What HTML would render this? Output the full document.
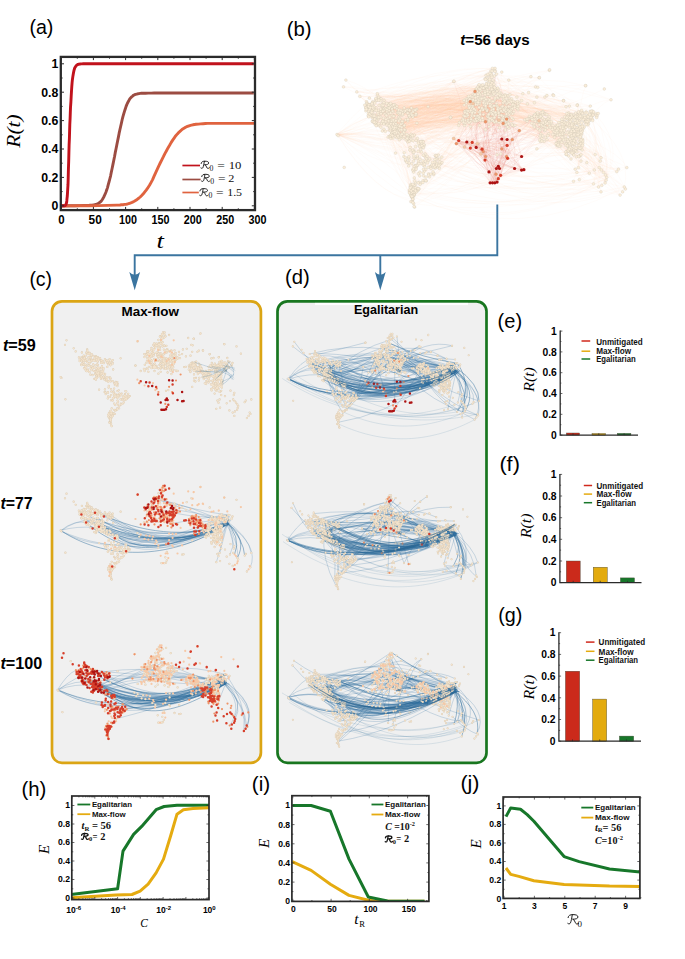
<!DOCTYPE html>
<html><head><meta charset="utf-8"><title>figure</title>
<style>
html,body{margin:0;padding:0;background:#fff;}
body{width:685px;height:959px;overflow:hidden;font-family:"Liberation Sans",sans-serif;}
svg{display:block;}
</style></head><body>
<svg width="685" height="959" viewBox="0 0 685 959">
<rect width="685" height="959" fill="#fff"/>
<text x="29.4" y="33.8" font-family='"Liberation Sans", sans-serif' font-size="20.5" textLength="24" lengthAdjust="spacingAndGlyphs" >(a)</text>
<g id="pa">
<path d="M61.2 205.8 L65.8 205.8 L70.4 205.7 L75 205.7 L79.6 205.6 L84.2 205.5 L88.8 205.4 L89.9 205.3 L91.1 205.2 L92.3 205.1 L93.4 204.9 L94.6 204.7 L95.8 204.4 L96.6 204.2 L97.3 203.9 L98.1 203.5 L98.9 203 L99.7 202.5 L100.4 201.9 L101.2 201.1 L102 200.1 L102.8 198.8 L103.6 197.4 L104.3 195.8 L105.1 194.2 L105.9 192.3 L106.7 190.1 L107.5 187.6 L108.2 184.8 L109 182 L109.8 179 L110.6 175.8 L111.3 172.2 L112.1 168.5 L112.9 164.6 L113.7 160.7 L114.5 156.8 L115.2 152.9 L116 149 L116.8 145 L117.6 141 L118.4 137.1 L119.1 133.4 L119.9 129.8 L120.7 126.3 L121.5 122.8 L122.2 119.5 L123 116.4 L123.8 113.6 L124.4 111.6 L125 109.8 L125.6 108 L126.1 106.4 L126.7 104.9 L127.3 103.5 L127.9 102.3 L128.5 101.2 L129.1 100.1 L129.6 99.2 L130.2 98.4 L130.8 97.7 L131.6 96.9 L132.4 96.3 L133.1 95.6 L133.9 95.1 L134.7 94.7 L135.5 94.4 L136.7 94.1 L137.8 93.8 L139 93.6 L140.2 93.4 L141.3 93.3 L142.5 93.3 L145.4 93.2 L148.3 93.1 L151.2 93.1 L154.2 93 L157.1 93 L160 93 L175.6 93 L191.3 93 L206.9 93 L222.5 93 L238.2 93 L253.8 93" fill="none" stroke="#9c4c42" stroke-width="2.9" stroke-linejoin="round" stroke-linecap="butt"/>
<path d="M61.2 206.1 L70.5 205.9 L79.7 205.8 L89 205.7 L98.3 205.6 L107.5 205.4 L116.8 205.1 L118.4 205.1 L119.9 205 L121.5 204.8 L123 204.7 L124.6 204.4 L126.1 204.2 L127.3 204 L128.5 203.7 L129.6 203.3 L130.8 202.9 L132 202.4 L133.1 201.9 L134.3 201.3 L135.5 200.6 L136.7 199.8 L137.8 198.9 L139 198 L140.2 197 L141.7 195.5 L143.3 193.8 L144.8 191.9 L146.4 189.9 L147.9 187.7 L149.5 185.3 L151 182.6 L152.6 179.6 L154.1 176.2 L155.6 172.8 L157.2 169.4 L158.7 166.1 L160.2 163 L161.8 159.8 L163.4 156.7 L164.9 153.6 L166.5 150.7 L168 147.9 L169.6 145.3 L171.1 142.6 L172.7 140.1 L174.3 137.8 L175.8 135.7 L177.4 133.9 L178.9 132.3 L180.5 130.9 L182 129.5 L183.6 128.4 L185.2 127.4 L186.7 126.7 L188.3 126.1 L189.8 125.6 L191.4 125.2 L192.9 124.8 L194.5 124.5 L196.1 124.3 L198.4 124.1 L200.7 123.9 L203.1 123.7 L205.4 123.5 L207.7 123.4 L210.1 123.4 L217.5 123.4 L224.9 123.4 L232.3 123.4 L239.7 123.4 L247.1 123.4 L254.5 123.4" fill="none" stroke="#e0633f" stroke-width="2.9" stroke-linejoin="round" stroke-linecap="butt"/>
<path d="M61.2 205.8 L61.8 205.8 L62.4 205.8 L63.1 205.8 L63.7 205.7 L64.3 205.7 L64.9 205.6 L65.2 205.5 L65.4 205.3 L65.6 205 L65.9 204.6 L66.1 204.1 L66.3 203.5 L66.6 202.5 L66.8 200.9 L67 198.7 L67.3 196 L67.5 192.9 L67.7 189.5 L68 184.7 L68.2 177.8 L68.4 169.7 L68.7 161.1 L68.9 152.6 L69.1 145.1 L69.4 138.3 L69.6 131.4 L69.8 124.8 L70.1 118.5 L70.3 112.7 L70.5 107.7 L70.9 101.8 L71.2 96.1 L71.5 91 L71.8 86.4 L72.1 82.6 L72.4 79.7 L72.8 76.9 L73.2 74.4 L73.6 72.2 L74 70.4 L74.4 69 L74.7 68 L75.3 67 L75.9 66.1 L76.5 65.4 L77.1 64.9 L77.7 64.5 L78.3 64.3 L79.2 64.2 L80.2 64 L81.2 63.9 L82.1 63.9 L83.1 63.8 L84.1 63.8 L96.7 63.8 L109.4 63.8 L122.1 63.8 L134.7 63.8 L147.4 63.8 L160 63.8 L175.6 63.8 L191.3 63.8 L206.9 63.8 L222.5 63.8 L238.2 63.8 L253.8 63.8" fill="none" stroke="#c1121c" stroke-width="2.9" stroke-linejoin="round" stroke-linecap="butt"/>
<rect x="60.8" y="56.9" width="194.2" height="153.2" fill="none" stroke="#2b2b2b" stroke-width="2.3"/>
<path d="M61.2 210.1v-3.2 M61.2 56.9v3.2 M77.3 210.1v-1.8 M77.3 56.9v1.8 M93.4 210.1v-3.2 M93.4 56.9v3.2 M109.5 210.1v-1.8 M109.5 56.9v1.8 M125.6 210.1v-3.2 M125.6 56.9v3.2 M141.7 210.1v-1.8 M141.7 56.9v1.8 M157.8 210.1v-3.2 M157.8 56.9v3.2 M173.9 210.1v-1.8 M173.9 56.9v1.8 M190 210.1v-3.2 M190 56.9v3.2 M206.1 210.1v-1.8 M206.1 56.9v1.8 M222.2 210.1v-3.2 M222.2 56.9v3.2 M238.3 210.1v-1.8 M238.3 56.9v1.8 M254.4 210.1v-3.2 M254.4 56.9v3.2 M60.8 205.8h3.2 M255 205.8h-3.2 M60.8 191.6h1.8 M255 191.6h-1.8 M60.8 177.4h3.2 M255 177.4h-3.2 M60.8 163.2h1.8 M255 163.2h-1.8 M60.8 149h3.2 M255 149h-3.2 M60.8 134.8h1.8 M255 134.8h-1.8 M60.8 120.6h3.2 M255 120.6h-3.2 M60.8 106.4h1.8 M255 106.4h-1.8 M60.8 92.2h3.2 M255 92.2h-3.2 M60.8 78h1.8 M255 78h-1.8 M60.8 63.8h3.2 M255 63.8h-3.2" stroke="#2b2b2b" stroke-width="1" fill="none"/>
<text x="58.3" y="210.2" font-family='"Liberation Sans", sans-serif' font-size="12.3" font-weight="bold" text-anchor="end" >0</text>
<text x="58.3" y="181.8" font-family='"Liberation Sans", sans-serif' font-size="12.3" font-weight="bold" text-anchor="end" >0.2</text>
<text x="58.3" y="153.4" font-family='"Liberation Sans", sans-serif' font-size="12.3" font-weight="bold" text-anchor="end" >0.4</text>
<text x="58.3" y="125" font-family='"Liberation Sans", sans-serif' font-size="12.3" font-weight="bold" text-anchor="end" >0.6</text>
<text x="58.3" y="96.6" font-family='"Liberation Sans", sans-serif' font-size="12.3" font-weight="bold" text-anchor="end" >0.8</text>
<text x="58.3" y="68.2" font-family='"Liberation Sans", sans-serif' font-size="12.3" font-weight="bold" text-anchor="end" >1</text>
<text x="61.5" y="224.3" font-family='"Liberation Sans", sans-serif' font-size="12.3" font-weight="bold" text-anchor="middle" textLength="6.4" lengthAdjust="spacingAndGlyphs" >0</text>
<text x="95.2" y="224.3" font-family='"Liberation Sans", sans-serif' font-size="12.3" font-weight="bold" text-anchor="middle" textLength="13.2" lengthAdjust="spacingAndGlyphs" >50</text>
<text x="127.9" y="224.3" font-family='"Liberation Sans", sans-serif' font-size="12.3" font-weight="bold" text-anchor="middle" textLength="18" lengthAdjust="spacingAndGlyphs" >100</text>
<text x="160.6" y="224.3" font-family='"Liberation Sans", sans-serif' font-size="12.3" font-weight="bold" text-anchor="middle" textLength="18" lengthAdjust="spacingAndGlyphs" >150</text>
<text x="192.8" y="224.3" font-family='"Liberation Sans", sans-serif' font-size="12.3" font-weight="bold" text-anchor="middle" textLength="18" lengthAdjust="spacingAndGlyphs" >200</text>
<text x="225.3" y="224.3" font-family='"Liberation Sans", sans-serif' font-size="12.3" font-weight="bold" text-anchor="middle" textLength="18" lengthAdjust="spacingAndGlyphs" >250</text>
<text x="257.5" y="224.3" font-family='"Liberation Sans", sans-serif' font-size="12.3" font-weight="bold" text-anchor="middle" textLength="18" lengthAdjust="spacingAndGlyphs" >300</text>
<text x="160.3" y="248" font-family='"Liberation Serif", serif' font-size="22" font-style="italic" text-anchor="middle" textLength="7.4" lengthAdjust="spacingAndGlyphs" >t</text>
<text x="20" y="131" font-family='"Liberation Serif", serif' font-size="18" font-style="italic" text-anchor="middle" textLength="33.5" lengthAdjust="spacingAndGlyphs" transform="rotate(-90 20 131)" >R(t)</text>
<path d="M182.4 165.5H200" stroke="#c1121c" stroke-width="1.7"/>
<path transform="translate(200.6 168.5) scale(1.014)" d="M0.5 -4.9C0.6 -6.6 2.2 -7.2 4.2 -7.2C6.6 -7.2 8 -6.6 8 -5.4C8 -4.2 6.4 -3.7 4.2 -3.7M3.7 -7.1C3.3 -4.5 2.9 -2.2 2.3 -0.9C1.9 -0.1 1 0.1 0.3 -0.5M4.2 -3.7C5.4 -3.4 5.6 -1.6 6.4 -0.5C6.9 0.1 7.8 0.1 8.6 -0.7" fill="none" stroke="#111" stroke-width="0.89" stroke-linecap="round" stroke-linejoin="round"/>
<text x="209.6" y="170.9" font-family='"Liberation Serif", serif' font-size="7.8" fill="#111" >0</text>
<text x="217.3" y="168.5" font-family='"Liberation Serif", serif' font-size="11" fill="#111" textLength="7.6" lengthAdjust="spacingAndGlyphs" >=</text>
<text x="228.7" y="168.5" font-family='"Liberation Serif", serif' font-size="10.8" fill="#111" textLength="12.7" lengthAdjust="spacingAndGlyphs" >10</text>
<path d="M182.4 179.5H200.6" stroke="#9c4c42" stroke-width="1.7"/>
<path transform="translate(201.2 181.6) scale(1.014)" d="M0.5 -4.9C0.6 -6.6 2.2 -7.2 4.2 -7.2C6.6 -7.2 8 -6.6 8 -5.4C8 -4.2 6.4 -3.7 4.2 -3.7M3.7 -7.1C3.3 -4.5 2.9 -2.2 2.3 -0.9C1.9 -0.1 1 0.1 0.3 -0.5M4.2 -3.7C5.4 -3.4 5.6 -1.6 6.4 -0.5C6.9 0.1 7.8 0.1 8.6 -0.7" fill="none" stroke="#111" stroke-width="0.89" stroke-linecap="round" stroke-linejoin="round"/>
<text x="210.2" y="184" font-family='"Liberation Serif", serif' font-size="7.8" fill="#111" >0</text>
<text x="217.9" y="181.6" font-family='"Liberation Serif", serif' font-size="11" fill="#111" textLength="7.6" lengthAdjust="spacingAndGlyphs" >=</text>
<text x="228.2" y="181.6" font-family='"Liberation Serif", serif' font-size="10.8" fill="#111" textLength="6.1" lengthAdjust="spacingAndGlyphs" >2</text>
<path d="M182.4 192.5H198.8" stroke="#e0633f" stroke-width="1.7"/>
<path transform="translate(199.4 195.9) scale(1.014)" d="M0.5 -4.9C0.6 -6.6 2.2 -7.2 4.2 -7.2C6.6 -7.2 8 -6.6 8 -5.4C8 -4.2 6.4 -3.7 4.2 -3.7M3.7 -7.1C3.3 -4.5 2.9 -2.2 2.3 -0.9C1.9 -0.1 1 0.1 0.3 -0.5M4.2 -3.7C5.4 -3.4 5.6 -1.6 6.4 -0.5C6.9 0.1 7.8 0.1 8.6 -0.7" fill="none" stroke="#111" stroke-width="0.89" stroke-linecap="round" stroke-linejoin="round"/>
<text x="208.4" y="198.3" font-family='"Liberation Serif", serif' font-size="7.8" fill="#111" >0</text>
<text x="216.1" y="195.9" font-family='"Liberation Serif", serif' font-size="11" fill="#111" textLength="7.6" lengthAdjust="spacingAndGlyphs" >=</text>
<text x="227.2" y="195.9" font-family='"Liberation Serif", serif' font-size="10.8" fill="#111" textLength="14.9" lengthAdjust="spacingAndGlyphs" >1.5</text>
</g>
<g id="arrows">
<path d="M497.3 204.5V255.2H134.7V276" fill="none" stroke="#3b75a0" stroke-width="1.9" stroke-linejoin="miter"/>
<path d="M380.3 255.2V276" fill="none" stroke="#3b75a0" stroke-width="1.9"/>
<path d="M134.7 290.3L129.3 272Q134.7 277.5 140.1 272Z" fill="#3b75a0"/>
<path d="M380.3 290.3L374.9 272Q380.3 277.5 385.7 272Z" fill="#3b75a0"/>
</g>
<text x="286.8" y="35.8" font-family='"Liberation Sans", sans-serif' font-size="20.5" textLength="24.8" lengthAdjust="spacingAndGlyphs" >(b)</text>
<text x="29.4" y="285.8" font-family='"Liberation Sans", sans-serif' font-size="20.5" textLength="22.7" lengthAdjust="spacingAndGlyphs" >(c)</text>
<text x="285" y="283.5" font-family='"Liberation Sans", sans-serif' font-size="20.5" textLength="24.7" lengthAdjust="spacingAndGlyphs" >(d)</text>
<rect x="52.0" y="301.3" width="208.9" height="461.5" rx="10" ry="10" fill="#f0f0f0" stroke="#dba514" stroke-width="2.7"/>
<rect x="277.5" y="301.3" width="209.0" height="461.5" rx="10" ry="10" fill="#f0f0f0" stroke="#18761f" stroke-width="2.7"/>
<text x="150.2" y="315.7" font-family='"Liberation Sans", sans-serif' font-size="12.4" font-weight="bold" text-anchor="middle" textLength="57.4" lengthAdjust="spacingAndGlyphs" >Max-flow</text>
<rect x="315" y="302.9" width="153" height="2.2" fill="#fff" opacity="0.9"/>
<text x="386" y="313.8" font-family='"Liberation Sans", sans-serif' font-size="12.2" font-weight="bold" text-anchor="middle" textLength="64.2" lengthAdjust="spacingAndGlyphs" >Egalitarian</text>
<text x="460.3" y="44.7" font-family='"Liberation Sans", sans-serif' font-size="15" font-weight="bold" textLength="69.4" lengthAdjust="spacingAndGlyphs"><tspan font-style="italic">t</tspan>=56 days</text>
<text x="2.9" y="351" font-family='"Liberation Sans", sans-serif' font-size="16" font-weight="bold" textLength="32.8" lengthAdjust="spacingAndGlyphs"><tspan font-style="italic">t</tspan>=59</text>
<text x="0.5" y="508.6" font-family='"Liberation Sans", sans-serif' font-size="16" font-weight="bold" textLength="32.2" lengthAdjust="spacingAndGlyphs"><tspan font-style="italic">t</tspan>=77</text>
<text x="0.5" y="668.8" font-family='"Liberation Sans", sans-serif' font-size="16" font-weight="bold" textLength="41.8" lengthAdjust="spacingAndGlyphs"><tspan font-style="italic">t</tspan>=100</text>
<text x="497.6" y="327.6" font-family='"Liberation Sans", sans-serif' font-size="20.5" textLength="24.5" lengthAdjust="spacingAndGlyphs" >(e)</text>
<g>
<rect x="566.4" y="433" width="13.1" height="2.1" fill="#cb2a1b" stroke="#4a4a3a" stroke-width="0.4"/>
<rect x="592" y="433.5" width="13.6" height="1.6" fill="#e3ab0e" stroke="#4a4a3a" stroke-width="0.4"/>
<rect x="617.3" y="433.4" width="13.6" height="1.7" fill="#17772a" stroke="#4a4a3a" stroke-width="0.4"/>
<path d="M560.2 330.6V435.1H638" fill="none" stroke="#2b2b2b" stroke-width="1.3"/>
<path d="M560.2 435.1h2.2 M560.2 424.7h1.2 M560.2 414.3h2.2 M560.2 403.9h1.2 M560.2 393.5h2.2 M560.2 383.1h1.2 M560.2 372.7h2.2 M560.2 362.3h1.2 M560.2 351.9h2.2 M560.2 341.5h1.2 M560.2 331.1h2.2 M573 435.1v-1.8 M598.8 435.1v-1.8 M624.1 435.1v-1.8" stroke="#2b2b2b" stroke-width="0.7" fill="none"/>
<text x="556.8" y="438.8" font-family='"Liberation Sans", sans-serif' font-size="10.3" font-weight="bold" text-anchor="end" >0</text>
<text x="556.8" y="418" font-family='"Liberation Sans", sans-serif' font-size="10.3" font-weight="bold" text-anchor="end" >0.2</text>
<text x="556.8" y="397.2" font-family='"Liberation Sans", sans-serif' font-size="10.3" font-weight="bold" text-anchor="end" >0.4</text>
<text x="556.8" y="376.4" font-family='"Liberation Sans", sans-serif' font-size="10.3" font-weight="bold" text-anchor="end" >0.6</text>
<text x="556.8" y="355.6" font-family='"Liberation Sans", sans-serif' font-size="10.3" font-weight="bold" text-anchor="end" >0.8</text>
<text x="556.8" y="334.8" font-family='"Liberation Sans", sans-serif' font-size="10.3" font-weight="bold" text-anchor="end" >1</text>
<text x="534.3" y="379.4" font-family='"Liberation Serif", serif' font-size="15.5" font-style="italic" text-anchor="middle" textLength="24.6" lengthAdjust="spacingAndGlyphs" transform="rotate(-90 534.3 379.4)" >R(t)</text>
<path d="M581.5 341H590.2" stroke="#d0281c" stroke-width="1.5"/>
<text x="596.2" y="345.1" font-family='"Liberation Sans", sans-serif' font-size="9.3" font-weight="bold" fill="#111" textLength="46.6" lengthAdjust="spacingAndGlyphs" >Unmitigated</text>
<path d="M581.5 351.2H590.2" stroke="#e5ab10" stroke-width="1.5"/>
<text x="596.2" y="354.4" font-family='"Liberation Sans", sans-serif' font-size="9.3" font-weight="bold" fill="#111" textLength="35" lengthAdjust="spacingAndGlyphs" >Max-flow</text>
<path d="M581.5 359H590.2" stroke="#17772a" stroke-width="1.5"/>
<text x="596.2" y="362.2" font-family='"Liberation Sans", sans-serif' font-size="9.3" font-weight="bold" fill="#111" textLength="39.5" lengthAdjust="spacingAndGlyphs" >Egalitarian</text>
</g>
<text x="499.4" y="471.1" font-family='"Liberation Sans", sans-serif' font-size="20.5" textLength="20.5" lengthAdjust="spacingAndGlyphs" >(f)</text>
<g>
<rect x="566.3" y="561" width="13.9" height="21.6" fill="#cb2a1b" stroke="#4a4a3a" stroke-width="0.4"/>
<rect x="593.2" y="567.2" width="14.1" height="15.4" fill="#e3ab0e" stroke="#4a4a3a" stroke-width="0.4"/>
<rect x="620.4" y="577.9" width="14.1" height="4.7" fill="#17772a" stroke="#4a4a3a" stroke-width="0.4"/>
<path d="M559.9 473.9V582.6H641.5" fill="none" stroke="#2b2b2b" stroke-width="1.3"/>
<path d="M559.9 582.6h2.2 M559.9 571.8h1.2 M559.9 561h2.2 M559.9 550.1h1.2 M559.9 539.3h2.2 M559.9 528.5h1.2 M559.9 517.7h2.2 M559.9 506.9h1.2 M559.9 496h2.2 M559.9 485.2h1.2 M559.9 474.4h2.2 M573.2 582.6v-1.8 M600.2 582.6v-1.8 M627.5 582.6v-1.8" stroke="#2b2b2b" stroke-width="0.7" fill="none"/>
<text x="556.5" y="586.3" font-family='"Liberation Sans", sans-serif' font-size="10.3" font-weight="bold" text-anchor="end" >0</text>
<text x="556.5" y="564.7" font-family='"Liberation Sans", sans-serif' font-size="10.3" font-weight="bold" text-anchor="end" >0.2</text>
<text x="556.5" y="543" font-family='"Liberation Sans", sans-serif' font-size="10.3" font-weight="bold" text-anchor="end" >0.4</text>
<text x="556.5" y="521.4" font-family='"Liberation Sans", sans-serif' font-size="10.3" font-weight="bold" text-anchor="end" >0.6</text>
<text x="556.5" y="499.7" font-family='"Liberation Sans", sans-serif' font-size="10.3" font-weight="bold" text-anchor="end" >0.8</text>
<text x="556.5" y="478.1" font-family='"Liberation Sans", sans-serif' font-size="10.3" font-weight="bold" text-anchor="end" >1</text>
<text x="531.3" y="525.8" font-family='"Liberation Serif", serif' font-size="15.5" font-style="italic" text-anchor="middle" textLength="24.6" lengthAdjust="spacingAndGlyphs" transform="rotate(-90 531.3 525.8)" >R(t)</text>
<path d="M583.8 485.5H592.1" stroke="#d0281c" stroke-width="1.5"/>
<text x="596.5" y="488.7" font-family='"Liberation Sans", sans-serif' font-size="9.3" font-weight="bold" fill="#111" textLength="46.6" lengthAdjust="spacingAndGlyphs" >Unmitigated</text>
<path d="M583.8 494.1H592.1" stroke="#e5ab10" stroke-width="1.5"/>
<text x="596.5" y="497.3" font-family='"Liberation Sans", sans-serif' font-size="9.3" font-weight="bold" fill="#111" textLength="35" lengthAdjust="spacingAndGlyphs" >Max-flow</text>
<path d="M583.8 502.7H592.1" stroke="#17772a" stroke-width="1.5"/>
<text x="596.5" y="505.9" font-family='"Liberation Sans", sans-serif' font-size="9.3" font-weight="bold" fill="#111" textLength="39.5" lengthAdjust="spacingAndGlyphs" >Egalitarian</text>
</g>
<text x="498.2" y="622.3" font-family='"Liberation Sans", sans-serif' font-size="20.5" textLength="24.1" lengthAdjust="spacingAndGlyphs" >(g)</text>
<g>
<rect x="565.4" y="671.2" width="14.3" height="70" fill="#cb2a1b" stroke="#4a4a3a" stroke-width="0.4"/>
<rect x="592.6" y="699.1" width="14.1" height="42.1" fill="#e3ab0e" stroke="#4a4a3a" stroke-width="0.4"/>
<rect x="619.4" y="736.1" width="14.3" height="5.1" fill="#17772a" stroke="#4a4a3a" stroke-width="0.4"/>
<path d="M558.9 632.2V741.2H641" fill="none" stroke="#2b2b2b" stroke-width="1.3"/>
<path d="M558.9 741.2h2.2 M558.9 730.4h1.2 M558.9 719.5h2.2 M558.9 708.7h1.2 M558.9 697.8h2.2 M558.9 687h1.2 M558.9 676.1h2.2 M558.9 665.2h1.2 M558.9 654.4h2.2 M558.9 643.6h1.2 M558.9 632.7h2.2 M572.5 741.2v-1.8 M599.7 741.2v-1.8 M626.5 741.2v-1.8" stroke="#2b2b2b" stroke-width="0.7" fill="none"/>
<text x="555.5" y="744.9" font-family='"Liberation Sans", sans-serif' font-size="10.3" font-weight="bold" text-anchor="end" >0</text>
<text x="555.5" y="723.2" font-family='"Liberation Sans", sans-serif' font-size="10.3" font-weight="bold" text-anchor="end" >0.2</text>
<text x="555.5" y="701.5" font-family='"Liberation Sans", sans-serif' font-size="10.3" font-weight="bold" text-anchor="end" >0.4</text>
<text x="555.5" y="679.8" font-family='"Liberation Sans", sans-serif' font-size="10.3" font-weight="bold" text-anchor="end" >0.6</text>
<text x="555.5" y="658.1" font-family='"Liberation Sans", sans-serif' font-size="10.3" font-weight="bold" text-anchor="end" >0.8</text>
<text x="555.5" y="636.4" font-family='"Liberation Sans", sans-serif' font-size="10.3" font-weight="bold" text-anchor="end" >1</text>
<text x="533.6" y="687.1" font-family='"Liberation Serif", serif' font-size="15.5" font-style="italic" text-anchor="middle" textLength="24.6" lengthAdjust="spacingAndGlyphs" transform="rotate(-90 533.6 687.1)" >R(t)</text>
<path d="M585.9 642.1H594.5" stroke="#d0281c" stroke-width="1.5"/>
<text x="598.6" y="645.3" font-family='"Liberation Sans", sans-serif' font-size="9.3" font-weight="bold" fill="#111" textLength="46.6" lengthAdjust="spacingAndGlyphs" >Unmitigated</text>
<path d="M585.9 651.3H594.5" stroke="#e5ab10" stroke-width="1.5"/>
<text x="598.6" y="654.5" font-family='"Liberation Sans", sans-serif' font-size="9.3" font-weight="bold" fill="#111" textLength="35" lengthAdjust="spacingAndGlyphs" >Max-flow</text>
<path d="M585.9 660.2H594.5" stroke="#17772a" stroke-width="1.5"/>
<text x="598.6" y="663.4" font-family='"Liberation Sans", sans-serif' font-size="9.3" font-weight="bold" fill="#111" textLength="39.5" lengthAdjust="spacingAndGlyphs" >Egalitarian</text>
</g>
<text x="21.5" y="795.8" font-family='"Liberation Sans", sans-serif' font-size="20.5" textLength="24.9" lengthAdjust="spacingAndGlyphs" >(h)</text>
<g>
<clipPath id="cph"><rect x="71.8" y="796" width="137.2" height="103.6"/></clipPath>
<path d="M71 894.5 L117.6 888.7 L123 851.1 L133.6 834.4 L141.7 826.4 L156.1 809.7 L164.1 806.5 L177 805.2 L209.7 805.2" fill="none" stroke="#17772a" stroke-width="3.0" stroke-linejoin="round" clip-path="url(#cph)" stroke-linecap="butt"/>
<path d="M71 897.7 L116 895.1 L132 894.5 L140.1 891.2 L148.1 884.2 L156.1 872.9 L163.5 859.1 L170.6 836 L177 814.2 L183.4 809.7 L193 808.4 L209.7 807.8" fill="none" stroke="#e5ab10" stroke-width="3.0" stroke-linejoin="round" clip-path="url(#cph)" stroke-linecap="butt"/>
<rect x="71.8" y="796" width="137.2" height="103.6" fill="none" stroke="#2b2b2b" stroke-width="1.7"/>
<path d="M71.8 898h2.6 M209 898h-2.6 M71.8 888.8h1.5 M209 888.8h-1.5 M71.8 879.5h2.6 M209 879.5h-2.6 M71.8 870.2h1.5 M209 870.2h-1.5 M71.8 861h2.6 M209 861h-2.6 M71.8 851.8h1.5 M209 851.8h-1.5 M71.8 842.5h2.6 M209 842.5h-2.6 M71.8 833.2h1.5 M209 833.2h-1.5 M71.8 824h2.6 M209 824h-2.6 M71.8 814.8h1.5 M209 814.8h-1.5 M71.8 805.5h2.6 M209 805.5h-2.6 M72 899.6v-2.6 M72 796v2.6 M78.9 899.6v-1.4 M78.9 796v1.4 M82.9 899.6v-1.4 M82.9 796v1.4 M85.7 899.6v-1.4 M85.7 796v1.4 M87.9 899.6v-1.4 M87.9 796v1.4 M89.7 899.6v-1.4 M89.7 796v1.4 M91.3 899.6v-1.4 M91.3 796v1.4 M92.6 899.6v-1.4 M92.6 796v1.4 M93.7 899.6v-1.4 M93.7 796v1.4 M94.8 899.6v-2.6 M94.8 796v2.6 M101.6 899.6v-1.4 M101.6 796v1.4 M105.6 899.6v-1.4 M105.6 796v1.4 M108.5 899.6v-1.4 M108.5 796v1.4 M110.7 899.6v-1.4 M110.7 796v1.4 M112.5 899.6v-1.4 M112.5 796v1.4 M114 899.6v-1.4 M114 796v1.4 M115.4 899.6v-1.4 M115.4 796v1.4 M116.5 899.6v-1.4 M116.5 796v1.4 M117.6 899.6v-2.6 M117.6 796v2.6 M124.4 899.6v-1.4 M124.4 796v1.4 M128.4 899.6v-1.4 M128.4 796v1.4 M131.3 899.6v-1.4 M131.3 796v1.4 M133.5 899.6v-1.4 M133.5 796v1.4 M135.3 899.6v-1.4 M135.3 796v1.4 M136.8 899.6v-1.4 M136.8 796v1.4 M138.1 899.6v-1.4 M138.1 796v1.4 M139.3 899.6v-1.4 M139.3 796v1.4 M140.3 899.6v-2.6 M140.3 796v2.6 M147.2 899.6v-1.4 M147.2 796v1.4 M151.2 899.6v-1.4 M151.2 796v1.4 M154.1 899.6v-1.4 M154.1 796v1.4 M156.3 899.6v-1.4 M156.3 796v1.4 M158.1 899.6v-1.4 M158.1 796v1.4 M159.6 899.6v-1.4 M159.6 796v1.4 M160.9 899.6v-1.4 M160.9 796v1.4 M162.1 899.6v-1.4 M162.1 796v1.4 M163.1 899.6v-2.6 M163.1 796v2.6 M170 899.6v-1.4 M170 796v1.4 M174 899.6v-1.4 M174 796v1.4 M176.8 899.6v-1.4 M176.8 796v1.4 M179 899.6v-1.4 M179 796v1.4 M180.8 899.6v-1.4 M180.8 796v1.4 M182.4 899.6v-1.4 M182.4 796v1.4 M183.7 899.6v-1.4 M183.7 796v1.4 M184.9 899.6v-1.4 M184.9 796v1.4 M185.9 899.6v-2.6 M185.9 796v2.6 M192.8 899.6v-1.4 M192.8 796v1.4 M196.8 899.6v-1.4 M196.8 796v1.4 M199.6 899.6v-1.4 M199.6 796v1.4 M201.8 899.6v-1.4 M201.8 796v1.4 M203.6 899.6v-1.4 M203.6 796v1.4 M205.2 899.6v-1.4 M205.2 796v1.4 M206.5 899.6v-1.4 M206.5 796v1.4 M207.6 899.6v-1.4 M207.6 796v1.4 M208.7 899.6v-2.6 M208.7 796v2.6" stroke="#2b2b2b" stroke-width="0.7" fill="none"/>
<text x="70" y="900.9" font-family='"Liberation Sans", sans-serif' font-size="8.6" font-weight="bold" text-anchor="end" >0</text>
<text x="70" y="882.4" font-family='"Liberation Sans", sans-serif' font-size="8.6" font-weight="bold" text-anchor="end" >0.2</text>
<text x="70" y="863.9" font-family='"Liberation Sans", sans-serif' font-size="8.6" font-weight="bold" text-anchor="end" >0.4</text>
<text x="70" y="845.4" font-family='"Liberation Sans", sans-serif' font-size="8.6" font-weight="bold" text-anchor="end" >0.6</text>
<text x="70" y="826.9" font-family='"Liberation Sans", sans-serif' font-size="8.6" font-weight="bold" text-anchor="end" >0.8</text>
<text x="70" y="808.4" font-family='"Liberation Sans", sans-serif' font-size="8.6" font-weight="bold" text-anchor="end" >1</text>
<text x="73.6" y="912.9" font-family='"Liberation Sans", sans-serif' font-size="8.5" font-weight="bold" text-anchor="middle">10<tspan font-size="6" dy="-3.4">-6</tspan></text>
<text x="118.2" y="912.9" font-family='"Liberation Sans", sans-serif' font-size="8.5" font-weight="bold" text-anchor="middle">10<tspan font-size="6" dy="-3.4">-4</tspan></text>
<text x="163.6" y="912.9" font-family='"Liberation Sans", sans-serif' font-size="8.5" font-weight="bold" text-anchor="middle">10<tspan font-size="6" dy="-3.4">-2</tspan></text>
<text x="209.3" y="912.9" font-family='"Liberation Sans", sans-serif' font-size="8.5" font-weight="bold" text-anchor="middle">10<tspan font-size="6" dy="-3.4">0</tspan></text>
<text x="140.3" y="926.5" font-family='"Liberation Serif", serif' font-size="13.2" font-style="italic" textLength="7.6" lengthAdjust="spacingAndGlyphs">C</text>
<text x="48.7" y="849.5" font-family='"Liberation Serif", serif' font-size="15" font-style="italic" text-anchor="middle" transform="rotate(-90 48.7 849.5)" >E</text>
<path d="M77.4 804.5H90.3" stroke="#17772a" stroke-width="1.8"/>
<text x="91.9" y="807.1" font-family='"Liberation Sans", sans-serif' font-size="7.3" font-weight="bold" fill="#111" textLength="40.1" lengthAdjust="spacingAndGlyphs" >Egalitarian</text>
<path d="M77.4 814.2H90.3" stroke="#e5ab10" stroke-width="1.8"/>
<text x="91.9" y="816.8" font-family='"Liberation Sans", sans-serif' font-size="7.3" font-weight="bold" fill="#111" textLength="33.7" lengthAdjust="spacingAndGlyphs" >Max-flow</text>
<text x="81.5" y="829.2" font-family='"Liberation Serif", serif' font-size="9.6" font-weight="bold" fill="#111" textLength="29.6" lengthAdjust="spacingAndGlyphs"><tspan font-style="italic">t</tspan><tspan font-size="6.2" dy="1.6">R</tspan><tspan dy="-1.6"> = 56</tspan></text>
<path transform="translate(81.2 839.5) scale(0.861)" d="M0.5 -4.9C0.6 -6.6 2.2 -7.2 4.2 -7.2C6.6 -7.2 8 -6.6 8 -5.4C8 -4.2 6.4 -3.7 4.2 -3.7M3.7 -7.1C3.3 -4.5 2.9 -2.2 2.3 -0.9C1.9 -0.1 1 0.1 0.3 -0.5M4.2 -3.7C5.4 -3.4 5.6 -1.6 6.4 -0.5C6.9 0.1 7.8 0.1 8.6 -0.7" fill="none" stroke="#111" stroke-width="1.51" stroke-linecap="round" stroke-linejoin="round"/>
<text x="89" y="841.3" font-family='"Liberation Serif", serif' font-size="6.4" font-weight="bold" fill="#111" >0</text>
<text x="92.4" y="839.5" font-family='"Liberation Serif", serif' font-size="9.4" font-weight="bold" fill="#111" textLength="5" lengthAdjust="spacingAndGlyphs" >=</text>
<text x="100.2" y="839.5" font-family='"Liberation Serif", serif' font-size="9.4" font-weight="bold" fill="#111" textLength="5.2" lengthAdjust="spacingAndGlyphs" >2</text>
</g>
<text x="251.8" y="791.4" font-family='"Liberation Sans", sans-serif' font-size="20.5" textLength="18.4" lengthAdjust="spacingAndGlyphs" >(i)</text>
<g>
<clipPath id="cpi"><rect x="291.9" y="795.7" width="137" height="105.7"/></clipPath>
<path d="M292.2 861.7 L311.1 870.4 L330.4 884.2 L349 895.4 L368.3 900.2 L377.9 901.2 L424.5 901.2" fill="none" stroke="#e5ab10" stroke-width="3.0" stroke-linejoin="round" clip-path="url(#cpi)" stroke-linecap="butt"/>
<path d="M292.2 805.5 L311.1 805.5 L330.4 811.3 L349 859.1 L368.3 897 L387.5 900.9 L424.5 901.2" fill="none" stroke="#17772a" stroke-width="3.0" stroke-linejoin="round" clip-path="url(#cpi)" stroke-linecap="butt"/>
<rect x="291.9" y="795.7" width="137" height="105.7" fill="none" stroke="#2b2b2b" stroke-width="1.7"/>
<path d="M291.9 901.2h2.6 M428.9 901.2h-2.6 M291.9 891.6h1.5 M428.9 891.6h-1.5 M291.9 882.1h2.6 M428.9 882.1h-2.6 M291.9 872.5h1.5 M428.9 872.5h-1.5 M291.9 862.9h2.6 M428.9 862.9h-2.6 M291.9 853.4h1.5 M428.9 853.4h-1.5 M291.9 843.8h2.6 M428.9 843.8h-2.6 M291.9 834.2h1.5 M428.9 834.2h-1.5 M291.9 824.6h2.6 M428.9 824.6h-2.6 M291.9 815.1h1.5 M428.9 815.1h-1.5 M291.9 805.5h2.6 M428.9 805.5h-2.6 M292.8 901.4v-2.6 M292.8 795.7v2.6 M311.9 901.4v-1.4 M311.9 795.7v1.4 M331.1 901.4v-2.6 M331.1 795.7v2.6 M350.2 901.4v-1.4 M350.2 795.7v1.4 M369.3 901.4v-2.6 M369.3 795.7v2.6 M388.4 901.4v-1.4 M388.4 795.7v1.4 M407.6 901.4v-2.6 M407.6 795.7v2.6 M426.7 901.4v-1.4 M426.7 795.7v1.4" stroke="#2b2b2b" stroke-width="0.7" fill="none"/>
<text x="290.1" y="904.1" font-family='"Liberation Sans", sans-serif' font-size="8.6" font-weight="bold" text-anchor="end" >0</text>
<text x="290.1" y="885" font-family='"Liberation Sans", sans-serif' font-size="8.6" font-weight="bold" text-anchor="end" >0.2</text>
<text x="290.1" y="865.8" font-family='"Liberation Sans", sans-serif' font-size="8.6" font-weight="bold" text-anchor="end" >0.4</text>
<text x="290.1" y="846.7" font-family='"Liberation Sans", sans-serif' font-size="8.6" font-weight="bold" text-anchor="end" >0.6</text>
<text x="290.1" y="827.5" font-family='"Liberation Sans", sans-serif' font-size="8.6" font-weight="bold" text-anchor="end" >0.8</text>
<text x="290.1" y="808.4" font-family='"Liberation Sans", sans-serif' font-size="8.6" font-weight="bold" text-anchor="end" >1</text>
<text x="293.4" y="911.8" font-family='"Liberation Sans", sans-serif' font-size="8.5" font-weight="bold" text-anchor="middle">0</text>
<text x="332.1" y="911.8" font-family='"Liberation Sans", sans-serif' font-size="8.5" font-weight="bold" text-anchor="middle">50</text>
<text x="370.5" y="911.8" font-family='"Liberation Sans", sans-serif' font-size="8.5" font-weight="bold" text-anchor="middle">100</text>
<text x="408.8" y="911.8" font-family='"Liberation Sans", sans-serif' font-size="8.5" font-weight="bold" text-anchor="middle">150</text>
<text x="354.3" y="923.8" font-family='"Liberation Serif", serif' font-size="15.5" font-style="italic">t<tspan font-style="normal" font-size="8.6" dy="2.9" dx="0.6">R</tspan></text>
<text x="268.9" y="843.4" font-family='"Liberation Serif", serif' font-size="15" font-style="italic" text-anchor="middle" transform="rotate(-90 268.9 843.4)" >E</text>
<path d="M371.5 804.5H383.4" stroke="#17772a" stroke-width="1.8"/>
<text x="385" y="807.1" font-family='"Liberation Sans", sans-serif' font-size="7.3" font-weight="bold" fill="#111" textLength="40.8" lengthAdjust="spacingAndGlyphs" >Egalitarian</text>
<path d="M371.5 814.5H383.4" stroke="#e5ab10" stroke-width="1.8"/>
<text x="385" y="817.1" font-family='"Liberation Sans", sans-serif' font-size="7.3" font-weight="bold" fill="#111" textLength="35" lengthAdjust="spacingAndGlyphs" >Max-flow</text>
<text x="385.2" y="829.9" font-family='"Liberation Serif", serif' font-size="9.6" font-weight="bold" fill="#111" textLength="29.8" lengthAdjust="spacingAndGlyphs"><tspan font-style="italic">C</tspan> =10<tspan font-size="6.2" dy="-3.6">-2</tspan></text>
<path transform="translate(385 842.1) scale(0.861)" d="M0.5 -4.9C0.6 -6.6 2.2 -7.2 4.2 -7.2C6.6 -7.2 8 -6.6 8 -5.4C8 -4.2 6.4 -3.7 4.2 -3.7M3.7 -7.1C3.3 -4.5 2.9 -2.2 2.3 -0.9C1.9 -0.1 1 0.1 0.3 -0.5M4.2 -3.7C5.4 -3.4 5.6 -1.6 6.4 -0.5C6.9 0.1 7.8 0.1 8.6 -0.7" fill="none" stroke="#111" stroke-width="1.51" stroke-linecap="round" stroke-linejoin="round"/>
<text x="392.8" y="843.9" font-family='"Liberation Serif", serif' font-size="6.4" font-weight="bold" fill="#111" >0</text>
<text x="396.3" y="842.1" font-family='"Liberation Serif", serif' font-size="9.4" font-weight="bold" fill="#111" textLength="5" lengthAdjust="spacingAndGlyphs" >=</text>
<text x="404.1" y="842.1" font-family='"Liberation Serif", serif' font-size="9.4" font-weight="bold" fill="#111" textLength="5.2" lengthAdjust="spacingAndGlyphs" >2</text>
</g>
<text x="460.4" y="789.7" font-family='"Liberation Sans", sans-serif' font-size="20.5" textLength="19.1" lengthAdjust="spacingAndGlyphs" >(j)</text>
<g>
<clipPath id="cpj"><rect x="503.1" y="797" width="136.8" height="101.4"/></clipPath>
<path d="M506 816.6 L510.7 807.9 L520.5 809.3 L527.2 814.6 L533.9 821.3 L564.1 856.6 L579.2 861.6 L609.5 869 L640.7 872" fill="none" stroke="#17772a" stroke-width="3.0" stroke-linejoin="round" clip-path="url(#cpj)" stroke-linecap="butt"/>
<path d="M506 868 L510.7 874.4 L518.8 876.4 L533.9 880.8 L564.1 884.5 L609.5 886.1 L640.7 886.5" fill="none" stroke="#e5ab10" stroke-width="3.0" stroke-linejoin="round" clip-path="url(#cpj)" stroke-linecap="butt"/>
<rect x="503.1" y="797" width="136.8" height="101.4" fill="none" stroke="#2b2b2b" stroke-width="1.7"/>
<path d="M503.1 898.6h2.6 M639.9 898.6h-2.6 M503.1 889.3h1.5 M639.9 889.3h-1.5 M503.1 880.1h2.6 M639.9 880.1h-2.6 M503.1 870.8h1.5 M639.9 870.8h-1.5 M503.1 861.5h2.6 M639.9 861.5h-2.6 M503.1 852.2h1.5 M639.9 852.2h-1.5 M503.1 843h2.6 M639.9 843h-2.6 M503.1 833.7h1.5 M639.9 833.7h-1.5 M503.1 824.4h2.6 M639.9 824.4h-2.6 M503.1 815.2h1.5 M639.9 815.2h-1.5 M503.1 805.9h2.6 M639.9 805.9h-2.6 M504 898.4v-2.6 M504 797v2.6 M519.2 898.4v-1.4 M519.2 797v1.4 M534.4 898.4v-2.6 M534.4 797v2.6 M549.6 898.4v-1.4 M549.6 797v1.4 M564.8 898.4v-2.6 M564.8 797v2.6 M580 898.4v-1.4 M580 797v1.4 M595.2 898.4v-2.6 M595.2 797v2.6 M610.4 898.4v-1.4 M610.4 797v1.4 M625.6 898.4v-2.6 M625.6 797v2.6 M640.8 898.4v-1.4 M640.8 797v1.4" stroke="#2b2b2b" stroke-width="0.7" fill="none"/>
<text x="501.3" y="901.5" font-family='"Liberation Sans", sans-serif' font-size="8.6" font-weight="bold" text-anchor="end" >0</text>
<text x="501.3" y="883" font-family='"Liberation Sans", sans-serif' font-size="8.6" font-weight="bold" text-anchor="end" >0.2</text>
<text x="501.3" y="864.4" font-family='"Liberation Sans", sans-serif' font-size="8.6" font-weight="bold" text-anchor="end" >0.4</text>
<text x="501.3" y="845.9" font-family='"Liberation Sans", sans-serif' font-size="8.6" font-weight="bold" text-anchor="end" >0.6</text>
<text x="501.3" y="827.3" font-family='"Liberation Sans", sans-serif' font-size="8.6" font-weight="bold" text-anchor="end" >0.8</text>
<text x="501.3" y="808.8" font-family='"Liberation Sans", sans-serif' font-size="8.6" font-weight="bold" text-anchor="end" >1</text>
<text x="504" y="908.5" font-family='"Liberation Sans", sans-serif' font-size="8.5" font-weight="bold" text-anchor="middle">1</text>
<text x="534.4" y="908.5" font-family='"Liberation Sans", sans-serif' font-size="8.5" font-weight="bold" text-anchor="middle">3</text>
<text x="564.8" y="908.5" font-family='"Liberation Sans", sans-serif' font-size="8.5" font-weight="bold" text-anchor="middle">5</text>
<text x="595.2" y="908.5" font-family='"Liberation Sans", sans-serif' font-size="8.5" font-weight="bold" text-anchor="middle">7</text>
<text x="625.6" y="908.5" font-family='"Liberation Sans", sans-serif' font-size="8.5" font-weight="bold" text-anchor="middle">9</text>
<path transform="translate(567.4 924.1) scale(1.319)" d="M0.5 -4.9C0.6 -6.6 2.2 -7.2 4.2 -7.2C6.6 -7.2 8 -6.6 8 -5.4C8 -4.2 6.4 -3.7 4.2 -3.7M3.7 -7.1C3.3 -4.5 2.9 -2.2 2.3 -0.9C1.9 -0.1 1 0.1 0.3 -0.5M4.2 -3.7C5.4 -3.4 5.6 -1.6 6.4 -0.5C6.9 0.1 7.8 0.1 8.6 -0.7" fill="none" stroke="#111" stroke-width="0.72" stroke-linecap="round" stroke-linejoin="round"/>
<text x="577.5" y="926.7" font-family='"Liberation Serif", serif' font-size="9.0" fill="#111" >0</text>
<text x="480.8" y="843.8" font-family='"Liberation Serif", serif' font-size="15" font-style="italic" text-anchor="middle" transform="rotate(-90 480.8 843.8)" >E</text>
<path d="M581.3 807.6H593.3" stroke="#17772a" stroke-width="1.8"/>
<text x="595" y="810.2" font-family='"Liberation Sans", sans-serif' font-size="7.3" font-weight="bold" fill="#111" textLength="40.7" lengthAdjust="spacingAndGlyphs" >Egalitarian</text>
<path d="M581.3 817.6H593.3" stroke="#e5ab10" stroke-width="1.8"/>
<text x="595" y="820.2" font-family='"Liberation Sans", sans-serif' font-size="7.3" font-weight="bold" fill="#111" textLength="34.6" lengthAdjust="spacingAndGlyphs" >Max-flow</text>
<text x="594.9" y="830.8" font-family='"Liberation Serif", serif' font-size="9.6" font-weight="bold" fill="#111" textLength="26.6" lengthAdjust="spacingAndGlyphs"><tspan font-style="italic">t</tspan><tspan font-size="6.2" dy="1.6">R</tspan><tspan dy="-1.6">= 56</tspan></text>
<text x="594.9" y="843.5" font-family='"Liberation Serif", serif' font-size="9.6" font-weight="bold" fill="#111" textLength="28" lengthAdjust="spacingAndGlyphs"><tspan font-style="italic">C</tspan>=10<tspan font-size="6.2" dy="-3.6">-2</tspan></text>
</g>
<g id="map_c1" fill="none" stroke-linecap="round">
<path d="M99.7 370.9h0M184.2 367.1h0M81.6 357.1h0M90.5 374.7h0M221.7 373.3h0M94.3 378.8h0M161 363h0M117.8 383.8h0M114.2 403.6h0M221.2 395.1h0M85.8 364.8h0M232.7 412.6h0M147 352.5h0M208.2 378.3h0M147.3 354.3h0M107.8 398.4h0M84.4 365h0M167.3 349.2h0M214.6 393.6h0M108.8 385.9h0M197.9 370.2h0M223.7 365.6h0M109.3 380.8h0M110.7 381.4h0M194.3 364.1h0M218.5 372.4h0M217 388.7h0M157.8 352.3h0M245.8 400.6h0M110 413.7h0M195.4 369.2h0M195.3 365.7h0M155.2 345h0M114.8 384.8h0M146.8 368.3h0M79.6 359h0M169.1 335h0M99.9 359.7h0M106.2 380.7h0M236.5 346.4h0M100.1 374.3h0M89.3 365.4h0M112.7 360.2h0M115.1 405.1h0M206.3 381.1h0M117.4 386h0M229.5 361.8h0M153.4 365.3h0M226.9 363.8h0M162.3 362.5h0M221.3 382.2h0M109.7 416.7h0M159.7 356.2h0M172.2 359.9h0M91.4 355.6h0M99.1 389.7h0M227.8 365.7h0M210.7 366.8h0M116 409.8h0M202.6 377.2h0M117.6 396.4h0M103.2 372.2h0M236 402.7h0M216.6 371.2h0M195.9 363.5h0M218.9 369.2h0M125.5 399.8h0M156.5 352.7h0M144.6 371h0M216 389.3h0M160.3 353.4h0M213.1 366.7h0M154.2 349.2h0M137.5 341.4h0M96.8 368.3h0M117.5 391.1h0M163.9 349.7h0M109.5 377.1h0M203.3 375.1h0M202.8 350.3h0M240.9 353.7h0M111.3 416.7h0M159.5 360.5h0M211.2 388.8h0M111.7 426.2h0M216.2 369.3h0M208.8 379.1h0M152.7 366.5h0M248.6 415.9h0M213.7 376.4h0M176.9 371.2h0M225.7 370.6h0M198 372.4h0M154.1 358.9h0M212.2 375.9h0M196.2 361.6h0M228.8 367.8h0M179 351.8h0M202.2 372.6h0M217 383.7h0M192.8 363.3h0M208 376.1h0M174 363.7h0M200.3 370.1h0M164.5 353.6h0M162.5 346.6h0M113.5 391.5h0M197.4 351.8h0M205.6 375.7h0M140.7 371h0M216.9 385.9h0M218.6 373.8h0M97.7 361.7h0M162.2 358.9h0M111.4 417.8h0M153.5 364.5h0M220.9 383.5h0M111.4 415.9h0M86.5 360.9h0M170.1 355.6h0M158.4 357.8h0M217.1 380.4h0M102.6 370.3h0M82.8 364.3h0M145.8 354.5h0M109.5 412.7h0M169.7 361.8h0M197.8 368.6h0M108.6 387.6h0M147.3 357.9h0M110.3 422.2h0M129.8 396.1h0M198.8 350.7h0M101.1 378.8h0M166.4 359.1h0M173.5 369.8h0M117.3 382.1h0M160.1 349.9h0M126.2 397.1h0M222.8 367h0M200.4 333.8h0M109.4 418.4h0M207.7 372.4h0M118.3 397.2h0M219.6 368.9h0M153.3 345.1h0M171.4 360.1h0M91.7 369h0M97.8 375.6h0M110.5 378.8h0M152.4 367.9h0M155.7 344h0M162.4 360.7h0M111 400.3h0M82.1 363.5h0M219.5 373.7h0M192.6 366.4h0M156.9 360.7h0M218.8 364.2h0M109.6 359.2h0M192.6 362.4h0M173.4 354.5h0M167 362.6h0M220.1 407.7h0M214.9 367.4h0M171.3 350.3h0M170.9 354.7h0M161.9 334.1h0M214.4 376.5h0M153.1 351.6h0M161.2 335.9h0M169.9 365.1h0M238.2 406h0M102.7 360.9h0M105.7 394.1h0M188.9 365.7h0M209.7 354.3h0M144.8 369.5h0M120.9 403.7h0M204.3 375.7h0M211.6 390.4h0M91.5 370.1h0M164.5 334.6h0M190.1 367h0M83.7 356.4h0M213.3 377.2h0M155.8 352.9h0M218 367.5h0M199.1 372.7h0M156 359.2h0M108.2 396.3h0M96 369.9h0M147.8 359.2h0M161.4 338.7h0M66.5 340.3h0M158.9 343h0M95.5 372h0M114.7 413.9h0M224.3 344.2h0M128.2 395.6h0M190.3 369.9h0M100.2 375.1h0M153.3 353.5h0M84.6 359.7h0M97.9 357.1h0M78.9 357.3h0M197.8 374.1h0M182.9 349.5h0M165.2 363.9h0M111.3 391.6h0M99.7 375.9h0M198.9 366.8h0M171.9 370.5h0M160.7 368.6h0M154.1 346.2h0M219.5 364.9h0M119.1 408.3h0M153.7 354.2h0M224.5 370.4h0M162.7 334.3h0M101.3 368h0M96.4 377.2h0M111.4 425.8h0M118.9 395.2h0M237.3 404.4h0M79.6 361.1h0M221 361.9h0M112.1 360.7h0M157 355.7h0M125.1 394h0M104.6 375.6h0M143.9 368.9h0M164.8 346.1h0M104.9 389.5h0M237.7 408h0M212.2 370.1h0M101.9 371.6h0M233.8 395.1h0M80 360.1h0M220.3 372.8h0M215.2 369.6h0M214.2 368.4h0M99.5 372.4h0M85.6 355.8h0M217.6 368.9h0M152.9 355.2h0M65 344.9h0M205.9 370.8h0M162.6 338.4h0M113.2 369.5h0M90.7 368.2h0M163 332.4h0M174.7 354.2h0M85.1 364.7h0M215.1 370.8h0M200.5 333.4h0M222.4 381.4h0M176.3 356.8h0M221.6 360.8h0M162.4 367h0M110 364h0M150 361.7h0M234.3 415.9h0M87.2 349.5h0M151.8 354.1h0M102.2 362.6h0M175.4 355h0M174.5 350.3h0M221.2 390.8h0M114.2 383h0M216.5 390.9h0M195.8 362.2h0M199.6 366.3h0M156.7 367.5h0M199.1 369.6h0M246.9 418.1h0M156.4 366h0M81.2 364.5h0M194.3 365.5h0M91.6 361h0M156.6 343.6h0M169.3 351.4h0M98 364.8h0M151.5 348h0M216.6 377.4h0M206.1 384.1h0M196 366h0M112.3 415.1h0M205.2 374.5h0M193.8 338.7h0M161.3 366.3h0M209.7 380.8h0M108.2 381.7h0M180 358.2h0M220.8 364.9h0M161.4 358h0M153.5 349.9h0M122.5 400.1h0" stroke="#d9c9b1" stroke-width="2.3"/>
<path d="M99.7 370.9h0M184.2 367.1h0M81.6 357.1h0M90.5 374.7h0M221.7 373.3h0M94.3 378.8h0M161 363h0M117.8 383.8h0M114.2 403.6h0M221.2 395.1h0M85.8 364.8h0M232.7 412.6h0M147 352.5h0M208.2 378.3h0M147.3 354.3h0M107.8 398.4h0M84.4 365h0M167.3 349.2h0M214.6 393.6h0M108.8 385.9h0M197.9 370.2h0M223.7 365.6h0M109.3 380.8h0M110.7 381.4h0M194.3 364.1h0M218.5 372.4h0M217 388.7h0M157.8 352.3h0M245.8 400.6h0M110 413.7h0M195.4 369.2h0M195.3 365.7h0M155.2 345h0M114.8 384.8h0M146.8 368.3h0M79.6 359h0M169.1 335h0M99.9 359.7h0M106.2 380.7h0M236.5 346.4h0M100.1 374.3h0M89.3 365.4h0M112.7 360.2h0M115.1 405.1h0M206.3 381.1h0M117.4 386h0M229.5 361.8h0M153.4 365.3h0M226.9 363.8h0M162.3 362.5h0M221.3 382.2h0M109.7 416.7h0M159.7 356.2h0M172.2 359.9h0M91.4 355.6h0M99.1 389.7h0M227.8 365.7h0M210.7 366.8h0M116 409.8h0M202.6 377.2h0M117.6 396.4h0M103.2 372.2h0M236 402.7h0M216.6 371.2h0M195.9 363.5h0M218.9 369.2h0M125.5 399.8h0M156.5 352.7h0M144.6 371h0M216 389.3h0M160.3 353.4h0M213.1 366.7h0M154.2 349.2h0M137.5 341.4h0M96.8 368.3h0M117.5 391.1h0M163.9 349.7h0M109.5 377.1h0M203.3 375.1h0M202.8 350.3h0M240.9 353.7h0M111.3 416.7h0M159.5 360.5h0M211.2 388.8h0M111.7 426.2h0M216.2 369.3h0M208.8 379.1h0M152.7 366.5h0M248.6 415.9h0M213.7 376.4h0M176.9 371.2h0M225.7 370.6h0M198 372.4h0M154.1 358.9h0M212.2 375.9h0M196.2 361.6h0M228.8 367.8h0M179 351.8h0M202.2 372.6h0M217 383.7h0M192.8 363.3h0M208 376.1h0M174 363.7h0M200.3 370.1h0M164.5 353.6h0M162.5 346.6h0M113.5 391.5h0M197.4 351.8h0M205.6 375.7h0M140.7 371h0M216.9 385.9h0M218.6 373.8h0M97.7 361.7h0M162.2 358.9h0M111.4 417.8h0M153.5 364.5h0M220.9 383.5h0M111.4 415.9h0M86.5 360.9h0M170.1 355.6h0M158.4 357.8h0M217.1 380.4h0M102.6 370.3h0M82.8 364.3h0M145.8 354.5h0M109.5 412.7h0M169.7 361.8h0M197.8 368.6h0M108.6 387.6h0M147.3 357.9h0M110.3 422.2h0M129.8 396.1h0M198.8 350.7h0M101.1 378.8h0M166.4 359.1h0M173.5 369.8h0M117.3 382.1h0M160.1 349.9h0M126.2 397.1h0M222.8 367h0M200.4 333.8h0M109.4 418.4h0M207.7 372.4h0M118.3 397.2h0M219.6 368.9h0M153.3 345.1h0M171.4 360.1h0M91.7 369h0M97.8 375.6h0M110.5 378.8h0M152.4 367.9h0M155.7 344h0M162.4 360.7h0M111 400.3h0M82.1 363.5h0M219.5 373.7h0M192.6 366.4h0M156.9 360.7h0M218.8 364.2h0M109.6 359.2h0M192.6 362.4h0M173.4 354.5h0M167 362.6h0M220.1 407.7h0M214.9 367.4h0M171.3 350.3h0M170.9 354.7h0M161.9 334.1h0M214.4 376.5h0M153.1 351.6h0M161.2 335.9h0M169.9 365.1h0M238.2 406h0M102.7 360.9h0M105.7 394.1h0M188.9 365.7h0M209.7 354.3h0M144.8 369.5h0M120.9 403.7h0M204.3 375.7h0M211.6 390.4h0M91.5 370.1h0M164.5 334.6h0M190.1 367h0M83.7 356.4h0M213.3 377.2h0M155.8 352.9h0M218 367.5h0M199.1 372.7h0M156 359.2h0M108.2 396.3h0M96 369.9h0M147.8 359.2h0M161.4 338.7h0M66.5 340.3h0M158.9 343h0M95.5 372h0M114.7 413.9h0M224.3 344.2h0M128.2 395.6h0M190.3 369.9h0M100.2 375.1h0M153.3 353.5h0M84.6 359.7h0M97.9 357.1h0M78.9 357.3h0M197.8 374.1h0M182.9 349.5h0M165.2 363.9h0M111.3 391.6h0M99.7 375.9h0M198.9 366.8h0M171.9 370.5h0M160.7 368.6h0M154.1 346.2h0M219.5 364.9h0M119.1 408.3h0M153.7 354.2h0M224.5 370.4h0M162.7 334.3h0M101.3 368h0M96.4 377.2h0M111.4 425.8h0M118.9 395.2h0M237.3 404.4h0M79.6 361.1h0M221 361.9h0M112.1 360.7h0M157 355.7h0M125.1 394h0M104.6 375.6h0M143.9 368.9h0M164.8 346.1h0M104.9 389.5h0M237.7 408h0M212.2 370.1h0M101.9 371.6h0M233.8 395.1h0M80 360.1h0M220.3 372.8h0M215.2 369.6h0M214.2 368.4h0M99.5 372.4h0M85.6 355.8h0M217.6 368.9h0M152.9 355.2h0M65 344.9h0M205.9 370.8h0M162.6 338.4h0M113.2 369.5h0M90.7 368.2h0M163 332.4h0M174.7 354.2h0M85.1 364.7h0M215.1 370.8h0M200.5 333.4h0M222.4 381.4h0M176.3 356.8h0M221.6 360.8h0M162.4 367h0M110 364h0M150 361.7h0M234.3 415.9h0M87.2 349.5h0M151.8 354.1h0M102.2 362.6h0M175.4 355h0M174.5 350.3h0M221.2 390.8h0M114.2 383h0M216.5 390.9h0M195.8 362.2h0M199.6 366.3h0M156.7 367.5h0M199.1 369.6h0M246.9 418.1h0M156.4 366h0M81.2 364.5h0M194.3 365.5h0M91.6 361h0M156.6 343.6h0M169.3 351.4h0M98 364.8h0M151.5 348h0M216.6 377.4h0M206.1 384.1h0M196 366h0M112.3 415.1h0M205.2 374.5h0M193.8 338.7h0M161.3 366.3h0M209.7 380.8h0M108.2 381.7h0M180 358.2h0M220.8 364.9h0M161.4 358h0M153.5 349.9h0M122.5 400.1h0" stroke="#f3e3cd" stroke-width="1.75"/>
<path d="M223.3 366.3h0M89.5 372.2h0M112.4 364.1h0M97.9 358.6h0M190.5 355.7h0M166.4 345.8h0M116 396.6h0M215.4 365.9h0M159.7 347h0M102 366.2h0M170.9 359.2h0M209.8 370.5h0M193.1 368.6h0M172.3 356.4h0M107.8 392.9h0M84.4 357.8h0M215.2 386.4h0M216 373.6h0M104.6 392.1h0M221.6 365.1h0M205 376.3h0M195.9 371.4h0M107.1 378.9h0M91.7 354.1h0M220.5 378h0M226.1 369.8h0M97.1 358.6h0M216.3 408.8h0M121.7 393.6h0M160.6 354.9h0M165.6 363h0M86.2 352.7h0M151.4 368.1h0M113.3 413.6h0M109.1 363.2h0M101.1 363h0M159.5 364.9h0M149.2 354h0M109.9 417h0M81.4 361.2h0M228.7 366.8h0M88.1 351.8h0M203.8 379h0M185.9 356.4h0M209.7 354.1h0M86.2 367.4h0M95.4 378.7h0M151.5 362.4h0M101.8 367h0M197.9 367.5h0M148.4 371.8h0M88 371h0M118.1 401.9h0M197.1 371.7h0M215.2 388.9h0M158.2 356.5h0M199.3 377.8h0M87.2 350.6h0M215.2 379.5h0M193.6 338.8h0M224.1 368.8h0M172.5 369.9h0M108 392.2h0M107.3 377.8h0M166.7 352.5h0M95.8 374.6h0M163.8 364h0M148.4 354.9h0M85.2 368h0M148.8 358h0M95.9 379.7h0M250.4 413.9h0M164.4 368.8h0M101.3 373.4h0M91.3 366.2h0M146.4 362.9h0M214.2 377.9h0M198.4 368.1h0M205.8 377.7h0M86.1 369h0M149.2 359.2h0M194.3 378.1h0M90.4 358.1h0M191.8 363h0M218.9 357.2h0M125.4 391.2h0M166 390.9h0M206.5 372.6h0M208.6 366.8h0M219.4 375.6h0M215.4 389.7h0M102.7 378.2h0M94.9 360.9h0M166.3 358.2h0M194.9 362.4h0M191.3 344.9h0M125.5 398.3h0M216.8 387.1h0M112.7 363h0M244.7 402.2h0M207.3 380.7h0M98 371h0M61.4 377.9h0M171 367.2h0M164.3 362.7h0M212.8 388.1h0M186.7 348.8h0M98.8 371.3h0M117.5 400.6h0M213.7 367.4h0M171.4 374h0M128.3 397.3h0M88.4 357.4h0M213.9 366.7h0M101.2 362h0M103.9 363.2h0M219.3 363.7h0M160.3 364.6h0M83.9 364.4h0M151.8 356.8h0M205.5 373h0M216.7 365.9h0M224.5 368.3h0M217.8 377.9h0M147.9 353.3h0M86.4 371.2h0M194 374.4h0M162.3 337h0M209 371.7h0M162.1 344.6h0M94.8 357.3h0M96.8 371.3h0M109.7 362.7h0M162.4 354.8h0M172.2 362h0M159.4 344.8h0M168.6 361.3h0M202.3 373.6h0M194 380.7h0M160.7 371.8h0M110.7 416.1h0M83.8 355.6h0M170.2 359.9h0M160.3 343.2h0M135.4 365.6h0M82.1 360.1h0M90 357.3h0M215.2 382.8h0M193.5 367.8h0M150 358.5h0M209.4 375.3h0M85 358.5h0M98.9 373.4h0M163.9 357.7h0M89.3 354.3h0M107.2 362.7h0M149.8 354.7h0M98.3 368.4h0M115.3 393.8h0M172.7 365.7h0M171.5 361.6h0M83.5 362.2h0M75.7 351.4h0M205.9 373.6h0M214.8 363.7h0M95.7 358.5h0M97.3 372.2h0M95.9 373.2h0M225.3 368.5h0M147.5 369.2h0M220.4 391.6h0M112.2 413.1h0M101.9 374.1h0M106.7 377.1h0M165.6 336.3h0M92.6 360h0M111.7 414.4h0M214.1 385.9h0M234.9 411.5h0M162 343.4h0M185.8 366.8h0M88.1 369.7h0M99.3 367.8h0M88.2 365.5h0M201 372.4h0M164.3 365.6h0M110.6 423.1h0M73.7 348.3h0M162.9 363.4h0M127.7 398h0M117.2 408.5h0M196 378h0M229.4 410.4h0M209.2 372.9h0M117.2 395h0M65.4 399.3h0M217.4 400.6h0M97.7 367.3h0M160.4 363.6h0M157.3 354.5h0M173.2 367.2h0M151.8 366.5h0M171.4 351.1h0M225.3 362.6h0M215.7 370.3h0M188.8 369.6h0M123 397.6h0M177.5 357.4h0M104.8 378.4h0M209.8 376.6h0M95.9 378.1h0M104.9 359.1h0M106.8 379.8h0M95 359.3h0M154.8 346.5h0M114.5 396.8h0M166.3 360.1h0M124.1 397.7h0M218.5 389h0M217 372.1h0M93.6 360.3h0M117.2 409.7h0M93.6 370.8h0M158 344.9h0M221 373.9h0M177.5 358.8h0M122 399.3h0M111.1 389.2h0M148.4 351.2h0M110.2 418.8h0M212.3 366.6h0M85.5 366.6h0M110.5 420.8h0M162.6 342.2h0M218.5 402.7h0M170.5 360.7h0M213.5 358h0M174.9 360.9h0M123.5 395.9h0M220 384.5h0M111.2 395.1h0M95.9 356.1h0M208.8 376.9h0M126.2 391.5h0M150.3 353.8h0M84 359h0M220.2 364.4h0M214 380.2h0M117.8 405.1h0M110 419h0M82.7 359h0M117.3 403.2h0M164.3 345.4h0M220.5 380.1h0M97.1 377.8h0M128.2 393.8h0M154.8 363.6h0M192.7 345.3h0M202.8 370.9h0M208.5 382.5h0M212.5 364.9h0M171.9 365.8h0M151.3 350.2h0M105.7 361.2h0M148.9 366.8h0M102.7 377.4h0M216.9 376.7h0M216.8 374.9h0M191.9 365h0M172.2 363.3h0M114.1 409.8h0M220.7 378.7h0M149.6 362.5h0M220.7 372.1h0M231.5 365.7h0M190.5 364.8h0M167.2 367.5h0M200.3 365.1h0M226.7 403.3h0M190.4 372h0M211.9 365.6h0M217.2 367.5h0M90.9 361.5h0M216.2 383h0M208.8 370h0M212.7 381.7h0M203.1 350.7h0M100.8 378h0M110.7 414.2h0M150.8 359.8h0M220.1 365.9h0M105.1 373.9h0M81.6 365.2h0M149.9 357.4h0M98.6 359h0M103.5 376.9h0M158.7 344.6h0" stroke="#d9c9b1" stroke-width="2.3"/>
<path d="M223.3 366.3h0M89.5 372.2h0M112.4 364.1h0M97.9 358.6h0M190.5 355.7h0M166.4 345.8h0M116 396.6h0M215.4 365.9h0M159.7 347h0M102 366.2h0M170.9 359.2h0M209.8 370.5h0M193.1 368.6h0M172.3 356.4h0M107.8 392.9h0M84.4 357.8h0M215.2 386.4h0M216 373.6h0M104.6 392.1h0M221.6 365.1h0M205 376.3h0M195.9 371.4h0M107.1 378.9h0M91.7 354.1h0M220.5 378h0M226.1 369.8h0M97.1 358.6h0M216.3 408.8h0M121.7 393.6h0M160.6 354.9h0M165.6 363h0M86.2 352.7h0M151.4 368.1h0M113.3 413.6h0M109.1 363.2h0M101.1 363h0M159.5 364.9h0M149.2 354h0M109.9 417h0M81.4 361.2h0M228.7 366.8h0M88.1 351.8h0M203.8 379h0M185.9 356.4h0M209.7 354.1h0M86.2 367.4h0M95.4 378.7h0M151.5 362.4h0M101.8 367h0M197.9 367.5h0M148.4 371.8h0M88 371h0M118.1 401.9h0M197.1 371.7h0M215.2 388.9h0M158.2 356.5h0M199.3 377.8h0M87.2 350.6h0M215.2 379.5h0M193.6 338.8h0M224.1 368.8h0M172.5 369.9h0M108 392.2h0M107.3 377.8h0M166.7 352.5h0M95.8 374.6h0M163.8 364h0M148.4 354.9h0M85.2 368h0M148.8 358h0M95.9 379.7h0M250.4 413.9h0M164.4 368.8h0M101.3 373.4h0M91.3 366.2h0M146.4 362.9h0M214.2 377.9h0M198.4 368.1h0M205.8 377.7h0M86.1 369h0M149.2 359.2h0M194.3 378.1h0M90.4 358.1h0M191.8 363h0M218.9 357.2h0M125.4 391.2h0M166 390.9h0M206.5 372.6h0M208.6 366.8h0M219.4 375.6h0M215.4 389.7h0M102.7 378.2h0M94.9 360.9h0M166.3 358.2h0M194.9 362.4h0M191.3 344.9h0M125.5 398.3h0M216.8 387.1h0M112.7 363h0M244.7 402.2h0M207.3 380.7h0M98 371h0M61.4 377.9h0M171 367.2h0M164.3 362.7h0M212.8 388.1h0M186.7 348.8h0M98.8 371.3h0M117.5 400.6h0M213.7 367.4h0M171.4 374h0M128.3 397.3h0M88.4 357.4h0M213.9 366.7h0M101.2 362h0M103.9 363.2h0M219.3 363.7h0M160.3 364.6h0M83.9 364.4h0M151.8 356.8h0M205.5 373h0M216.7 365.9h0M224.5 368.3h0M217.8 377.9h0M147.9 353.3h0M86.4 371.2h0M194 374.4h0M162.3 337h0M209 371.7h0M162.1 344.6h0M94.8 357.3h0M96.8 371.3h0M109.7 362.7h0M162.4 354.8h0M172.2 362h0M159.4 344.8h0M168.6 361.3h0M202.3 373.6h0M194 380.7h0M160.7 371.8h0M110.7 416.1h0M83.8 355.6h0M170.2 359.9h0M160.3 343.2h0M135.4 365.6h0M82.1 360.1h0M90 357.3h0M215.2 382.8h0M193.5 367.8h0M150 358.5h0M209.4 375.3h0M85 358.5h0M98.9 373.4h0M163.9 357.7h0M89.3 354.3h0M107.2 362.7h0M149.8 354.7h0M98.3 368.4h0M115.3 393.8h0M172.7 365.7h0M171.5 361.6h0M83.5 362.2h0M75.7 351.4h0M205.9 373.6h0M214.8 363.7h0M95.7 358.5h0M97.3 372.2h0M95.9 373.2h0M225.3 368.5h0M147.5 369.2h0M220.4 391.6h0M112.2 413.1h0M101.9 374.1h0M106.7 377.1h0M165.6 336.3h0M92.6 360h0M111.7 414.4h0M214.1 385.9h0M234.9 411.5h0M162 343.4h0M185.8 366.8h0M88.1 369.7h0M99.3 367.8h0M88.2 365.5h0M201 372.4h0M164.3 365.6h0M110.6 423.1h0M73.7 348.3h0M162.9 363.4h0M127.7 398h0M117.2 408.5h0M196 378h0M229.4 410.4h0M209.2 372.9h0M117.2 395h0M65.4 399.3h0M217.4 400.6h0M97.7 367.3h0M160.4 363.6h0M157.3 354.5h0M173.2 367.2h0M151.8 366.5h0M171.4 351.1h0M225.3 362.6h0M215.7 370.3h0M188.8 369.6h0M123 397.6h0M177.5 357.4h0M104.8 378.4h0M209.8 376.6h0M95.9 378.1h0M104.9 359.1h0M106.8 379.8h0M95 359.3h0M154.8 346.5h0M114.5 396.8h0M166.3 360.1h0M124.1 397.7h0M218.5 389h0M217 372.1h0M93.6 360.3h0M117.2 409.7h0M93.6 370.8h0M158 344.9h0M221 373.9h0M177.5 358.8h0M122 399.3h0M111.1 389.2h0M148.4 351.2h0M110.2 418.8h0M212.3 366.6h0M85.5 366.6h0M110.5 420.8h0M162.6 342.2h0M218.5 402.7h0M170.5 360.7h0M213.5 358h0M174.9 360.9h0M123.5 395.9h0M220 384.5h0M111.2 395.1h0M95.9 356.1h0M208.8 376.9h0M126.2 391.5h0M150.3 353.8h0M84 359h0M220.2 364.4h0M214 380.2h0M117.8 405.1h0M110 419h0M82.7 359h0M117.3 403.2h0M164.3 345.4h0M220.5 380.1h0M97.1 377.8h0M128.2 393.8h0M154.8 363.6h0M192.7 345.3h0M202.8 370.9h0M208.5 382.5h0M212.5 364.9h0M171.9 365.8h0M151.3 350.2h0M105.7 361.2h0M148.9 366.8h0M102.7 377.4h0M216.9 376.7h0M216.8 374.9h0M191.9 365h0M172.2 363.3h0M114.1 409.8h0M220.7 378.7h0M149.6 362.5h0M220.7 372.1h0M231.5 365.7h0M190.5 364.8h0M167.2 367.5h0M200.3 365.1h0M226.7 403.3h0M190.4 372h0M211.9 365.6h0M217.2 367.5h0M90.9 361.5h0M216.2 383h0M208.8 370h0M212.7 381.7h0M203.1 350.7h0M100.8 378h0M110.7 414.2h0M150.8 359.8h0M220.1 365.9h0M105.1 373.9h0M81.6 365.2h0M149.9 357.4h0M98.6 359h0M103.5 376.9h0M158.7 344.6h0" stroke="#f3e3cd" stroke-width="1.75"/>
<path d="M99.3 369.9h0M164.2 337.6h0M120.9 394.6h0M191.2 368.3h0M210.4 373.8h0M201.2 369.6h0M217.4 387.5h0M112.9 398.2h0M111.7 408.4h0M218.2 365.6h0M182.1 354.1h0M192.7 365h0M104.4 379.5h0M188.2 338h0M120.6 358.3h0M129 396.7h0M103.4 369.8h0M158 347.7h0M108.1 364.3h0M167.8 359.7h0M95.1 374.2h0M84 368.2h0M153.8 366.5h0M164.6 332.4h0M234.3 392.9h0M126.7 399h0M91.3 360h0M173.2 364.1h0M151.8 360.6h0M212.4 380.6h0M97.2 373.8h0M216.2 379.1h0M118.7 390.3h0M163.8 366.2h0M228 361.5h0M217.7 382.1h0M110.7 419.4h0M216.4 388.2h0M83.7 360.7h0M96.7 375.8h0M212.8 385.2h0M150.2 356.3h0M117.3 397.8h0M135.5 365.6h0M196.5 368.2h0M112.7 400.5h0M158.4 339.9h0M94.4 367.9h0M96 357h0M105.6 392.5h0M108.3 416.6h0M96.9 357.6h0M103.5 368.2h0M114.2 394.9h0M87.4 370.2h0M86.4 359.1h0M227.3 358h0M221.9 387.6h0M111.3 411.7h0M221.6 366.1h0M116.4 383h0M221 366.8h0M167.3 364.1h0M161.2 341h0M151.7 355.9h0M119.4 393.6h0M215.6 383.7h0M219.3 385.7h0M179.4 354.8h0M60.7 377.1h0M85.7 370h0M224 362.6h0M218.2 383.3h0M96.8 372.8h0M197 367.1h0M111.6 413.7h0M110.9 413.2h0M214.8 375h0M94.4 358.8h0M113.6 393h0M217.5 369.7h0M110.8 364.3h0M249.7 412.6h0M218.7 378.1h0M163 358.4h0M112.7 381.1h0M210.5 365.2h0M169.5 358.2h0M146.9 361.2h0M113.7 397.9h0M205.4 371.8h0M217.1 378h0M222.3 383.1h0M95.4 365.4h0M176.1 359.6h0M159.6 348.1h0M172.5 360.6h0M206.1 383.1h0M225.9 367.2h0M192.2 351.8h0M87 354h0M108.3 414.6h0M85.6 360.6h0M251.3 399.5h0M110.4 410.8h0M109.3 422.5h0M145.7 355.8h0M106.7 360.5h0M126 396.2h0M165.6 368.3h0M193.4 365.5h0M87.5 362.4h0M153.9 344.1h0M114.1 388.6h0M163.5 367.8h0M221.3 386.1h0M151.1 364.5h0M144.4 357.1h0M100.1 358.2h0M93.5 356h0M211.8 363h0M154.3 365.6h0M222 362.8h0M97.2 361.2h0M225 396.2h0M109.9 396.9h0M96.8 359.7h0M230.5 390.7h0M162.3 366h0M103.7 374.2h0M171.8 358.6h0M169.7 366.3h0M219.6 399.5h0M173 355.9h0M195 370.5h0M97.1 364.4h0M214.9 371.9h0M153.2 367.9h0M217.9 386.3h0M158.6 353.5h0M155.2 347.4h0M231.8 364.5h0M167.3 369.1h0M154.3 367h0M232.5 363h0M89.6 363.1h0M226.2 368.2h0M193.7 370.5h0M215.1 377.8h0M163.3 354.7h0M204.8 383.3h0M237.1 409.9h0M89.7 353h0M190.3 371.3h0M222.2 380.3h0M221.1 377h0M111.1 423.9h0M92.6 368.3h0M110.7 361.8h0M166.1 352.1h0M98.8 376.3h0M115.1 385.2h0M221.2 378.1h0M109.6 415.1h0M124.4 399.5h0M112.1 416.3h0M172.2 366.7h0M108.4 360.7h0M213.5 382.9h0M173.5 362.5h0M158 348.6h0M110.7 420.7h0M215.6 371.8h0M110.3 377.9h0M123.8 402.4h0M225.8 365.2h0M213.9 385h0M230 401.1h0M110.5 365.3h0M81.9 352.5h0M97.7 370h0M217.7 388.2h0M218 377.1h0M170 369.6h0M89.4 360h0M124.8 395.7h0M167.2 365.7h0M126.1 397.9h0M110.5 418.4h0M167.7 350.7h0M160.3 365.5h0M156 345.6h0M218.7 357.3h0M210.1 374.6h0M220.1 363.1h0M192.2 386.9h0M92.9 367h0M125 398.9h0M85.1 368.8h0M219.7 376.4h0M211.4 358.4h0M93.2 364.3h0M200.4 366.8h0M171.8 367.8h0M196.3 369.3h0M217.6 365h0M101.1 376h0M144.3 354.1h0M208.3 374.5h0M209 376.1h0M190.8 363.7h0M175.6 353h0M81.6 358.3h0M211.3 369.6h0M154.2 343.4h0M220.5 386.4h0M158.4 368.4h0M115.8 382h0M112.9 415.8h0M218.1 380.1h0M159.9 336.5h0M219.6 391.9h0M200.1 368.5h0M216.7 381.5h0M168.3 390.1h0M195.4 381.5h0M109 413.1h0M155.6 366.8h0M189 367h0M120.6 399.3h0M98.7 375h0M116.5 384.7h0M115.3 410.9h0M157.1 345.7h0M144.8 364.8h0M219.8 378.5h0M211 384.4h0M204 372.7h0M168.9 364.3h0M90.9 357.4h0M173.6 358.2h0M219.2 377.2h0M213.5 387.1h0M101.2 360.5h0M177.7 370.9h0M154.5 371h0M101.9 377h0M198.7 363.6h0M98.1 373.5h0M233.2 399.5h0M234.6 401.1h0M207.2 377.2h0M107.3 366.9h0M218.7 367.9h0M159.4 361.2h0M155.2 367.5h0M213 365.8h0M121 404.6h0M173.9 355.4h0M221.3 375.7h0M212.2 384.7h0M193.8 364.9h0M198.8 380.5h0M224.2 344.2h0M173.3 360.7h0M221.3 380.9h0M161.1 353.7h0M98.6 372.4h0M174.2 361.4h0M114 413.6h0M215 364.8h0M222.2 384.5h0M92.6 375h0M167.6 372.5h0M95 371.2h0M153.6 355.5h0M122.4 403.9h0M163.6 361.4h0M119.3 405.9h0M166.4 350h0M120.3 396.1h0M194.8 364.8h0M147.2 351.4h0M214 365.7h0M160.8 367.9h0M169.3 367.6h0M201.7 368.5h0M88.2 353.9h0M222.1 371.9h0M158.4 373.7h0M219.5 361.9h0M170.4 370.5h0M176 370.7h0M163.6 360h0M151.8 352.2h0M164.9 362.2h0M103 373.8h0" stroke="#d9c9b1" stroke-width="2.3"/>
<path d="M99.3 369.9h0M164.2 337.6h0M120.9 394.6h0M191.2 368.3h0M210.4 373.8h0M201.2 369.6h0M217.4 387.5h0M112.9 398.2h0M111.7 408.4h0M218.2 365.6h0M182.1 354.1h0M192.7 365h0M104.4 379.5h0M188.2 338h0M120.6 358.3h0M129 396.7h0M103.4 369.8h0M158 347.7h0M108.1 364.3h0M167.8 359.7h0M95.1 374.2h0M84 368.2h0M153.8 366.5h0M164.6 332.4h0M234.3 392.9h0M126.7 399h0M91.3 360h0M173.2 364.1h0M151.8 360.6h0M212.4 380.6h0M97.2 373.8h0M216.2 379.1h0M118.7 390.3h0M163.8 366.2h0M228 361.5h0M217.7 382.1h0M110.7 419.4h0M216.4 388.2h0M83.7 360.7h0M96.7 375.8h0M212.8 385.2h0M150.2 356.3h0M117.3 397.8h0M135.5 365.6h0M196.5 368.2h0M112.7 400.5h0M158.4 339.9h0M94.4 367.9h0M96 357h0M105.6 392.5h0M108.3 416.6h0M96.9 357.6h0M103.5 368.2h0M114.2 394.9h0M87.4 370.2h0M86.4 359.1h0M227.3 358h0M221.9 387.6h0M111.3 411.7h0M221.6 366.1h0M116.4 383h0M221 366.8h0M167.3 364.1h0M161.2 341h0M151.7 355.9h0M119.4 393.6h0M215.6 383.7h0M219.3 385.7h0M179.4 354.8h0M60.7 377.1h0M85.7 370h0M224 362.6h0M218.2 383.3h0M96.8 372.8h0M197 367.1h0M111.6 413.7h0M110.9 413.2h0M214.8 375h0M94.4 358.8h0M113.6 393h0M217.5 369.7h0M110.8 364.3h0M249.7 412.6h0M218.7 378.1h0M163 358.4h0M112.7 381.1h0M210.5 365.2h0M169.5 358.2h0M146.9 361.2h0M113.7 397.9h0M205.4 371.8h0M217.1 378h0M222.3 383.1h0M95.4 365.4h0M176.1 359.6h0M159.6 348.1h0M172.5 360.6h0M206.1 383.1h0M225.9 367.2h0M192.2 351.8h0M87 354h0M108.3 414.6h0M85.6 360.6h0M251.3 399.5h0M110.4 410.8h0M109.3 422.5h0M145.7 355.8h0M106.7 360.5h0M126 396.2h0M165.6 368.3h0M193.4 365.5h0M87.5 362.4h0M153.9 344.1h0M114.1 388.6h0M163.5 367.8h0M221.3 386.1h0M151.1 364.5h0M144.4 357.1h0M100.1 358.2h0M93.5 356h0M211.8 363h0M154.3 365.6h0M222 362.8h0M97.2 361.2h0M225 396.2h0M109.9 396.9h0M96.8 359.7h0M230.5 390.7h0M162.3 366h0M103.7 374.2h0M171.8 358.6h0M169.7 366.3h0M219.6 399.5h0M173 355.9h0M195 370.5h0M97.1 364.4h0M214.9 371.9h0M153.2 367.9h0M217.9 386.3h0M158.6 353.5h0M155.2 347.4h0M231.8 364.5h0M167.3 369.1h0M154.3 367h0M232.5 363h0M89.6 363.1h0M226.2 368.2h0M193.7 370.5h0M215.1 377.8h0M163.3 354.7h0M204.8 383.3h0M237.1 409.9h0M89.7 353h0M190.3 371.3h0M222.2 380.3h0M221.1 377h0M111.1 423.9h0M92.6 368.3h0M110.7 361.8h0M166.1 352.1h0M98.8 376.3h0M115.1 385.2h0M221.2 378.1h0M109.6 415.1h0M124.4 399.5h0M112.1 416.3h0M172.2 366.7h0M108.4 360.7h0M213.5 382.9h0M173.5 362.5h0M158 348.6h0M110.7 420.7h0M215.6 371.8h0M110.3 377.9h0M123.8 402.4h0M225.8 365.2h0M213.9 385h0M230 401.1h0M110.5 365.3h0M81.9 352.5h0M97.7 370h0M217.7 388.2h0M218 377.1h0M170 369.6h0M89.4 360h0M124.8 395.7h0M167.2 365.7h0M126.1 397.9h0M110.5 418.4h0M167.7 350.7h0M160.3 365.5h0M156 345.6h0M218.7 357.3h0M210.1 374.6h0M220.1 363.1h0M192.2 386.9h0M92.9 367h0M125 398.9h0M85.1 368.8h0M219.7 376.4h0M211.4 358.4h0M93.2 364.3h0M200.4 366.8h0M171.8 367.8h0M196.3 369.3h0M217.6 365h0M101.1 376h0M144.3 354.1h0M208.3 374.5h0M209 376.1h0M190.8 363.7h0M175.6 353h0M81.6 358.3h0M211.3 369.6h0M154.2 343.4h0M220.5 386.4h0M158.4 368.4h0M115.8 382h0M112.9 415.8h0M218.1 380.1h0M159.9 336.5h0M219.6 391.9h0M200.1 368.5h0M216.7 381.5h0M168.3 390.1h0M195.4 381.5h0M109 413.1h0M155.6 366.8h0M189 367h0M120.6 399.3h0M98.7 375h0M116.5 384.7h0M115.3 410.9h0M157.1 345.7h0M144.8 364.8h0M219.8 378.5h0M211 384.4h0M204 372.7h0M168.9 364.3h0M90.9 357.4h0M173.6 358.2h0M219.2 377.2h0M213.5 387.1h0M101.2 360.5h0M177.7 370.9h0M154.5 371h0M101.9 377h0M198.7 363.6h0M98.1 373.5h0M233.2 399.5h0M234.6 401.1h0M207.2 377.2h0M107.3 366.9h0M218.7 367.9h0M159.4 361.2h0M155.2 367.5h0M213 365.8h0M121 404.6h0M173.9 355.4h0M221.3 375.7h0M212.2 384.7h0M193.8 364.9h0M198.8 380.5h0M224.2 344.2h0M173.3 360.7h0M221.3 380.9h0M161.1 353.7h0M98.6 372.4h0M174.2 361.4h0M114 413.6h0M215 364.8h0M222.2 384.5h0M92.6 375h0M167.6 372.5h0M95 371.2h0M153.6 355.5h0M122.4 403.9h0M163.6 361.4h0M119.3 405.9h0M166.4 350h0M120.3 396.1h0M194.8 364.8h0M147.2 351.4h0M214 365.7h0M160.8 367.9h0M169.3 367.6h0M201.7 368.5h0M88.2 353.9h0M222.1 371.9h0M158.4 373.7h0M219.5 361.9h0M170.4 370.5h0M176 370.7h0M163.6 360h0M151.8 352.2h0M164.9 362.2h0M103 373.8h0" stroke="#f3e3cd" stroke-width="1.75"/>
<path d="M168.5 359.3h0M158.1 350.1h0M149.6 363.2h0M137.7 341.1h0M172.9 372h0M200.4 371.4h0M137.4 379.7h0M174.8 362.2h0M149.3 355.9h0M162.1 357h0M166.7 361.1h0M161.2 356.4h0M172 352.7h0M172 364.8h0M161 339.9h0M173.7 340.3h0M144.6 385.5h0M155.3 390.1h0M153 383.2h0M164.7 352.4h0M154.9 361.1h0M148.7 360.9h0M170.1 351.5h0" stroke="#f6c8a6" stroke-width="2.2"/>
<path d="M139.2 383.2h0M176 380.5h0M172.2 392h0M165.3 403.9h0M158.4 392h0M156.8 388.6h0M155.8 360.2h0M174.4 358.2h0M169.1 386.8h0M180.6 374.5h0" stroke="#ee9468" stroke-width="2.2"/>
<path d="M158.1 394.4h0M168.3 404.7h0M149.6 382.5h0M166.8 407h0M172.9 393.2h0M172.6 384.5h0M140.7 381.3h0M148.4 386.3h0M156.1 387.1h0" stroke="#d63e2a" stroke-width="2.5"/>
<path d="M165.6 400.1h0M161.4 409.8h0M164.5 409.8h0M163 409.8h0M167.6 400.1h0M169.1 380.2h0M152.2 385.9h0M177.5 400.1h0M166.8 398.6h0M166 409.3h0M146.1 382.2h0M182.1 392h0M183.6 400.9h0M182.1 401.2h0M160.7 402.4h0M172.6 380.5h0" stroke="#ad1313" stroke-width="2.5"/>
<path d="M223.7 365.6Q231.6 368.6 233.3 371.6M222.2 384.5Q230.8 379.6 231.5 374.7M222.4 381.4Q232.3 377.9 233.6 374.3M222.1 371.9Q232.3 375.7 233.2 379.6M228.7 366.8Q232.3 367.4 234.5 368.1M225.8 365.2Q232 367.7 235 370.3M225.7 370.6Q230.2 374.8 231.4 378.9M228 361.5Q235.9 368.9 233.1 376.4M224.1 368.8Q230.2 373.4 233.6 378M229.5 361.8Q223.7 370.1 218 377.1M227.1 368.7Q224.7 376.8 222.3 383.1M225.6 368.7Q218.9 367.9 212.3 366.6M227.9 368.7Q221.5 373.4 215.2 379.5M225.8 371.4Q213 373.7 200.3 370.1M226.1 369.8Q211 372.8 195.9 371.4M226.6 370.8Q210.7 368.6 194.9 362.4M227.8 365.7Q215.2 374.7 202.6 377.2" stroke="#2c6c9c" stroke-width="0.35" stroke-opacity="0.62"/>
</g>
<g id="map_c2" fill="none" stroke-linecap="round">
<path d="M226.3 523.5C179.7 539 127.8 535.8 81.2 517.9M228.3 523.9C177.6 551.3 147.9 554 97.2 527.2M225.9 523.9C188.8 540.5 126.8 533.3 89.6 516.5M228.3 523.9C179.5 537.6 144.3 537.1 95.4 518.8M228.1 524.1C183.8 549.7 144.3 549.1 100.1 511.6M228 523.5C189.5 550.7 128.1 534.8 89.6 516.5M229.2 524.4C190.1 539.4 142.3 556.1 103.2 525.6M228 522.9C181.8 545 148.8 538.6 102.7 514.3M223.7 519C179.7 532.3 146.7 562.2 102.7 531.6M226 523.9C182.1 546 140.7 552 96.8 524.7M225.9 524.8C177.4 555.7 137.8 556.5 89.3 518.8M228 514.9C196.1 540 141 545.1 109.1 516.6M227.8 519.1C186.9 545.5 153.6 545.9 112.7 516.4M225.9 523.9C180.9 547.1 148.9 539.2 103.9 516.6M225.9 524.8C189.8 542.3 133.8 547.7 97.7 523.4M225.9 523.9C193.2 535.5 150.2 564.8 117.4 539.4M199.9 534.9C175.3 543.1 142.4 553.4 117.8 537.2M198.7 533.5C164.3 544.4 118.4 546.4 84 521.6M198.7 533.5C167.2 538.1 125.1 543.4 93.6 524.2M199.4 534.7C168.6 540.1 127.6 544.5 96.8 524.7M228 514.9C177.9 536.1 111.1 560.9 61 530.9M229.2 524.4C178.5 550.5 110.9 554.2 60.3 530.7M61.1 530.7Q76.2 520 91.3 519.6M60.9 530.5Q74.5 519 88.1 523.1M60.6 530.3Q77.8 525.8 95.1 527.6M228.1 524.1Q259.5 545.7 250.4 567.3M223.7 519Q248.8 535.9 251.3 552.9M228 523.7Q237.7 541.6 238.2 559.4M225.9 523.9Q237.9 539.2 230 554.5M226.1 523.2Q192.9 505.9 159.7 500.4M229.5 515.2Q193.7 510.7 158 498.3M223.7 519Q198.4 512.9 173 509.3M226 523.9Q191.5 511.2 157.1 499.1M228 514.9Q199.2 517.8 170.4 523.9M226.9 517.2Q188 518.5 149.2 507.4M226.3 523.5Q212.7 525.3 199.1 526.1M225.9 523.9Q212.2 530.4 198.5 535.5M228.1 524.1Q213.9 531.4 199.7 536.1M225.9 523.9Q210.1 530.1 194.3 531.5M228 514.9Q210.6 523.4 193.1 522M229.5 515.2Q222.9 542.9 216.3 562.2M227 522.2Q223.3 532.9 219.6 552.9M223.3 519.7Q220 522.2 216.6 524.6M229.5 515.2Q225.3 521.7 221 527.3M226.3 523.5Q223.2 518.6 220.1 516.5M228 523.5Q218.4 530 208.8 532.5M228.1 524.1Q229.8 521.1 231.5 519.1M228 523.5Q222.9 531.5 217.7 541.6M226.1 523.2Q217.5 524.1 209 525.1M228 522.9Q231.2 537.9 234.3 546.3" stroke="#2c6c9c" stroke-width="0.33" stroke-opacity="0.66"/>
<path d="M228.1 524.1C182.2 541.2 142.7 546.6 96.8 521.7M228.1 524.1C196.3 537.6 148.2 558.4 116.4 536.4M227.2 523.4C190 549.7 134.4 541.7 97.1 517.8M228.7 520.2C194.2 545.1 132.5 543.4 98 524.4M225.9 523.9C187.1 538.9 140 532.8 101.2 513.9M225.5 523.5C173.1 542.1 141.9 565.8 89.5 525.6M199 535.9C167.8 544.6 126.3 542.6 95.1 527.6M199.4 534.7C165.5 543.2 120.2 534.5 86.2 520.8M225.9 524.8C176.4 557.4 110.5 563.3 61 530.7M228 522.9Q247.7 540.3 237.3 557.8M223.7 519Q242.4 536.8 234.6 554.5M228 523.5Q243.6 539.5 244.7 555.6" stroke="#2c6c9c" stroke-width="0.55" stroke-opacity="0.85"/>
<path d="M99.7 524.3h0M89.5 525.6h0M120.9 548h0M221.7 526.7h0M94.3 532.2h0M117.8 537.2h0M114.2 557h0M102 519.6h0M182.1 507.5h0M147 505.9h0M172.3 509.8h0M107.8 551.8h0M84.4 518.4h0M216 527h0M108.1 517.7h0M95.1 527.6h0M109.3 534.2h0M110.7 534.8h0M234.3 546.3h0M126.7 552.4h0M216.3 562.2h0M110 567.1h0M86.2 506.1h0M113.3 567h0M79.6 512.4h0M110.7 572.8h0M106.2 534.1h0M236.5 499.8h0M228.7 520.2h0M88.1 505.2h0M117.3 551.2h0M206.3 534.5h0M86.2 520.8h0M95.4 532.1h0M226.9 517.2h0M105.6 545.9h0M109.7 570.1h0M118.1 555.3h0M91.4 509h0M99.1 543.1h0M210.7 520.2h0M116 563.2h0M221.6 519.5h0M116.4 536.4h0M221 520.2h0M107.3 531.2h0M119.4 547h0M219.3 539.1h0M60.7 530.5h0M213.1 520.1h0M218.2 536.7h0M96.8 521.7h0M111.6 567.1h0M214.8 528.4h0M113.6 546.4h0M110.8 517.7h0M218.7 531.5h0M125.4 544.6h0M210.5 518.6h0M219.4 529h0M225.7 524h0M94.9 514.3h0M212.2 529.3h0M125.5 551.7h0M112.7 516.4h0M244.7 555.6h0M208 529.5h0M61.4 531.3h0M110.4 564.2h0M186.7 502.2h0M205.6 529.1h0M213.7 520.8h0M156.8 542h0M87.5 515.8h0M88.4 510.8h0M111.4 571.2h0M220.9 536.9h0M86.5 514.3h0M93.5 509.4h0M216.7 519.3h0M222 516.2h0M97.2 514.6h0M109.9 550.3h0M108.6 541h0M147.3 511.3h0M94.8 510.7h0M109.7 516.1h0M172.2 515.4h0M117.3 535.5h0M126.2 550.5h0M110.7 569.5h0M207.7 525.8h0M219.6 522.3h0M89.6 516.5h0M226.2 521.6h0M97.8 529h0M209.4 528.7h0M166.8 560.4h0M163.9 511.1h0M222.2 533.7h0M149.8 508.1h0M92.6 521.7h0M109.6 512.6h0M83.5 515.6h0M221.2 531.5h0M109.6 568.5h0M214.8 517.1h0M112.1 569.7h0M108.4 514.1h0M153.1 505h0M110.7 574.1h0M102.7 514.3h0M105.7 547.5h0M225.8 518.6h0M213.9 538.4h0M120.9 557.1h0M81.9 505.9h0M91.5 523.5h0M99.3 521.2h0M166 562.7h0M213.3 530.6h0M218 520.9h0M127.7 551.4h0M96 523.3h0M209.2 526.3h0M117.2 548.4h0M192.2 540.3h0M92.9 520.4h0M125 552.3h0M128.2 549h0M93.2 517.7h0M97.9 510.5h0M217.6 518.4h0M104.8 531.8h0M209.8 530h0M95.9 531.5h0M81.6 511.7h0M114.5 550.2h0M158.4 521.8h0M224.5 523.8h0M217 525.5h0M93.6 513.7h0M111.4 579.2h0M216.7 534.9h0M79.6 514.5h0M109 566.5h0M125.1 547.4h0M98.7 528.4h0M116.5 538.1h0M218.5 556.1h0M101.9 525h0M80 513.5h0M220.3 526.2h0M215.2 523h0M219.2 530.6h0M213.5 540.5h0M101.2 513.9h0M177.7 524.3h0M65 498.3h0M205.9 524.2h0M117.8 558.5h0M110 572.4h0M82.7 512.4h0M174.7 507.6h0M220.5 533.5h0M200.5 486.8h0M182.1 554.6h0M121 558h0M208.5 535.9h0M212.5 518.3h0M105.7 514.6h0M221.3 534.3h0M216.8 528.3h0M174.2 514.8h0M216.5 544.3h0M220.7 532.1h0M95 524.6h0M122.4 557.3h0M119.3 559.3h0M120.3 549.5h0M90.9 514.9h0M216.6 530.8h0M212.7 535.1h0M88.2 507.3h0M220.1 519.3h0M105.1 527.3h0M220.8 518.3h0M103 527.2h0" stroke="#d9c9b1" stroke-width="2.3"/>
<path d="M99.7 524.3h0M89.5 525.6h0M120.9 548h0M221.7 526.7h0M94.3 532.2h0M117.8 537.2h0M114.2 557h0M102 519.6h0M182.1 507.5h0M147 505.9h0M172.3 509.8h0M107.8 551.8h0M84.4 518.4h0M216 527h0M108.1 517.7h0M95.1 527.6h0M109.3 534.2h0M110.7 534.8h0M234.3 546.3h0M126.7 552.4h0M216.3 562.2h0M110 567.1h0M86.2 506.1h0M113.3 567h0M79.6 512.4h0M110.7 572.8h0M106.2 534.1h0M236.5 499.8h0M228.7 520.2h0M88.1 505.2h0M117.3 551.2h0M206.3 534.5h0M86.2 520.8h0M95.4 532.1h0M226.9 517.2h0M105.6 545.9h0M109.7 570.1h0M118.1 555.3h0M91.4 509h0M99.1 543.1h0M210.7 520.2h0M116 563.2h0M221.6 519.5h0M116.4 536.4h0M221 520.2h0M107.3 531.2h0M119.4 547h0M219.3 539.1h0M60.7 530.5h0M213.1 520.1h0M218.2 536.7h0M96.8 521.7h0M111.6 567.1h0M214.8 528.4h0M113.6 546.4h0M110.8 517.7h0M218.7 531.5h0M125.4 544.6h0M210.5 518.6h0M219.4 529h0M225.7 524h0M94.9 514.3h0M212.2 529.3h0M125.5 551.7h0M112.7 516.4h0M244.7 555.6h0M208 529.5h0M61.4 531.3h0M110.4 564.2h0M186.7 502.2h0M205.6 529.1h0M213.7 520.8h0M156.8 542h0M87.5 515.8h0M88.4 510.8h0M111.4 571.2h0M220.9 536.9h0M86.5 514.3h0M93.5 509.4h0M216.7 519.3h0M222 516.2h0M97.2 514.6h0M109.9 550.3h0M108.6 541h0M147.3 511.3h0M94.8 510.7h0M109.7 516.1h0M172.2 515.4h0M117.3 535.5h0M126.2 550.5h0M110.7 569.5h0M207.7 525.8h0M219.6 522.3h0M89.6 516.5h0M226.2 521.6h0M97.8 529h0M209.4 528.7h0M166.8 560.4h0M163.9 511.1h0M222.2 533.7h0M149.8 508.1h0M92.6 521.7h0M109.6 512.6h0M83.5 515.6h0M221.2 531.5h0M109.6 568.5h0M214.8 517.1h0M112.1 569.7h0M108.4 514.1h0M153.1 505h0M110.7 574.1h0M102.7 514.3h0M105.7 547.5h0M225.8 518.6h0M213.9 538.4h0M120.9 557.1h0M81.9 505.9h0M91.5 523.5h0M99.3 521.2h0M166 562.7h0M213.3 530.6h0M218 520.9h0M127.7 551.4h0M96 523.3h0M209.2 526.3h0M117.2 548.4h0M192.2 540.3h0M92.9 520.4h0M125 552.3h0M128.2 549h0M93.2 517.7h0M97.9 510.5h0M217.6 518.4h0M104.8 531.8h0M209.8 530h0M95.9 531.5h0M81.6 511.7h0M114.5 550.2h0M158.4 521.8h0M224.5 523.8h0M217 525.5h0M93.6 513.7h0M111.4 579.2h0M216.7 534.9h0M79.6 514.5h0M109 566.5h0M125.1 547.4h0M98.7 528.4h0M116.5 538.1h0M218.5 556.1h0M101.9 525h0M80 513.5h0M220.3 526.2h0M215.2 523h0M219.2 530.6h0M213.5 540.5h0M101.2 513.9h0M177.7 524.3h0M65 498.3h0M205.9 524.2h0M117.8 558.5h0M110 572.4h0M82.7 512.4h0M174.7 507.6h0M220.5 533.5h0M200.5 486.8h0M182.1 554.6h0M121 558h0M208.5 535.9h0M212.5 518.3h0M105.7 514.6h0M221.3 534.3h0M216.8 528.3h0M174.2 514.8h0M216.5 544.3h0M220.7 532.1h0M95 524.6h0M122.4 557.3h0M119.3 559.3h0M120.3 549.5h0M90.9 514.9h0M216.6 530.8h0M212.7 535.1h0M88.2 507.3h0M220.1 519.3h0M105.1 527.3h0M220.8 518.3h0M103 527.2h0" stroke="#f3e3cd" stroke-width="1.75"/>
<path d="M223.3 519.7h0M81.6 510.5h0M90.5 528.1h0M210.4 527.2h0M116 550h0M215.4 519.3h0M111.7 561.8h0M218.2 519h0M232.7 566h0M104.4 532.9h0M107.8 546.3h0M84.4 511.2h0M215.2 539.8h0M214.6 547h0M108.8 539.3h0M223.7 519h0M107.1 532.3h0M91.7 507.5h0M218.5 525.8h0M97.1 512h0M245.8 554h0M212.4 534h0M216.2 532.5h0M109.1 516.6h0M101.1 516.4h0M99.9 513.1h0M109.9 570.4h0M96.7 529.2h0M212.8 538.6h0M150.2 509.7h0M115.1 558.5h0M209.7 507.5h0M112.7 553.9h0M158.4 493.3h0M101.8 520.4h0M221.3 535.6h0M88 524.4h0M103.5 521.6h0M215.2 542.3h0M86.4 512.5h0M87.2 504h0M215.2 532.9h0M117.6 549.8h0M103.2 525.6h0M108 545.6h0M218.9 522.6h0M125.5 553.2h0M85.2 521.4h0M95.9 533.1h0M250.4 567.3h0M101.3 526.8h0M91.3 519.6h0M214.2 531.3h0M205.8 531.1h0M217.5 523.1h0M90.4 511.5h0M111.7 579.6h0M112.7 534.5h0M161.4 563.2h0M113.7 551.3h0M102.7 531.6h0M165.3 557.3h0M191.3 498.3h0M216.8 540.5h0M225.9 520.6h0M207.3 534.1h0M98 524.4h0M85.6 514h0M212.8 541.5h0M98.8 524.7h0M117.5 554h0M137.4 533.1h0M218.6 527.2h0M97.7 515.1h0M213.9 520.1h0M101.2 515.4h0M111.4 569.3h0M83.9 517.8h0M211.8 516.4h0M102.6 523.7h0M82.8 517.7h0M225 549.6h0M96.8 513.1h0M209 525.1h0M103.7 527.6h0M129.8 549.5h0M219.6 552.9h0M159.4 498.2h0M214.9 525.3h0M217.9 539.7h0M83.8 509h0M118.3 550.6h0M232.5 516.4h0M171.4 513.5h0M91.7 522.4h0M215.1 531.2h0M204.8 536.7h0M89.7 506.4h0M82.1 516.9h0M107.2 516.1h0M111.1 577.3h0M218.8 517.6h0M172.7 519.1h0M115.1 538.6h0M220.1 561.1h0M152.2 539.3h0M124.4 552.9h0M97.3 525.6h0M214.4 529.9h0M166.8 552h0M238.2 559.4h0M106.7 530.5h0M123.8 555.8h0M209.7 507.7h0M214.1 539.3h0M110.5 518.7h0M211.6 543.8h0M88.1 523.1h0M218 530.5h0M83.7 509.8h0M124.8 549.1h0M73.7 501.7h0M108.2 549.7h0M147.8 512.6h0M210.1 528h0M220.1 516.5h0M95.5 525.4h0M114.7 567.3h0M224.3 497.6h0M219.7 529.8h0M84.6 513.1h0M215.7 523.7h0M123 551h0M208.3 527.9h0M209 529.5h0M104.9 512.5h0M211.3 523h0M220.5 539.8h0M124.1 551.1h0M218.5 542.4h0M218.1 533.5h0M96.4 530.6h0M93.6 524.2h0M237.3 557.8h0M221 515.3h0M112.1 514.1h0M120.6 552.7h0M143.9 522.3h0M110.5 574.2h0M212.2 523.5h0M211 537.8h0M123.5 549.3h0M220 537.9h0M214.2 521.8h0M99.5 525.8h0M85.6 509.2h0M217.6 522.3h0M152.9 508.6h0M220.2 517.8h0M214 533.6h0M98.1 526.9h0M233.2 552.9h0M117.3 556.6h0M107.3 520.3h0M218.7 521.3h0M183.6 554.3h0M222.4 534.8h0M221.6 514.2h0M221.3 529.1h0M212.2 538.1h0M102.2 516h0M216.9 530.1h0M98.6 525.8h0M114.2 536.4h0M114.1 563.2h0M220.7 525.5h0M246.9 571.5h0M81.2 517.9h0M91.6 514.4h0M217.2 520.9h0M216.2 536.4h0M208.8 523.4h0M112.3 568.5h0M222.1 525.3h0M219.5 515.3h0M108.2 535.1h0M98.6 512.4h0M122.5 553.5h0" stroke="#d9c9b1" stroke-width="2.3"/>
<path d="M223.3 519.7h0M81.6 510.5h0M90.5 528.1h0M210.4 527.2h0M116 550h0M215.4 519.3h0M111.7 561.8h0M218.2 519h0M232.7 566h0M104.4 532.9h0M107.8 546.3h0M84.4 511.2h0M215.2 539.8h0M214.6 547h0M108.8 539.3h0M223.7 519h0M107.1 532.3h0M91.7 507.5h0M218.5 525.8h0M97.1 512h0M245.8 554h0M212.4 534h0M216.2 532.5h0M109.1 516.6h0M101.1 516.4h0M99.9 513.1h0M109.9 570.4h0M96.7 529.2h0M212.8 538.6h0M150.2 509.7h0M115.1 558.5h0M209.7 507.5h0M112.7 553.9h0M158.4 493.3h0M101.8 520.4h0M221.3 535.6h0M88 524.4h0M103.5 521.6h0M215.2 542.3h0M86.4 512.5h0M87.2 504h0M215.2 532.9h0M117.6 549.8h0M103.2 525.6h0M108 545.6h0M218.9 522.6h0M125.5 553.2h0M85.2 521.4h0M95.9 533.1h0M250.4 567.3h0M101.3 526.8h0M91.3 519.6h0M214.2 531.3h0M205.8 531.1h0M217.5 523.1h0M90.4 511.5h0M111.7 579.6h0M112.7 534.5h0M161.4 563.2h0M113.7 551.3h0M102.7 531.6h0M165.3 557.3h0M191.3 498.3h0M216.8 540.5h0M225.9 520.6h0M207.3 534.1h0M98 524.4h0M85.6 514h0M212.8 541.5h0M98.8 524.7h0M117.5 554h0M137.4 533.1h0M218.6 527.2h0M97.7 515.1h0M213.9 520.1h0M101.2 515.4h0M111.4 569.3h0M83.9 517.8h0M211.8 516.4h0M102.6 523.7h0M82.8 517.7h0M225 549.6h0M96.8 513.1h0M209 525.1h0M103.7 527.6h0M129.8 549.5h0M219.6 552.9h0M159.4 498.2h0M214.9 525.3h0M217.9 539.7h0M83.8 509h0M118.3 550.6h0M232.5 516.4h0M171.4 513.5h0M91.7 522.4h0M215.1 531.2h0M204.8 536.7h0M89.7 506.4h0M82.1 516.9h0M107.2 516.1h0M111.1 577.3h0M218.8 517.6h0M172.7 519.1h0M115.1 538.6h0M220.1 561.1h0M152.2 539.3h0M124.4 552.9h0M97.3 525.6h0M214.4 529.9h0M166.8 552h0M238.2 559.4h0M106.7 530.5h0M123.8 555.8h0M209.7 507.7h0M214.1 539.3h0M110.5 518.7h0M211.6 543.8h0M88.1 523.1h0M218 530.5h0M83.7 509.8h0M124.8 549.1h0M73.7 501.7h0M108.2 549.7h0M147.8 512.6h0M210.1 528h0M220.1 516.5h0M95.5 525.4h0M114.7 567.3h0M224.3 497.6h0M219.7 529.8h0M84.6 513.1h0M215.7 523.7h0M123 551h0M208.3 527.9h0M209 529.5h0M104.9 512.5h0M211.3 523h0M220.5 539.8h0M124.1 551.1h0M218.5 542.4h0M218.1 533.5h0M96.4 530.6h0M93.6 524.2h0M237.3 557.8h0M221 515.3h0M112.1 514.1h0M120.6 552.7h0M143.9 522.3h0M110.5 574.2h0M212.2 523.5h0M211 537.8h0M123.5 549.3h0M220 537.9h0M214.2 521.8h0M99.5 525.8h0M85.6 509.2h0M217.6 522.3h0M152.9 508.6h0M220.2 517.8h0M214 533.6h0M98.1 526.9h0M233.2 552.9h0M117.3 556.6h0M107.3 520.3h0M218.7 521.3h0M183.6 554.3h0M222.4 534.8h0M221.6 514.2h0M221.3 529.1h0M212.2 538.1h0M102.2 516h0M216.9 530.1h0M98.6 525.8h0M114.2 536.4h0M114.1 563.2h0M220.7 525.5h0M246.9 571.5h0M81.2 517.9h0M91.6 514.4h0M217.2 520.9h0M216.2 536.4h0M208.8 523.4h0M112.3 568.5h0M222.1 525.3h0M219.5 515.3h0M108.2 535.1h0M98.6 512.4h0M122.5 553.5h0" stroke="#f3e3cd" stroke-width="1.75"/>
<path d="M99.3 523.3h0M112.4 517.5h0M97.9 512h0M139.2 536.6h0M217.4 540.9h0M112.9 551.6h0M221.2 548.5h0M85.8 518.2h0M209.8 523.9h0M208.2 531.7h0M120.6 511.7h0M129 550.1h0M103.4 523.2h0M104.6 545.5h0M205 529.7h0M84 521.6h0M153.8 519.9h0M158.1 547.8h0M226.1 523.2h0M91.3 513.4h0M121.7 547h0M97.2 527.2h0M118.7 543.7h0M228 514.9h0M217.7 535.5h0M216.4 541.6h0M83.7 514.1h0M100.1 527.7h0M89.3 518.8h0M112.7 513.6h0M185.9 509.8h0M117.4 539.4h0M229.5 515.2h0M94.4 521.3h0M96 510.4h0M108.3 570h0M96.9 511h0M114.2 548.3h0M87.4 523.6h0M227.8 519.1h0M221.9 541h0M111.3 565.1h0M224.1 522.2h0M172.5 523.3h0M216.6 524.6h0M95.8 528h0M215.6 537.1h0M216 542.7h0M85.7 523.4h0M224 516h0M96.8 526.2h0M117.5 544.5h0M109.5 530.5h0M94.4 512.2h0M111.3 570.1h0M211.2 542.2h0M163 511.8h0M208.8 532.5h0M213.7 529.8h0M215.4 543.1h0M217.1 531.4h0M95.4 518.8h0M228.8 521.2h0M206.1 536.5h0M217 537.1h0M87 507.4h0M108.3 568h0M251.3 552.9h0M113.5 544.9h0M106.7 513.9h0M126 549.6h0M216.9 539.3h0M128.3 550.7h0M164.5 563.2h0M114.1 542h0M221.3 539.5h0M160.3 518h0M100.1 511.6h0M217.1 533.8h0M224.5 521.7h0M217.8 531.3h0M86.4 524.6h0M230.5 544.1h0M162.3 519.4h0M110.3 575.6h0M96.8 524.7h0M101.1 532.2h0M97.1 517.8h0M160.1 503.3h0M222.8 520.4h0M231.8 517.9h0M160.3 496.6h0M82.1 513.5h0M90 510.7h0M215.2 536.2h0M110.5 532.2h0M85 511.9h0M111 553.7h0M89.3 507.7h0M221.1 530.4h0M98.3 521.8h0M110.7 515.2h0M98.8 529.7h0M75.7 504.8h0M205.9 527h0M214.9 520.8h0M95.7 511.9h0M95.9 526.6h0M213.5 536.3h0M220.4 545h0M101.9 527.5h0M110.3 531.3h0M92.6 513.4h0M111.7 567.8h0M230 554.5h0M204.3 529.1h0M97.7 523.4h0M217.7 541.6h0M88.2 518.9h0M89.4 513.4h0M110.6 576.5h0M110.5 571.8h0M117.2 561.9h0M229.4 563.8h0M66.5 493.7h0M65.4 552.7h0M217.4 554h0M97.7 520.7h0M85.1 522.2h0M100.2 528.5h0M225.3 516h0M78.9 510.7h0M101.1 529.4h0M111.3 545h0M99.7 529.3h0M106.8 533.2h0M154.8 499.9h0M119.1 561.7h0M115.8 535.4h0M112.9 569.2h0M101.3 521.4h0M117.2 563.1h0M118.9 548.6h0M221 527.3h0M122 552.7h0M111.1 542.6h0M104.6 529h0M85.5 520h0M115.3 564.3h0M219.8 531.9h0M233.8 548.5h0M168.9 517.7h0M90.9 510.8h0M95.9 509.5h0M208.8 530.3h0M126.2 544.9h0M150.3 507.2h0M84 512.4h0M101.9 530.4h0M162.6 491.8h0M113.2 522.9h0M90.7 521.6h0M207.2 530.6h0M85.1 518.1h0M97.1 531.2h0M128.2 547.2h0M213 519.2h0M173.9 508.8h0M110 517.4h0M87.2 502.9h0M102.7 530.8h0M174.5 503.7h0M221.2 544.2h0M114 567h0M215 518.2h0M231.5 519.1h0M156.4 519.4h0M226.7 556.7h0M211.9 519h0M98 518.2h0M214 519.1h0M206.1 537.5h0M100.8 531.4h0M161.3 519.7h0M209.7 534.2h0M81.6 518.6h0M103.5 530.3h0" stroke="#d9c9b1" stroke-width="2.3"/>
<path d="M99.3 523.3h0M112.4 517.5h0M97.9 512h0M139.2 536.6h0M217.4 540.9h0M112.9 551.6h0M221.2 548.5h0M85.8 518.2h0M209.8 523.9h0M208.2 531.7h0M120.6 511.7h0M129 550.1h0M103.4 523.2h0M104.6 545.5h0M205 529.7h0M84 521.6h0M153.8 519.9h0M158.1 547.8h0M226.1 523.2h0M91.3 513.4h0M121.7 547h0M97.2 527.2h0M118.7 543.7h0M228 514.9h0M217.7 535.5h0M216.4 541.6h0M83.7 514.1h0M100.1 527.7h0M89.3 518.8h0M112.7 513.6h0M185.9 509.8h0M117.4 539.4h0M229.5 515.2h0M94.4 521.3h0M96 510.4h0M108.3 570h0M96.9 511h0M114.2 548.3h0M87.4 523.6h0M227.8 519.1h0M221.9 541h0M111.3 565.1h0M224.1 522.2h0M172.5 523.3h0M216.6 524.6h0M95.8 528h0M215.6 537.1h0M216 542.7h0M85.7 523.4h0M224 516h0M96.8 526.2h0M117.5 544.5h0M109.5 530.5h0M94.4 512.2h0M111.3 570.1h0M211.2 542.2h0M163 511.8h0M208.8 532.5h0M213.7 529.8h0M215.4 543.1h0M217.1 531.4h0M95.4 518.8h0M228.8 521.2h0M206.1 536.5h0M217 537.1h0M87 507.4h0M108.3 568h0M251.3 552.9h0M113.5 544.9h0M106.7 513.9h0M126 549.6h0M216.9 539.3h0M128.3 550.7h0M164.5 563.2h0M114.1 542h0M221.3 539.5h0M160.3 518h0M100.1 511.6h0M217.1 533.8h0M224.5 521.7h0M217.8 531.3h0M86.4 524.6h0M230.5 544.1h0M162.3 519.4h0M110.3 575.6h0M96.8 524.7h0M101.1 532.2h0M97.1 517.8h0M160.1 503.3h0M222.8 520.4h0M231.8 517.9h0M160.3 496.6h0M82.1 513.5h0M90 510.7h0M215.2 536.2h0M110.5 532.2h0M85 511.9h0M111 553.7h0M89.3 507.7h0M221.1 530.4h0M98.3 521.8h0M110.7 515.2h0M98.8 529.7h0M75.7 504.8h0M205.9 527h0M214.9 520.8h0M95.7 511.9h0M95.9 526.6h0M213.5 536.3h0M220.4 545h0M101.9 527.5h0M110.3 531.3h0M92.6 513.4h0M111.7 567.8h0M230 554.5h0M204.3 529.1h0M97.7 523.4h0M217.7 541.6h0M88.2 518.9h0M89.4 513.4h0M110.6 576.5h0M110.5 571.8h0M117.2 561.9h0M229.4 563.8h0M66.5 493.7h0M65.4 552.7h0M217.4 554h0M97.7 520.7h0M85.1 522.2h0M100.2 528.5h0M225.3 516h0M78.9 510.7h0M101.1 529.4h0M111.3 545h0M99.7 529.3h0M106.8 533.2h0M154.8 499.9h0M119.1 561.7h0M115.8 535.4h0M112.9 569.2h0M101.3 521.4h0M117.2 563.1h0M118.9 548.6h0M221 527.3h0M122 552.7h0M111.1 542.6h0M104.6 529h0M85.5 520h0M115.3 564.3h0M219.8 531.9h0M233.8 548.5h0M168.9 517.7h0M90.9 510.8h0M95.9 509.5h0M208.8 530.3h0M126.2 544.9h0M150.3 507.2h0M84 512.4h0M101.9 530.4h0M162.6 491.8h0M113.2 522.9h0M90.7 521.6h0M207.2 530.6h0M85.1 518.1h0M97.1 531.2h0M128.2 547.2h0M213 519.2h0M173.9 508.8h0M110 517.4h0M87.2 502.9h0M102.7 530.8h0M174.5 503.7h0M221.2 544.2h0M114 567h0M215 518.2h0M231.5 519.1h0M156.4 519.4h0M226.7 556.7h0M211.9 519h0M98 518.2h0M214 519.1h0M206.1 537.5h0M100.8 531.4h0M161.3 519.7h0M209.7 534.2h0M81.6 518.6h0M103.5 530.3h0" stroke="#f3e3cd" stroke-width="1.75"/>
<path d="M165.6 553.5h0M190.5 509.1h0M176 533.9h0M159.7 500.4h0M192.7 518.4h0M193.1 522h0M188.2 491.4h0M221.6 518.5h0M197.9 523.6h0M195.9 524.8h0M220.5 531.4h0M217 542.1h0M157.8 505.7h0M151.8 514h0M160.6 508.3h0M165.6 516.4h0M172.2 545.4h0M149.2 507.4h0M203.8 532.4h0M135.5 519h0M196.5 521.6h0M153.4 518.7h0M159.7 509.6h0M172.2 513.3h0M227.3 511.4h0M202.6 530.6h0M193.6 492.2h0M236 556.1h0M161.2 494.4h0M166.7 505.9h0M148.4 508.3h0M148.8 511.4h0M164.4 522.2h0M146.4 516.3h0M163.9 503.1h0M110.9 566.6h0M203.3 528.5h0M202.8 503.7h0M240.9 507.1h0M249.7 566h0M218.9 510.6h0M216.2 522.7h0M152.7 519.9h0M206.5 526h0M248.6 569.3h0M208.6 520.2h0M222.3 536.5h0M194.9 515.8h0M159.6 501.5h0M172.5 514h0M179 505.2h0M192.2 505.2h0M171 520.6h0M162.5 500h0M168.3 558.1h0M109.3 575.9h0M158.4 545.4h0M197.4 505.2h0M200.4 524.8h0M165.6 521.7h0M193.4 518.9h0M163.5 521.2h0M163 563.2h0M219.3 517.1h0M144.4 510.5h0M170.1 509h0M151.8 510.2h0M149.6 535.9h0M109.5 566.1h0M197.8 522h0M198.8 504.1h0M149.3 509.3h0M162.4 508.2h0M155.8 513.6h0M167.6 553.5h0M173.5 523.2h0M168.6 514.7h0M158.6 506.9h0M200.4 487.2h0M109.4 571.8h0M170.2 513.3h0M166.7 514.5h0M135.4 519h0M169.1 533.6h0M163.3 508.1h0M155.7 497.4h0M237.1 563.3h0M162.4 514.1h0M219.5 527.1h0M192.6 519.8h0M115.3 547.2h0M166.1 505.5h0M192.6 515.8h0M167 516h0M177.5 553.5h0M171.3 503.7h0M161.9 487.5h0M225.3 521.9h0M147.5 522.6h0M161.2 489.3h0M169.9 518.5h0M215.6 525.2h0M144.8 522.9h0M234.9 564.9h0M164.5 488h0M190.1 520.4h0M170 523h0M167.7 504.1h0M218.7 510.7h0M172.9 546.6h0M172.6 537.9h0M140.7 534.7h0M160.4 517h0M173.2 520.6h0M211.4 511.8h0M153.3 506.9h0M171.4 504.5h0M182.9 502.9h0M190.8 517.1h0M175.6 506.4h0M172 518.2h0M146.1 535.6h0M154.2 496.8h0M219.5 518.3h0M219.6 545.3h0M110.2 572.2h0M212.3 520h0M169.1 540.2h0M104.9 542.9h0M157.1 499.1h0M237.7 561.4h0M213.5 511.4h0M182.1 545.4h0M173.7 493.7h0M111.2 548.5h0M180.6 527.9h0M234.6 554.5h0M164.3 498.8h0M215.1 524.2h0M154.8 517h0M144.6 538.9h0M192.7 498.7h0M150 515.1h0M151.3 503.6h0M224.2 497.6h0M155.3 543.5h0M175.4 508.4h0M195.8 515.6h0M222.2 537.9h0M199.6 519.7h0M190.5 518.2h0M200.3 518.5h0M160.7 555.8h0M148.4 539.7h0M190.4 525.4h0M169.3 504.8h0M147.2 504.8h0M153 536.6h0M203.1 504.1h0M156.1 540.5h0M201.7 521.9h0M164.7 505.8h0M110.7 567.6h0M172.6 533.9h0M193.8 492.1h0M149.9 510.8h0M151.8 505.6h0M164.9 515.6h0" stroke="#f6c8a6" stroke-width="2.2"/>
<path d="M164.2 491h0M191.2 521.7h0M166.4 499.2h0M201.2 523h0M170.9 512.6h0M167.8 513.1h0M194.3 517.5h0M195.4 522.6h0M195.3 519.1h0M146.8 521.7h0M159.5 518.3h0M158.1 503.5h0M151.5 515.8h0M162.3 515.9h0M197.9 520.9h0M197.1 525.1h0M167.3 517.5h0M195.9 516.9h0M151.7 509.3h0M163.8 517.4h0M156.5 506.1h0M179.4 508.2h0M160.3 506.8h0M137.5 494.8h0M197 520.5h0M198.4 521.5h0M191.8 516.4h0M166 544.3h0M146.9 514.6h0M198 525.8h0M154.1 512.3h0M196.2 515h0M149.6 516.6h0M202.2 526h0M192.8 516.7h0M174 517.1h0M164.3 516.1h0M140.7 524.4h0M171.4 527.4h0M153.9 497.5h0M153.5 517.9h0M162.3 490.4h0M162.1 498h0M202.3 527h0M153.2 521.3h0M194 534.1h0M162.1 510.4h0M155.2 500.8h0M190.3 524.7h0M156.9 514.1h0M174.4 511.6h0M172.2 520.1h0M158 502h0M188.9 519.1h0M164.3 519h0M162.9 516.8h0M160.3 518.9h0M161.4 492.1h0M157.3 507.9h0M171.8 521.2h0M196.3 522.7h0M188.8 523h0M177.5 510.8h0M165.2 517.3h0M198.9 520.2h0M171.9 523.9h0M160.7 522h0M162.7 487.7h0M200.1 521.9h0M158 498.3h0M177.5 512.2h0M155.6 520.2h0M157 509.1h0M174.9 514.3h0M204 526.1h0M154.5 524.4h0M198.7 517h0M163 485.8h0M159.4 514.6h0M202.8 524.3h0M198.8 533.9h0M148.9 520.2h0M161.1 507.1h0M172.2 516.7h0M167.6 525.9h0M194.3 518.9h0M166.4 503.4h0M156.6 497h0M194.8 518.2h0M170.4 523.9h0M180 511.6h0M163.6 513.4h0M170.1 504.9h0" stroke="#ee9468" stroke-width="2.2"/>
<path d="M184.2 520.5h0M167.3 502.6h0M158 501.1h0M168.5 512.7h0M164.6 485.8h0M173.2 517.5h0M151.4 521.5h0M114.8 538.2h0M163.8 519.6h0M169.1 488.4h0M81.4 514.6h0M148.4 525.2h0M158.2 509.9h0M199.3 531.2h0M144.6 524.4h0M154.2 502.6h0M86.1 522.4h0M149.2 512.6h0M194.3 531.5h0M159.5 513.9h0M169.5 511.6h0M176.9 524.6h0M205.4 525.2h0M176.1 513h0M137.7 494.5h0M172.9 525.4h0M200.3 523.5h0M164.5 507h0M145.7 509.2h0M162.2 512.3h0M103.9 516.6h0M151.1 517.9h0M158.4 511.2h0M205.5 526.4h0M154.3 519h0M174.8 515.6h0M147.9 506.7h0M169.7 515.2h0M194 527.8h0M171.8 512h0M169.7 519.7h0M166.4 512.5h0M195 523.9h0M160.7 525.2h0M154.3 520.4h0M153.3 498.5h0M193.7 523.9h0M193.5 521.2h0M150 511.9h0M152.4 521.3h0M98.9 526.8h0M171.5 515h0M161.2 509.8h0M173.5 515.9h0M112.2 566.5h0M165.6 489.7h0M162 496.8h0M185.8 520.2h0M201 525.8h0M155.8 506.3h0M167.2 519.1h0M126.1 551.3h0M199.1 526.1h0M156 512.6h0M196 531.4h0M156 499h0M158.9 496.4h0M190.3 523.3h0M151.8 519.9h0M200.4 520.2h0M197.8 527.5h0M144.3 507.5h0M95 512.7h0M161 493.3h0M166.3 513.5h0M159.9 489.9h0M168.3 543.5h0M195.4 534.9h0M189 520.4h0M164.8 499.5h0M162.6 495.6h0M144.8 518.2h0M170.5 514.1h0M173.6 511.6h0M155.2 520.9h0M176.3 510.2h0M162.4 520.4h0M171.9 519.2h0M193.8 518.3h0M234.3 569.3h0M151.8 507.5h0M173.3 514.1h0M191.9 518.4h0M149.6 515.9h0M92.6 528.4h0M156.7 520.9h0M199.1 523h0M167.2 520.9h0M163.6 514.8h0M151.5 501.4h0M160.8 521.3h0M169.3 521h0M196 519.4h0M205.2 527.9h0M154.9 514.5h0M150.8 513.2h0M158.4 527.1h0M176 524.1h0M153.5 503.3h0M158.7 498h0" stroke="#d63e2a" stroke-width="2.5"/>
<path d="M161 516.4h0M147.3 507.7h0M155.2 498.4h0M166.3 511.6h0M145.8 507.9h0M173 509.3h0M167.3 522.5h0M173.4 507.9h0M170.9 508.1h0M172 506.1h0M154.1 499.6h0M153.7 507.6h0M148.4 504.6h0M153.6 508.9h0M148.7 514.3h0M161.4 511.4h0" stroke="#ad1313" stroke-width="2.5"/>
<path d="M226.4 524.2Q223.6 524.6 220.8 523.9M227.3 522.6Q227.1 523.8 227 524.7M227 523.1Q227.1 523.8 227.1 524.8M227.5 522.3Q228 521.1 228.6 519.7M228.1 523.6Q225.2 524.6 222.3 523.6M228.5 524.6Q227.7 525.6 226.9 526.2M227.2 523.3Q225 523.7 222.9 525" stroke="#2c6c9c" stroke-width="0.6" stroke-opacity="0.8"/>
</g>
<g id="map_c3" fill="none" stroke-linecap="round">
<path d="M225 674.4C176.5 698.3 143.5 709.7 95.1 686.4M223.2 681C176.4 702.9 135.2 693.8 88.3 679.1M225 674.4C189.3 696.9 135.2 711.4 99.6 683.2M225 674.4C182.4 698.1 146.9 710.8 104.3 690.7M225.5 683.9C175.1 715.5 128.6 693.1 78.2 677.4M222.9 683C183.2 700.5 141.7 705 102.1 686.8M226.6 682.7C183.4 697.4 148.5 700.4 105.4 673.6M225 681.2C184.8 704.3 146.9 702.8 106.7 675.6M225 674.4C186.5 700.8 121.8 698.4 83.2 680.3M222.9 683C186.5 706.6 128.9 710.3 92.5 684.9M220.7 678.5C183.3 695.5 150.9 723.9 113.5 697.6M225.5 683.9C191.1 703.2 127.5 699.3 93 682.8M220.3 679.2C169.2 695.3 137.7 712.8 86.6 676M223.3 681.2C182.9 705.6 126.7 715.9 86.3 678.3M226.1 681.2C184.9 701.6 129 715.6 87.7 681.1M225 674.4C184.9 686.2 154.5 709.4 114.3 695M223.3 681.2C186.5 709 115.4 693.9 78.6 678.1M225 674.4C191.6 692 143 706.1 109.7 694M226.6 682.7C190.8 699.5 150.1 709.8 114.3 695M195.7 693.7C165.7 701.7 125.8 700.4 95.8 684.2M195.7 693.7C166.7 700.3 128 700.8 98.9 687M195.6 696.5C166.3 704.6 127.3 709.1 98.1 691.7M197.2 694.5C164.6 699.6 121.2 692.5 88.7 681.9M195.9 694.5C168.7 699.3 132.4 704.6 105.2 694.6M195.7 694.1C165.7 700.8 125.8 702.8 95.8 689.2M197.2 694.5C167.7 704.3 128.4 706.8 98.9 687M220.3 679.2C171.4 711.9 106.1 718.5 57.2 689.8M222.7 681.7C173.3 709.8 107.4 715 58 689.6M226.5 674.7C175.7 698.3 108.1 722.5 57.3 689.5M57.4 690Q75.6 682.9 93.8 685.7M57.3 690.3Q66.6 674.2 75.9 670.2M58.1 690.1Q76.1 675.9 94.1 671.5M57.7 689.5Q75.3 678.8 93 682.8M224.8 684.3Q247.6 707.7 243.9 731M222.9 683Q245 704.2 229.7 725.5M223.3 681.2Q257.1 703.3 246.7 725.5M220.7 678.5Q260.3 703.7 245.6 728.8M226.5 674.7Q244.9 701.8 245.6 728.8M224.1 684.2Q245.2 704.8 246.7 725.5M225.5 683.9Q244.8 702.4 234.7 720.9M223.1 682.5Q255.4 704.7 247.4 726.8M220.3 679.2Q245.6 698.2 234.3 717.3M224.1 684.2Q187.7 675.2 151.2 656.3M226.1 681.2Q195.5 678 164.8 672.6M226.5 674.7Q196.8 666 167.1 668.5M224.1 684.2Q190.9 685.6 157.8 680.8M226.6 682.7Q185.7 676.8 144.8 672.1M224.1 684.2Q197.3 683.9 170.5 675.4M225 681.2Q186.1 673.7 147.2 669.2M225.5 683.9Q187.1 684.5 148.8 673.5M223.1 682.7Q209.9 689.7 196.8 695.4M223.1 682.5Q210.7 692.7 198.2 696.2M226.1 681.2Q210.9 691.7 195.6 696.5M220.3 679.2Q208 687.1 195.7 694.1M226.5 674.7Q211.8 688.6 197 696.4M224.8 684.3Q211.5 690.5 198.2 696.2M223.3 681.2Q210.8 691.2 198.2 696.2M225.5 683.9Q222.2 692.4 218.9 700.5M226.6 682.7Q216.2 689.9 205.8 692M223.1 682.5Q215.8 695.1 208.6 703.3M225 674.4Q218.6 691.4 212.2 701.8M223.2 681Q216.5 692.9 209.8 701M225.7 679.7Q227.3 678.8 228.8 677.4M224.8 684.3Q220.3 687.5 215.7 691M220.3 679.2Q213.5 686.7 206.7 693.7M220.3 679.2Q219.3 683.9 218.3 688.6M226.1 681.2Q221 682.9 215.9 682.1M220.7 678.5Q222.3 678 223.9 676.7M225 674.4Q216.2 674.3 207.5 678.1M224.8 684.3Q217.4 680.7 210 678.7M225 674.4Q223 679 221.1 681.7M101.8 691.3Q162.5 670.7 223.2 681M92.5 684.9Q159.3 668.3 226.1 681.2M95.7 687.9Q160.8 670.8 225.9 680.8M87.9 674.4Q156.7 660.7 225.5 683.9M88.7 681.9Q119.6 677.1 150.5 677.4M91.3 691.7Q127.8 679.2 164.3 662.1M102.1 686.8Q128.6 678.4 155.2 669.4M98.9 687Q123.8 669.4 148.7 668.8M93 669.9Q129.9 675.4 166.7 674.7M99.7 691.1Q128.4 676.9 157.1 662.8M91.9 673.8Q131.2 677.9 170.5 675.4M120 710.5Q157.8 712.2 195.6 696.5M116.3 718.8Q169.5 705.9 222.7 681.7M126.8 709Q176.6 704.4 226.5 674.7M115.3 710.1Q155.5 706.3 195.7 693.7" stroke="#2c6c9c" stroke-width="0.33" stroke-opacity="0.66"/>
<path d="M225.7 679.7C184.7 704 139.1 698.4 98.1 675.9M225 674.4C175.4 704.9 146.7 708 97.1 687.2M224.8 678.6C183.3 696.5 145.8 699.9 104.3 679.8M226.6 682.7C183.7 708.4 132.9 698 89.9 679.9M226.5 674.7C185.5 693.9 136.6 721.9 95.7 687.9M220.3 679.2C181.3 701.5 144.2 723.8 105.2 694.6M225.5 683.9C175.8 708.5 150.4 705.9 100.7 687.1M223.9 676.7C187.3 697.9 132.1 713.4 95.6 685.3M225.5 683.9C186.9 706.8 146.1 727.1 107.5 691.7M224 684.6C177.7 708.1 134.6 718.5 88.3 679.1M223.3 681.2C189.6 708.1 141 712.3 107.3 690.8M195.9 694.5C165.4 704.1 124.7 704.3 94.3 685.1M225.7 679.7C175.3 707.5 108.2 711.9 57.8 690" stroke="#2c6c9c" stroke-width="0.55" stroke-opacity="0.85"/>
<path d="M220.3 679.2h0M136.2 696.1h0M206.8 683.4h0M117.6 671.2h0M217.5 690.9h0M157.6 667.8h0M169.2 704.9h0M225.7 679.7h0M148.5 675.3h0M218.3 695.1h0M207.7 679.7h0M160.8 676.9h0M156.5 673.4h0M207.5 678.1h0M143.9 674.1h0M162.3 716.8h0M225.8 680.7h0M58.4 690.8h0M155.4 704.9h0M137.7 683.9h0M134.4 692.6h0M161.5 722.7h0M157.3 677.5h0M213.7 678.8h0M214.8 690.8h0M168.8 671.5h0M170 668.8h0M156.4 657.7h0M159.1 669.9h0M204.7 685.3h0M168.4 673h0M160.3 667.6h0M160.9 670.6h0M163.1 665h0M164 675.5h0M174.5 713h0M169.2 679.6h0M163.8 711.5h0M155 661.5h0M187.1 679.9h0M152.8 665.8h0M159.9 676.3h0M206.2 685.8h0M62.4 712.2h0M169 665.6h0M222.3 675.5h0M169 677.7h0M151.8 659.4h0M221.5 683.3h0M218 686.8h0M209.3 679.5h0M167.5 673.6h0M179.1 704.9h0M212.2 682.5h0M174.7 683.8h0M177.6 687.4h0M161.3 658.3h0M180.6 713.8h0M210 678.7h0M199.8 683.8h0M148.8 667h0M213.9 689.6h0M164.6 685.4h0M157.7 715.3h0M214.2 680.4h0M166.3 680.5h0M145.7 673.8h0M177 671.1h0" stroke="#d9c9b1" stroke-width="2.3"/>
<path d="M220.3 679.2h0M136.2 696.1h0M206.8 683.4h0M117.6 671.2h0M217.5 690.9h0M157.6 667.8h0M169.2 704.9h0M225.7 679.7h0M148.5 675.3h0M218.3 695.1h0M207.7 679.7h0M160.8 676.9h0M156.5 673.4h0M207.5 678.1h0M143.9 674.1h0M162.3 716.8h0M225.8 680.7h0M58.4 690.8h0M155.4 704.9h0M137.7 683.9h0M134.4 692.6h0M161.5 722.7h0M157.3 677.5h0M213.7 678.8h0M214.8 690.8h0M168.8 671.5h0M170 668.8h0M156.4 657.7h0M159.1 669.9h0M204.7 685.3h0M168.4 673h0M160.3 667.6h0M160.9 670.6h0M163.1 665h0M164 675.5h0M174.5 713h0M169.2 679.6h0M163.8 711.5h0M155 661.5h0M187.1 679.9h0M152.8 665.8h0M159.9 676.3h0M206.2 685.8h0M62.4 712.2h0M169 665.6h0M222.3 675.5h0M169 677.7h0M151.8 659.4h0M221.5 683.3h0M218 686.8h0M209.3 679.5h0M167.5 673.6h0M179.1 704.9h0M212.2 682.5h0M174.7 683.8h0M177.6 687.4h0M161.3 658.3h0M180.6 713.8h0M210 678.7h0M199.8 683.8h0M148.8 667h0M213.9 689.6h0M164.6 685.4h0M157.7 715.3h0M214.2 680.4h0M166.3 680.5h0M145.7 673.8h0M177 671.1h0" stroke="#f3e3cd" stroke-width="1.75"/>
<path d="M188.2 681.2h0M215.2 678.5h0M144 665.4h0M155 660.6h0M223.1 682.7h0M148.4 681h0M166.1 647.9h0M155.4 652.8h0M223.9 676.7h0M145.4 684.7h0M164.3 677h0M57.7 690h0M215.7 691h0M158.4 722.7h0M216.4 688.5h0M151.1 671.8h0M222.9 680.1h0M197.3 683h0M142.7 668.7h0M210.7 680.3h0M168.4 686.9h0M210.9 679.6h0M167.1 668.5h0M221.5 681.2h0M159.3 649.9h0M166.7 679.2h0M152.8 673.1h0M157.1 662.8h0M157.7 684.7h0M216.6 681.8h0M190.5 680.7h0M149.4 680.8h0M216.5 686.6h0M168.5 674.5h0M202.9 686.5h0M211.9 680.3h0M158.9 647h0M170.5 675.4h0M162.6 649.2h0M163 722.2h0M215 680.4h0M144.8 672.1h0M169.9 706.1h0M169.6 697.4h0M216.7 689.3h0M168.8 680.7h0M208.3 682.5h0M216.5 677.8h0M215.1 693h0M165.3 703h0M159.6 655.1h0M216.8 691.4h0M170.7 653.2h0M211.2 681.3h0M149.9 668.1h0M195.7 676.5h0M217.5 693h0M179.1 714.1h0M173.3 669.7h0M209.5 677.8h0M152.3 703h0M213.8 687.8h0M164.2 680.4h0M145.4 699.2h0M213.2 695.9h0M150 696.1h0M155.4 686.6h0M217.8 677.8h0" stroke="#d9c9b1" stroke-width="2.3"/>
<path d="M188.2 681.2h0M215.2 678.5h0M144 665.4h0M155 660.6h0M223.1 682.7h0M148.4 681h0M166.1 647.9h0M155.4 652.8h0M223.9 676.7h0M145.4 684.7h0M164.3 677h0M57.7 690h0M215.7 691h0M158.4 722.7h0M216.4 688.5h0M151.1 671.8h0M222.9 680.1h0M197.3 683h0M142.7 668.7h0M210.7 680.3h0M168.4 686.9h0M210.9 679.6h0M167.1 668.5h0M221.5 681.2h0M159.3 649.9h0M166.7 679.2h0M152.8 673.1h0M157.1 662.8h0M157.7 684.7h0M216.6 681.8h0M190.5 680.7h0M149.4 680.8h0M216.5 686.6h0M168.5 674.5h0M202.9 686.5h0M211.9 680.3h0M158.9 647h0M170.5 675.4h0M162.6 649.2h0M163 722.2h0M215 680.4h0M144.8 672.1h0M169.9 706.1h0M169.6 697.4h0M216.7 689.3h0M168.8 680.7h0M208.3 682.5h0M216.5 677.8h0M215.1 693h0M165.3 703h0M159.6 655.1h0M216.8 691.4h0M170.7 653.2h0M211.2 681.3h0M149.9 668.1h0M195.7 676.5h0M217.5 693h0M179.1 714.1h0M173.3 669.7h0M209.5 677.8h0M152.3 703h0M213.8 687.8h0M164.2 680.4h0M145.4 699.2h0M213.2 695.9h0M150 696.1h0M155.4 686.6h0M217.8 677.8h0" stroke="#f3e3cd" stroke-width="1.75"/>
<path d="M207.4 686.7h0M167.9 672.1h0M169.3 669.3h0M165.5 672.2h0M170.2 677h0M225 674.4h0M146.2 666.9h0M150.4 678.2h0M159.3 675.4h0M96.1 702.6h0M213.6 684.1h0M214.5 682.6h0M213.2 682.2h0M205.6 679.7h0M214.1 690.9h0M173.1 672.5h0M171 676.6h0M161.5 666.5h0M197.4 684.3h0M162.6 681.2h0M215.6 686.7h0M216.3 676.6h0M208.8 675.9h0M219 675.7h0M206 684.6h0M146.3 668.8h0M169.2 674.9h0M219.8 679.9h0M155.6 666.4h0M229.5 675.9h0M147 671.4h0M163.8 719.9h0M215.8 677.1h0M170.4 667.4h0M171.4 671.1h0M211.8 676.6h0M222.3 681.4h0M158.2 648.8h0M222.8 678.1h0M167 682.5h0M70.7 661.2h0M158.4 651.6h0M155.9 655.9h0M137.7 694.2h0M170.2 680.1h0M174.5 670.3h0M143.1 695.1h0M150.7 667.1h0M155 657.8h0M192.4 694.4h0M209.2 683h0M171.9 673.8h0M217.3 685.7h0M216.2 690.1h0M217.2 677.3h0M110.2 682.4h0M215.7 680.8h0M141.6 698.4h0M218.6 673.7h0M147 674.6h0M218.3 693.8h0M212 677.7h0M160.6 674.3h0M208.9 678.5h0M205.8 682.9h0M169.6 693.4h0M217.1 678.8h0M148.8 665.1h0" stroke="#d9c9b1" stroke-width="2.3"/>
<path d="M207.4 686.7h0M167.9 672.1h0M169.3 669.3h0M165.5 672.2h0M170.2 677h0M225 674.4h0M146.2 666.9h0M150.4 678.2h0M159.3 675.4h0M96.1 702.6h0M213.6 684.1h0M214.5 682.6h0M213.2 682.2h0M205.6 679.7h0M214.1 690.9h0M173.1 672.5h0M171 676.6h0M161.5 666.5h0M197.4 684.3h0M162.6 681.2h0M215.6 686.7h0M216.3 676.6h0M208.8 675.9h0M219 675.7h0M206 684.6h0M146.3 668.8h0M169.2 674.9h0M219.8 679.9h0M155.6 666.4h0M229.5 675.9h0M147 671.4h0M163.8 719.9h0M215.8 677.1h0M170.4 667.4h0M171.4 671.1h0M211.8 676.6h0M222.3 681.4h0M158.2 648.8h0M222.8 678.1h0M167 682.5h0M70.7 661.2h0M158.4 651.6h0M155.9 655.9h0M137.7 694.2h0M170.2 680.1h0M174.5 670.3h0M143.1 695.1h0M150.7 667.1h0M155 657.8h0M192.4 694.4h0M209.2 683h0M171.9 673.8h0M217.3 685.7h0M216.2 690.1h0M217.2 677.3h0M110.2 682.4h0M215.7 680.8h0M141.6 698.4h0M218.6 673.7h0M147 674.6h0M218.3 693.8h0M212 677.7h0M160.6 674.3h0M208.9 678.5h0M205.8 682.9h0M169.6 693.4h0M217.1 678.8h0M148.8 665.1h0" stroke="#f3e3cd" stroke-width="1.75"/>
<path d="M161.2 650.5h0M162.6 713h0M218.7 686.2h0M163.4 658.7h0M173 693.4h0M198.2 682.5h0M158 675.9h0M212.4 678.8h0M111.2 716.5h0M108.7 721.3h0M189.7 677.9h0M190.1 681.5h0M185.2 650.9h0M104.8 711.3h0M218.6 678h0M164.8 672.6h0M194.9 683.1h0M220.7 678.5h0M192.9 684.3h0M106.3 693.7h0M161.6 645.3h0M191.3 677h0M155.1 707.3h0M215.5 685.3h0M123.7 711.9h0M148.8 673.5h0M192.4 682.1h0M162.6 675.9h0M192.3 678.6h0M213.2 692h0M152.2 657.9h0M160.8 679.1h0M143.8 681.2h0M106.1 676.1h0M214.7 695h0M156.5 677.8h0M103.2 693.6h0M80.7 673.6h0M233.5 659.3h0M93.7 688.7h0M155.1 663h0M112.1 718h0M182.9 669.3h0M132.5 678.5h0M114.4 698.9h0M226.5 674.7h0M194.9 680.4h0M93.9 670.5h0M156.7 669.1h0M100.5 681.1h0M169.2 672.8h0M194.1 684.6h0M88.4 668.5h0M83.4 672h0M224.8 678.6h0M196.3 690.7h0M224.3 670.9h0M108.3 724.6h0M199.6 690.1h0M218.6 679h0M221.1 681.7h0M169.5 682.8h0M218 679.7h0M158.2 653.9h0M192.9 676.4h0M163.7 665.4h0M148.7 668.8h0M215.9 682.1h0M153.5 665.6h0M145.4 667.8h0M141.6 683.9h0M176.4 667.7h0M145.8 670.9h0M221 675.5h0M93.8 685.7h0M194 680h0M143.4 675.8h0M160.9 662.6h0M195.4 681h0M199.8 663.2h0M146.2 672.1h0M108.3 729.6h0M191.3 691h0M188.8 675.9h0M160 671.3h0M163 703.8h0M149.7 679.4h0M203.5 685.5h0M166.5 671.1h0M173.9 684.1h0M202.4 684.7h0M222.7 683.5h0M195 685.3h0M163.3 671.1h0M92.4 678.3h0M191.9 675.3h0M146.6 676.1h0M188.3 657.8h0M156.6 661h0M169.5 673.5h0M134.7 654h0M199.2 685.5h0M189.2 664.7h0M189.8 676.2h0M95 683.9h0M105.3 727.5h0M169.9 684.9h0M168 680.1h0M161.3 675.6h0M159.5 659.5h0M165.3 717.6h0M183.7 661.7h0M153.8 701.5h0M125.3 710.2h0M150.9 657h0M159.2 671.8h0M160.5 680.7h0M160 722.7h0M148.1 677.4h0M141.4 670h0M148.8 669.7h0M155.4 670.7h0M202.5 685.9h0M214.1 693.3h0M151.3 678.5h0M171.8 675.1h0M146.6 695.4h0M142.8 667.4h0M144.9 666.2h0M106.5 725.6h0M166.7 674.7h0M191 687.3h0M194.8 681.5h0M159.3 678.9h0M144.3 670.8h0M159.1 657.5h0M159.4 667.7h0M164.6 713h0M192 683.4h0M170.5 682.7h0M165.6 674.2h0M211.9 684.8h0M199.3 686.5h0M150.2 680.8h0M191 693.6h0M197.4 646.7h0M152.2 660.3h0M80.8 668.5h0M228.8 677.4h0M167.2 672.8h0M164.3 682h0M157.3 656.1h0M151.3 679.9h0M163.7 674h0M150.3 658h0M79.1 673h0M223.2 681.1h0M190.7 683.4h0M166.1 693.1h0M152.7 656.9h0M159.4 673.6h0M187.3 684.2h0M219.2 693.2h0M218.1 689.9h0M189.6 679.3h0M146.8 667.6h0M169.7 678.6h0M189.6 675.3h0M106.6 728h0M149.2 698.8h0M168.3 663.2h0M158.2 669.3h0M167.9 667.6h0M150.1 664.5h0M144.5 682.1h0M166.9 678h0M107.7 733.6h0M212.6 684.7h0M103.7 690h0M185.9 678.6h0M89.6 672.9h0M141.8 682.4h0M159 656.3h0M182.8 679.7h0M88.5 683h0M164.2 678.6h0M123.1 710.8h0M196.1 685.6h0M153 672.1h0M105.2 709.2h0M157.3 678.4h0M153 658.5h0M114.2 707.9h0M217.1 676h0M221.3 657.1h0M157.4 676.5h0M125.2 708.5h0M187.3 682.8h0M208.4 671.3h0M97.2 688h0M150.3 666.4h0M168.4 664h0M197.4 679.7h0M81.6 672.6h0M94.9 670h0M212.7 683.2h0M193.3 682.2h0M185.8 682.5h0M214.6 677.9h0M141.3 667h0M162.2 676.8h0M108.3 704.5h0M187.8 676.6h0M195.9 679.7h0M172.6 665.9h0M168.9 683.4h0M157.7 681.5h0M151.1 659.1h0M158 652.8h0M116.1 721.2h0M163.3 673h0M155.4 681.3h0M121.1 710.6h0M159.7 647.2h0M214 685h0M156.9 649.4h0M197.1 681.4h0M213.7 694.4h0M174.5 671.7h0M152.6 679.7h0M186 679.9h0M140.9 681.8h0M112.3 723.8h0M166.1 699.7h0M154.1 658.6h0M141.8 677.7h0M210.5 670.9h0M201 685.6h0M77 673h0M165.9 677.2h0M87.9 670.3h0M170.6 671.1h0M214.6 681.8h0M147.3 666.7h0M151.5 683.9h0M202.9 683.7h0M159.6 651.3h0M160 645.3h0M171.7 667.1h0M212.1 683.7h0M156.4 674.1h0M152.2 680.4h0M219.4 694.3h0M151.8 676.5h0M189.7 658.2h0M118 717.5h0M170.9 668.3h0M159.4 679.9h0M218.3 688.6h0M148.3 663.1h0M195.8 693.4h0M102.7 674.1h0M221.2 657.1h0M145.9 679.7h0M170.3 673.6h0M172.4 667.9h0M158.1 666.6h0M171.5 663.2h0M171.2 674.3h0M169.2 676.2h0M192.8 675.1h0M217.7 691.6h0M196.6 679.2h0M146.6 675.4h0M153.7 680.4h0M217.7 685h0M196.1 682.5h0M228.5 678.6h0M187.5 677.7h0M150.6 668.4h0M197.3 678h0M191.3 678.4h0M116.3 718.8h0M187.4 684.9h0M163.4 662.9h0M153.6 656.5h0M166.3 664.3h0M191.8 677.7h0M95 677.7h0M144.2 664.3h0M148.5 660.9h0M211 678.6h0M193 678.9h0M200.1 663.6h0M153.1 700h0M198.7 681.4h0M161.7 665.3h0M97.8 690.9h0M202.2 687.4h0M107.7 727.1h0M219.1 684.8h0M151.9 674h0M147.8 672.7h0M216.5 674.8h0M167.4 683.4h0M146.9 670.3h0M160.6 672.9h0M167.1 664.4h0M95.6 671.9h0M158.4 670.9h0M161.9 675.1h0M150.5 662.8h0M155.7 657.5h0" stroke="#f6c8a6" stroke-width="2.2"/>
<path d="M181.2 680h0M78.6 670h0M214.4 700.4h0M156.7 659.9h0M82.8 677.7h0M229.7 725.5h0M205.2 691.2h0M144.3 667.2h0M126 709.6h0M164.3 662.1h0M213 686.5h0M202 689.2h0M81 681.1h0M104.1 691.8h0M150.8 679.4h0M231.3 705.8h0M214 701.6h0M88.3 672.9h0M154.8 665.2h0M213.3 721.7h0M118.7 706.5h0M83.2 665.6h0M106.9 729.9h0M86.3 678.3h0M147.2 669.2h0M109.7 673.1h0M200.8 691.9h0M114.3 710.7h0M193.5 681.1h0M83.2 680.3h0M109.7 713.4h0M91.4 680.8h0M93 669.9h0M111.2 707.8h0M155.2 669.4h0M218.9 700.5h0M212.2 692.4h0M233 715.6h0M116.4 706.5h0M122.5 712.7h0M212.6 696.6h0M216.3 698.6h0M213 702.2h0M157.3 666.3h0M210.1 679.6h0M247.4 726.8h0M151.2 662.1h0M161.4 681.7h0M215.2 696.2h0M134.5 654.3h0M211.8 687.9h0M200.3 688h0M208.2 701.7h0M108.7 739.1h0M122.4 704.1h0M109.7 694h0M205.8 692h0M212.4 702.6h0M99.7 691.1h0M209.2 688.8h0M193.2 674.5h0M122.5 711.2h0M241.7 715.1h0M204.3 693.6h0M248.3 712.4h0M107.4 723.7h0M106.3 735.4h0M190.4 678.4h0M84.5 675.3h0M98.2 674.9h0M150.5 677.4h0M108.4 728.8h0M90.5 668.9h0M222 709.1h0M106.9 709.8h0M227.5 703.6h0M91.8 670.2h0M126.8 709h0M163.4 672h0M214.9 699.2h0M106.4 731.3h0M115.3 710.1h0M132.4 678.5h0M212.1 690.7h0M107.5 691.7h0M206.4 688.2h0M95.9 686.3h0M108.1 736.8h0M153.9 673.6h0M112.3 706.7h0M107.7 674.7h0M106.6 672.1h0M112.1 698.1h0M218.2 691h0M105.4 673.6h0M217.4 704.5h0M98.9 687h0M208.6 703.3h0M161.5 647.5h0M215 690h0M198 685.3h0M161.3 678.5h0M107.6 736h0M164.7 663.6h0M193 690.9h0M189.2 699.8h0M92.5 684.9h0M214.4 713.5h0M111.7 726.8h0M122 711.8h0M154.3 667.4h0M148.8 679.4h0M75.9 670.2h0M194.8 687h0M101.8 691.3h0M206.8 689.5h0M206 689h0M151.2 656.3h0M215.5 701.9h0M98.3 680.9h0M218 674.8h0M119 712.2h0M106 726h0M154 668.6h0M145.4 664.1h0M101.6 688.5h0M113.5 697.6h0M161.8 659h0M230.8 708h0M217 697.4h0M205.8 689.8h0M82.6 668.7h0M123.2 704.4h0M98.9 689.9h0M95.1 686.4h0M87.7 681.1h0M168.9 678.7h0M190.8 677.8h0M218.2 703.7h0M188.9 677.9h0M213.5 703.8h0M111.1 722.7h0M219.2 697.4h0M153.4 678.9h0M213.6 690.3h0M157.8 680.8h0M209.7 694.6h0M85.2 666.8h0M158.3 679.2h0M206.7 693.7h0M105.2 694.6h0M173 683.6h0" stroke="#ee9468" stroke-width="2.2"/>
<path d="M96.7 683.8h0M96.3 682.8h0M86.5 685.1h0M117.9 707.5h0M187.5 668.6h0M91.3 691.7h0M113 709.5h0M114.8 696.7h0M109.9 711.1h0M218.2 708h0M179.1 667h0M104.8 705.8h0M81.4 670.7h0M81.4 677.9h0M212.2 699.3h0M100.4 682.7h0M211.6 706.5h0M101.6 705h0M105.1 677.2h0M105.8 698.8h0M92.1 687.1h0M107.7 694.3h0M88.7 667h0M242.8 713.5h0M107 726.6h0M209.4 693.5h0M94.2 686.7h0M115.7 703.2h0M111.8 697.7h0M110.3 726.5h0M76.6 671.9h0M98.1 675.9h0M107.7 732.3h0M96.9 672.6h0M213.4 701.1h0M78.4 674.1h0M97.1 687.2h0M209.8 698.1h0M85.1 664.7h0M203.3 694h0M206.7 667h0M92.4 691.6h0M102.6 705.4h0M105.3 729.5h0M106.7 729.6h0M85 683.9h0M115.1 714.8h0M212.2 701.8h0M84.2 663.5h0M113 722.7h0M190.6 651.7h0M114.6 709.3h0M113.4 695.9h0M105 705.1h0M104.3 690.7h0M92.8 687.5h0M92.9 692.6h0M82.7 682.9h0M88.3 679.1h0M114.5 704h0M108.6 726.6h0M211.2 690.8h0M107.9 726.1h0M106.5 690h0M202.8 690.6h0M91.4 671.7h0M83.1 681.9h0M110.6 705.9h0M237.9 666.6h0M246.7 725.5h0M215.9 670.1h0M245.6 728.8h0M210.7 689.3h0M110.7 710.8h0M91.9 673.8h0M219.3 696h0M176 664.7h0M213.8 700h0M203.1 696h0M109.7 675.9h0M214 696.6h0M84 666.9h0M205 689h0M82.6 673.5h0M209.8 701h0M110.5 704.4h0M194.4 664.7h0M103.7 673.4h0M202.6 688.6h0M114.5 713.5h0M123 709.1h0M213.9 698.8h0M85.4 670.3h0M111.1 701.5h0M108.4 730.7h0M218.3 699h0M217.9 696.4h0M80.9 677.3h0M99.6 683.2h0M79.8 677.2h0M94.2 674.1h0M83.4 684.1h0M105.6 700.5h0M100.7 687.1h0M107.3 735.1h0M93.8 684.2h0M195.8 663.6h0M106.7 675.6h0M216.6 712.4h0M114.3 695h0M123.2 710h0M107.7 729h0M86.6 676h0M88.7 681.9h0M212.2 695.7h0M94.8 688.5h0M201.8 696.2h0M82 671.4h0M234.1 722.8h0M86.7 665.9h0M108 713.2h0M79.1 676.4h0M104.2 675.6h0M89.6 681.2h0M80.5 675.1h0M72.7 664.3h0M217.1 720.6h0M121.4 712.4h0M109.1 729.2h0M94.3 685.1h0M92.9 686.1h0M211.4 689.4h0M210.5 695.8h0M109.2 726h0M235.2 718.9h0M99.7 673.8h0M107.3 690.8h0M102.7 707h0M120.8 715.3h0M206.7 667.2h0M108.7 727.3h0M210.9 697.9h0M211.1 698.8h0M227 714h0M117.9 716.6h0M231.9 724.4h0M107.5 678.2h0M201.3 688.6h0M78.9 665.4h0M94.7 682.9h0M85.1 682.6h0M214.7 701.1h0M80.7 669.3h0M86.4 672.9h0M210.3 690.1h0M121.8 708.6h0M107.5 731.3h0M124.7 710.9h0M114.2 721.4h0M93 682.8h0M226.4 723.3h0M215.7 670.2h0M207.1 687.5h0M63.5 653.2h0M89.9 679.9h0M82.1 681.7h0M120 710.5h0M98.1 688.9h0M179.9 662.4h0M205.3 687.4h0M96.7 688.8h0M92.9 691h0M101.9 672h0M78.6 671.2h0M92 672.2h0M111.5 709.7h0M217.5 699.3h0M112.8 694.9h0M109.9 728.7h0M90.6 673.2h0M114.2 722.6h0M216.6 704.8h0M108.4 738.7h0M90.6 683.7h0M115.9 708.1h0M234.3 717.3h0M76.6 674h0M109.1 673.6h0M108.1 702.1h0M122.1 706.9h0M107.2 731.7h0M117.6 712.2h0M95.7 687.9h0M82.5 679.5h0M107.5 733.7h0M101.9 702.4h0M234.7 720.9h0M215.5 715.6h0M98.9 684.5h0M208 697.3h0M120.5 708.8h0M108.2 708h0M92.9 669h0M96.5 685.3h0M210.5 700h0M81 671.9h0M62 657.8h0M211 693.1h0M114.8 718h0M107 731.9h0M230.2 712.4h0M231.6 714h0M114.3 716.1h0M204.2 690.1h0M104.3 679.8h0M94.1 690.7h0M197.5 646.3h0M125.2 706.7h0M205.5 695.4h0M107 676.9h0M209.2 697.6h0M231.3 728.8h0M84.2 662.4h0M99.2 675.5h0M95.6 685.3h0M111.2 695.9h0M111 726.5h0M89.6 687.9h0M92 684.1h0M243.9 731h0M119.4 716.8h0M78.2 677.4h0M223.7 716.2h0M88.6 673.9h0M117.3 709h0M87.9 674.4h0M203.1 697h0M109.3 728h0M190.8 651.6h0M102.1 686.8h0M100 686.7h0M119.5 713h0" stroke="#d63e2a" stroke-width="2.5"/>
<path d="M109.4 677h0M87.5 687.6h0M94.9 671.5h0M99 679.1h0M101.4 692.4h0M94.1 671.5h0M98.8 679.9h0M84.4 683.1h0M100.2 685.1h0M82.2 680.9h0M98.3 686.3h0M93.8 681.2h0M107.8 677.2h0M87.4 671h0M95.8 684.2h0M94.7 674.6h0M100.9 676.1h0M83.5 673.8h0M97.1 671.1h0M93.8 672.6h0M98.1 691.7h0M94.1 677.3h0M87 670.2h0M86.3 667.2h0M95.3 681.3h0M95.8 689.2h0M92.7 671.4h0M96.3 680.7h0M85.2 678.4h0M94.7 680.2h0M90.2 677.2h0M103.8 692.7h0M93.4 690.1h0M98.2 673.4h0M79.7 671.9h0M82.1 677.6h0M99.7 690.3h0M78.6 678.1h0M100.5 689.8h0" stroke="#ad1313" stroke-width="2.5"/>
<path d="M224.5 683.2Q223.4 684 222.2 684.2M223.8 683.6Q225.3 684.6 226.7 685.2M224.9 682.2Q224.8 682.8 224.7 683.5M224.1 682.8Q221.9 682.8 219.8 681.4M224.6 682.5Q224.9 681.5 225.2 681M224.4 682.4Q226.8 683.8 229.1 684.2M223.9 681.7Q224.3 682.3 224.7 682.8" stroke="#2c6c9c" stroke-width="0.6" stroke-opacity="0.8"/>
</g>
<g id="map_d1" fill="none" stroke-linecap="round">
<path d="M286.4 378.9Q381.9 435.4 477.5 414.1M282.6 378.7Q368.5 433.8 454.5 404.8M293.7 373.8Q377.1 429.4 460.5 414.1M289.2 375.9Q384.2 441.3 479.1 401M341.9 411.3Q401.2 439.3 460.5 414.1M347.1 407.4Q409.8 426.3 472.5 403.7M356 397.1Q406.6 420.3 457.2 411.9M338.1 423.7Q406.4 455.8 474.7 419.6M319.1 367.7Q381.9 350 444.7 387.4M332.6 379.9Q391.3 352.7 450 386M328.9 380.3Q387.7 350.2 446.5 369.4M336 383.2Q384.8 358.1 433.6 379.2M327.5 377.4Q386.7 354.1 445.9 381.6" stroke="#2c6c9c" stroke-width="0.5" stroke-opacity="0.28" stroke-dasharray="2.5 0.8"/>
<path d="M455.8 363C417.3 385.8 364.4 406.8 325.9 375M457.3 373.1C413.3 394.3 379.1 393.4 335.1 368.4M457.3 373.1C416.7 401.9 372.1 393.3 331.5 375.7M454.6 372.4C412.1 393.2 382.9 407.6 340.5 382.6M455.8 372.1C416 392.8 380.4 395.5 340.5 361.7M454.6 372.4C407.8 397.1 370 390.2 323.2 366.9M456.9 371.9C422.7 388.6 360 400.9 325.9 375M456.5 368.3C408.5 387.5 382 408.1 334 382.2M453.9 371.8C407.7 399.3 380.7 388.6 334.5 362M454.6 372.4C407.6 387.7 373.3 395.9 326.4 373.9M453.9 371.3C415.2 386.1 352 387.2 313.3 368.1M455.8 363C405.2 379.5 363.5 387.4 312.9 366.2M454.8 370.7C414.1 396.8 368.6 408.9 327.9 375.8M456.5 368.3C413.6 385.8 354.2 405.3 311.3 363.7M456.9 371.9C422.2 402.5 360.5 408.4 325.8 372.5M455.8 363C421.2 377.7 372.9 414.2 338.3 380.3M455.5 370.4C398.6 398.3 367.5 404.4 310.6 365.8M454.7 365.3C416 383.8 374.6 393.6 335.9 365.8M453.6 372.2C416.6 386.9 362.5 390 325.5 368.8M454.7 365.3C414.8 388.3 371.2 389.6 331.3 369.7M454.6 372.1C404.8 396.9 367.2 399.9 317.4 364.6M454.8 370.7C415.4 393.1 362.7 417.8 323.2 380.2M453.5 371.9C406.3 401.1 360.2 392.7 313 369.5M456.6 369.4C414.2 386.6 368.9 409.1 326.5 376.5M456.6 369.4C422.4 399.8 359.8 406.6 325.6 377.1M455.5 370.4C419.9 386.9 365.2 396.3 329.6 368.5M453.9 371.8C400.5 392.6 362.7 400 309.4 366.7M456.6 369.4C399.3 403.5 368.7 381.3 311.3 363.7M453.6 372.2C420.7 400.9 357.9 417.5 324.9 379.3M428.9 381.4C398.1 390.1 357.1 390.3 326.4 373.9M429.2 382.6C394.1 390.9 347.3 379.6 312.2 366.5M429.2 385.2C398.1 394.6 356.6 386.8 325.5 368.8M429.5 382C402.6 385.2 366.8 372 339.9 362.2M428.7 384.5C401.7 389.9 365.6 379.4 338.5 363.3M429.2 382.6C398.8 388 358.4 390.9 328 376.6M428.2 384.4C393.4 388.6 347 387.2 312.2 366.5M426.5 382.9C397.2 389.6 358.2 379 328.9 364.5M455.5 370.4C405.2 402.9 338.2 408.7 288 378.4M288.4 379Q307 363.6 325.5 368.8M288.4 378.9Q300.1 370 311.8 369.7M288.1 379Q308.6 358.7 329 362M288.7 379Q309.2 372.5 329.7 375.6M288.4 378.8Q300.9 360.6 313.4 357.3M454.6 372.4Q475.8 387.2 473.6 402.1M454.6 372.4Q488.7 396 474.7 419.6M455.5 370.4Q472.4 385.7 461 401M456.6 369.4Q463.2 386 457.8 402.6M453.6 372.2Q467.8 392 457.2 411.9M451.5 367.1Q465.4 392.3 462.1 417.4M455.5 370.4Q483.7 392.9 478.2 415.4M453.9 371.8Q420.6 362.7 387.2 362.7M453.8 373.2Q426.9 371.8 400 363.5M451.5 367.1Q418.7 357.3 385.9 351.6M454.8 370.7Q418.7 360.5 382.6 348M456.5 368.3Q418 361.4 379.5 357.4M455.6 367.2Q416.6 363.2 377.6 356.2M453.8 373.2Q424.4 376.7 395 369M457.3 373.1Q429.9 367 402.5 355.7M453.9 371.3Q421 375 388.1 367M456.3 370.3Q428.4 364.8 400.5 367.2M453.9 371.3Q425.9 361.5 397.9 357.1M457.3 373.1Q439.6 379.1 421.8 375.9M456.3 370.3Q442.2 379.6 428.2 384.4M454.6 372.1Q441.1 381.3 427.7 383.7M451.1 367.8Q439.4 377.7 427.7 383.7M453.5 371.9Q440.1 373 426.7 368.3M456.3 370.3Q442.8 377.7 429.2 382.6M455.6 367.2Q438.9 369.5 422.1 365.6M451.5 367.1Q434.1 371.5 416.8 368.5M455.6 367.2Q439.4 378.1 423.2 383M453.8 373.2Q447.9 376.8 442 379.4M451.5 367.1Q447.2 376.3 443 390.4M454.6 372.1Q448.2 380.7 441.9 387.4M454.6 372.1Q450.5 373.2 446.4 375.3M455.6 367.2Q446.2 373.7 436.8 377.6M457.3 363.3Q450.6 369 444 370.8M454.8 370.7Q449.8 373.1 444.8 373.6M454.6 372.4Q446.1 371 437.6 372M457.3 373.1Q450.7 377.4 444 380.6M454.9 371.4Q448.2 369.5 441.5 368.9M453.9 371.8Q443.9 379.5 433.9 385.6M456.3 370.3Q449.9 370.1 443.4 373.3M455.6 367.2Q447.1 369.1 438.5 368.3M451.5 367.1Q442 376.4 432.6 384.8M455.6 367.2Q458 365.6 460.3 364.5M454.7 365.3Q449.3 375.4 444 384.5M455.8 372.1Q452.6 370.1 449.4 367.6M456.6 369.4Q452.3 388.9 447.9 409.2M455.8 372.1Q452.9 378.5 450 381.8M309.7 354Q381.7 334.2 453.6 372.2M312.9 366.2Q383.9 346.7 454.8 370.7M323.5 360Q389 342.7 454.6 372.1M326.4 360.5Q391 346.4 455.6 367.2M325.8 366.3Q390.3 344.9 454.9 371.4M331.5 375.7Q352.5 362.4 373.6 356M323.2 380.2Q351.4 364.3 379.6 362.1M326.6 372.8Q353.8 367 380.9 353.1M327.1 371.4Q358.1 357.2 389 357.9M338.3 380.3Q364.1 358.2 389.9 358.5M317.5 354.5Q341.5 349.1 365.5 342.6M311.3 363.7Q347.3 358.2 383.4 368.3M315.9 353.3Q358 354.6 400 363.5M325.5 363.2Q351.5 354.8 377.4 364M353.3 399.8Q405.3 393.7 457.3 363.3M346.5 391.8Q398.8 386 451.1 367.8M352.9 395.5Q404.3 389.2 455.8 363M351.9 399.2Q390.5 399.9 429.2 385.2M338.3 422.3Q383.5 415.2 428.7 384.5M331.3 378.4Q360.6 369.8 389.9 346.1M330.4 371.8Q360.1 353.4 389.9 346.1M315.2 371.7Q351.3 374 387.3 366.4M345.2 387.5Q372.3 376.9 399.3 363.1M316 355.4Q344.3 354.3 372.6 371M323.7 374.7Q350.5 370.9 377.4 364.7M337.8 365.5Q370.8 374.7 403.8 372.2M329.7 373.1Q359.5 348.4 389.2 340.2M321 365.8Q352.3 367.4 383.6 354.4M326.6 372.8Q353.9 373.5 381.3 366M324.2 378.7Q351 371.9 377.8 360M382.6 348Q404.1 362.9 425.6 370.1M393.9 353.6Q409.8 364.1 425.8 373.9M388.4 356.4Q407.6 367.4 426.9 374.2M401.7 356.9Q415.3 366.9 428.9 381.4M398.7 360.7Q411.3 368.4 423.8 379.5M390.1 338.5Q409 353.9 427.9 370M388.1 354.9Q407.3 370.7 426.6 382M401.8 365.2Q411.1 368.1 420.5 366.5M394.2 347.3Q407.9 359.3 421.6 366.4M382.1 368.5Q401.9 361.9 421.6 366.4M398.3 362.2Q412.9 368.5 427.4 367.8M390.5 335.8Q408.1 352.6 425.6 370.1M385.6 353.8Q406.3 365.6 427.1 379.3M398.7 360.7Q426.8 368.8 454.8 370.7M397.3 359.7Q424.4 367.1 451.5 367.1M394.5 354Q425 363.9 455.5 370.4M395 367.2Q424.8 372.9 454.6 372.1M386.2 341.4Q419.9 358.3 453.5 371.9M389.1 367.8Q421.9 367.3 454.7 365.3M320.7 368.5Q328 383.9 341.5 399.4M327.1 369.3Q327.4 390.3 341.9 411.3M329.8 367.7Q339.8 382.7 348.1 397.6M322.2 360.3Q329.2 377 335.8 393.7M338.1 379.4Q342.6 391.4 345.9 403.4M328.6 379.5Q336.6 387.4 356 395.3M317.8 358.8Q327.5 380.3 338.8 401.8M331.5 375.7Q335.9 390.2 345.1 404.7M321.4 372.3Q338.5 382 346.5 391.8M387.3 362Q364.2 393.6 341.1 415.1M363.3 367.1Q359.7 385 356.1 398.8M390.2 368.5Q364.5 387.3 338.8 401.8M386 358Q365.6 382.3 345.1 404.7M390 360.4Q369.3 385.4 348.7 405.2M399.1 351.8Q376.5 379.7 353.9 399.4M376.2 356.4Q364.7 382.1 353.3 401.3M387.4 349.6Q366.2 386.2 345 410M311.5 357.9Q319.3 361.8 327.1 371.4M314.3 362.4Q320.1 367 325.8 372.5M319.1 367.7Q326.9 378.3 334.6 381.3M322.8 372.7Q322.7 363.3 322.6 358.8M338.6 365.8Q334.3 366.5 330 364.1M326.1 369.9Q319 369.2 311.8 369.7M307.4 362.6Q316 366.5 324.6 369.8M329.1 374.9Q320.4 369.7 311.7 365.9M315.8 372.5Q319.5 368.9 323.2 366.9M319.3 371.6Q328.7 374.8 338.1 379.4M338.5 363.3Q341.4 376 344.3 386.2M312.8 360Q321.3 366.7 329.8 367.7M321.4 361.8Q328.1 371.7 334.9 380.4M332.2 381Q334.2 375 336.2 362.2M395 367.2Q384.3 361 373.6 356M382.6 348Q398.6 353.8 414.5 350.3M388.2 365.1Q387 357.2 385.9 351.6M395.1 350.7Q399.6 352.9 404.1 358.3M390.3 348.1Q397.8 354.9 405.3 358.9M398.2 372Q388.6 362.5 379.1 351.7M388.9 355.2Q382.8 363.6 376.7 368.3M399.7 367.3Q392.4 362.5 385.1 356M396.9 336.5Q398.7 351.3 400.5 367.2M391.4 362.9Q405.2 353.7 419.1 346.4M391.1 356.2Q391.6 361.3 392.2 370.3M381.9 360.4Q386.3 360.4 390.8 359.9M395.5 352.2Q386.3 352.4 377.1 357.4M379.3 363.9Q388.4 370.5 397.5 367.8M391.1 356.2Q387.6 362.2 384.2 367.5M388.1 366.1Q383.8 368.7 379.6 368M452.1 345.7Q425.6 350.7 399.2 361.6M446.5 358.8Q419.1 341.8 391.7 351.2M441.3 359.5Q449.1 359.9 456.9 371.9M446.5 358.8Q414 345.4 381.6 368M419.1 346.4Q401.7 353.6 384.2 367.5M430.9 352.2Q414 350.9 397.1 369.1M452.1 345.7Q425.2 338.8 398.3 362.2M455.1 359.5Q425.1 354.7 395.1 370.6M396.1 406.2Q407.2 391.5 418.2 373.5M365.2 381.2Q383.7 375 402.2 359.7M384.6 390.1Q378.4 368.7 372.1 355.6M396.9 381.7Q404.4 377.1 412 368.6M394.6 400.1Q394.7 385.3 394.8 364.1M396.9 381.7Q412.5 374.3 428.1 366.6M368.5 382.8Q375.8 370 383 348.9M457.2 411.9Q442.7 403.6 428.2 384.4M474.7 419.6Q451.7 408.9 428.7 384.5M478.2 415.4Q453.2 405.5 428.2 384.4M479.1 401Q454 393.6 428.9 381.4M478.2 415.4Q449.1 411 420 388.4M294.3 341.8Q309.4 363.6 324.6 369.8M292.8 346.4Q315.1 366.7 337.5 364.2" stroke="#2c6c9c" stroke-width="0.33" stroke-opacity="0.66"/>
<path d="M457.3 363.3C415.8 378.6 373.7 396.7 332.2 381M456.6 369.4C413.3 395.6 385.3 403.6 342 384.5M455.6 367.2C409.7 391.2 357.1 379.8 311.3 363.7M455.5 370.4C412 384.1 381.8 384.6 338.3 366.8M428.7 384.5C399.3 393.5 360 392.3 330.5 379.7M426.5 382.9C395.6 392.1 354.5 387.7 323.6 376.1M429.2 385.2C398.1 393.5 356.6 397.8 325.6 377.1M454.8 370.7C404.9 388 338.3 409.1 288.3 378.6M454.9 371.4C405 397 338.4 400 288.5 379.1M456.9 371.9C406.4 396.8 339 406.8 288.5 379.1M454.6 372.1C404.8 400.7 338.5 406.6 288.7 378.4M457.3 363.3Q474.5 387.6 457.2 411.9M456.6 369.4Q474.2 386.8 463.8 404.2M455.6 367.2Q479.8 384.1 479.1 401M455.5 370.4Q478.5 390.9 464.9 411.4M453.6 372.2Q470.3 392.6 462.7 413M388.9 355.2Q405.8 364.1 422.8 372M400 364.8Q414.6 369.7 429.2 385.2M407.8 359.7Q418 368 428.2 372.9M390.4 343.7Q423.1 358.2 455.8 363M381.6 368Q404 377.1 426.5 382.9" stroke="#2c6c9c" stroke-width="0.55" stroke-opacity="0.85"/>
<path d="M327.5 372.4h0M412 368.6h0M309.4 358.6h0M318.3 376.2h0M449.5 374.8h0M322.1 380.3h0M388.8 364.5h0M345.6 385.3h0M342 405.1h0M449 396.6h0M313.6 366.3h0M460.5 414.1h0M374.8 354h0M436 379.8h0M375.1 355.8h0M335.6 399.9h0M312.2 366.5h0M395.1 350.7h0M442.4 395.1h0M335.9 365.8h0M395.6 361.2h0M322.9 375.7h0M311.8 369.7h0M381.6 368h0M392.4 333.9h0M462.1 394.4h0M354.5 400.5h0M319.1 361.5h0M401 365.6h0M379.6 362.1h0M440.2 382.1h0M325 375.3h0M444 380.6h0M346.5 391.8h0M391.6 367.7h0M455.8 363h0M445.5 383.6h0M338.5 420.9h0M444.2 389.7h0M311.5 362.2h0M324.5 377.3h0M440.6 386.7h0M378 357.8h0M345.1 399.3h0M413.7 357.9h0M437.5 355.6h0M314 368.9h0M323.2 380.2h0M379.3 363.9h0M329.6 368.5h0M425.7 369h0M376.2 373.3h0M315.8 372.5h0M345.9 403.4h0M424.9 373.2h0M443 390.4h0M386 358h0M427.1 379.3h0M315 352.1h0M443 381h0M421.4 340.3h0M451.9 370.3h0M400.3 371.4h0M335.8 393.7h0M335.1 379.3h0M394.5 354h0M323.6 376.1h0M391.6 365.5h0M376.2 356.4h0M313 369.5h0M376.6 359.5h0M323.7 381.2h0M478.2 415.4h0M392.2 370.3h0M329.1 374.9h0M319.1 367.7h0M374.2 364.4h0M442 379.4h0M426.2 369.6h0M433.6 379.2h0M313.9 370.5h0M377 360.7h0M422.1 379.6h0M318.2 359.6h0M419.6 364.5h0M446.7 358.7h0M353.2 392.7h0M393.8 392.4h0M434.3 374.1h0M436.4 368.3h0M447.2 377.1h0M443.2 391.2h0M330.5 379.7h0M322.7 362.4h0M394.1 359.7h0M422.7 363.9h0M377.4 364.7h0M456.6 369.3h0M406.8 353.3h0M433.9 384.6h0M453.7 368.7h0M420 353.3h0M314.8 355.5h0M336.1 416.1h0M289.2 379.4h0M398.8 368.7h0M392.1 364.2h0M440.6 389.6h0M414.5 350.3h0M326.6 372.8h0M345.3 402.1h0M368.5 372.5h0M444.7 387.4h0M446.4 375.3h0M325.5 363.2h0M390 360.4h0M339.2 419.3h0M381.3 366h0M448.7 385h0M339.2 417.4h0M314.3 362.4h0M397.9 357.1h0M386.2 359.3h0M444.9 381.9h0M330.4 371.8h0M402.6 363.7h0M325 362.7h0M452.8 397.7h0M337.7 398.4h0M324.6 361.2h0M458.3 392.2h0M390.1 367.5h0M331.5 375.7h0M399.6 360.1h0M397.5 367.8h0M447.4 401h0M390.2 356.3h0M400 363.5h0M387.2 346.3h0M396.4 362.8h0M430.1 375.1h0M421.8 382.2h0M389.9 358.5h0M428.2 335.3h0M337.2 419.9h0M435.5 373.9h0M346.1 398.7h0M447.4 370.4h0M460.3 364.5h0M317.4 364.6h0M319.5 370.5h0M325.6 377.1h0M338.3 380.3h0M380.2 369.4h0M383.5 345.5h0M390.2 362.2h0M338.8 401.8h0M309.9 365h0M447.3 375.2h0M420.4 367.9h0M384.7 362.2h0M446.6 365.7h0M337.4 360.7h0M420.4 363.9h0M401.2 356h0M394.8 364.1h0M447.9 409.2h0M337.4 416.6h0M352.2 401h0M323.5 360h0M325.1 373.7h0M323.7 374.7h0M453.1 370h0M401.3 364h0M385.8 350.1h0M338.5 422.2h0M443.4 373.3h0M338.1 379.4h0M351.6 403.9h0M453.6 366.7h0M441.7 386.5h0M457.8 402.6h0M338.3 366.8h0M309.7 354h0M325.5 371.5h0M445.5 389.7h0M445.8 378.6h0M397.8 371.1h0M317.2 361.5h0M352.6 397.2h0M395 367.2h0M353.9 399.4h0M338.3 419.9h0M395.5 352.2h0M388.1 367h0M383.8 347.1h0M446.5 358.8h0M437.9 376.1h0M447.9 364.6h0M420 388.4h0M320.7 368.5h0M352.8 400.4h0M312.9 370.3h0M385.1 356h0M401 368.7h0M379.6 368h0M399.2 352.6h0M399.6 369.3h0M424.1 370.8h0M445.4 366.5h0M328.9 377.5h0M372.1 355.6h0M436.1 376h0M436.8 377.6h0M418.6 365.2h0M403.4 354.5h0M309.4 359.8h0M322.8 360.8h0M382.6 348h0M342.3 398.3h0M346.9 409.8h0M381.5 355.7h0M452.3 371.9h0M390.5 335.8h0M329.1 369.5h0M324.2 378.7h0M339.2 427.3h0M346.7 396.7h0M465.1 405.9h0M307.4 362.6h0M448.8 363.4h0M339.9 362.2h0M384.8 357.2h0M352.9 395.5h0M332.4 377.1h0M371.7 370.4h0M392.6 347.6h0M332.7 391h0M465.5 409.5h0M440 371.6h0M329.7 373.1h0M461.6 396.6h0M307.8 361.6h0M396.7 365.8h0M318.7 358.9h0M442 369.9h0M327.3 373.9h0M313.4 357.3h0M445.4 370.4h0M380.7 356.7h0M292.8 346.4h0M433.7 372.3h0M390.4 339.9h0M341 371h0M318.5 369.7h0M390.8 333.9h0M402.5 355.7h0M312.9 366.2h0M442.9 372.3h0M428.3 334.9h0M450.2 382.9h0M404.1 358.3h0M449.4 362.3h0M390.2 368.5h0M337.8 365.5h0M377.8 363.2h0M462.1 417.4h0M315 351h0M379.6 355.6h0M330 364.1h0M403.2 356.5h0M402.3 351.8h0M449 392.3h0M342 384.5h0M444.3 392.4h0M423.6 363.7h0M427.4 367.8h0M384.5 369h0M426.9 371.1h0M474.7 419.6h0M384.2 367.5h0M309 366h0M422.1 367h0M319.4 362.5h0M384.4 345.1h0M397.1 352.9h0M325.8 366.3h0M379.3 349.5h0M444.4 378.9h0M433.9 385.6h0M423.8 367.5h0M392.5 353.9h0M316 355.4h0M449.9 373.4h0M421.6 340.2h0M389.1 367.8h0M437.5 382.3h0M336 383.2h0M407.8 359.7h0M448.6 366.4h0M389.2 359.5h0M381.3 351.4h0M350.3 401.6h0" stroke="#d9c9b1" stroke-width="2.1"/>
<path d="M327.5 372.4h0M412 368.6h0M309.4 358.6h0M318.3 376.2h0M449.5 374.8h0M322.1 380.3h0M388.8 364.5h0M345.6 385.3h0M342 405.1h0M449 396.6h0M313.6 366.3h0M460.5 414.1h0M374.8 354h0M436 379.8h0M375.1 355.8h0M335.6 399.9h0M312.2 366.5h0M395.1 350.7h0M442.4 395.1h0M335.9 365.8h0M395.6 361.2h0M322.9 375.7h0M311.8 369.7h0M381.6 368h0M392.4 333.9h0M462.1 394.4h0M354.5 400.5h0M319.1 361.5h0M401 365.6h0M379.6 362.1h0M440.2 382.1h0M325 375.3h0M444 380.6h0M346.5 391.8h0M391.6 367.7h0M455.8 363h0M445.5 383.6h0M338.5 420.9h0M444.2 389.7h0M311.5 362.2h0M324.5 377.3h0M440.6 386.7h0M378 357.8h0M345.1 399.3h0M413.7 357.9h0M437.5 355.6h0M314 368.9h0M323.2 380.2h0M379.3 363.9h0M329.6 368.5h0M425.7 369h0M376.2 373.3h0M315.8 372.5h0M345.9 403.4h0M424.9 373.2h0M443 390.4h0M386 358h0M427.1 379.3h0M315 352.1h0M443 381h0M421.4 340.3h0M451.9 370.3h0M400.3 371.4h0M335.8 393.7h0M335.1 379.3h0M394.5 354h0M323.6 376.1h0M391.6 365.5h0M376.2 356.4h0M313 369.5h0M376.6 359.5h0M323.7 381.2h0M478.2 415.4h0M392.2 370.3h0M329.1 374.9h0M319.1 367.7h0M374.2 364.4h0M442 379.4h0M426.2 369.6h0M433.6 379.2h0M313.9 370.5h0M377 360.7h0M422.1 379.6h0M318.2 359.6h0M419.6 364.5h0M446.7 358.7h0M353.2 392.7h0M393.8 392.4h0M434.3 374.1h0M436.4 368.3h0M447.2 377.1h0M443.2 391.2h0M330.5 379.7h0M322.7 362.4h0M394.1 359.7h0M422.7 363.9h0M377.4 364.7h0M456.6 369.3h0M406.8 353.3h0M433.9 384.6h0M453.7 368.7h0M420 353.3h0M314.8 355.5h0M336.1 416.1h0M289.2 379.4h0M398.8 368.7h0M392.1 364.2h0M440.6 389.6h0M414.5 350.3h0M326.6 372.8h0M345.3 402.1h0M368.5 372.5h0M444.7 387.4h0M446.4 375.3h0M325.5 363.2h0M390 360.4h0M339.2 419.3h0M381.3 366h0M448.7 385h0M339.2 417.4h0M314.3 362.4h0M397.9 357.1h0M386.2 359.3h0M444.9 381.9h0M330.4 371.8h0M402.6 363.7h0M325 362.7h0M452.8 397.7h0M337.7 398.4h0M324.6 361.2h0M458.3 392.2h0M390.1 367.5h0M331.5 375.7h0M399.6 360.1h0M397.5 367.8h0M447.4 401h0M390.2 356.3h0M400 363.5h0M387.2 346.3h0M396.4 362.8h0M430.1 375.1h0M421.8 382.2h0M389.9 358.5h0M428.2 335.3h0M337.2 419.9h0M435.5 373.9h0M346.1 398.7h0M447.4 370.4h0M460.3 364.5h0M317.4 364.6h0M319.5 370.5h0M325.6 377.1h0M338.3 380.3h0M380.2 369.4h0M383.5 345.5h0M390.2 362.2h0M338.8 401.8h0M309.9 365h0M447.3 375.2h0M420.4 367.9h0M384.7 362.2h0M446.6 365.7h0M337.4 360.7h0M420.4 363.9h0M401.2 356h0M394.8 364.1h0M447.9 409.2h0M337.4 416.6h0M352.2 401h0M323.5 360h0M325.1 373.7h0M323.7 374.7h0M453.1 370h0M401.3 364h0M385.8 350.1h0M338.5 422.2h0M443.4 373.3h0M338.1 379.4h0M351.6 403.9h0M453.6 366.7h0M441.7 386.5h0M457.8 402.6h0M338.3 366.8h0M309.7 354h0M325.5 371.5h0M445.5 389.7h0M445.8 378.6h0M397.8 371.1h0M317.2 361.5h0M352.6 397.2h0M395 367.2h0M353.9 399.4h0M338.3 419.9h0M395.5 352.2h0M388.1 367h0M383.8 347.1h0M446.5 358.8h0M437.9 376.1h0M447.9 364.6h0M420 388.4h0M320.7 368.5h0M352.8 400.4h0M312.9 370.3h0M385.1 356h0M401 368.7h0M379.6 368h0M399.2 352.6h0M399.6 369.3h0M424.1 370.8h0M445.4 366.5h0M328.9 377.5h0M372.1 355.6h0M436.1 376h0M436.8 377.6h0M418.6 365.2h0M403.4 354.5h0M309.4 359.8h0M322.8 360.8h0M382.6 348h0M342.3 398.3h0M346.9 409.8h0M381.5 355.7h0M452.3 371.9h0M390.5 335.8h0M329.1 369.5h0M324.2 378.7h0M339.2 427.3h0M346.7 396.7h0M465.1 405.9h0M307.4 362.6h0M448.8 363.4h0M339.9 362.2h0M384.8 357.2h0M352.9 395.5h0M332.4 377.1h0M371.7 370.4h0M392.6 347.6h0M332.7 391h0M465.5 409.5h0M440 371.6h0M329.7 373.1h0M461.6 396.6h0M307.8 361.6h0M396.7 365.8h0M318.7 358.9h0M442 369.9h0M327.3 373.9h0M313.4 357.3h0M445.4 370.4h0M380.7 356.7h0M292.8 346.4h0M433.7 372.3h0M390.4 339.9h0M341 371h0M318.5 369.7h0M390.8 333.9h0M402.5 355.7h0M312.9 366.2h0M442.9 372.3h0M428.3 334.9h0M450.2 382.9h0M404.1 358.3h0M449.4 362.3h0M390.2 368.5h0M337.8 365.5h0M377.8 363.2h0M462.1 417.4h0M315 351h0M379.6 355.6h0M330 364.1h0M403.2 356.5h0M402.3 351.8h0M449 392.3h0M342 384.5h0M444.3 392.4h0M423.6 363.7h0M427.4 367.8h0M384.5 369h0M426.9 371.1h0M474.7 419.6h0M384.2 367.5h0M309 366h0M422.1 367h0M319.4 362.5h0M384.4 345.1h0M397.1 352.9h0M325.8 366.3h0M379.3 349.5h0M444.4 378.9h0M433.9 385.6h0M423.8 367.5h0M392.5 353.9h0M316 355.4h0M449.9 373.4h0M421.6 340.2h0M389.1 367.8h0M437.5 382.3h0M336 383.2h0M407.8 359.7h0M448.6 366.4h0M389.2 359.5h0M381.3 351.4h0M350.3 401.6h0" stroke="#f3e3cd" stroke-width="1.6"/>
<path d="M451.1 367.8h0M317.3 373.7h0M340.2 365.6h0M325.7 360.1h0M418.3 357.2h0M394.2 347.3h0M343.8 398.1h0M443.2 367.4h0M387.5 348.5h0M329.8 367.7h0M398.7 360.7h0M437.6 372h0M420.9 370.1h0M400.1 357.9h0M335.6 394.4h0M312.2 359.3h0M443 387.9h0M443.8 375.1h0M396.3 360.8h0M336.6 387.4h0M425.7 371.7h0M451.5 367.1h0M337.1 382.3h0M338.5 382.9h0M422.1 365.6h0M446.3 373.9h0M444.8 390.2h0M385.6 353.8h0M473.6 402.1h0M337.8 415.2h0M423.2 370.7h0M423.1 367.2h0M383 346.5h0M342.6 386.3h0M374.6 369.8h0M307.4 360.5h0M396.9 336.5h0M327.7 361.2h0M334 382.2h0M464.3 347.9h0M327.9 375.8h0M317.1 366.9h0M340.5 361.7h0M385.9 351.6h0M363.3 367.1h0M424.3 369.7h0M340.5 402h0M386.2 341.4h0M322.2 369.4h0M323.8 358.5h0M333.4 394h0M336.1 418.1h0M324.7 359.1h0M331.3 369.7h0M342 396.4h0M315.2 371.7h0M314.2 360.6h0M455.1 359.5h0M449.7 389.1h0M339.1 413.2h0M449.4 367.6h0M344.2 384.5h0M448.8 368.3h0M395.1 365.6h0M389 342.5h0M379.5 357.4h0M347.2 395.1h0M443.4 385.2h0M447.1 387.2h0M407.2 356.3h0M288.5 378.6h0M313.5 371.5h0M451.8 364.1h0M446 384.8h0M324.6 374.3h0M424.8 368.6h0M339.4 415.2h0M338.7 414.7h0M442.6 376.5h0M322.2 360.3h0M341.4 394.5h0M445.3 371.2h0M338.6 365.8h0M477.5 414.1h0M446.5 379.6h0M390.8 359.9h0M340.5 382.6h0M438.3 366.7h0M397.3 359.7h0M374.7 362.7h0M341.5 399.4h0M433.2 373.3h0M444.9 379.5h0M450.1 384.6h0M323.2 366.9h0M403.9 361.1h0M419.1 346.4h0M353.3 399.8h0M365.5 342.6h0M430 374.1h0M444.8 385.2h0M420.6 364.8h0M435.8 377.6h0M401.8 365.2h0M313.4 362.1h0M479.1 401h0M338.2 412.3h0M337.1 424h0M373.5 357.3h0M334.5 362h0M353.8 397.7h0M441.5 368.9h0M399.2 375.5h0M356.1 398.8h0M316.2 358.9h0M441.7 368.2h0M329 363.5h0M331.7 364.7h0M447.1 365.2h0M388.1 366.1h0M311.7 365.9h0M379.6 358.3h0M433.3 374.5h0M444.5 367.4h0M452.3 369.8h0M310.6 365.8h0M373.6 356h0M337.3 414.2h0M397.5 363.3h0M425.6 370.1h0M336.4 389.1h0M375.1 359.4h0M338.1 423.7h0M357.6 397.6h0M426.6 352.2h0M328.9 380.3h0M400.8 357.4h0M422.8 372h0M324.9 365.9h0M442.7 373.4h0M381 369.4h0M445.7 387.8h0M388.5 373.3h0M338.5 417.6h0M311.6 357.1h0M398 361.4h0M388.1 344.7h0M394.5 362.6h0M381.1 346.6h0M317.8 358.8h0M443 384.3h0M421.3 369.3h0M377.8 360h0M437.2 376.8h0M312.8 360h0M326.7 374.9h0M391.7 359.2h0M317.1 355.8h0M335 364.2h0M377.6 356.2h0M326.1 369.9h0M343.1 395.3h0M400.5 367.2h0M399.3 363.1h0M311.3 363.7h0M303.5 352.9h0M433.7 375.1h0M442.7 368.9h0M399.1 351.8h0M339.9 417.8h0M400 368.2h0M336.2 362.2h0M441.3 384.4h0M389 337.4h0M397.7 366.6h0M466 407.5h0M330.5 362.4h0M333.5 395.6h0M416.7 367.2h0M437.5 355.8h0M372.6 371h0M348.7 405.2h0M432.1 377.2h0M439.4 391.9h0M319.3 371.6h0M392.3 336.1h0M417.9 368.5h0M311.5 357.9h0M441.1 378.7h0M383.6 354.4h0M445.8 369h0M426.9 374.2h0M383.8 360.7h0M336 397.8h0M323.8 371.4h0M375.6 360.7h0M389.2 340.2h0M294.3 341.8h0M386.7 344.5h0M323.3 373.5h0M342.5 415.4h0M452.1 345.7h0M399.8 354.2h0M447.5 377.9h0M439.2 359.9h0M321 365.8h0M312.4 361.2h0M325.7 358.6h0M306.7 358.8h0M425.6 375.6h0M410.7 351h0M393 365.4h0M339.1 393.1h0M327.5 377.4h0M426.7 368.3h0M399.7 372h0M399.8 366.3h0M439.1 371.1h0M382 344.9h0M388.8 341.4h0M394.1 361.6h0M351.9 399.2h0M446.3 390.5h0M444.8 373.6h0M321.4 361.8h0M345 411.2h0M321.4 372.3h0M385.8 346.4h0M448.8 375.4h0M405.3 360.3h0M349.8 400.8h0M338.9 390.7h0M376.2 352.7h0M338 420.3h0M440.1 368.1h0M313.3 368.1h0M338.3 422.3h0M390.4 343.7h0M446.3 404.2h0M398.3 362.2h0M441.3 359.5h0M402.7 362.4h0M351.3 397.4h0M448.1 374.3h0M443 371.1h0M323.7 357.6h0M436.6 378.4h0M354 393h0M378.1 355.3h0M311.8 360.5h0M448 365.9h0M441.8 381.7h0M345.6 406.6h0M337.8 420.5h0M310.5 360.5h0M345.1 404.7h0M392.1 346.9h0M448.3 381.6h0M324.9 379.3h0M356 395.3h0M382.6 365.1h0M420.5 346.8h0M430.6 372.4h0M436.3 384h0M440.3 366.4h0M399.7 367.3h0M379.1 351.7h0M333.5 362.7h0M376.7 368.3h0M330.5 378.9h0M444.7 378.2h0M444.6 376.4h0M419.7 366.5h0M400 364.8h0M341.9 411.3h0M448.5 380.2h0M377.4 364h0M448.5 373.6h0M459.3 367.2h0M418.3 366.3h0M395 369h0M428.1 366.6h0M454.5 404.8h0M418.2 373.5h0M439.7 367.1h0M445 369h0M318.7 363h0M444 384.5h0M436.6 371.5h0M440.5 383.2h0M430.9 352.2h0M340.1 416.6h0M433 376h0M382.7 362.6h0M378.6 361.3h0M447.9 367.4h0M332.9 375.4h0M309.4 366.7h0M377.7 358.9h0M326.4 360.5h0M331.3 378.4h0M386.5 346.1h0" stroke="#d9c9b1" stroke-width="2.1"/>
<path d="M451.1 367.8h0M317.3 373.7h0M340.2 365.6h0M325.7 360.1h0M418.3 357.2h0M394.2 347.3h0M343.8 398.1h0M443.2 367.4h0M387.5 348.5h0M329.8 367.7h0M398.7 360.7h0M437.6 372h0M420.9 370.1h0M400.1 357.9h0M335.6 394.4h0M312.2 359.3h0M443 387.9h0M443.8 375.1h0M396.3 360.8h0M336.6 387.4h0M425.7 371.7h0M451.5 367.1h0M337.1 382.3h0M338.5 382.9h0M422.1 365.6h0M446.3 373.9h0M444.8 390.2h0M385.6 353.8h0M473.6 402.1h0M337.8 415.2h0M423.2 370.7h0M423.1 367.2h0M383 346.5h0M342.6 386.3h0M374.6 369.8h0M307.4 360.5h0M396.9 336.5h0M327.7 361.2h0M334 382.2h0M464.3 347.9h0M327.9 375.8h0M317.1 366.9h0M340.5 361.7h0M385.9 351.6h0M363.3 367.1h0M424.3 369.7h0M340.5 402h0M386.2 341.4h0M322.2 369.4h0M323.8 358.5h0M333.4 394h0M336.1 418.1h0M324.7 359.1h0M331.3 369.7h0M342 396.4h0M315.2 371.7h0M314.2 360.6h0M455.1 359.5h0M449.7 389.1h0M339.1 413.2h0M449.4 367.6h0M344.2 384.5h0M448.8 368.3h0M395.1 365.6h0M389 342.5h0M379.5 357.4h0M347.2 395.1h0M443.4 385.2h0M447.1 387.2h0M407.2 356.3h0M288.5 378.6h0M313.5 371.5h0M451.8 364.1h0M446 384.8h0M324.6 374.3h0M424.8 368.6h0M339.4 415.2h0M338.7 414.7h0M442.6 376.5h0M322.2 360.3h0M341.4 394.5h0M445.3 371.2h0M338.6 365.8h0M477.5 414.1h0M446.5 379.6h0M390.8 359.9h0M340.5 382.6h0M438.3 366.7h0M397.3 359.7h0M374.7 362.7h0M341.5 399.4h0M433.2 373.3h0M444.9 379.5h0M450.1 384.6h0M323.2 366.9h0M403.9 361.1h0M419.1 346.4h0M353.3 399.8h0M365.5 342.6h0M430 374.1h0M444.8 385.2h0M420.6 364.8h0M435.8 377.6h0M401.8 365.2h0M313.4 362.1h0M479.1 401h0M338.2 412.3h0M337.1 424h0M373.5 357.3h0M334.5 362h0M353.8 397.7h0M441.5 368.9h0M399.2 375.5h0M356.1 398.8h0M316.2 358.9h0M441.7 368.2h0M329 363.5h0M331.7 364.7h0M447.1 365.2h0M388.1 366.1h0M311.7 365.9h0M379.6 358.3h0M433.3 374.5h0M444.5 367.4h0M452.3 369.8h0M310.6 365.8h0M373.6 356h0M337.3 414.2h0M397.5 363.3h0M425.6 370.1h0M336.4 389.1h0M375.1 359.4h0M338.1 423.7h0M357.6 397.6h0M426.6 352.2h0M328.9 380.3h0M400.8 357.4h0M422.8 372h0M324.9 365.9h0M442.7 373.4h0M381 369.4h0M445.7 387.8h0M388.5 373.3h0M338.5 417.6h0M311.6 357.1h0M398 361.4h0M388.1 344.7h0M394.5 362.6h0M381.1 346.6h0M317.8 358.8h0M443 384.3h0M421.3 369.3h0M377.8 360h0M437.2 376.8h0M312.8 360h0M326.7 374.9h0M391.7 359.2h0M317.1 355.8h0M335 364.2h0M377.6 356.2h0M326.1 369.9h0M343.1 395.3h0M400.5 367.2h0M399.3 363.1h0M311.3 363.7h0M303.5 352.9h0M433.7 375.1h0M442.7 368.9h0M399.1 351.8h0M339.9 417.8h0M400 368.2h0M336.2 362.2h0M441.3 384.4h0M389 337.4h0M397.7 366.6h0M466 407.5h0M330.5 362.4h0M333.5 395.6h0M416.7 367.2h0M437.5 355.8h0M372.6 371h0M348.7 405.2h0M432.1 377.2h0M439.4 391.9h0M319.3 371.6h0M392.3 336.1h0M417.9 368.5h0M311.5 357.9h0M441.1 378.7h0M383.6 354.4h0M445.8 369h0M426.9 374.2h0M383.8 360.7h0M336 397.8h0M323.8 371.4h0M375.6 360.7h0M389.2 340.2h0M294.3 341.8h0M386.7 344.5h0M323.3 373.5h0M342.5 415.4h0M452.1 345.7h0M399.8 354.2h0M447.5 377.9h0M439.2 359.9h0M321 365.8h0M312.4 361.2h0M325.7 358.6h0M306.7 358.8h0M425.6 375.6h0M410.7 351h0M393 365.4h0M339.1 393.1h0M327.5 377.4h0M426.7 368.3h0M399.7 372h0M399.8 366.3h0M439.1 371.1h0M382 344.9h0M388.8 341.4h0M394.1 361.6h0M351.9 399.2h0M446.3 390.5h0M444.8 373.6h0M321.4 361.8h0M345 411.2h0M321.4 372.3h0M385.8 346.4h0M448.8 375.4h0M405.3 360.3h0M349.8 400.8h0M338.9 390.7h0M376.2 352.7h0M338 420.3h0M440.1 368.1h0M313.3 368.1h0M338.3 422.3h0M390.4 343.7h0M446.3 404.2h0M398.3 362.2h0M441.3 359.5h0M402.7 362.4h0M351.3 397.4h0M448.1 374.3h0M443 371.1h0M323.7 357.6h0M436.6 378.4h0M354 393h0M378.1 355.3h0M311.8 360.5h0M448 365.9h0M441.8 381.7h0M345.6 406.6h0M337.8 420.5h0M310.5 360.5h0M345.1 404.7h0M392.1 346.9h0M448.3 381.6h0M324.9 379.3h0M356 395.3h0M382.6 365.1h0M420.5 346.8h0M430.6 372.4h0M436.3 384h0M440.3 366.4h0M399.7 367.3h0M379.1 351.7h0M333.5 362.7h0M376.7 368.3h0M330.5 378.9h0M444.7 378.2h0M444.6 376.4h0M419.7 366.5h0M400 364.8h0M341.9 411.3h0M448.5 380.2h0M377.4 364h0M448.5 373.6h0M459.3 367.2h0M418.3 366.3h0M395 369h0M428.1 366.6h0M454.5 404.8h0M418.2 373.5h0M439.7 367.1h0M445 369h0M318.7 363h0M444 384.5h0M436.6 371.5h0M440.5 383.2h0M430.9 352.2h0M340.1 416.6h0M433 376h0M382.7 362.6h0M378.6 361.3h0M447.9 367.4h0M332.9 375.4h0M309.4 366.7h0M377.7 358.9h0M326.4 360.5h0M331.3 378.4h0M386.5 346.1h0" stroke="#f3e3cd" stroke-width="1.6"/>
<path d="M327.1 371.4h0M392 339.1h0M348.7 396.1h0M419 369.8h0M438.2 375.3h0M429 371.1h0M445.2 389h0M340.7 399.7h0M339.5 409.9h0M446 367.1h0M409.9 355.6h0M420.5 366.5h0M332.2 381h0M416 339.5h0M348.4 359.8h0M356.8 398.2h0M331.2 371.3h0M385.8 349.2h0M332.4 393.6h0M449.4 366.6h0M432.8 377.8h0M423.7 372.9h0M334.9 380.4h0M319.5 355.6h0M448.3 379.5h0M453.9 371.3h0M324.9 360.1h0M444.1 410.3h0M349.5 395.1h0M388.4 356.4h0M393.4 364.5h0M314 354.2h0M379.2 369.6h0M341.1 415.1h0M336.9 364.7h0M328.9 364.5h0M387.3 366.4h0M377 355.5h0M337.7 418.5h0M309.2 362.7h0M456.5 368.3h0M315.9 353.3h0M431.6 380.5h0M342.9 406.6h0M434.1 382.6h0M345.2 387.5h0M457.3 363.3h0M381.2 366.8h0M454.7 365.3h0M390.1 364h0M449.1 383.7h0M337.5 418.2h0M387.5 357.7h0M400 361.4h0M319.2 357.1h0M326.9 391.2h0M455.6 367.2h0M438.5 368.3h0M343.8 411.3h0M430.4 378.7h0M345.4 397.9h0M331 373.7h0M463.8 404.2h0M444.4 372.7h0M423.7 365h0M446.7 370.7h0M353.3 401.3h0M384.3 354.2h0M372.4 372.5h0M443.8 390.8h0M388.1 354.9h0M440.9 368.2h0M382 350.7h0M365.3 342.9h0M324.6 369.8h0M345.3 392.6h0M391.7 351.2h0M337.3 378.6h0M431.1 376.6h0M430.6 351.8h0M468.7 355.2h0M339.1 418.2h0M387.3 362h0M439 390.3h0M339.5 427.7h0M444 370.8h0M436.6 380.6h0M380.5 368h0M476.4 417.4h0M441.5 377.9h0M404.7 372.7h0M453.5 372.1h0M425.8 373.9h0M381.9 360.4h0M440 377.4h0M424 363.1h0M387.4 349.6h0M400.3 362.1h0M444.6 388.6h0M340.5 364.5h0M472.5 403.7h0M435.1 382.2h0M325.8 372.5h0M400.7 373.5h0M428.1 371.6h0M392.3 355.1h0M390.3 348.1h0M341.3 393h0M425.2 353.3h0M433.4 377.2h0M428.2 372.9h0M393.4 369.8h0M421.2 367h0M315.3 363.9h0M381.7 345.6h0M341.9 390.1h0M391.3 369.3h0M449.1 387.6h0M378.9 366h0M372.2 358.6h0M327.9 359.7h0M321.3 357.5h0M439.6 364.5h0M382.1 367.1h0M449.8 364.3h0M445.6 379.4h0M375.7 354.8h0M314.2 372.7h0M421.8 375.9h0M390.1 338.5h0M436.8 373.2h0M389.9 346.1h0M322.6 358.8h0M324.6 372.8h0M337.5 364.2h0M377.1 357.4h0M383.6 361.7h0M401.3 371.3h0M345.1 383.6h0M387.9 351.4h0M354 398.6h0M450.6 368.5h0M386.4 355h0M383 348.9h0M459.6 366h0M395.1 370.6h0M382.1 368.5h0M363.2 367.1h0M309.9 361.6h0M454 369.7h0M421.5 372h0M442.9 379.3h0M391.1 356.2h0M432.6 384.8h0M464.9 411.4h0M317.5 354.5h0M418.1 372.8h0M450 381.8h0M448.9 378.5h0M338.9 425.4h0M320.4 369.8h0M338.5 363.3h0M393.9 353.6h0M326.6 377.8h0M342.9 386.7h0M449 379.6h0M402.2 359.7h0M442.6 365.2h0M389 357.9h0M398.7 356.2h0M389.7 335.6h0M442.2 378h0M380.9 353.1h0M448.2 393.1h0M340 414.6h0M329.7 375.6h0M334.5 378.6h0M393.4 337.8h0M320.4 361.5h0M339.5 415.9h0M441.9 387.4h0M462.7 413h0M389.8 344.9h0M413.6 368.3h0M315.9 371.2h0M327.1 369.3h0M316 367h0M428.8 373.9h0M392.1 367.1h0M338.4 424.6h0M301.5 349.8h0M390.7 364.9h0M355.5 399.5h0M345 410h0M423.8 379.5h0M457.2 411.9h0M437 374.4h0M345 396.5h0M293.2 400.8h0M445.2 402.1h0M325.5 368.8h0M388.2 365.1h0M356 397.1h0M418.1 371.4h0M328 376.6h0M381.1 355h0M453.1 364.1h0M443.5 371.8h0M416.6 371.1h0M350.8 399.1h0M405.3 358.9h0M332.6 379.9h0M437.6 378.1h0M323.7 379.6h0M332.7 360.6h0M334.6 381.3h0M388.5 370.1h0M381.9 347.7h0M447.3 366.4h0M448.3 387.9h0M386.2 369.9h0M343.6 383.5h0M340.7 417.3h0M445.9 381.6h0M387.7 338h0M447.4 393.4h0M427.9 370h0M444.5 383h0M396.1 391.6h0M423.2 383h0M336.8 414.6h0M383.4 368.3h0M416.8 368.5h0M348.4 400.8h0M326.5 376.5h0M344.3 386.2h0M343.1 412.4h0M384.9 347.2h0M372.6 366.3h0M447.6 380h0M438.8 385.9h0M431.8 374.2h0M401.5 341.8h0M447.8 386h0M339 396.6h0M447 378.7h0M441.3 388.6h0M329 362h0M405.5 372.4h0M382.3 372.5h0M329.7 378.5h0M426.5 365.1h0M325.9 375h0M461 401h0M462.4 402.6h0M435 378.7h0M335.1 368.4h0M446.5 369.4h0M387.2 362.7h0M383 369h0M440.8 367.3h0M348.8 406.1h0M401.7 356.9h0M449.1 377.2h0M440 386.2h0M421.6 366.4h0M426.6 382h0M452 345.7h0M401.1 362.2h0M449.1 382.4h0M388.9 355.2h0M326.4 373.9h0M402 362.9h0M341.8 415.1h0M442.8 366.3h0M450 386h0M320.4 376.5h0M395.4 374h0M322.8 372.7h0M381.4 357h0M350.2 405.4h0M391.4 362.9h0M347.1 407.4h0M394.2 351.5h0M348.1 397.6h0M422.6 366.3h0M375 352.9h0M441.8 367.2h0M388.6 369.4h0M397.1 369.1h0M429.5 370h0M328.6 379.5h0M338.5 415.7h0M376.5 362.4h0M386.2 375.2h0M447.3 363.4h0M398.2 372h0M403.8 372.2h0M391.4 361.5h0M379.6 353.7h0M392.7 363.7h0M330.8 375.3h0" stroke="#d9c9b1" stroke-width="2.1"/>
<path d="M327.1 371.4h0M392 339.1h0M348.7 396.1h0M419 369.8h0M438.2 375.3h0M429 371.1h0M445.2 389h0M340.7 399.7h0M339.5 409.9h0M446 367.1h0M409.9 355.6h0M420.5 366.5h0M332.2 381h0M416 339.5h0M348.4 359.8h0M356.8 398.2h0M331.2 371.3h0M385.8 349.2h0M332.4 393.6h0M449.4 366.6h0M432.8 377.8h0M423.7 372.9h0M334.9 380.4h0M319.5 355.6h0M448.3 379.5h0M453.9 371.3h0M324.9 360.1h0M444.1 410.3h0M349.5 395.1h0M388.4 356.4h0M393.4 364.5h0M314 354.2h0M379.2 369.6h0M341.1 415.1h0M336.9 364.7h0M328.9 364.5h0M387.3 366.4h0M377 355.5h0M337.7 418.5h0M309.2 362.7h0M456.5 368.3h0M315.9 353.3h0M431.6 380.5h0M342.9 406.6h0M434.1 382.6h0M345.2 387.5h0M457.3 363.3h0M381.2 366.8h0M454.7 365.3h0M390.1 364h0M449.1 383.7h0M337.5 418.2h0M387.5 357.7h0M400 361.4h0M319.2 357.1h0M326.9 391.2h0M455.6 367.2h0M438.5 368.3h0M343.8 411.3h0M430.4 378.7h0M345.4 397.9h0M331 373.7h0M463.8 404.2h0M444.4 372.7h0M423.7 365h0M446.7 370.7h0M353.3 401.3h0M384.3 354.2h0M372.4 372.5h0M443.8 390.8h0M388.1 354.9h0M440.9 368.2h0M382 350.7h0M365.3 342.9h0M324.6 369.8h0M345.3 392.6h0M391.7 351.2h0M337.3 378.6h0M431.1 376.6h0M430.6 351.8h0M468.7 355.2h0M339.1 418.2h0M387.3 362h0M439 390.3h0M339.5 427.7h0M444 370.8h0M436.6 380.6h0M380.5 368h0M476.4 417.4h0M441.5 377.9h0M404.7 372.7h0M453.5 372.1h0M425.8 373.9h0M381.9 360.4h0M440 377.4h0M424 363.1h0M387.4 349.6h0M400.3 362.1h0M444.6 388.6h0M340.5 364.5h0M472.5 403.7h0M435.1 382.2h0M325.8 372.5h0M400.7 373.5h0M428.1 371.6h0M392.3 355.1h0M390.3 348.1h0M341.3 393h0M425.2 353.3h0M433.4 377.2h0M428.2 372.9h0M393.4 369.8h0M421.2 367h0M315.3 363.9h0M381.7 345.6h0M341.9 390.1h0M391.3 369.3h0M449.1 387.6h0M378.9 366h0M372.2 358.6h0M327.9 359.7h0M321.3 357.5h0M439.6 364.5h0M382.1 367.1h0M449.8 364.3h0M445.6 379.4h0M375.7 354.8h0M314.2 372.7h0M421.8 375.9h0M390.1 338.5h0M436.8 373.2h0M389.9 346.1h0M322.6 358.8h0M324.6 372.8h0M337.5 364.2h0M377.1 357.4h0M383.6 361.7h0M401.3 371.3h0M345.1 383.6h0M387.9 351.4h0M354 398.6h0M450.6 368.5h0M386.4 355h0M383 348.9h0M459.6 366h0M395.1 370.6h0M382.1 368.5h0M363.2 367.1h0M309.9 361.6h0M454 369.7h0M421.5 372h0M442.9 379.3h0M391.1 356.2h0M432.6 384.8h0M464.9 411.4h0M317.5 354.5h0M418.1 372.8h0M450 381.8h0M448.9 378.5h0M338.9 425.4h0M320.4 369.8h0M338.5 363.3h0M393.9 353.6h0M326.6 377.8h0M342.9 386.7h0M449 379.6h0M402.2 359.7h0M442.6 365.2h0M389 357.9h0M398.7 356.2h0M389.7 335.6h0M442.2 378h0M380.9 353.1h0M448.2 393.1h0M340 414.6h0M329.7 375.6h0M334.5 378.6h0M393.4 337.8h0M320.4 361.5h0M339.5 415.9h0M441.9 387.4h0M462.7 413h0M389.8 344.9h0M413.6 368.3h0M315.9 371.2h0M327.1 369.3h0M316 367h0M428.8 373.9h0M392.1 367.1h0M338.4 424.6h0M301.5 349.8h0M390.7 364.9h0M355.5 399.5h0M345 410h0M423.8 379.5h0M457.2 411.9h0M437 374.4h0M345 396.5h0M293.2 400.8h0M445.2 402.1h0M325.5 368.8h0M388.2 365.1h0M356 397.1h0M418.1 371.4h0M328 376.6h0M381.1 355h0M453.1 364.1h0M443.5 371.8h0M416.6 371.1h0M350.8 399.1h0M405.3 358.9h0M332.6 379.9h0M437.6 378.1h0M323.7 379.6h0M332.7 360.6h0M334.6 381.3h0M388.5 370.1h0M381.9 347.7h0M447.3 366.4h0M448.3 387.9h0M386.2 369.9h0M343.6 383.5h0M340.7 417.3h0M445.9 381.6h0M387.7 338h0M447.4 393.4h0M427.9 370h0M444.5 383h0M396.1 391.6h0M423.2 383h0M336.8 414.6h0M383.4 368.3h0M416.8 368.5h0M348.4 400.8h0M326.5 376.5h0M344.3 386.2h0M343.1 412.4h0M384.9 347.2h0M372.6 366.3h0M447.6 380h0M438.8 385.9h0M431.8 374.2h0M401.5 341.8h0M447.8 386h0M339 396.6h0M447 378.7h0M441.3 388.6h0M329 362h0M405.5 372.4h0M382.3 372.5h0M329.7 378.5h0M426.5 365.1h0M325.9 375h0M461 401h0M462.4 402.6h0M435 378.7h0M335.1 368.4h0M446.5 369.4h0M387.2 362.7h0M383 369h0M440.8 367.3h0M348.8 406.1h0M401.7 356.9h0M449.1 377.2h0M440 386.2h0M421.6 366.4h0M426.6 382h0M452 345.7h0M401.1 362.2h0M449.1 382.4h0M388.9 355.2h0M326.4 373.9h0M402 362.9h0M341.8 415.1h0M442.8 366.3h0M450 386h0M320.4 376.5h0M395.4 374h0M322.8 372.7h0M381.4 357h0M350.2 405.4h0M391.4 362.9h0M347.1 407.4h0M394.2 351.5h0M348.1 397.6h0M422.6 366.3h0M375 352.9h0M441.8 367.2h0M388.6 369.4h0M397.1 369.1h0M429.5 370h0M328.6 379.5h0M338.5 415.7h0M376.5 362.4h0M386.2 375.2h0M447.3 363.4h0M398.2 372h0M403.8 372.2h0M391.4 361.5h0M379.6 353.7h0M392.7 363.7h0M330.8 375.3h0" stroke="#f3e3cd" stroke-width="1.6"/>
<path d="M365.2 381.2h0M428.2 368.3h0M401.4 359.7h0M372.4 387h0M383.1 391.6h0M380.8 384.7h0" stroke="#f6c8a6" stroke-width="2.2"/>
<path d="M367 384.7h0M403.8 382h0M400 393.5h0M393.1 405.4h0M386.2 393.5h0M384.6 390.1h0M394.2 360.6h0M399.2 361.6h0M375.3 370.7h0M396.9 388.3h0M408.4 376h0M397.9 353h0" stroke="#ee9468" stroke-width="2.2"/>
<path d="M385.9 395.9h0M396.1 406.2h0M377.4 384h0M394.6 408.5h0M400.7 394.7h0M400.4 386h0M368.5 382.8h0M376.2 387.8h0M383.9 388.6h0" stroke="#d63e2a" stroke-width="2.5"/>
<path d="M393.4 401.6h0M389.2 411.3h0M392.3 411.3h0M390.8 411.3h0M395.4 401.6h0M396.9 381.7h0M380 387.4h0M405.3 401.6h0M394.6 400.1h0M393.8 410.8h0M373.9 383.7h0M409.9 393.5h0M411.4 402.4h0M409.9 402.7h0M388.5 403.9h0M400.4 382h0" stroke="#ad1313" stroke-width="2.5"/>
<path d="M457.3 373.1C420.7 399.4 360.4 398.6 323.7 379.6M453.6 372.2C418.6 386 365.5 389.3 330.4 371.8M451.1 367.8C399.9 384.5 368.5 394.3 317.3 373.7M455.8 372.1C418.3 395.3 374.6 394.5 337.1 382.3M453.9 371.3C410.9 395.2 368.7 391.3 325.8 372.5M455.5 370.4C410.8 384.9 379.7 409.1 335.1 379.3M454.6 372.1C414 400.2 368.1 402.4 327.5 372.4" stroke="#25628f" stroke-width="0.5" stroke-opacity="0.8"/>
<path d="M456.2 371.4Q457.6 370.9 458.9 371.4M456.1 370.8Q454.9 371.6 453.8 372M456.4 372.1Q454.5 372.2 452.5 371.6M455.7 371.5Q455 370.8 454.3 370.2M454.4 372.6Q453.1 373.7 451.7 374M454.6 371.7Q453.2 372.3 451.8 372.6M455.2 371.5Q454.7 372.3 454.2 372.7M454.9 371.8Q455.4 371.5 455.8 370.6M455.8 371.4Q456.6 370 457.3 369M454.6 371.6Q454.7 370.3 454.7 368.9M454.5 371.9Q454.3 372.6 454.1 374.2M454.4 372.1Q452.7 370.4 451 369.6M456.3 371.2Q458.1 370.5 459.8 371M454.2 371.1Q453.4 372.6 452.7 373.2M454.4 371.6Q456.4 372.3 458.5 372.6M454.3 370.7Q453.1 369.8 451.9 368.4M428 383.3Q428.9 383.1 429.9 382.3M427.5 382.3Q428 382.9 428.4 383.5M427.2 382.7Q426.3 382.2 425.4 381.7M427.3 382.7Q426.1 382.2 425 382.4M427.8 383.3Q427.2 383.9 426.7 384.8M427 384.3Q425.8 384.3 424.6 384.2M428.5 382.3Q428.3 381.8 428.2 380.8M426.7 382.6Q427 381.9 427.3 381.4M428.1 383.5Q428.9 382.7 429.7 382.4M426.4 384.4Q426.3 383.8 426.2 382.6M426.4 383Q426.4 383.8 426.3 384.9M428.4 383.4Q426.4 384 424.4 383.2M399 370.2Q397.4 370.4 395.9 369.7M399.6 370.3Q398.8 369.5 398 369.1M399.3 371.6Q398.2 371.5 397.1 371M399.2 371.8Q399.8 371.4 400.3 370.6M400.8 370.4Q400.4 371.5 399.9 372.1M398.9 370.3Q398.6 369.8 398.4 369.1M332.7 368.7Q331.5 369.1 330.2 369.1M330.7 366.7Q329.4 365.6 328.1 364.5M332.5 366.6Q333.3 366 334.2 365.8M332.4 367.3Q330.5 368.3 328.5 367.9M332.6 366.8Q333.4 366.2 334.2 365.9M330.9 367.2Q330.3 368.5 329.7 369.1M331.4 368.1Q330.3 367.4 329.2 366.3M332.2 368.2Q333.5 368.3 334.8 368M439.6 380.2Q439.4 381 439.2 382.6M439.9 380.3Q441.7 378.9 443.5 378.7M439.1 379.8Q439.7 380.2 440.3 380.8M440 378.5Q439.6 377.7 439.3 377.3M438.9 379.8Q437.5 380 436 381.1M439.6 380.7Q441 379.7 442.3 379.8M438.8 380.5Q437.4 379.5 436.1 379.3M440.9 379.3Q441.1 380.2 441.2 380.7" stroke="#2c6c9c" stroke-width="0.6" stroke-opacity="0.8"/>
</g>
<g id="map_d2" fill="none" stroke-linecap="round">
<path d="M286.9 536.9Q374 589.2 461.1 564.1M283.3 541.8Q377.3 604.7 471.2 565.2M288.3 536.9Q375.9 602.4 463.6 572.9M282.4 534.5Q376.8 597.8 471.2 565.2M339.8 576.6Q400.6 598.1 461.4 574.5M341 559.8Q401 586.8 461.1 564.1M352.7 554.5Q408.5 583.8 464.2 571M354.7 556.8Q408.6 581 462.5 565.7M330 531.2Q381.4 510.1 432.8 544.1M343.9 549Q392.6 517.3 441.3 526.7M323.7 524.2Q382.3 500 440.9 539.5M343.9 549Q392.7 510.6 441.5 527.8M334.7 544.7Q383.1 522.4 431.5 539.3" stroke="#2c6c9c" stroke-width="0.5" stroke-opacity="0.28" stroke-dasharray="2.5 0.8"/>
<path d="M453.3 531.5C419.3 543.9 373.2 557.3 339.2 526M449.8 529.3C418.2 555.9 360.3 553.6 328.7 525.6M456 534.4C402.8 553.2 372.3 551.6 319.1 531.3M453.2 534.2C414.5 566.3 351.4 558.3 312.7 530.4M453.3 531.5C407.8 549 360 574.2 314.6 532.7M453.8 534.7C406 564.6 366 558.8 318.2 532M453.7 532.5C418.7 549.9 371.8 552.9 336.8 540.9M454.3 528.7C408.8 558.2 370.8 548.1 325.3 534.3M456 534.4C406.3 560.4 373 560.4 323.2 538.8M449.8 529.3C402.9 545.9 364.7 548.9 317.8 529.2M454.1 531.9C409.1 560.4 357.4 544.6 312.3 527.8M449.8 529.3C402.5 542.7 376.5 561.7 329.2 540.4M456 524.8C414.1 547 378.8 557.3 337 528.3M454.5 524.5C422.3 553.6 358.8 554.9 326.6 537.3M454.5 524.5C416.6 548.2 371.5 565.8 333.6 541.9M453.8 534.7C413.2 555.2 370.2 551.6 329.5 536.8M456.1 533.5C411.6 564.3 369 553.9 324.5 534M453.2 534.2C412.9 561.5 365.1 562.8 324.8 531.4M450.2 528.6C406.5 553.7 367 565.8 323.3 534.3M455.2 529.8C402.5 545.8 363.6 556.2 310.9 528M456.1 533.5C404.1 550.8 369.9 564.1 317.8 529.2M449.8 529.3C408.7 545.5 366.5 557.1 325.4 536.4M454.5 524.5C414.9 543.3 369.8 571.9 330.2 537.2M450.2 528.6C407.9 554.3 375.5 566.1 333.2 540.1M456 534.4C408.5 564.1 356.2 544.1 308.6 526.5M456 524.8C412.4 557.9 354.2 565.8 310.5 531.2M453.3 531.5C414.1 558.7 364.3 565.6 325.1 535.4M426.3 545.1C396.2 553.8 356.2 555.7 326.2 533.9M427.7 546.6C397.8 553.1 357.8 553.3 327.8 536.4M427.5 545.8C393.4 550.8 348 537.8 314 525.4M428.1 545.6C401.3 554.6 365.5 543 338.6 523.7M428.1 545.6C400.9 550.6 364.5 542.7 337.3 527.3M425.8 544.8C395.8 548.3 355.8 547 325.8 532.9M426.7 543.2C395.8 551.2 354.5 550.4 323.6 540.8M426.2 545.7C393.2 550 349.1 554.5 316 535.2M427.7 546.6C392.9 554.3 346.5 551.6 311.7 531M287.5 539.7Q308.3 526.1 329.1 533.3M287.5 540.5Q306.3 528 325.1 535.4M286.9 540.3Q306.5 530 326.2 538.9M287.4 540.2Q296.4 526.2 305.4 520.3M286.7 540.3Q310.3 534.6 333.8 540.8M454.5 524.5Q472 546.8 464.7 569M453.2 534.2Q471.4 550.8 463.8 567.4M455.9 535.2Q464.6 554 463.6 572.9M454.1 531.9Q473.4 547.2 477.8 562.5M455.9 535.2Q471.7 554 463.6 572.9M453.7 532.5Q471.2 555.7 460.8 578.9M456 534.4Q475.1 555 476.2 575.6M454.1 531.9Q466.3 548.8 462.5 565.7M453.7 532.5Q421.2 521.5 388.8 500M453.2 534.2Q407.6 527.7 362 528.6M454.1 531.9Q417.4 524.7 380.7 512.2M449.8 529.3Q416.2 531.9 382.5 522.2M455.9 535.2Q426.4 533.9 396.9 533.5M453.3 534.1Q426.9 528 400.4 518.4M455.9 535.2Q427.3 523.6 398.7 522.9M456.1 533.5Q422.4 525.1 388.7 521.9M456.1 533.5Q419.8 523.3 383.6 508.7M456.1 533.5Q426.1 525.6 396 521.2M449.8 529.3Q418.2 520 386.6 512.9M452.4 533.7Q440.1 541.4 427.7 546.6M452.4 533.7Q439.4 541.4 426.3 545.1M455.7 532.3Q439.2 532.4 422.8 532.3M454.5 524.5Q440.2 536.8 425.8 540.8M452.6 532.8Q434.7 537.9 416.8 534.3M455.3 535Q435.4 537.9 415.5 530M449.8 529.3Q437.6 530 425.4 529.8M456 524.8Q441.1 538.4 426.3 545.1M452.6 532.8Q439.2 539.3 425.8 544.8M456.1 533.5Q450.9 536.8 445.7 540.2M453.3 531.5Q448.6 546 443.9 563.6M455.2 529.8Q448.5 541 441.7 549.4M455.8 531.8Q449.7 535.7 443.6 543.4M452.4 533.7Q445.9 542.9 439.3 551.1M455.3 535Q451.5 549.1 447.7 558.1M450.2 528.6Q446 536.1 441.7 545.8M449.8 529.3Q453.4 538.4 457 553.7M453.8 534.7Q445 536.5 436.3 533.5M453.4 526.8Q448.7 530.2 444 532.7M454.3 528.7Q446.5 533 438.7 538.9M453.3 531.5Q449.7 533.9 446 536.7M456.1 533.5Q450.1 532.8 444.1 531.9M453.4 526.8Q444.4 530 435.5 534.7M453.3 534.1Q447.2 541.8 441.1 556.6M454.3 528.7Q449.8 526.6 445.3 527.2M455.9 535.2Q450.5 536.9 445.1 536.8M450.2 528.6Q442.7 538 435.3 542.1M455.3 535Q446.5 534.6 437.8 532.6M313.7 513.6Q381.9 506 450.2 528.6M310.9 520.8Q381.7 500.4 452.6 532.8M336.2 525.7Q396.2 515.9 456.1 533.5M320.9 521.8Q386.8 508.1 452.6 532.8M322 535Q387.8 510.7 453.7 532.5M327.7 523.5Q363.4 525.8 399.2 528.7M333.2 523.5Q361.2 507.4 389.1 501.4M322.4 536.2Q355.7 508.8 389.1 501.4M337 528.3Q366.6 524.3 396.2 529.3M315.8 528.4Q349.6 528.2 383.4 523.7M315.9 523Q354.4 510.5 392.9 513M311.1 522.7Q343 510.4 374.9 514.2M314 525.4Q345.1 520.8 376.3 517.7M322.4 536.2Q363.3 537.1 404.2 533.9M344.8 560.2Q399 557.4 453.2 534.2M341 559.8Q397.5 561 454.1 531.9M342.5 572.8Q398.1 569 453.7 532.5M339.2 563.5Q394.5 555 449.8 529.3M350.3 565.4Q388 562.1 425.8 544.8M320.8 541.8Q350.7 538.2 380.6 521.9M315.8 517.3Q359.2 533 402.5 533.7M333.8 540.8Q355.9 536.5 378 525.4M342.3 545Q370.5 535.8 398.7 526.3M327.6 541.8Q354 516.9 380.4 507.1M336.8 540.9Q363.6 521.5 390.4 512.7M342.9 546Q369.7 533.5 396.5 532.6M400.7 524.4Q409.2 526.2 417.7 531.3M373.8 517.3Q400.3 527.2 426.9 529.8M362 528.6Q388.7 524.5 415.4 528.7M380.3 529.5Q401.3 531.8 422.4 534.4M388.8 525.5Q408.8 532.1 428.8 536.6M387.9 501.7Q406.6 515.6 425.3 543.5M387.9 521Q403.5 518.6 419.1 525.4M400.3 534.8Q405.5 533.3 410.7 530.1M388.4 497.1Q404.4 514.3 420.3 527.9M378.9 530.9Q403.2 533.2 427.5 545.8M393.8 532.1Q406.1 530.2 418.4 528M395.8 514.4Q413.2 521.3 430.5 535.7M391.4 525.2Q423.3 529.8 455.2 529.8M375.2 523.9Q414.2 531.7 453.3 531.5M396.5 532.6Q412.1 540.1 427.7 546.6M378.2 518.9Q402.8 537.4 427.5 545.8M388.9 530Q419.4 532.3 449.8 529.3M397.5 530.2Q425.4 530.8 453.4 526.8M324.2 533Q321.2 559.3 335.8 585.5M340.7 546Q344.1 553.1 344.8 560.2M328.4 540Q341.5 553.4 348.9 566.9M339.2 523.2Q340.1 550.3 338.2 577.4M317.9 518.6Q340.3 537.6 345.9 556.6M306.1 524.1Q328.6 541.1 337.7 558.1M318.2 517.1Q338.3 548.3 334.8 579.6M340.7 546Q335.4 561.1 338.7 576.1M322.5 520Q340.8 543.4 348.9 566.9M396.6 518.6Q368.4 542.2 340.1 556M380.6 521.9Q362.9 540 345.2 553.3M390.9 531.8Q368 546 345.2 553.3M381.3 509.5Q362.5 537.1 343.7 558M376.3 517.7Q357.8 540.6 339.4 561.2M395.1 524.3Q366.2 555.7 337.2 577.2M382.5 522.2Q361.5 550.6 340.6 572.8M395.6 498Q366.5 540.9 337.4 576.2M333.8 529.9Q327.3 538.3 320.8 541.8M325.1 522Q325.7 526.7 326.2 533.9M314.6 532.7Q315.7 527.7 316.9 521.1M314 525.4Q314.4 523.3 314.9 520.4M325.1 535.4Q329.1 538.7 333.2 540.1M319.7 527.3Q319.4 526 319.1 523M310 525.2Q320.2 524.1 330.4 526.2M322.5 520Q321.3 522.3 320.1 523.3M330 539.9Q332.9 542 335.8 543.8M330.2 537.2Q326.8 530.1 323.4 520.6M308.4 515.5Q312.1 523.6 315.8 528.4M328.4 534.6Q325.8 536.4 323.2 538.8M315.9 523Q317.8 525.9 319.7 527.3M330 531.2Q327.1 531.9 324.2 533M381.3 509.5Q387.1 516.1 392.8 523.1M386.8 516.4Q394 516.6 401.2 517.2M384.5 510.7Q382.6 511.9 380.7 512.2M400.4 518.4Q409.1 513.9 417.8 507.9M387.9 501.7Q387.3 504.6 386.8 506.2M371.3 532.5Q379.5 517.2 387.7 498.9M387.9 521Q384.3 521.4 380.6 521.9M379.2 529.5Q389.1 526 399 523.6M406.5 521.2Q394.5 527 382.5 522.2M390.4 512.7Q395.3 505.9 400.2 503.3M392.9 513Q390.8 504.1 388.8 500M395.4 527.3Q391.6 516.2 387.9 501.7M396.6 514.5Q384.7 525.8 372.9 525.9M391 497.6Q388.9 508.8 386.8 516.4M377.8 513.2Q381.9 522.3 386 527.9M380.7 506.4Q389.6 514.7 398.5 515.7M453.8 521Q415.7 519 377.6 527.5M436.2 517.1Q405.2 502.9 374.3 522.2M450.8 507.2Q424.8 506 398.8 519.4M401 513.3Q393.6 515.3 386.2 519.2M418.7 514.8Q397.6 505.9 376.5 521.5M427 496.4Q412.9 505.2 398.7 525M437.9 521.4Q409.6 514.1 381.3 526.6M409.4 512.5Q402.7 514.5 396 521.2M404 563.1Q414.6 543.4 425.2 526.6M407.1 537.5Q393.4 528.3 379.6 514.6M371.1 548.5Q398.4 550 425.8 540.8M404 563.1Q396.3 543.1 388.6 520M387.9 572.8Q388.7 553.8 389.5 521.4M408.6 564.2Q398.8 526.2 389.1 505.2M378.7 548.9Q384.9 522.5 391.1 495.4M459.2 575.6Q451.5 574.4 443.9 563.6M476.9 576.9Q468.9 571.8 460.8 555.9M471.2 565.2Q464.1 560.4 457 553.7M477.8 562.5Q460.3 573.8 442.8 571.8M477.8 562.5Q461.4 567.2 445 565.7M293 503.3Q303 526.3 312.9 534.2M291.5 507.9Q309.5 529 327.6 539" stroke="#2c6c9c" stroke-width="0.33" stroke-opacity="0.66"/>
<path d="M455.9 535.2C423 548.8 370.2 545.1 337.3 527.3M454.1 531.9C420.1 559.4 355.6 554.6 321.6 537.2M449.8 529.3C408.7 558 362.7 558.1 321.6 537.2M454.1 531.9C420.1 547.8 361.9 552.3 327.8 536.4M453.3 531.5C414.1 548.3 358.6 553.8 319.4 530M427.5 545.8C399.9 550.7 363.1 541.7 335.6 526.2M428.1 545.6C397 552.3 355.6 543.8 324.5 534M450.2 528.6C401.3 550 336.1 569 287.2 539.8M453.2 534.2C403.4 552.9 337.1 566.4 287.3 540.1M453.3 531.5C403.6 554.4 337.3 562.3 287.6 540.4M453.7 532.5C403.8 555.3 337.3 560 287.5 539.8M449.8 529.3C401.1 554.3 336.1 561.6 287.3 540.3M449.8 529.3Q465.5 547.8 453.2 566.3M456.1 533.5Q467.2 556.2 460.8 578.9M453.8 534.7Q465.2 554 455.9 573.4M452.6 532.8Q466.6 550.1 463.8 567.4M312.9 534.2Q343.6 527.9 374.3 522.2M322.4 536.2Q356.2 530.2 390 530.8M308.1 521.3Q348.4 524 388.7 521.9M331.4 522.1Q357.2 508.6 383 515.7M399 532.9Q413.6 528 428.2 531.5M361.9 528.6Q391.3 537.3 420.8 541.1M381.3 526.6Q401.1 526.5 420.8 527.1M390.8 528.6Q408.2 529.9 425.6 532.6M394.2 513.7Q425 531.1 455.7 532.3M397.4 517.7Q426.6 532.6 455.8 531.8" stroke="#2c6c9c" stroke-width="0.55" stroke-opacity="0.85"/>
<path d="M326.2 533.9h0M410.7 530.1h0M338.9 527.1h0M317 537.7h0M448.2 536.3h0M365.7 546.2h0M427.7 532.6h0M443.9 550.5h0M339.4 561.2h0M338.2 571.4h0M444.7 528.6h0M408.6 517.1h0M419.2 528h0M330.9 542.5h0M414.7 501h0M347.1 521.3h0M355.5 559.7h0M329.9 532.8h0M384.5 510.7h0M331.1 555.1h0M448.1 528.1h0M431.5 539.3h0M422.4 534.4h0M333.6 541.9h0M391.1 495.4h0M384.6 557.4h0M452.6 532.8h0M323.6 521.6h0M442.8 571.8h0M348.2 556.6h0M387.1 517.9h0M392.1 526h0M312.7 515.7h0M377.9 531.1h0M339.8 576.6h0M335.6 526.2h0M327.6 526h0M395.6 498h0M375.7 517h0M336.4 580h0M307.9 524.2h0M455.2 529.8h0M314.6 514.8h0M430.3 542h0M341.6 568.1h0M432.8 544.1h0M343.9 549h0M456 524.8h0M379.9 528.3h0M453.4 526.8h0M388.8 525.5h0M447.8 545.2h0M336.2 579.7h0M386.2 519.2h0M398.7 522.9h0M317.9 518.6h0M325.6 552.7h0M454.3 528.7h0M437.2 529.8h0M342.5 572.8h0M429.1 540.2h0M344.1 559.4h0M329.7 535.2h0M462.5 565.7h0M443.1 534.2h0M422.4 526.5h0M445.4 532.2h0M352 562.8h0M383 515.7h0M371.1 534h0M442.5 552.3h0M386.8 516.4h0M439.6 529.7h0M380.7 512.2h0M364 504.4h0M323.3 531.3h0M344 554.1h0M390.4 512.7h0M336 540.1h0M429.8 538.1h0M429.3 513.3h0M467.4 516.7h0M337.8 579.7h0M386 523.5h0M437.7 551.8h0M338.2 589.2h0M442.7 532.3h0M435.3 542.1h0M379.2 529.5h0M387.9 572.8h0M373.4 524.2h0M340.2 560.9h0M431.9 534.8h0M443.6 541h0M448.8 546.1h0M392.8 521.2h0M421.4 525.4h0M376.1 526.2h0M455.3 530.8h0M405.5 514.8h0M432.6 546.1h0M452.4 530.2h0M418.7 514.8h0M313.5 517h0M334.8 577.6h0M287.9 540.9h0M397.5 530.2h0M390.8 525.7h0M394.8 567.7h0M340 554.5h0M372.2 518.8h0M333.2 523.5h0M352.5 559.2h0M440.2 530.4h0M397.9 537h0M445.1 536.8h0M324.2 524.7h0M380.4 507.1h0M340.6 551.6h0M390 530.8h0M447.8 549.1h0M377.6 527.5h0M370.9 520.1h0M326.6 521.2h0M320 519h0M438.3 526h0M380.8 528.6h0M448.5 525.8h0M376.1 545.5h0M372.3 517.5h0M336 575.7h0M396.2 524.8h0M424.3 531.6h0M335.1 550.6h0M373.8 520.9h0M336.8 585.2h0M356.3 559.1h0M425.3 513.7h0M327.6 541.8h0M399.5 518.9h0M398.7 525h0M400 532.8h0M343.8 545.1h0M386.6 512.9h0M352.7 560.1h0M449.3 530h0M385.1 516.5h0M381.7 510.4h0M458.3 527.5h0M393.8 532.1h0M380.8 530h0M361.9 528.6h0M308.6 523.1h0M316.5 520.3h0M441.7 545.8h0M324.3 538.6h0M337 541.8h0M378.9 530.9h0M382.2 507h0M388.9 523.7h0M316.2 516h0M416.8 534.3h0M448.7 543.3h0M447.6 540h0M337.6 586.9h0M319.1 531.3h0M337.2 524.8h0M392.6 515.1h0M325.3 539.3h0M341.6 548.2h0M447.7 541.1h0M400.9 521.2h0M404 563.1h0M350.9 562.5h0M322.2 521.5h0M323.8 535.2h0M322.4 536.2h0M451.8 531.5h0M374 532.2h0M446.9 554.6h0M338.7 576.1h0M328.4 537.1h0M333.2 540.1h0M392.1 499.3h0M319.1 523h0M338.2 577.4h0M440.6 548.9h0M461.4 574.5h0M388.5 506.4h0M412.3 529.8h0M314.6 532.7h0M325.8 530.8h0M314.7 528.5h0M427.5 535.4h0M351.3 558.7h0M393.7 528.7h0M352.6 560.9h0M337 581.4h0M394.2 513.7h0M386.8 528.5h0M382.5 508.6h0M445.2 520.3h0M436.6 537.6h0M399.4 556.2h0M291.9 562.3h0M322 535h0M341.2 576.9h0M351.5 561.9h0M311.6 531.8h0M383.8 517.5h0M399.7 530.2h0M378.3 529.5h0M397.9 514.1h0M451.8 525.6h0M442.2 533.3h0M415.3 532.6h0M349.5 560.6h0M370.8 517.1h0M434.8 537.5h0M435.5 539.1h0M417.3 526.7h0M402.1 516h0M308.1 521.3h0M321.5 522.3h0M381.3 509.5h0M341 559.8h0M345.6 571.3h0M380.2 517.2h0M451 533.4h0M443.5 535.1h0M320.1 523.3h0M343.7 572.7h0M320.1 533.8h0M384.5 507.9h0M447.5 536.9h0M404 521.8h0M335.5 576.1h0M382.1 529.8h0M351.6 557h0M331.1 538.6h0M370.4 531.9h0M391.3 509.1h0M395.6 549.8h0M383.6 508.7h0M371.3 527.8h0M446.3 541.5h0M437.5 547.4h0M430.5 535.7h0M350 558.9h0M446.8 535.8h0M441.7 532.6h0M440.7 531.4h0M326 535.4h0M312.1 518.8h0M444.1 531.9h0M379.4 518.2h0M291.5 507.9h0M432.4 533.8h0M425.2 526.6h0M339.7 532.5h0M317.2 531.2h0M389.5 495.4h0M401.2 517.2h0M311.6 527.7h0M441.6 533.8h0M427 496.4h0M381.7 530.5h0M371.1 548.5h0M419.2 508.3h0M400.4 518.4h0M447.8 538.7h0M438.7 547.7h0M420.3 527.9h0M425.3 543.5h0M450.7 507.2h0M399.8 523.7h0M447.8 543.9h0M387.6 516.7h0M325.1 535.4h0M400.7 524.4h0M340.5 576.6h0M441.5 527.8h0M448.7 547.5h0M319.1 538h0M394.1 535.5h0M321.5 534.2h0M380.1 518.5h0M307.7 527.5h0M420.8 528.5h0M374.9 549.3h0M416.9 535h0M438.4 528.6h0M443.7 530.5h0M317.4 524.5h0M440.5 528.7h0M387.3 530.9h0M395.8 530.6h0M429.6 513.7h0M338.8 578.1h0M431.7 537.5h0M381.4 524.1h0M420.3 501.7h0M387.8 529.3h0M436.2 543.8h0M334.7 544.7h0M406.5 521.2h0M447.3 527.9h0M378.3 515.2h0M391.4 525.2h0M329.5 536.8h0" stroke="#d9c9b1" stroke-width="2.1"/>
<path d="M326.2 533.9h0M410.7 530.1h0M338.9 527.1h0M317 537.7h0M448.2 536.3h0M365.7 546.2h0M427.7 532.6h0M443.9 550.5h0M339.4 561.2h0M338.2 571.4h0M444.7 528.6h0M408.6 517.1h0M419.2 528h0M330.9 542.5h0M414.7 501h0M347.1 521.3h0M355.5 559.7h0M329.9 532.8h0M384.5 510.7h0M331.1 555.1h0M448.1 528.1h0M431.5 539.3h0M422.4 534.4h0M333.6 541.9h0M391.1 495.4h0M384.6 557.4h0M452.6 532.8h0M323.6 521.6h0M442.8 571.8h0M348.2 556.6h0M387.1 517.9h0M392.1 526h0M312.7 515.7h0M377.9 531.1h0M339.8 576.6h0M335.6 526.2h0M327.6 526h0M395.6 498h0M375.7 517h0M336.4 580h0M307.9 524.2h0M455.2 529.8h0M314.6 514.8h0M430.3 542h0M341.6 568.1h0M432.8 544.1h0M343.9 549h0M456 524.8h0M379.9 528.3h0M453.4 526.8h0M388.8 525.5h0M447.8 545.2h0M336.2 579.7h0M386.2 519.2h0M398.7 522.9h0M317.9 518.6h0M325.6 552.7h0M454.3 528.7h0M437.2 529.8h0M342.5 572.8h0M429.1 540.2h0M344.1 559.4h0M329.7 535.2h0M462.5 565.7h0M443.1 534.2h0M422.4 526.5h0M445.4 532.2h0M352 562.8h0M383 515.7h0M371.1 534h0M442.5 552.3h0M386.8 516.4h0M439.6 529.7h0M380.7 512.2h0M364 504.4h0M323.3 531.3h0M344 554.1h0M390.4 512.7h0M336 540.1h0M429.8 538.1h0M429.3 513.3h0M467.4 516.7h0M337.8 579.7h0M386 523.5h0M437.7 551.8h0M338.2 589.2h0M442.7 532.3h0M435.3 542.1h0M379.2 529.5h0M387.9 572.8h0M373.4 524.2h0M340.2 560.9h0M431.9 534.8h0M443.6 541h0M448.8 546.1h0M392.8 521.2h0M421.4 525.4h0M376.1 526.2h0M455.3 530.8h0M405.5 514.8h0M432.6 546.1h0M452.4 530.2h0M418.7 514.8h0M313.5 517h0M334.8 577.6h0M287.9 540.9h0M397.5 530.2h0M390.8 525.7h0M394.8 567.7h0M340 554.5h0M372.2 518.8h0M333.2 523.5h0M352.5 559.2h0M440.2 530.4h0M397.9 537h0M445.1 536.8h0M324.2 524.7h0M380.4 507.1h0M340.6 551.6h0M390 530.8h0M447.8 549.1h0M377.6 527.5h0M370.9 520.1h0M326.6 521.2h0M320 519h0M438.3 526h0M380.8 528.6h0M448.5 525.8h0M376.1 545.5h0M372.3 517.5h0M336 575.7h0M396.2 524.8h0M424.3 531.6h0M335.1 550.6h0M373.8 520.9h0M336.8 585.2h0M356.3 559.1h0M425.3 513.7h0M327.6 541.8h0M399.5 518.9h0M398.7 525h0M400 532.8h0M343.8 545.1h0M386.6 512.9h0M352.7 560.1h0M449.3 530h0M385.1 516.5h0M381.7 510.4h0M458.3 527.5h0M393.8 532.1h0M380.8 530h0M361.9 528.6h0M308.6 523.1h0M316.5 520.3h0M441.7 545.8h0M324.3 538.6h0M337 541.8h0M378.9 530.9h0M382.2 507h0M388.9 523.7h0M316.2 516h0M416.8 534.3h0M448.7 543.3h0M447.6 540h0M337.6 586.9h0M319.1 531.3h0M337.2 524.8h0M392.6 515.1h0M325.3 539.3h0M341.6 548.2h0M447.7 541.1h0M400.9 521.2h0M404 563.1h0M350.9 562.5h0M322.2 521.5h0M323.8 535.2h0M322.4 536.2h0M451.8 531.5h0M374 532.2h0M446.9 554.6h0M338.7 576.1h0M328.4 537.1h0M333.2 540.1h0M392.1 499.3h0M319.1 523h0M338.2 577.4h0M440.6 548.9h0M461.4 574.5h0M388.5 506.4h0M412.3 529.8h0M314.6 532.7h0M325.8 530.8h0M314.7 528.5h0M427.5 535.4h0M351.3 558.7h0M393.7 528.7h0M352.6 560.9h0M337 581.4h0M394.2 513.7h0M386.8 528.5h0M382.5 508.6h0M445.2 520.3h0M436.6 537.6h0M399.4 556.2h0M291.9 562.3h0M322 535h0M341.2 576.9h0M351.5 561.9h0M311.6 531.8h0M383.8 517.5h0M399.7 530.2h0M378.3 529.5h0M397.9 514.1h0M451.8 525.6h0M442.2 533.3h0M415.3 532.6h0M349.5 560.6h0M370.8 517.1h0M434.8 537.5h0M435.5 539.1h0M417.3 526.7h0M402.1 516h0M308.1 521.3h0M321.5 522.3h0M381.3 509.5h0M341 559.8h0M345.6 571.3h0M380.2 517.2h0M451 533.4h0M443.5 535.1h0M320.1 523.3h0M343.7 572.7h0M320.1 533.8h0M384.5 507.9h0M447.5 536.9h0M404 521.8h0M335.5 576.1h0M382.1 529.8h0M351.6 557h0M331.1 538.6h0M370.4 531.9h0M391.3 509.1h0M395.6 549.8h0M383.6 508.7h0M371.3 527.8h0M446.3 541.5h0M437.5 547.4h0M430.5 535.7h0M350 558.9h0M446.8 535.8h0M441.7 532.6h0M440.7 531.4h0M326 535.4h0M312.1 518.8h0M444.1 531.9h0M379.4 518.2h0M291.5 507.9h0M432.4 533.8h0M425.2 526.6h0M339.7 532.5h0M317.2 531.2h0M389.5 495.4h0M401.2 517.2h0M311.6 527.7h0M441.6 533.8h0M427 496.4h0M381.7 530.5h0M371.1 548.5h0M419.2 508.3h0M400.4 518.4h0M447.8 538.7h0M438.7 547.7h0M420.3 527.9h0M425.3 543.5h0M450.7 507.2h0M399.8 523.7h0M447.8 543.9h0M387.6 516.7h0M325.1 535.4h0M400.7 524.4h0M340.5 576.6h0M441.5 527.8h0M448.7 547.5h0M319.1 538h0M394.1 535.5h0M321.5 534.2h0M380.1 518.5h0M307.7 527.5h0M420.8 528.5h0M374.9 549.3h0M416.9 535h0M438.4 528.6h0M443.7 530.5h0M317.4 524.5h0M440.5 528.7h0M387.3 530.9h0M395.8 530.6h0M429.6 513.7h0M338.8 578.1h0M431.7 537.5h0M381.4 524.1h0M420.3 501.7h0M387.8 529.3h0M436.2 543.8h0M334.7 544.7h0M406.5 521.2h0M447.3 527.9h0M378.3 515.2h0M391.4 525.2h0M329.5 536.8h0" stroke="#f3e3cd" stroke-width="1.6"/>
<path d="M449.8 529.3h0M316 535.2h0M347.4 557.6h0M324.4 521.6h0M417 518.7h0M320.8 541.8h0M387.5 526h0M344.3 546.8h0M340.7 566.6h0M447.7 558.1h0M312.3 527.8h0M459.2 575.6h0M373.5 515.5h0M434.7 541.3h0M373.8 517.3h0M334.3 561.4h0M310.9 528h0M393.8 512.2h0M441.1 556.6h0M334.6 527.3h0M394.3 522.7h0M321.6 537.2h0M310.5 531.2h0M337.2 544.4h0M420.8 527.1h0M460.8 555.9h0M353.2 562h0M317.8 523h0M399.7 527.1h0M378.3 523.6h0M438.9 543.6h0M323.7 536.8h0M442.7 542.1h0M345.2 553.3h0M390.3 529.2h0M454.5 524.5h0M398.7 555h0M337.2 582.4h0M442.9 551.2h0M310.2 523.7h0M323.2 538.8h0M439.3 548.2h0M376.7 519.3h0M343.8 560.8h0M412.4 519.4h0M436.2 517.1h0M312.7 530.4h0M321.9 541.7h0M378 525.4h0M328.3 530h0M424.4 530.5h0M374.9 534.8h0M314.5 534h0M344.6 564.9h0M423.6 534.7h0M441.7 551.9h0M384.7 519.5h0M425.8 540.8h0M313.7 513.6h0M441.7 542.5h0M420.1 501.8h0M450.6 531.8h0M399 532.9h0M334.5 555.2h0M333.8 540.8h0M393.2 515.5h0M322.3 537.6h0M390.3 527h0M374.9 517.9h0M311.7 531h0M375.3 521h0M322.4 542.7h0M476.9 576.9h0M390.9 531.8h0M327.8 536.4h0M317.8 529.2h0M372.9 525.9h0M440.7 540.9h0M424.9 531.1h0M432.3 540.7h0M312.6 532h0M375.7 522.2h0M420.8 541.1h0M316.9 521.1h0M418.3 526h0M445.4 520.2h0M351.9 554.2h0M392.5 553.9h0M433 535.6h0M475.1 578.9h0M440.2 539.4h0M403.4 534.2h0M452.2 533.6h0M424.5 535.4h0M391.8 566.9h0M321.9 528.4h0M402.6 522.6h0M417.8 507.9h0M352 561.3h0M364.2 504.1h0M428.7 535.6h0M443.5 546.7h0M419.3 526.3h0M434.5 539.1h0M400.5 526.7h0M312.1 523.6h0M477.8 562.5h0M336.9 573.8h0M439.3 551.1h0M413.2 511.8h0M423.9 514.8h0M432.1 538.7h0M426.9 534.4h0M392.1 531.3h0M383.3 551.6h0M354.8 560.3h0M391 572.8h0M388.7 521.9h0M337.9 580.8h0M380 527.5h0M447.4 546.5h0M337.9 578.9h0M313 523.9h0M396.6 518.6h0M384.9 520.8h0M443.6 543.4h0M329.1 533.3h0M401.3 525.2h0M444.3 540.9h0M374.4 516.3h0M312.9 534.2h0M420.5 537.4h0M388.8 500h0M435.5 534.7h0M388.6 507.6h0M321.3 520.3h0M323.3 534.3h0M336.2 525.7h0M375.8 518.9h0M392.9 522.1h0M394.1 563.1h0M385.9 507.8h0M395.1 524.3h0M428.8 536.6h0M420.5 543.7h0M388.6 520h0M426.9 496.8h0M335.9 581.4h0M434.2 535.4h0M344.8 560.2h0M446.1 531.9h0M459 526h0M316.1 526.1h0M452.7 531.2h0M420.2 533.5h0M420 530.8h0M376.5 521.5h0M435.9 538.3h0M311.5 521.5h0M393.3 570h0M337.5 563.3h0M308.6 526.5h0M446 536.7h0M419.1 529.4h0M383.4 523.7h0M445.3 527.2h0M336.1 522.2h0M419.1 525.4h0M399.9 517.5h0M393.5 525.6h0M446.6 570.7h0M336.1 578.1h0M441.4 530.4h0M397.8 513.3h0M338.6 579.3h0M398.7 529.7h0M334.9 523.7h0M440 545.9h0M393.3 561.6h0M384.5 511.6h0M337.2 583.7h0M442.1 534.8h0M336.8 540.9h0M350.3 565.4h0M452.3 528.2h0M440.4 548h0M456.5 564.1h0M337 528.3h0M308.4 515.5h0M324.2 533h0M444.2 551.2h0M444.5 540.1h0M392.5 572.3h0M315.9 523h0M382.3 515.9h0M444.5 530.5h0M425.6 535.7h0M382.5 522.2h0M334.7 559.3h0M322.5 532.9h0M374.3 522.2h0M387.9 501.7h0M293 503.3h0M446.6 526.1h0M418.7 549.9h0M443.9 563.6h0M367.2 544.3h0M450.8 507.2h0M398.5 515.7h0M446.2 539.4h0M437.9 521.4h0M319.7 527.3h0M426.9 529.8h0M398.3 530.8h0M422.8 532.3h0M444.1 528h0M327.6 539h0M391.7 526.9h0M337.8 554.6h0M326.2 538.9h0M425.4 529.8h0M398.4 533.5h0M398.5 527.8h0M437.8 532.6h0M380.7 506.4h0M387.5 502.9h0M392.8 523.1h0M350.6 560.7h0M445 552h0M444.6 543.1h0M386.4 499.5h0M446.1 554.9h0M426.6 531.5h0M443.2 544.5h0M394.8 553.1h0M447.5 524.9h0M338.6 523.7h0M383.5 518.7h0M336.7 581.8h0M438.8 529.6h0M312 529.6h0M337 583.8h0M331.4 552.5h0M464.2 571h0M438.7 533.1h0M328.4 534.6h0M460.3 558.1h0M306.5 523.1h0M400.2 503.3h0M446.5 547.5h0M337.7 558.1h0M322.4 519.1h0M435.3 539.9h0M352.7 554.5h0M376.8 516.8h0M310.5 522h0M446.7 527.4h0M407.1 537.5h0M344.3 568.1h0M336.5 582h0M309.2 522h0M343.8 566.2h0M390.8 508.4h0M447 543.1h0M323.6 540.8h0M410.1 563.9h0M448.9 544.4h0M439.5 528.8h0M347.5 567.6h0M388.9 530h0M336.5 527h0M376.5 524.7h0M460.8 578.9h0M313.7 512.5h0M378.3 517.1h0M328.7 525.6h0M401.9 518h0M401 513.3h0M447.7 553.8h0M340.7 546h0M443 553.9h0M422.3 525.2h0M426.1 529.3h0M383.2 530.5h0M425.6 532.6h0M473.4 581.1h0M382.9 529h0M426.8 528.1h0M387.2 565.4h0M345.8 568.9h0M392.9 513h0M346.8 559.1h0M421.3 527.8h0M373.7 514.4h0M443.1 540.4h0M432.6 547.1h0M379.5 546.2h0M382.6 550.1h0M327.3 541h0M337.2 577.2h0M399.1 543.5h0M377.3 522.8h0M446.6 528.9h0M331.6 536.9h0M308.1 528.2h0M376.4 520.4h0M396.6 514.5h0M387.9 521h0M380 512.9h0M349 563.1h0" stroke="#d9c9b1" stroke-width="2.1"/>
<path d="M449.8 529.3h0M316 535.2h0M347.4 557.6h0M324.4 521.6h0M417 518.7h0M320.8 541.8h0M387.5 526h0M344.3 546.8h0M340.7 566.6h0M447.7 558.1h0M312.3 527.8h0M459.2 575.6h0M373.5 515.5h0M434.7 541.3h0M373.8 517.3h0M334.3 561.4h0M310.9 528h0M393.8 512.2h0M441.1 556.6h0M334.6 527.3h0M394.3 522.7h0M321.6 537.2h0M310.5 531.2h0M337.2 544.4h0M420.8 527.1h0M460.8 555.9h0M353.2 562h0M317.8 523h0M399.7 527.1h0M378.3 523.6h0M438.9 543.6h0M323.7 536.8h0M442.7 542.1h0M345.2 553.3h0M390.3 529.2h0M454.5 524.5h0M398.7 555h0M337.2 582.4h0M442.9 551.2h0M310.2 523.7h0M323.2 538.8h0M439.3 548.2h0M376.7 519.3h0M343.8 560.8h0M412.4 519.4h0M436.2 517.1h0M312.7 530.4h0M321.9 541.7h0M378 525.4h0M328.3 530h0M424.4 530.5h0M374.9 534.8h0M314.5 534h0M344.6 564.9h0M423.6 534.7h0M441.7 551.9h0M384.7 519.5h0M425.8 540.8h0M313.7 513.6h0M441.7 542.5h0M420.1 501.8h0M450.6 531.8h0M399 532.9h0M334.5 555.2h0M333.8 540.8h0M393.2 515.5h0M322.3 537.6h0M390.3 527h0M374.9 517.9h0M311.7 531h0M375.3 521h0M322.4 542.7h0M476.9 576.9h0M390.9 531.8h0M327.8 536.4h0M317.8 529.2h0M372.9 525.9h0M440.7 540.9h0M424.9 531.1h0M432.3 540.7h0M312.6 532h0M375.7 522.2h0M420.8 541.1h0M316.9 521.1h0M418.3 526h0M445.4 520.2h0M351.9 554.2h0M392.5 553.9h0M433 535.6h0M475.1 578.9h0M440.2 539.4h0M403.4 534.2h0M452.2 533.6h0M424.5 535.4h0M391.8 566.9h0M321.9 528.4h0M402.6 522.6h0M417.8 507.9h0M352 561.3h0M364.2 504.1h0M428.7 535.6h0M443.5 546.7h0M419.3 526.3h0M434.5 539.1h0M400.5 526.7h0M312.1 523.6h0M477.8 562.5h0M336.9 573.8h0M439.3 551.1h0M413.2 511.8h0M423.9 514.8h0M432.1 538.7h0M426.9 534.4h0M392.1 531.3h0M383.3 551.6h0M354.8 560.3h0M391 572.8h0M388.7 521.9h0M337.9 580.8h0M380 527.5h0M447.4 546.5h0M337.9 578.9h0M313 523.9h0M396.6 518.6h0M384.9 520.8h0M443.6 543.4h0M329.1 533.3h0M401.3 525.2h0M444.3 540.9h0M374.4 516.3h0M312.9 534.2h0M420.5 537.4h0M388.8 500h0M435.5 534.7h0M388.6 507.6h0M321.3 520.3h0M323.3 534.3h0M336.2 525.7h0M375.8 518.9h0M392.9 522.1h0M394.1 563.1h0M385.9 507.8h0M395.1 524.3h0M428.8 536.6h0M420.5 543.7h0M388.6 520h0M426.9 496.8h0M335.9 581.4h0M434.2 535.4h0M344.8 560.2h0M446.1 531.9h0M459 526h0M316.1 526.1h0M452.7 531.2h0M420.2 533.5h0M420 530.8h0M376.5 521.5h0M435.9 538.3h0M311.5 521.5h0M393.3 570h0M337.5 563.3h0M308.6 526.5h0M446 536.7h0M419.1 529.4h0M383.4 523.7h0M445.3 527.2h0M336.1 522.2h0M419.1 525.4h0M399.9 517.5h0M393.5 525.6h0M446.6 570.7h0M336.1 578.1h0M441.4 530.4h0M397.8 513.3h0M338.6 579.3h0M398.7 529.7h0M334.9 523.7h0M440 545.9h0M393.3 561.6h0M384.5 511.6h0M337.2 583.7h0M442.1 534.8h0M336.8 540.9h0M350.3 565.4h0M452.3 528.2h0M440.4 548h0M456.5 564.1h0M337 528.3h0M308.4 515.5h0M324.2 533h0M444.2 551.2h0M444.5 540.1h0M392.5 572.3h0M315.9 523h0M382.3 515.9h0M444.5 530.5h0M425.6 535.7h0M382.5 522.2h0M334.7 559.3h0M322.5 532.9h0M374.3 522.2h0M387.9 501.7h0M293 503.3h0M446.6 526.1h0M418.7 549.9h0M443.9 563.6h0M367.2 544.3h0M450.8 507.2h0M398.5 515.7h0M446.2 539.4h0M437.9 521.4h0M319.7 527.3h0M426.9 529.8h0M398.3 530.8h0M422.8 532.3h0M444.1 528h0M327.6 539h0M391.7 526.9h0M337.8 554.6h0M326.2 538.9h0M425.4 529.8h0M398.4 533.5h0M398.5 527.8h0M437.8 532.6h0M380.7 506.4h0M387.5 502.9h0M392.8 523.1h0M350.6 560.7h0M445 552h0M444.6 543.1h0M386.4 499.5h0M446.1 554.9h0M426.6 531.5h0M443.2 544.5h0M394.8 553.1h0M447.5 524.9h0M338.6 523.7h0M383.5 518.7h0M336.7 581.8h0M438.8 529.6h0M312 529.6h0M337 583.8h0M331.4 552.5h0M464.2 571h0M438.7 533.1h0M328.4 534.6h0M460.3 558.1h0M306.5 523.1h0M400.2 503.3h0M446.5 547.5h0M337.7 558.1h0M322.4 519.1h0M435.3 539.9h0M352.7 554.5h0M376.8 516.8h0M310.5 522h0M446.7 527.4h0M407.1 537.5h0M344.3 568.1h0M336.5 582h0M309.2 522h0M343.8 566.2h0M390.8 508.4h0M447 543.1h0M323.6 540.8h0M410.1 563.9h0M448.9 544.4h0M439.5 528.8h0M347.5 567.6h0M388.9 530h0M336.5 527h0M376.5 524.7h0M460.8 578.9h0M313.7 512.5h0M378.3 517.1h0M328.7 525.6h0M401.9 518h0M401 513.3h0M447.7 553.8h0M340.7 546h0M443 553.9h0M422.3 525.2h0M426.1 529.3h0M383.2 530.5h0M425.6 532.6h0M473.4 581.1h0M382.9 529h0M426.8 528.1h0M387.2 565.4h0M345.8 568.9h0M392.9 513h0M346.8 559.1h0M421.3 527.8h0M373.7 514.4h0M443.1 540.4h0M432.6 547.1h0M379.5 546.2h0M382.6 550.1h0M327.3 541h0M337.2 577.2h0M399.1 543.5h0M377.3 522.8h0M446.6 528.9h0M331.6 536.9h0M308.1 528.2h0M376.4 520.4h0M396.6 514.5h0M387.9 521h0M380 512.9h0M349 563.1h0" stroke="#f3e3cd" stroke-width="1.6"/>
<path d="M325.8 532.9h0M308.1 520.1h0M392.1 563.1h0M417.7 531.3h0M436.9 536.8h0M392.9 508.8h0M342.5 559.6h0M441.9 528.9h0M386.2 510h0M328.5 529.2h0M397.4 522.2h0M436.3 533.5h0M419.6 531.6h0M398.8 519.4h0M334.3 555.9h0M310.9 520.8h0M441.7 549.4h0M442.5 536.6h0M395 522.3h0M335.3 548.9h0M424.4 533.2h0M450.2 528.6h0M335.8 543.8h0M318.2 517.1h0M447 541h0M445 535.4h0M443.5 551.7h0M384.3 515.3h0M472.3 563.6h0M336.5 576.7h0M421.9 532.2h0M421.8 528.7h0M381.7 508h0M341.3 547.8h0M373.3 531.3h0M306.1 522h0M444.2 545.1h0M326.4 522.7h0M332.7 543.7h0M463 509.4h0M326.6 537.3h0M315.8 528.4h0M339.2 523.2h0M384.6 513.1h0M362 528.6h0M423 531.2h0M339.2 563.5h0M384.9 502.9h0M320.9 530.9h0M322.5 520h0M332.1 555.5h0M334.8 579.6h0M323.4 520.6h0M330 531.2h0M340.7 557.9h0M313.9 533.2h0M312.9 522.1h0M453.8 521h0M448.4 550.6h0M337.8 574.7h0M448.1 529.1h0M342.9 546h0M447.5 529.8h0M393.8 527.1h0M387.7 504h0M378.2 518.9h0M345.9 556.6h0M442.1 546.7h0M445.8 548.7h0M405.9 517.8h0M287.2 540.1h0M312.2 533h0M450.5 525.6h0M444.7 546.3h0M323.3 535.8h0M423.5 530.1h0M338.1 576.7h0M337.4 576.2h0M441.3 538h0M320.9 521.8h0M340.1 556h0M444 532.7h0M337.3 527.3h0M476.2 575.6h0M445.2 541.1h0M389.5 521.4h0M339.2 544.1h0M437 528.2h0M396 521.2h0M435.1 529.8h0M445.9 538.6h0M441.9 552.7h0M329.2 541.2h0M321.4 523.9h0M380.6 521.9h0M438.7 538.9h0M422.7 524.6h0M386.1 511.1h0M399 523.6h0M443.3 550.1h0M339.2 526h0M471.2 565.2h0M433.8 543.7h0M324.5 534h0M399.4 535h0M426.8 533.1h0M391 516.6h0M389 509.6h0M335.8 585.5h0M384.9 555h0M325.3 534.3h0M344 563.6h0M367.2 534h0M443.4 548.9h0M419.9 528.5h0M314 525.4h0M314.9 520.4h0M440.4 529.7h0M327.7 525h0M330.4 526.2h0M445.8 526.7h0M386.8 527.6h0M310.4 527.4h0M378.3 519.8h0M432 536h0M443.2 528.9h0M451 531.3h0M309.3 527.3h0M323.7 524.2h0M451.5 559.2h0M336.4 559.9h0M323.3 522.7h0M457 553.7h0M388.8 529h0M330.2 537.2h0M398.3 521.6h0M396.2 529.3h0M446.1 562.5h0M388.9 517.8h0M382.3 523.2h0M421.5 533.5h0M323.6 527.4h0M441.4 534.9h0M379.7 530.9h0M444.4 549.3h0M387.2 534.8h0M337.2 579.1h0M310.3 518.6h0M396.7 522.9h0M386.8 506.2h0M393.2 524.1h0M379.8 508.1h0M397.9 523.1h0M318.2 532h0M395.6 543.2h0M441.6 540.8h0M389.8 517.7h0M431.3 546.3h0M463.6 572.9h0M325.4 536.4h0M390.4 520.7h0M315.8 517.3h0M333.7 525.7h0M376.3 517.7h0M324.8 531.4h0M341.8 556.8h0M399.2 528.7h0M398 524.6h0M310 525.2h0M302.2 514.4h0M432.4 536.6h0M378.7 548.9h0M441.3 526.7h0M387.7 519.4h0M397.4 517.7h0M388.4 497.1h0M440.9 539.5h0M379.6 514.6h0M400 525.5h0M396.4 528.1h0M464.7 569h0M329.2 523.9h0M332.2 557.1h0M415.4 528.7h0M436.2 517.3h0M371.3 532.5h0M347.4 566.7h0M430.8 538.7h0M438.1 553.4h0M318 533.1h0M391 497.6h0M416.6 530h0M310.2 519.4h0M439.8 540.2h0M337.1 586.1h0M300.2 511.3h0M389.4 526.4h0M354.2 561h0M343.7 571.5h0M422.5 541h0M455.9 573.4h0M435.7 535.9h0M343.7 558h0M385.4 506h0M399.1 547.5h0M319.4 530h0M324.2 530.3h0M386.9 526.6h0M354.7 558.6h0M416.8 532.9h0M326.7 538.1h0M379.8 516.5h0M311.1 522.7h0M324.4 520.1h0M305.4 520.3h0M424.3 537.1h0M409.4 512.5h0M331.3 541.4h0M436.3 539.6h0M322.4 541.1h0M331.4 522.1h0M333.3 542.8h0M387.2 531.6h0M380.6 509.2h0M446 527.9h0M447 549.4h0M384.9 531.4h0M342.3 545h0M339.4 578.8h0M327.8 531h0M322.9 540.2h0M337.9 588.8h0M345.4 558.2h0M463.8 567.4h0M306.1 524.1h0M348.5 562.3h0M337.6 552.2h0M415.5 530h0M347.1 562.3h0M325.2 538h0M343 547.7h0M341.8 573.9h0M389.1 505.2h0M445 565.7h0M397 523.7h0M440 521h0M401.4 523.9h0M408.6 555h0M395.4 527.3h0M317.4 520.4h0M400.1 521.2h0M445.7 540.2h0M440 550.1h0M327.7 523.5h0M404.2 533.9h0M381 534h0M328.4 540h0M440.5 543.2h0M324.6 536.5h0M459.7 562.5h0M461.1 564.1h0M433.7 540.2h0M333.8 529.9h0M445.2 530.9h0M385.9 524.2h0M354.7 556.8h0M381.3 526.6h0M402.8 519.8h0M448.1 523.8h0M435 545.5h0M439 527.9h0M398.4 528.8h0M377.8 513.2h0M332.2 524.2h0M375.4 529.8h0M329.2 540.4h0M443.4 539.7h0M443.3 537.9h0M418.4 528h0M398.7 526.3h0M340.6 572.8h0M447.2 541.7h0M376.1 525.5h0M447.2 535.1h0M458 528.7h0M417 527.8h0M348.9 566.9h0M390.1 524.4h0M453.2 566.3h0M318.1 524h0M383.1 506.6h0M395.8 514.4h0M324.5 527.8h0M442.7 546h0M435.3 533h0M439.2 544.7h0M422.5 529h0M428.2 531.5h0M314.7 516.9h0M448.6 534.9h0M375.2 523.9h0M384.9 536.7h0M446 524.9h0M396.9 533.5h0M402.5 533.7h0M390.1 523h0M325.1 522h0M330 539.9h0M385.2 507.6h0" stroke="#d9c9b1" stroke-width="2.1"/>
<path d="M325.8 532.9h0M308.1 520.1h0M392.1 563.1h0M417.7 531.3h0M436.9 536.8h0M392.9 508.8h0M342.5 559.6h0M441.9 528.9h0M386.2 510h0M328.5 529.2h0M397.4 522.2h0M436.3 533.5h0M419.6 531.6h0M398.8 519.4h0M334.3 555.9h0M310.9 520.8h0M441.7 549.4h0M442.5 536.6h0M395 522.3h0M335.3 548.9h0M424.4 533.2h0M450.2 528.6h0M335.8 543.8h0M318.2 517.1h0M447 541h0M445 535.4h0M443.5 551.7h0M384.3 515.3h0M472.3 563.6h0M336.5 576.7h0M421.9 532.2h0M421.8 528.7h0M381.7 508h0M341.3 547.8h0M373.3 531.3h0M306.1 522h0M444.2 545.1h0M326.4 522.7h0M332.7 543.7h0M463 509.4h0M326.6 537.3h0M315.8 528.4h0M339.2 523.2h0M384.6 513.1h0M362 528.6h0M423 531.2h0M339.2 563.5h0M384.9 502.9h0M320.9 530.9h0M322.5 520h0M332.1 555.5h0M334.8 579.6h0M323.4 520.6h0M330 531.2h0M340.7 557.9h0M313.9 533.2h0M312.9 522.1h0M453.8 521h0M448.4 550.6h0M337.8 574.7h0M448.1 529.1h0M342.9 546h0M447.5 529.8h0M393.8 527.1h0M387.7 504h0M378.2 518.9h0M345.9 556.6h0M442.1 546.7h0M445.8 548.7h0M405.9 517.8h0M287.2 540.1h0M312.2 533h0M450.5 525.6h0M444.7 546.3h0M323.3 535.8h0M423.5 530.1h0M338.1 576.7h0M337.4 576.2h0M441.3 538h0M320.9 521.8h0M340.1 556h0M444 532.7h0M337.3 527.3h0M476.2 575.6h0M445.2 541.1h0M389.5 521.4h0M339.2 544.1h0M437 528.2h0M396 521.2h0M435.1 529.8h0M445.9 538.6h0M441.9 552.7h0M329.2 541.2h0M321.4 523.9h0M380.6 521.9h0M438.7 538.9h0M422.7 524.6h0M386.1 511.1h0M399 523.6h0M443.3 550.1h0M339.2 526h0M471.2 565.2h0M433.8 543.7h0M324.5 534h0M399.4 535h0M426.8 533.1h0M391 516.6h0M389 509.6h0M335.8 585.5h0M384.9 555h0M325.3 534.3h0M344 563.6h0M367.2 534h0M443.4 548.9h0M419.9 528.5h0M314 525.4h0M314.9 520.4h0M440.4 529.7h0M327.7 525h0M330.4 526.2h0M445.8 526.7h0M386.8 527.6h0M310.4 527.4h0M378.3 519.8h0M432 536h0M443.2 528.9h0M451 531.3h0M309.3 527.3h0M323.7 524.2h0M451.5 559.2h0M336.4 559.9h0M323.3 522.7h0M457 553.7h0M388.8 529h0M330.2 537.2h0M398.3 521.6h0M396.2 529.3h0M446.1 562.5h0M388.9 517.8h0M382.3 523.2h0M421.5 533.5h0M323.6 527.4h0M441.4 534.9h0M379.7 530.9h0M444.4 549.3h0M387.2 534.8h0M337.2 579.1h0M310.3 518.6h0M396.7 522.9h0M386.8 506.2h0M393.2 524.1h0M379.8 508.1h0M397.9 523.1h0M318.2 532h0M395.6 543.2h0M441.6 540.8h0M389.8 517.7h0M431.3 546.3h0M463.6 572.9h0M325.4 536.4h0M390.4 520.7h0M315.8 517.3h0M333.7 525.7h0M376.3 517.7h0M324.8 531.4h0M341.8 556.8h0M399.2 528.7h0M398 524.6h0M310 525.2h0M302.2 514.4h0M432.4 536.6h0M378.7 548.9h0M441.3 526.7h0M387.7 519.4h0M397.4 517.7h0M388.4 497.1h0M440.9 539.5h0M379.6 514.6h0M400 525.5h0M396.4 528.1h0M464.7 569h0M329.2 523.9h0M332.2 557.1h0M415.4 528.7h0M436.2 517.3h0M371.3 532.5h0M347.4 566.7h0M430.8 538.7h0M438.1 553.4h0M318 533.1h0M391 497.6h0M416.6 530h0M310.2 519.4h0M439.8 540.2h0M337.1 586.1h0M300.2 511.3h0M389.4 526.4h0M354.2 561h0M343.7 571.5h0M422.5 541h0M455.9 573.4h0M435.7 535.9h0M343.7 558h0M385.4 506h0M399.1 547.5h0M319.4 530h0M324.2 530.3h0M386.9 526.6h0M354.7 558.6h0M416.8 532.9h0M326.7 538.1h0M379.8 516.5h0M311.1 522.7h0M324.4 520.1h0M305.4 520.3h0M424.3 537.1h0M409.4 512.5h0M331.3 541.4h0M436.3 539.6h0M322.4 541.1h0M331.4 522.1h0M333.3 542.8h0M387.2 531.6h0M380.6 509.2h0M446 527.9h0M447 549.4h0M384.9 531.4h0M342.3 545h0M339.4 578.8h0M327.8 531h0M322.9 540.2h0M337.9 588.8h0M345.4 558.2h0M463.8 567.4h0M306.1 524.1h0M348.5 562.3h0M337.6 552.2h0M415.5 530h0M347.1 562.3h0M325.2 538h0M343 547.7h0M341.8 573.9h0M389.1 505.2h0M445 565.7h0M397 523.7h0M440 521h0M401.4 523.9h0M408.6 555h0M395.4 527.3h0M317.4 520.4h0M400.1 521.2h0M445.7 540.2h0M440 550.1h0M327.7 523.5h0M404.2 533.9h0M381 534h0M328.4 540h0M440.5 543.2h0M324.6 536.5h0M459.7 562.5h0M461.1 564.1h0M433.7 540.2h0M333.8 529.9h0M445.2 530.9h0M385.9 524.2h0M354.7 556.8h0M381.3 526.6h0M402.8 519.8h0M448.1 523.8h0M435 545.5h0M439 527.9h0M398.4 528.8h0M377.8 513.2h0M332.2 524.2h0M375.4 529.8h0M329.2 540.4h0M443.4 539.7h0M443.3 537.9h0M418.4 528h0M398.7 526.3h0M340.6 572.8h0M447.2 541.7h0M376.1 525.5h0M447.2 535.1h0M458 528.7h0M417 527.8h0M348.9 566.9h0M390.1 524.4h0M453.2 566.3h0M318.1 524h0M383.1 506.6h0M395.8 514.4h0M324.5 527.8h0M442.7 546h0M435.3 533h0M439.2 544.7h0M422.5 529h0M428.2 531.5h0M314.7 516.9h0M448.6 534.9h0M375.2 523.9h0M384.9 536.7h0M446 524.9h0M396.9 533.5h0M402.5 533.7h0M390.1 523h0M325.1 522h0M330 539.9h0M385.2 507.6h0" stroke="#f3e3cd" stroke-width="1.6"/>
<path d="M402.5 543.5h0M363.9 542.7h0M389.5 572.8h0M387.7 498.9h0M396.5 532.6h0M404 520.4h0M372.6 545.2h0M389.2 497.3h0M374.9 514.2h0M408.6 564.2h0M381.8 553.1h0M378 511h0M391.2 515.4h0" stroke="#ee9468" stroke-width="2.2"/>
<path d="M390.7 500.6h0M380.3 529.5h0M386 527.9h0M390.8 528.6h0M421.9 544.5h0M389.1 501.4h0M429.3 533.9h0M393.7 530.5h0" stroke="#d63e2a" stroke-width="2.5"/>
<path d="M456.1 533.5C409 550.1 379.9 557.2 332.7 543.7M454.5 524.5C404.5 550.7 377.7 551.4 327.7 523.5M453.3 531.5C408.2 554.2 379.8 549.6 334.6 527.3M453.4 526.8C424.6 541.6 372.7 566 343.9 549M450.2 528.6C406.9 544.3 367.8 549.1 324.6 536.5M454.5 524.5C417.2 549.9 364.9 564.3 327.6 541.8M455.9 535.2C405.4 554.7 372 556.2 321.5 534.2M450.2 528.6C403.4 554.2 376.7 564.4 330 531.2" stroke="#25628f" stroke-width="0.5" stroke-opacity="0.8"/>
<path d="M455.1 533.4Q456.2 533.6 457.4 533.8M453.9 532.5Q452.7 532.4 451.6 532.2M453.9 532.6Q453.9 533.9 453.9 535M454.3 532Q454.8 532.5 455.3 533.6M453.7 534.2Q451.5 533.9 449.4 534.1M454 532.4Q453.6 533.6 453.1 535.1M452.8 532.4Q450.3 532.5 447.8 533.2M455.1 533.7Q453.8 533.6 452.5 533.6M454.9 532.5Q456.7 532.8 458.5 533.6M455.1 534.1Q455.3 535.4 455.5 536.8M453.6 532.9Q452.6 533.4 451.6 533.4M453 532.5Q452.2 531.9 451.4 531.2M453.3 534.1Q454.7 534.5 456.1 534.1M454.7 532.2Q452.4 531.7 450 532.2M452.9 532.1Q451.8 531.3 450.6 531.4M454.7 533.1Q452.5 534.3 450.4 534.5M427 545.4Q426 545.3 425 544.5M426.4 543.9Q427.3 544.2 428.2 545M426.1 544.1Q425.3 543.5 424.5 542.6M426.2 545.1Q426.9 544.8 427.7 544.4M425 545.6Q425.4 546.7 425.8 547.2M427 544.5Q426.5 545 426 546M425.7 543.7Q427 544.1 428.3 544.1M425 544.3Q426.6 544.9 428.2 545.7M425.6 544Q424.5 544.2 423.4 543.5M425.4 544.4Q427.2 543.7 429 544.3M425.4 545.7Q427.4 545.4 429.4 545.6M426 543.9Q426.5 542.7 426.9 541.9M398.9 532.6Q400 531.9 401.1 531.7M398 533.5Q399.3 533.7 400.6 533.6M397.9 532.7Q398.4 533 398.9 533.7M399.4 532.9Q398.6 532.4 397.9 532.2M399.1 533.2Q399.7 533.7 400.2 534.4M398.8 531.8Q399.5 532.6 400.2 533.1M331.6 529.3Q333.3 529.6 335.1 531.1M329.3 529.7Q330.6 529.6 331.9 528.9M331.5 529.2Q333.7 528.2 335.8 528.4M330 529.4Q328.5 529.7 326.9 530.8M330.4 529Q329.9 527.7 329.4 526.5M330.7 528.7Q331 530.2 331.2 531.2M331.6 529.4Q331 530 330.4 531.1M331.6 527.9Q333.3 526.6 335 526.6M439.5 540.4Q440.9 540 442.2 540.3M439 542Q438.7 541 438.5 540.1M437.3 541.8Q438.5 542.6 439.6 542.7M437.4 540.5Q436.3 541 435.2 542.1M437.4 541.3Q437.1 541.8 436.7 542.6M438.6 541.3Q436.4 540 434.1 540.5M437.4 541.6Q437.8 542.9 438.2 543.6M438.6 540Q439.1 540.6 439.6 541.8" stroke="#2c6c9c" stroke-width="0.6" stroke-opacity="0.8"/>
</g>
<g id="map_d3" fill="none" stroke-linecap="round">
<path d="M289.5 702.5Q377.2 756.4 464.8 724.9M282.3 693.1Q372.2 747 462.1 721.6M293.5 694.4Q379.4 762.3 465.2 728.5M287.6 698.8Q383.2 766.7 478.8 720M344.8 723.7Q403.3 757.5 461.8 736.4M341.7 724.1Q399.3 745 456.9 730.9M347.8 716.6Q404.3 742.7 460.7 720M353.6 718.4Q409.1 749.3 464.6 730.4M323.5 677.5Q379.5 666.3 435.5 696.6M313.1 681.1Q384.7 648.4 456.3 688.3M307.1 681.6Q374.4 654.5 441.7 698.4M330.2 697.9Q389.5 669.6 448.8 696.2M328.7 681Q385.6 660.9 442.6 698.3" stroke="#2c6c9c" stroke-width="0.5" stroke-opacity="0.28" stroke-dasharray="2.5 0.8"/>
<path d="M455.5 682C412.3 704.1 368.8 726 325.6 694M453.6 692.6C414.6 707 360.8 731.9 321.8 699.3M454.9 688.9C426.2 716.4 368.9 710.9 340.2 680.7M455.7 691.3C420.5 714.2 373.2 711.9 338 699.3M455.7 691.3C414 708.1 371.1 723.9 329.4 692.1M457 682.3C423.3 711.6 360.5 712.1 326.8 690.4M454 690.5C413.3 719.9 364 720.6 323.3 695.1M454.9 688.9C415 704.3 348.6 704.3 308.7 685M454.4 684.3C413.4 706.5 374.7 736.7 333.7 701.2M456.4 688.5C410.8 711.1 379.3 723.4 333.7 701.2M456.1 689.5C410.1 719.1 367.8 739.1 321.8 699.3M456.4 688.5C415.9 718.1 374.2 720.1 333.7 701.2M454.4 684.3C406.9 699.5 374.3 707.7 326.8 690.4M456.4 689.1C404 712.9 377.6 717 325.2 687.8M453.6 690.3C401.8 711.5 364.4 722.5 312.6 685.2M455.3 686.2C405.1 716.1 372.1 721.3 321.9 688.4M457 682.3C419.2 714 351.1 719.3 313.3 685.3M456 688.7C409.2 712.7 381 714.7 334.2 697.6M456.1 689.5C421.4 702.5 363.3 720.9 328.6 696.5M457 682.3C415.4 711.8 371.7 717.8 330.1 690.8M455.7 691.3C410.1 715.3 372.8 705.5 327.2 691.4M456.1 689.5C417.8 708.8 362.6 719.1 324.3 688.8M454.4 690.3C418.4 707.3 363.6 730.9 327.6 694.8M426.9 700.8C395.7 709.2 354.1 703.3 322.9 685.9M428.8 701.1C398 705.3 356.9 708.3 326.2 695.5M427.6 702.2C400.7 705.4 364.9 699.7 338 685.8M426.2 701.5C398.7 710.6 362.1 709.4 334.6 699.4M425.7 701.3C396.6 709.7 357.9 700 328.8 688.5M426.9 700.8C399.6 708.8 363.1 718.4 335.7 702.2M425.7 701.3C397.7 706 360.4 698.5 332.4 679.6M426.9 700.8C395.9 704.4 354.5 720.7 323.4 698.6M456.3 691.8C405.9 718.3 338.6 723 288.2 697.3M453.6 690.3C403.8 719.7 337.6 720.5 287.9 697.2M454.7 688.5C404.8 717 338.3 728.8 288.4 698M451.2 686.1C402.3 706.5 337.1 726.9 288.2 697.4M287.9 697.3Q308.6 691.6 329.4 697.5M288.2 698Q301.9 679.3 315.7 674.4M287.7 697.1Q306.5 683.7 325.2 687.8M287.8 697.5Q307.8 691.4 327.7 695.6M288.4 697.1Q311.3 691.4 334.2 697.6M453.6 690.3Q464.3 706 457.5 721.6M455.7 691.3Q471.1 709.9 465.2 728.5M453.6 692.6Q462.2 707.1 457.5 721.6M454.4 684.3Q482.2 708.1 462.4 732M454.9 688.9Q489.5 711 477.2 733.1M454 690.5Q471.7 706.8 463.5 723.2M453.6 692.6Q463.4 708.7 464.8 724.9M454.7 688.5Q418.9 683.8 383.1 687.3M451.2 686.1Q415.2 680.6 379.3 672.7M455.7 691.3Q421.9 679.9 388.1 675.4M450.8 686.8Q426 671.1 401.2 660.8M450.8 686.8Q422 689 393.1 688.8M456.4 688.5Q421 676.5 385.5 668.2M453.6 690.3Q416.3 679.5 379 668.5M452.9 692.4Q422.1 690.7 391.3 684.5M455.9 692.3Q428 696 400 690.4M453.6 690.3Q417.4 688.7 381.3 687M456.4 689.1Q441.6 696.3 426.9 700.8M453.1 689.8Q439.4 696.8 425.7 701.3M456.2 687.3Q441.6 697 426.9 700.8M456.1 689.5Q444.4 692.6 432.7 695M455.9 692.3Q441.4 696.7 426.9 700.8M453.6 690.3Q439.6 697.4 425.7 701.3M455.7 691.3Q442.2 698.1 428.8 701.1M456.4 688.5Q441.2 697.7 425.9 703.2M454 690.5Q439.9 690.1 425.9 688.6M452.9 692.4Q447.8 699.5 442.7 703.3M455.5 682Q451.2 686.9 446.9 696.1M457 682.3Q449 693.7 441 703.4M450.8 686.8Q450.3 695.2 449.8 703.6M454.4 690.3Q449 694.9 443.7 703.5M451.2 686.1Q447.6 693.7 444.1 697.9M455.3 686.2Q449.7 687.8 444.1 691.7M455.7 691.3Q448.6 700.9 441.4 705.5M457 682.3Q444.1 695 431.3 699.5M456.3 691.8Q453.8 688.7 451.2 686.1M454.4 690.3Q451.5 694.9 448.6 697.5M456.2 687.3Q453 692.1 449.7 700.8M456.4 688.5Q452.2 694.6 448 700.6M456.3 691.8Q452.5 701.1 448.7 715.6M457 682.3Q445.8 693.1 434.7 697.7M454 690.5Q454.6 688.9 455.3 686.2M456.4 689.1Q452 688 447.7 684.9M456.4 688.5Q446.4 689.1 436.5 692.2M324.2 696.3Q389.8 666.3 455.3 686.2M308.9 681.7Q381.6 664.9 454.4 684.3M326.4 693.9Q391.4 666.4 456.4 688.5M326.3 691.8Q389.6 666.9 452.9 692.4M329.7 683.1Q391.4 669.4 453.1 689.8M325.8 688.9Q355.2 673.8 384.5 676.2M326.3 696.8Q358.4 673.8 390.5 652.9M324.4 678.1Q353.3 664.9 382.3 667M338.2 701.9Q365.1 678.7 392 674.1M316.9 680.5Q358.8 689.1 400.8 681.2M323.9 697.7Q361.8 692.8 399.7 687.2M318.9 676.1Q347.1 681.5 375.3 679.7M340.2 680.7Q370.6 678.7 401 690.3M338 685.8Q363.8 679.8 389.5 663.9M352.6 714.5Q404.5 707.5 456.4 689.1M337.5 734.2Q396.2 724.1 454.9 688.9M338.6 709.7Q396.1 712.4 453.6 692.6M338.2 741.2Q397.2 731.9 456.3 691.8M340.2 721Q396.9 716 453.6 692.6M327.4 680.2Q364.3 667.4 401.2 660.8M313 687.1Q358.4 665.9 403.8 677.3M311.9 678.3Q345.6 670.6 379.3 681.1M323 692.5Q356.6 671.9 390.1 658.9M321.1 680.8Q352.7 686.8 384.4 681.2M315.7 674.4Q348.3 671.9 381 685M334.2 681Q357.6 678.6 380.9 685.8M399.5 685.3Q414.9 689.2 430.3 691.4M402.9 675.5Q412.2 687.5 421.5 694.9M386.4 663.5Q403.8 674.4 421.2 691M378.6 685Q399.4 683.8 420.3 683.8M384.4 681.2Q405.1 685.7 425.9 688.6M381 670.4Q402.1 674.7 423.3 682.7M398 681.2Q407.9 687.6 417.8 691.8M385.6 670.6Q405.1 683.1 424.6 692.2M389.6 677.5Q406.5 679.7 423.4 691.9M390.5 678.9Q405.7 684.3 420.9 686M402.9 675.5Q418 689 433 693.5M389.5 663.9Q405.3 671 421 688.3M391 688.3Q408.9 694.4 426.9 700.8M389.8 686.5Q406.8 686.7 423.8 689.8M394.2 673Q425.3 684.9 456.4 688.5M384 673.2Q420.2 683.3 456.3 691.8M387.8 685.1Q421.1 692.1 454.4 690.3M393.1 656.8Q409.5 682.8 425.9 703.2M400.5 676.4Q428.1 686.2 455.7 691.3M377.5 679Q403.1 692.9 428.8 701.1M325.8 688.9Q334.1 703.5 350.5 718.1M327.6 678.7Q333 695.3 341 712M319.1 681.5Q330.7 703.3 348.5 725.1M324.3 688.8Q330.4 698.9 341.6 709.1M324.7 681.7Q345 699.8 355.8 717.8M324.3 680.2Q331.1 699.5 353 718.8M324.6 698.3Q335.3 709.7 345 721.1M324.3 691.8Q326.1 703.7 338.7 715.6M327.6 678.7Q325.4 695.7 335.5 712.7M388.5 683.5Q370.4 705.2 352.3 716.2M384 673.2Q369.6 703.9 355.2 718.5M396.4 684.8Q365.9 704.7 335.5 712.7M390.5 678.9Q373.5 700.7 356.5 717.2M384.2 688Q361.1 718.1 338 741.3M380.9 685.8Q365.1 706.2 349.2 714.1M377.4 677.9Q359.5 694.6 341.6 709.1M394.2 681.6Q366 719.4 337.8 742.7M344.9 706.5Q335.4 700.6 325.8 688.9M313.6 689.5Q314.5 690.8 315.5 691.5M308.7 685Q316.1 680.5 323.4 676.6M307.1 679.5Q315.7 676.6 324.4 678.1M327 692.9Q320.8 683.1 314.5 674.5M309.6 680.6Q318.2 687.6 326.8 688.3M324.6 698.3Q325.9 696.1 327.2 691.4M312.6 685.2Q317.6 681.3 322.5 679.8M309.6 684Q317.5 681.9 325.4 677.6M328.8 693.9Q326.1 682.3 323.4 676.6M330.7 692.7Q327.1 684.7 323.5 677.5M334.6 699.4Q338.2 701 341.7 703.5M385.7 677Q388.7 682.4 391.8 686.1M387.4 657Q381.1 668.2 374.8 674.8M391.1 681.9Q410.8 680.9 430.6 671.2M396 679.8Q395.3 684.6 394.7 688M377.8 674.3Q384.8 676.7 391.8 683.2M389.8 657.5Q395.2 664.6 400.7 687.7M399.7 687.2Q395.7 677.1 391.7 658.1M388.9 659.2Q394.4 671.2 400 690.4M391.4 678.2Q386.6 684.2 381.8 686.1M397.2 686.8Q394.3 686.1 391.3 684.5M385.6 670.6Q386.9 681.7 388.3 688.4M397.9 691Q386.1 685.5 374.3 688.8M400.7 684.6Q395.6 680.1 390.5 678.9M381.3 687Q384.8 688.2 388.3 688.4M385.9 678.3Q384.3 672.1 382.7 667.9M418 676.2Q399.9 671.1 381.8 687.5M413.4 676.9Q406.9 683.6 400.4 692.5M446.2 677.8Q416.3 664.1 386.4 663.5M421.3 659.2Q412.9 665.8 404.4 691.7M406.5 672.3Q390.5 668.3 374.4 681.7M446.2 677.8Q419.7 668.5 393.1 688.8M454.8 678.5Q428.2 665.5 401.5 684.2M421.1 659.3Q410.4 663.9 399.7 687.2M388.2 722.9Q389.3 681.2 390.5 652.9M383.6 707.6Q388.7 693 393.8 678.7M364.9 700.2Q392.7 698 420.6 689.1M380.5 703.7Q396.9 693.3 413.3 687.3M385.9 712.5Q382.6 696.5 379.3 681.1M392.8 724.4Q398.2 706.7 403.6 680.1M460.7 720Q453.4 723.7 446 723.2M477.9 734.4Q465.2 729.8 452.5 716.7M462.1 721.6Q440.9 719.2 419.7 707.4M464.8 724.9Q463.3 720.7 461.8 713.4M478.8 720Q452.3 712.2 425.8 701M294 660.8Q316.1 677 338.2 682.3M292.5 665.4Q302.9 678.3 313.3 685.3" stroke="#2c6c9c" stroke-width="0.33" stroke-opacity="0.66"/>
<path d="M450.8 686.8C420.6 704.8 369.9 696.6 339.6 681.2M455.9 692.3C404.4 711.9 374.1 727.2 322.6 694.7M450.8 686.8C404.8 716.2 355.6 704.4 309.6 684M454.4 684.3C407.1 698.1 369.9 710.9 322.6 694.7M454.7 688.5C411.7 702.8 364.8 715.3 321.8 699.3M451.2 686.1C410.4 707 364.7 733.9 323.9 697.7M451.2 686.1C415.3 706.3 360.2 720.3 324.3 688.8M457 682.3C422.2 711.4 358.1 717.4 323.3 695.1M427 702.4C400.8 707.9 365.8 692.2 339.6 681.2M426.9 700.8C400.8 707 366 691.8 339.9 684.6M454.4 690.3C404.4 712.4 337.7 725.3 287.7 697.9M453.6 690.3Q481.9 711.7 477.2 733.1M453.6 690.3Q471.4 713.4 461.8 736.4M455.3 686.2Q464.5 703.9 462.1 721.6M456.1 689.5Q459.5 706.7 454.2 723.8M329.4 692.1Q356.1 681.4 382.7 667.9M325.5 691.5Q344.2 681.4 363 686.1M309.6 680.6Q340.5 676.3 371.4 689.4M376.4 687.3Q401.3 691.2 426.2 684.1M402.9 675.5Q428.3 686.6 453.6 692.6M392.1 652.9Q421.5 673.2 450.8 686.8" stroke="#2c6c9c" stroke-width="0.55" stroke-opacity="0.85"/>
<path d="M327.2 691.4h0M411.7 687.6h0M309.1 677.6h0M393.1 720.6h0M418.7 688.8h0M437.9 694.3h0M403.5 701h0M444.9 708h0M340.4 718.7h0M339.2 728.9h0M445.7 686.1h0M460.2 733.1h0M374.5 673h0M399.8 676.9h0M335.3 713.4h0M311.9 678.3h0M442.7 706.9h0M443.5 694.1h0M396 679.8h0M336.3 706.4h0M425.4 690.7h0M311.5 688.7h0M381.3 687h0M392.1 652.9h0M461.8 713.4h0M354.2 719.5h0M318.8 680.5h0M400.7 684.6h0M379.3 681.1h0M439.9 701.1h0M422.8 686.2h0M346.2 710.8h0M336.6 683.7h0M328.6 683.5h0M396.6 655.5h0M327.4 680.2h0M337.4 737.5h0M308.9 681.7h0M456.2 687.3h0M315.6 672.3h0M431.3 699.5h0M342.6 725.6h0M433.8 701.6h0M344.9 706.5h0M457 682.3h0M379 682.9h0M329.3 687.5h0M425.4 688h0M375.9 692.3h0M315.5 691.5h0M345.6 722.4h0M341.7 715.4h0M314.9 690.7h0M313.9 679.6h0M438.2 687.3h0M343.5 730.3h0M430.1 697.7h0M345.1 716.9h0M448.5 687.3h0M444.1 691.7h0M423.4 684h0M346.9 714.1h0M443.1 704.2h0M372.1 691.5h0M288.2 697.6h0M313.2 690.5h0M451.5 683.1h0M445.7 703.8h0M324.3 693.3h0M345 711.6h0M441.7 698.4h0M442.3 695.5h0M321.9 679.3h0M341.1 713.5h0M445 690.2h0M387 681h0M438.7 709.3h0M339.2 746.7h0M352.9 711.7h0M393.5 711.4h0M397 678.7h0M436.1 687.3h0M446.9 696.1h0M442.9 710.2h0M444.6 698.5h0M449.8 703.6h0M322.9 685.9h0M377.1 683.7h0M456.3 688.3h0M406.5 672.3h0M433.6 703.6h0M453.4 687.7h0M434.8 701.2h0M325.5 691.5h0M288.9 698.4h0M398.5 687.7h0M337.9 731.3h0M440.3 708.6h0M414.2 669.3h0M326.3 691.8h0M345 721.1h0M368.2 691.5h0M364.9 700.2h0M384.3 709.1h0M355.8 717.8h0M392 730.3h0M389.7 679.4h0M338.9 738.3h0M390.5 730.3h0M448.8 706.6h0M378.6 685h0M311.4 684.9h0M321 676.5h0M444.6 700.9h0M452 688.8h0M377.1 703h0M452.5 716.7h0M337.4 717.4h0M324.3 680.2h0M458 711.2h0M374.8 678.4h0M322.3 677.8h0M324.3 691.8h0M447.1 720h0M395.1 720.6h0M386.9 665.3h0M396.1 681.8h0M353.7 717.6h0M450.3 687.5h0M386.1 674h0M382.7 667.9h0M459.3 685h0M387.8 663.7h0M394.2 681.6h0M317.1 683.6h0M453.7 688.7h0M421.2 691h0M442.6 698.3h0M390.8 675.2h0M312.5 679h0M326.4 693.9h0M391.4 678.2h0M316.8 674.8h0M334.7 683.2h0M338.6 744.4h0M320.1 688.8h0M338.2 682.3h0M393.6 672.6h0M326.3 696.8h0M342.6 705.7h0M448.7 698.6h0M337.1 735.6h0M442.4 687.9h0M398.8 670.8h0M339.6 736.8h0M399.7 687.2h0M441.9 697h0M380.6 672.1h0M447.9 712.1h0M465.7 726.5h0M330.2 681.4h0M333.2 714.6h0M320.1 680.5h0M339.2 734.9h0M457.5 721.6h0M338 685.8h0M439.1 710.9h0M319 690.6h0M326.8 688.3h0M393.5 729.8h0M316.9 680.5h0M352.3 716.2h0M445.5 688h0M390.4 683.9h0M355.2 718.5h0M387.8 686h0M375.3 679.7h0M388.9 659.2h0M294 660.8h0M447.6 683.6h0M419.7 707.4h0M444.9 721.1h0M368.2 701.8h0M451.8 664.7h0M447.2 696.9h0M327.7 695.6h0M380.8 674h0M312.1 680.2h0M325.4 677.6h0M416.3 690.1h0M350.5 718.1h0M405 677.9h0M338.8 712.1h0M327.2 696.4h0M426.4 687.3h0M399.4 691h0M399.5 685.3h0M438.8 690.1h0M382.3 667h0M342 717.3h0M393.8 680.6h0M343.3 702.5h0M340.4 736.3h0M328.8 688.5h0M323.9 697.7h0M338.9 746.3h0M346.4 715.7h0M448.5 694.4h0M405 679.3h0M349.5 719.8h0M338.6 709.7h0M352.6 714.5h0M332.1 696.1h0M371.4 689.4h0M392.3 666.6h0M396.6 707.3h0M465.2 728.5h0M439.7 690.6h0M329.4 692.1h0M461.3 715.6h0M409.6 712.5h0M447.8 693.3h0M442.7 690.1h0M441.7 688.9h0M436.3 697.4h0M328.7 681h0M380.4 675.7h0M292.5 665.4h0M408.1 695h0M345.3 725.6h0M337.5 739.5h0M310.2 679.5h0M344.8 723.7h0M334.8 687.4h0M442.6 691.3h0M428 653.9h0M409.6 721.7h0M440.5 686.3h0M348.5 725.1h0M401.4 675.9h0M337.5 684.5h0M399.4 686.3h0M426.3 701h0M451.7 664.7h0M329.7 683.1h0M448.8 701.4h0M388.6 674.2h0M326.1 692.9h0M401.7 681.9h0M341.5 734.1h0M442.5 685.3h0M449.7 705h0M384.2 688h0M459 686.2h0M418 685.3h0M394.7 688h0M391.1 681.9h0M454.2 723.8h0M319.1 681.5h0M439.4 686.1h0M422.3 685.3h0M441.5 686.2h0M433.6 704.6h0M380.5 703.7h0M429.2 689h0M315.7 674.4h0M382.4 681.6h0M378.3 680.3h0M447 682.4h0M397.9 691h0M403.5 691.2h0M397.6 672h0M331 697.4h0M330.5 694.3h0" stroke="#d9c9b1" stroke-width="2.1"/>
<path d="M327.2 691.4h0M411.7 687.6h0M309.1 677.6h0M393.1 720.6h0M418.7 688.8h0M437.9 694.3h0M403.5 701h0M444.9 708h0M340.4 718.7h0M339.2 728.9h0M445.7 686.1h0M460.2 733.1h0M374.5 673h0M399.8 676.9h0M335.3 713.4h0M311.9 678.3h0M442.7 706.9h0M443.5 694.1h0M396 679.8h0M336.3 706.4h0M425.4 690.7h0M311.5 688.7h0M381.3 687h0M392.1 652.9h0M461.8 713.4h0M354.2 719.5h0M318.8 680.5h0M400.7 684.6h0M379.3 681.1h0M439.9 701.1h0M422.8 686.2h0M346.2 710.8h0M336.6 683.7h0M328.6 683.5h0M396.6 655.5h0M327.4 680.2h0M337.4 737.5h0M308.9 681.7h0M456.2 687.3h0M315.6 672.3h0M431.3 699.5h0M342.6 725.6h0M433.8 701.6h0M344.9 706.5h0M457 682.3h0M379 682.9h0M329.3 687.5h0M425.4 688h0M375.9 692.3h0M315.5 691.5h0M345.6 722.4h0M341.7 715.4h0M314.9 690.7h0M313.9 679.6h0M438.2 687.3h0M343.5 730.3h0M430.1 697.7h0M345.1 716.9h0M448.5 687.3h0M444.1 691.7h0M423.4 684h0M346.9 714.1h0M443.1 704.2h0M372.1 691.5h0M288.2 697.6h0M313.2 690.5h0M451.5 683.1h0M445.7 703.8h0M324.3 693.3h0M345 711.6h0M441.7 698.4h0M442.3 695.5h0M321.9 679.3h0M341.1 713.5h0M445 690.2h0M387 681h0M438.7 709.3h0M339.2 746.7h0M352.9 711.7h0M393.5 711.4h0M397 678.7h0M436.1 687.3h0M446.9 696.1h0M442.9 710.2h0M444.6 698.5h0M449.8 703.6h0M322.9 685.9h0M377.1 683.7h0M456.3 688.3h0M406.5 672.3h0M433.6 703.6h0M453.4 687.7h0M434.8 701.2h0M325.5 691.5h0M288.9 698.4h0M398.5 687.7h0M337.9 731.3h0M440.3 708.6h0M414.2 669.3h0M326.3 691.8h0M345 721.1h0M368.2 691.5h0M364.9 700.2h0M384.3 709.1h0M355.8 717.8h0M392 730.3h0M389.7 679.4h0M338.9 738.3h0M390.5 730.3h0M448.8 706.6h0M378.6 685h0M311.4 684.9h0M321 676.5h0M444.6 700.9h0M452 688.8h0M377.1 703h0M452.5 716.7h0M337.4 717.4h0M324.3 680.2h0M458 711.2h0M374.8 678.4h0M322.3 677.8h0M324.3 691.8h0M447.1 720h0M395.1 720.6h0M386.9 665.3h0M396.1 681.8h0M353.7 717.6h0M450.3 687.5h0M386.1 674h0M382.7 667.9h0M459.3 685h0M387.8 663.7h0M394.2 681.6h0M317.1 683.6h0M453.7 688.7h0M421.2 691h0M442.6 698.3h0M390.8 675.2h0M312.5 679h0M326.4 693.9h0M391.4 678.2h0M316.8 674.8h0M334.7 683.2h0M338.6 744.4h0M320.1 688.8h0M338.2 682.3h0M393.6 672.6h0M326.3 696.8h0M342.6 705.7h0M448.7 698.6h0M337.1 735.6h0M442.4 687.9h0M398.8 670.8h0M339.6 736.8h0M399.7 687.2h0M441.9 697h0M380.6 672.1h0M447.9 712.1h0M465.7 726.5h0M330.2 681.4h0M333.2 714.6h0M320.1 680.5h0M339.2 734.9h0M457.5 721.6h0M338 685.8h0M439.1 710.9h0M319 690.6h0M326.8 688.3h0M393.5 729.8h0M316.9 680.5h0M352.3 716.2h0M445.5 688h0M390.4 683.9h0M355.2 718.5h0M387.8 686h0M375.3 679.7h0M388.9 659.2h0M294 660.8h0M447.6 683.6h0M419.7 707.4h0M444.9 721.1h0M368.2 701.8h0M451.8 664.7h0M447.2 696.9h0M327.7 695.6h0M380.8 674h0M312.1 680.2h0M325.4 677.6h0M416.3 690.1h0M350.5 718.1h0M405 677.9h0M338.8 712.1h0M327.2 696.4h0M426.4 687.3h0M399.4 691h0M399.5 685.3h0M438.8 690.1h0M382.3 667h0M342 717.3h0M393.8 680.6h0M343.3 702.5h0M340.4 736.3h0M328.8 688.5h0M323.9 697.7h0M338.9 746.3h0M346.4 715.7h0M448.5 694.4h0M405 679.3h0M349.5 719.8h0M338.6 709.7h0M352.6 714.5h0M332.1 696.1h0M371.4 689.4h0M392.3 666.6h0M396.6 707.3h0M465.2 728.5h0M439.7 690.6h0M329.4 692.1h0M461.3 715.6h0M409.6 712.5h0M447.8 693.3h0M442.7 690.1h0M441.7 688.9h0M436.3 697.4h0M328.7 681h0M380.4 675.7h0M292.5 665.4h0M408.1 695h0M345.3 725.6h0M337.5 739.5h0M310.2 679.5h0M344.8 723.7h0M334.8 687.4h0M442.6 691.3h0M428 653.9h0M409.6 721.7h0M440.5 686.3h0M348.5 725.1h0M401.4 675.9h0M337.5 684.5h0M399.4 686.3h0M426.3 701h0M451.7 664.7h0M329.7 683.1h0M448.8 701.4h0M388.6 674.2h0M326.1 692.9h0M401.7 681.9h0M341.5 734.1h0M442.5 685.3h0M449.7 705h0M384.2 688h0M459 686.2h0M418 685.3h0M394.7 688h0M391.1 681.9h0M454.2 723.8h0M319.1 681.5h0M439.4 686.1h0M422.3 685.3h0M441.5 686.2h0M433.6 704.6h0M380.5 703.7h0M429.2 689h0M315.7 674.4h0M382.4 681.6h0M378.3 680.3h0M447 682.4h0M397.9 691h0M403.5 691.2h0M397.6 672h0M331 697.4h0M330.5 694.3h0" stroke="#f3e3cd" stroke-width="1.6"/>
<path d="M450.8 686.8h0M317 692.7h0M339.9 684.6h0M318 695.2h0M449.2 693.8h0M366.7 703.7h0M388.5 683.5h0M345.3 704.3h0M341.7 724.1h0M448.7 715.6h0M313.3 685.3h0M437.3 691h0M420.6 689.1h0M415.7 658.5h0M348.1 678.8h0M356.5 717.2h0M330.9 690.3h0M385.5 668.2h0M332.1 712.6h0M449.1 685.6h0M322.6 694.7h0M336.8 701.3h0M338.2 701.9h0M448 698.5h0M446 692.9h0M444.5 709.2h0M385.3 672.8h0M473.3 721.1h0M337.5 734.2h0M422.9 689.7h0M313.7 673.2h0M342.3 705.3h0M455.5 682h0M399.7 712.5h0M387 685.4h0M443.9 708.7h0M311.2 681.2h0M324.2 696.3h0M440.3 705.7h0M377.7 676.8h0M344.8 718.3h0M413.4 676.9h0M437.2 674.6h0M313.7 687.9h0M322.9 699.2h0M321.9 688.4h0M323.5 677.5h0M333.1 713h0M335.8 737.1h0M324.4 678.1h0M331 688.7h0M318.9 676.1h0M326.6 710.2h0M455.3 686.2h0M314.7 671.1h0M442.7 700h0M421.1 659.3h0M343.9 703.5h0M463.5 723.2h0M334.8 698.3h0M446.4 689.7h0M353 720.3h0M384 673.2h0M312.7 688.5h0M387.8 673.9h0M440.6 687.2h0M381.7 669.7h0M365 661.9h0M324.3 688.8h0M373.9 683.4h0M338.4 733.7h0M430.8 695.6h0M430.3 670.8h0M468.4 674.2h0M338.8 737.2h0M317.9 678.6h0M419.3 683.5h0M446.4 677.7h0M340.2 701.6h0M438 685.7h0M388.9 730.3h0M374.4 681.7h0M341.2 718.4h0M453.2 691.1h0M425.5 692.9h0M392.8 724.4h0M439.7 696.4h0M418.8 665.4h0M353 718.8h0M365.2 661.6h0M429.7 693.1h0M472.2 722.7h0M314.5 674.5h0M335.8 735.1h0M313.1 681.1h0M478.8 720h0M390 667.1h0M336.8 743h0M385.9 712.5h0M334.2 681h0M353.5 716.7h0M441.2 687.9h0M444.4 706.4h0M420.9 686h0M315 682.9h0M315.9 677.9h0M441.4 687.2h0M328.7 682.5h0M381 685h0M448.4 704h0M338.9 736.4h0M327.6 678.7h0M385.9 678.3h0M381.8 686.1h0M449.5 683.3h0M445.3 698.4h0M337 733.2h0M397.2 682.3h0M425.3 689.1h0M336.1 708.1h0M331.2 694.7h0M399.3 679.1h0M426.3 671.2h0M328.6 699.3h0M422.5 691h0M324.6 684.9h0M442.4 692.4h0M421.5 701.2h0M389.6 677.5h0M427.9 654.3h0M336.9 738.9h0M435.2 692.9h0M381.8 687.5h0M460 683.5h0M398.9 680.6h0M319.2 689.5h0M396.6 700.7h0M338 699.3h0M436.9 695.8h0M464.6 730.4h0M317.2 673.5h0M417.8 691.8h0M449.7 700.8h0M448.6 697.5h0M384.4 681.2h0M446.3 684.7h0M337.1 679.7h0M420.1 682.9h0M400.9 675h0M394.5 683.1h0M447.6 728.2h0M379.7 706.4h0M442.3 684.2h0M388.7 676.9h0M398.4 675.2h0M323.4 693.7h0M452.8 689h0M394.3 719.1h0M339.7 733.6h0M329.4 694.6h0M334.2 697.6h0M393.1 656.8h0M453.3 685.7h0M441.4 705.5h0M348.4 724.2h0M431.8 696.2h0M413.3 687.3h0M315.6 690.2h0M445.5 697.6h0M311.2 676.9h0M440.8 697.7h0M338.1 743.6h0M301.2 668.8h0M338 738.9h0M335.7 716.8h0M323.5 690.4h0M456.9 730.9h0M436.7 693.4h0M344.7 715.5h0M386.4 663.5h0M400.1 705h0M320.4 687.5h0M325.2 687.8h0M312.6 689.3h0M417.8 690.4h0M379.3 687h0M398.9 671.6h0M452.8 683.1h0M443.2 690.8h0M445.1 685.5h0M328.6 696.5h0M371.8 674.6h0M437.3 697.1h0M323.4 698.6h0M332.4 679.6h0M334.3 700.3h0M388.2 689.1h0M373.6 702.7h0M381.7 663.9h0M448 706.9h0M381.2 674.7h0M452 690.9h0M444.5 692.6h0M321.1 680.8h0M344.7 730.2h0M321.1 691.3h0M444.2 702h0M395.8 710.6h0M422.9 702h0M336.5 733.6h0M383.1 687.3h0M337.7 739.3h0M439.8 687.1h0M313 687.1h0M338 741.3h0M332.4 710h0M446 723.2h0M398 681.2h0M441 678.5h0M431.5 693.2h0M351 716.4h0M447.5 705h0M338.7 715.6h0M323.4 676.6h0M313.1 676.3h0M445.1 689.4h0M311.5 679.5h0M447.7 684.9h0M426.2 684.1h0M325.6 694h0M460.7 720h0M462.1 721.6h0M434.7 697.7h0M312.6 685.2h0M324.6 698.3h0M411.1 721.4h0M449.9 701.9h0M403.8 677.3h0M449.1 681.3h0M436 703h0M440 685.4h0M421.3 685.4h0M314.7 670h0M379.3 674.6h0M330.2 697.9h0M402.9 675.5h0M402 670.8h0M448.7 711.3h0M341.7 703.5h0M444 711.4h0M423.3 682.7h0M427.1 686.8h0M448.2 692.6h0M322.5 691.7h0M381.1 676h0M349.9 724.4h0M421.8 686h0M375.9 706.8h0M393.9 670.5h0M347.8 716.6h0M325.5 685.3h0M436.3 690.5h0M440.2 702.2h0M430.6 671.2h0M339.8 735.6h0M338.2 734.7h0M400.1 701h0M385.9 694.2h0M437.2 701.3h0M335.7 702.2h0M407.5 678.7h0M326.1 679.5h0M392.4 682.7h0M350 720.6h0" stroke="#d9c9b1" stroke-width="2.1"/>
<path d="M450.8 686.8h0M317 692.7h0M339.9 684.6h0M318 695.2h0M449.2 693.8h0M366.7 703.7h0M388.5 683.5h0M345.3 704.3h0M341.7 724.1h0M448.7 715.6h0M313.3 685.3h0M437.3 691h0M420.6 689.1h0M415.7 658.5h0M348.1 678.8h0M356.5 717.2h0M330.9 690.3h0M385.5 668.2h0M332.1 712.6h0M449.1 685.6h0M322.6 694.7h0M336.8 701.3h0M338.2 701.9h0M448 698.5h0M446 692.9h0M444.5 709.2h0M385.3 672.8h0M473.3 721.1h0M337.5 734.2h0M422.9 689.7h0M313.7 673.2h0M342.3 705.3h0M455.5 682h0M399.7 712.5h0M387 685.4h0M443.9 708.7h0M311.2 681.2h0M324.2 696.3h0M440.3 705.7h0M377.7 676.8h0M344.8 718.3h0M413.4 676.9h0M437.2 674.6h0M313.7 687.9h0M322.9 699.2h0M321.9 688.4h0M323.5 677.5h0M333.1 713h0M335.8 737.1h0M324.4 678.1h0M331 688.7h0M318.9 676.1h0M326.6 710.2h0M455.3 686.2h0M314.7 671.1h0M442.7 700h0M421.1 659.3h0M343.9 703.5h0M463.5 723.2h0M334.8 698.3h0M446.4 689.7h0M353 720.3h0M384 673.2h0M312.7 688.5h0M387.8 673.9h0M440.6 687.2h0M381.7 669.7h0M365 661.9h0M324.3 688.8h0M373.9 683.4h0M338.4 733.7h0M430.8 695.6h0M430.3 670.8h0M468.4 674.2h0M338.8 737.2h0M317.9 678.6h0M419.3 683.5h0M446.4 677.7h0M340.2 701.6h0M438 685.7h0M388.9 730.3h0M374.4 681.7h0M341.2 718.4h0M453.2 691.1h0M425.5 692.9h0M392.8 724.4h0M439.7 696.4h0M418.8 665.4h0M353 718.8h0M365.2 661.6h0M429.7 693.1h0M472.2 722.7h0M314.5 674.5h0M335.8 735.1h0M313.1 681.1h0M478.8 720h0M390 667.1h0M336.8 743h0M385.9 712.5h0M334.2 681h0M353.5 716.7h0M441.2 687.9h0M444.4 706.4h0M420.9 686h0M315 682.9h0M315.9 677.9h0M441.4 687.2h0M328.7 682.5h0M381 685h0M448.4 704h0M338.9 736.4h0M327.6 678.7h0M385.9 678.3h0M381.8 686.1h0M449.5 683.3h0M445.3 698.4h0M337 733.2h0M397.2 682.3h0M425.3 689.1h0M336.1 708.1h0M331.2 694.7h0M399.3 679.1h0M426.3 671.2h0M328.6 699.3h0M422.5 691h0M324.6 684.9h0M442.4 692.4h0M421.5 701.2h0M389.6 677.5h0M427.9 654.3h0M336.9 738.9h0M435.2 692.9h0M381.8 687.5h0M460 683.5h0M398.9 680.6h0M319.2 689.5h0M396.6 700.7h0M338 699.3h0M436.9 695.8h0M464.6 730.4h0M317.2 673.5h0M417.8 691.8h0M449.7 700.8h0M448.6 697.5h0M384.4 681.2h0M446.3 684.7h0M337.1 679.7h0M420.1 682.9h0M400.9 675h0M394.5 683.1h0M447.6 728.2h0M379.7 706.4h0M442.3 684.2h0M388.7 676.9h0M398.4 675.2h0M323.4 693.7h0M452.8 689h0M394.3 719.1h0M339.7 733.6h0M329.4 694.6h0M334.2 697.6h0M393.1 656.8h0M453.3 685.7h0M441.4 705.5h0M348.4 724.2h0M431.8 696.2h0M413.3 687.3h0M315.6 690.2h0M445.5 697.6h0M311.2 676.9h0M440.8 697.7h0M338.1 743.6h0M301.2 668.8h0M338 738.9h0M335.7 716.8h0M323.5 690.4h0M456.9 730.9h0M436.7 693.4h0M344.7 715.5h0M386.4 663.5h0M400.1 705h0M320.4 687.5h0M325.2 687.8h0M312.6 689.3h0M417.8 690.4h0M379.3 687h0M398.9 671.6h0M452.8 683.1h0M443.2 690.8h0M445.1 685.5h0M328.6 696.5h0M371.8 674.6h0M437.3 697.1h0M323.4 698.6h0M332.4 679.6h0M334.3 700.3h0M388.2 689.1h0M373.6 702.7h0M381.7 663.9h0M448 706.9h0M381.2 674.7h0M452 690.9h0M444.5 692.6h0M321.1 680.8h0M344.7 730.2h0M321.1 691.3h0M444.2 702h0M395.8 710.6h0M422.9 702h0M336.5 733.6h0M383.1 687.3h0M337.7 739.3h0M439.8 687.1h0M313 687.1h0M338 741.3h0M332.4 710h0M446 723.2h0M398 681.2h0M441 678.5h0M431.5 693.2h0M351 716.4h0M447.5 705h0M338.7 715.6h0M323.4 676.6h0M313.1 676.3h0M445.1 689.4h0M311.5 679.5h0M447.7 684.9h0M426.2 684.1h0M325.6 694h0M460.7 720h0M462.1 721.6h0M434.7 697.7h0M312.6 685.2h0M324.6 698.3h0M411.1 721.4h0M449.9 701.9h0M403.8 677.3h0M449.1 681.3h0M436 703h0M440 685.4h0M421.3 685.4h0M314.7 670h0M379.3 674.6h0M330.2 697.9h0M402.9 675.5h0M402 670.8h0M448.7 711.3h0M341.7 703.5h0M444 711.4h0M423.3 682.7h0M427.1 686.8h0M448.2 692.6h0M322.5 691.7h0M381.1 676h0M349.9 724.4h0M421.8 686h0M375.9 706.8h0M393.9 670.5h0M347.8 716.6h0M325.5 685.3h0M436.3 690.5h0M440.2 702.2h0M430.6 671.2h0M339.8 735.6h0M338.2 734.7h0M400.1 701h0M385.9 694.2h0M437.2 701.3h0M335.7 702.2h0M407.5 678.7h0M326.1 679.5h0M392.4 682.7h0M350 720.6h0" stroke="#f3e3cd" stroke-width="1.6"/>
<path d="M326.8 690.4h0M391.7 658.1h0M348.4 715.1h0M325.4 679.1h0M418 676.2h0M321.8 699.3h0M343.5 717.1h0M442.9 686.4h0M387.2 667.5h0M329.5 686.7h0M409.6 674.6h0M420.2 685.5h0M331.9 700h0M374.8 674.8h0M335.3 718.9h0M311.9 685.5h0M394.8 669.7h0M442.1 714.1h0M335.6 684.8h0M395.3 680.2h0M423.4 691.9h0M334.6 699.4h0M319.2 674.6h0M385.6 714.9h0M453.6 690.3h0M324.6 679.1h0M443.8 729.3h0M349.2 714.1h0M388.1 675.4h0M324.7 694.3h0M443.7 699.6h0M340.8 734.1h0M307.1 679.5h0M445.2 702.6h0M338.2 739.9h0M333.7 701.2h0M464 666.9h0M327.6 694.8h0M316.8 685.9h0M340.2 680.7h0M385.6 670.6h0M363 686.1h0M424 688.7h0M340.2 721h0M385.9 660.4h0M454.4 684.3h0M389.8 683h0M448.8 702.7h0M337.2 737.2h0M387.2 676.7h0M399.7 680.4h0M442.7 709.4h0M385.7 677h0M454.8 678.5h0M449.4 708.1h0M338.8 732.2h0M449.1 686.6h0M330.7 692.7h0M335.5 712.7h0M388.7 661.5h0M323.3 695.1h0M391.3 684.5h0M375.9 675.4h0M443.5 709.8h0M323.4 700.2h0M477.9 734.4h0M391.9 689.3h0M328.8 693.9h0M318.8 686.7h0M339.1 734.2h0M337 697.6h0M433.3 698.2h0M313.6 689.5h0M376.7 679.7h0M338.3 684.8h0M477.2 733.1h0M446.2 698.6h0M443.7 689.8h0M436.3 699.6h0M434 693.1h0M476.1 736.4h0M441.2 696.9h0M404.4 691.7h0M330.2 698.7h0M322.4 681.4h0M381.6 679.4h0M403.6 680.1h0M387.1 668.6h0M400 681.1h0M444.3 707.6h0M340.2 683.5h0M419.7 672.3h0M435.5 696.6h0M400.4 692.5h0M427.8 690.6h0M391.8 683.2h0M395.8 725.2h0M341 712h0M424.9 672.3h0M433.1 696.2h0M427.9 691.9h0M393.1 688.8h0M398.9 694.5h0M446.1 694.3h0M325.2 682.2h0M381.4 664.6h0M341.6 709.1h0M391 688.3h0M331.4 683.7h0M446.8 684.2h0M314 681.4h0M397.6 676.1h0M433 693.5h0M330.1 690.8h0M310.3 684.8h0M324.7 681.7h0M313.9 691.7h0M421.5 694.9h0M389.8 657.5h0M389.8 686.5h0M337.8 742.7h0M357.3 716.6h0M337.2 683.2h0M376.8 676.4h0M401 690.3h0M344.8 702.6h0M380.7 688.4h0M445.4 706.8h0M388.2 692.3h0M338.2 736.6h0M311.3 676.1h0M345.8 717.7h0M447.1 689.4h0M309.6 680.6h0M317.5 677.8h0M442.7 703.3h0M325.3 696.1h0M377.5 679h0M432.3 703.8h0M394.3 727.5h0M338.5 720.8h0M309.6 684h0M447 694.2h0M420.1 686.9h0M325.8 688.9h0M342.8 714.3h0M400.2 686.2h0M399 682.1h0M311 682.7h0M303.2 671.9h0M433.4 694.1h0M405 720.6h0M351.9 720h0M323.2 679h0M324.8 692.7h0M335.9 681.2h0M441 703.4h0M388.7 656.4h0M338.2 741.2h0M443.1 692.3h0M337.8 698.4h0M351.3 722.9h0M437.2 674.8h0M441.6 706.4h0M462.4 732h0M309.4 673h0M325.2 690.5h0M445.2 708.7h0M315.7 686h0M428.5 692.9h0M391.8 686.1h0M394.7 686.2h0M353.6 718.4h0M383.5 679.7h0M344.7 729h0M423.5 698.5h0M446.2 677.8h0M437.6 695.1h0M400.4 713.7h0M292.9 719.8h0M323 692.5h0M342.2 734.4h0M352.5 719.4h0M355.7 716.1h0M438.9 678.9h0M320.7 684.8h0M427.9 687.3h0M399.3 688.3h0M306.4 677.8h0M425.3 694.6h0M410.4 670h0M332.3 698.9h0M436.5 696.6h0M418.3 684.2h0M403.1 673.5h0M309.1 678.8h0M322.5 679.8h0M381.6 666.7h0M447 685.4h0M346.6 728.8h0M351.6 718.2h0M446 709.5h0M445.6 700.6h0M387.4 657h0M447.1 712.4h0M427.6 689h0M464.8 724.9h0M307.1 681.6h0M448.5 682.4h0M339.6 681.2h0M375.9 671.7h0M348.1 719.8h0M326.2 695.5h0M344 705.2h0M342.8 731.4h0M390.1 662.7h0M372.3 685.3h0M447.3 699h0M438.5 704.9h0M307.5 680.6h0M401.2 660.8h0M318.4 677.9h0M401.1 678.7h0M327 692.9h0M353.7 712h0M377.8 674.3h0M382 691.5h0M329.4 697.5h0M390.1 658.9h0M340.7 690h0M318.2 688.7h0M390.5 652.9h0M402.2 674.7h0M448 700.6h0M386.9 681.7h0M355.7 714.3h0M372.1 706h0M420.2 665.8h0M430.3 691.4h0M448.8 696.2h0M439.7 705.2h0M461.8 736.4h0M333.2 681.7h0M376.4 687.3h0M382.8 710.6h0M444.4 697.2h0M444.3 695.4h0M419.4 685.5h0M399.7 683.8h0M341.6 730.3h0M448.2 699.2h0M320.1 695.5h0M395.1 693h0M474.4 738.6h0M383.9 686.5h0M308.7 685h0M388.2 722.9h0M346.8 726.4h0M384.1 664.1h0M444.7 688h0M318.4 682h0M388.3 688.4h0M396.8 688.1h0M383.6 707.6h0M328.3 698.5h0M449.6 692.4h0M421.3 659.2h0M447.6 686.4h0M332.6 694.4h0M309.1 685.7h0M448.3 685.4h0M388.9 678.5h0M386.2 665.1h0" stroke="#d9c9b1" stroke-width="2.1"/>
<path d="M326.8 690.4h0M391.7 658.1h0M348.4 715.1h0M325.4 679.1h0M418 676.2h0M321.8 699.3h0M343.5 717.1h0M442.9 686.4h0M387.2 667.5h0M329.5 686.7h0M409.6 674.6h0M420.2 685.5h0M331.9 700h0M374.8 674.8h0M335.3 718.9h0M311.9 685.5h0M394.8 669.7h0M442.1 714.1h0M335.6 684.8h0M395.3 680.2h0M423.4 691.9h0M334.6 699.4h0M319.2 674.6h0M385.6 714.9h0M453.6 690.3h0M324.6 679.1h0M443.8 729.3h0M349.2 714.1h0M388.1 675.4h0M324.7 694.3h0M443.7 699.6h0M340.8 734.1h0M307.1 679.5h0M445.2 702.6h0M338.2 739.9h0M333.7 701.2h0M464 666.9h0M327.6 694.8h0M316.8 685.9h0M340.2 680.7h0M385.6 670.6h0M363 686.1h0M424 688.7h0M340.2 721h0M385.9 660.4h0M454.4 684.3h0M389.8 683h0M448.8 702.7h0M337.2 737.2h0M387.2 676.7h0M399.7 680.4h0M442.7 709.4h0M385.7 677h0M454.8 678.5h0M449.4 708.1h0M338.8 732.2h0M449.1 686.6h0M330.7 692.7h0M335.5 712.7h0M388.7 661.5h0M323.3 695.1h0M391.3 684.5h0M375.9 675.4h0M443.5 709.8h0M323.4 700.2h0M477.9 734.4h0M391.9 689.3h0M328.8 693.9h0M318.8 686.7h0M339.1 734.2h0M337 697.6h0M433.3 698.2h0M313.6 689.5h0M376.7 679.7h0M338.3 684.8h0M477.2 733.1h0M446.2 698.6h0M443.7 689.8h0M436.3 699.6h0M434 693.1h0M476.1 736.4h0M441.2 696.9h0M404.4 691.7h0M330.2 698.7h0M322.4 681.4h0M381.6 679.4h0M403.6 680.1h0M387.1 668.6h0M400 681.1h0M444.3 707.6h0M340.2 683.5h0M419.7 672.3h0M435.5 696.6h0M400.4 692.5h0M427.8 690.6h0M391.8 683.2h0M395.8 725.2h0M341 712h0M424.9 672.3h0M433.1 696.2h0M427.9 691.9h0M393.1 688.8h0M398.9 694.5h0M446.1 694.3h0M325.2 682.2h0M381.4 664.6h0M341.6 709.1h0M391 688.3h0M331.4 683.7h0M446.8 684.2h0M314 681.4h0M397.6 676.1h0M433 693.5h0M330.1 690.8h0M310.3 684.8h0M324.7 681.7h0M313.9 691.7h0M421.5 694.9h0M389.8 657.5h0M389.8 686.5h0M337.8 742.7h0M357.3 716.6h0M337.2 683.2h0M376.8 676.4h0M401 690.3h0M344.8 702.6h0M380.7 688.4h0M445.4 706.8h0M388.2 692.3h0M338.2 736.6h0M311.3 676.1h0M345.8 717.7h0M447.1 689.4h0M309.6 680.6h0M317.5 677.8h0M442.7 703.3h0M325.3 696.1h0M377.5 679h0M432.3 703.8h0M394.3 727.5h0M338.5 720.8h0M309.6 684h0M447 694.2h0M420.1 686.9h0M325.8 688.9h0M342.8 714.3h0M400.2 686.2h0M399 682.1h0M311 682.7h0M303.2 671.9h0M433.4 694.1h0M405 720.6h0M351.9 720h0M323.2 679h0M324.8 692.7h0M335.9 681.2h0M441 703.4h0M388.7 656.4h0M338.2 741.2h0M443.1 692.3h0M337.8 698.4h0M351.3 722.9h0M437.2 674.8h0M441.6 706.4h0M462.4 732h0M309.4 673h0M325.2 690.5h0M445.2 708.7h0M315.7 686h0M428.5 692.9h0M391.8 686.1h0M394.7 686.2h0M353.6 718.4h0M383.5 679.7h0M344.7 729h0M423.5 698.5h0M446.2 677.8h0M437.6 695.1h0M400.4 713.7h0M292.9 719.8h0M323 692.5h0M342.2 734.4h0M352.5 719.4h0M355.7 716.1h0M438.9 678.9h0M320.7 684.8h0M427.9 687.3h0M399.3 688.3h0M306.4 677.8h0M425.3 694.6h0M410.4 670h0M332.3 698.9h0M436.5 696.6h0M418.3 684.2h0M403.1 673.5h0M309.1 678.8h0M322.5 679.8h0M381.6 666.7h0M447 685.4h0M346.6 728.8h0M351.6 718.2h0M446 709.5h0M445.6 700.6h0M387.4 657h0M447.1 712.4h0M427.6 689h0M464.8 724.9h0M307.1 681.6h0M448.5 682.4h0M339.6 681.2h0M375.9 671.7h0M348.1 719.8h0M326.2 695.5h0M344 705.2h0M342.8 731.4h0M390.1 662.7h0M372.3 685.3h0M447.3 699h0M438.5 704.9h0M307.5 680.6h0M401.2 660.8h0M318.4 677.9h0M401.1 678.7h0M327 692.9h0M353.7 712h0M377.8 674.3h0M382 691.5h0M329.4 697.5h0M390.1 658.9h0M340.7 690h0M318.2 688.7h0M390.5 652.9h0M402.2 674.7h0M448 700.6h0M386.9 681.7h0M355.7 714.3h0M372.1 706h0M420.2 665.8h0M430.3 691.4h0M448.8 696.2h0M439.7 705.2h0M461.8 736.4h0M333.2 681.7h0M376.4 687.3h0M382.8 710.6h0M444.4 697.2h0M444.3 695.4h0M419.4 685.5h0M399.7 683.8h0M341.6 730.3h0M448.2 699.2h0M320.1 695.5h0M395.1 693h0M474.4 738.6h0M383.9 686.5h0M308.7 685h0M388.2 722.9h0M346.8 726.4h0M384.1 664.1h0M444.7 688h0M318.4 682h0M388.3 688.4h0M396.8 688.1h0M383.6 707.6h0M328.3 698.5h0M449.6 692.4h0M421.3 659.2h0M447.6 686.4h0M332.6 694.4h0M309.1 685.7h0M448.3 685.4h0M388.9 678.5h0M386.2 665.1h0" stroke="#f3e3cd" stroke-width="1.6"/>
<path d="M393.9 666.3h0M428.7 690.1h0M398.4 679.7h0M435.7 698.8h0M432.5 696.8h0M451.2 686.1h0M421.8 684.6h0M393.1 683.5h0M382.7 665.5h0M378.9 688.6h0M391.3 686.7h0M374.3 688.8h0M376.7 674.5h0M380.9 685.8h0M424.6 692.2h0M426.8 698.3h0M451.6 689.3h0M400 690.4h0M394.8 684.6h0M394.2 673h0M379.2 676.4h0M446.8 706.2h0M406.9 675.3h0M376.3 678.5h0M424.5 687.6h0M391.4 670.2h0M425.9 688.6h0M421.8 698.6h0M390.5 678.9h0M380.2 687h0M432.9 692.3h0M393.8 678.7h0M422.4 682.9h0M423.7 682.1h0M444.5 704.2h0M420.3 683.8h0M401.5 684.2h0M392 674.1h0M373.2 676.3h0M387.8 685.1h0M371.9 677.6h0M379.3 677.3h0M439.3 683.5h0M444.2 686.4h0M402.3 682.7h0M373.3 675h0M375.4 673.8h0M436.5 692.2h0M389.6 665.1h0M397.2 686.8h0M389.9 675.3h0M400.5 676.4h0M393.9 679.6h0M383.3 680.7h0M399.7 682.5h0M387.6 670.4h0M429.8 694.1h0M397.7 680.4h0M394.8 689.6h0M362.9 686.1h0M380.8 665.6h0M421 688.3h0M379.9 688.4h0M383.2 664.5h0M389.9 681.2h0M377.3 675.2h0M401.9 678.7h0M389.4 654.6h0M375 689.7h0M401 683h0M385.5 669.1h0M397.4 685.6h0M416.4 686.2h0M372.3 690h0M389.5 663.9h0M392 655.1h0M417.6 687.5h0M397.5 690.1h0M383.3 673.4h0M426.6 693.2h0M395.2 671.2h0M383.5 666.1h0M387.9 684.1h0M399.5 673.2h0M384.8 675h0M400.7 687.7h0M423.8 689.8h0M392.7 684.4h0M435.8 695h0M388.5 660.4h0M385.9 688.9h0M390.2 654.8h0M385.5 665.4h0M384.5 676.2h0M416.5 687.5h0M384.6 666.2h0M402.4 681.4h0M396.4 684.8h0M446.7 697.7h0M441 707.6h0M405.2 691.4h0M433.4 691.3h0M441.5 700.7h0M391.8 665.9h0M446.2 688.4h0M382.7 688h0M382.3 684.1h0M389.9 687.5h0M377.5 682.2h0M378.8 670.7h0M400.8 681.2h0M377.1 683h0M426.6 690.1h0M427.8 685.6h0M417.9 692.5h0M396.8 671.9h0M374.7 671.9h0M379 668.5h0M443.7 703.5h0M444.1 697.9h0M423.5 686.5h0M392.2 672.9h0M432.7 695h0M376.2 681.4h0M388.8 686.8h0M377.4 677.9h0M391.1 680.5h0M379.3 672.7h0M381 670.4h0" stroke="#f6c8a6" stroke-width="2.2"/>
<path d="M456.2 687.3C419.1 716.3 350.5 715 313.3 685.3M455.7 691.3C419.3 717.6 363.9 710.5 327.6 694.8M455.7 691.3C423.2 707.2 377.5 736.4 344.9 706.5M455.3 686.2C398.9 707.8 365.1 725.3 308.7 685M452.9 692.4C420.2 714.9 357.4 717.4 324.6 684.9M456.2 687.3C410.3 706.5 376.4 720.2 330.5 694.3M456.3 691.8C403 720.2 372.5 721.5 319.2 689.5" stroke="#25628f" stroke-width="0.5" stroke-opacity="0.8"/>
<path d="M456 691.6Q456.8 691.2 457.7 690.1M455 690.1Q454.3 691.2 453.5 692.2M455.5 691Q455.8 689.3 456 688M454.2 690.7Q454 691.2 453.8 692.2M455.4 690.1Q455.1 689.1 454.9 687.1M454.3 691Q452.9 692.4 451.6 693.7M455 691.1Q455.2 690.2 455.5 688.8M455 691.4Q453.8 692 452.6 691.9M455.7 691.1Q457.4 691.7 459.1 691.6M455.9 690Q455.2 689.3 454.6 689M454.8 690.4Q452.2 689.8 449.7 689.5M454.7 691.5Q455.9 690.8 457.2 689.5M455 689.6Q454.5 688.5 454 687.1M455 689.5Q453 689.5 451 688.7M454.2 690.3Q455.5 689.2 456.9 689M453.9 691.6Q456.3 692.1 458.6 691.5M427.9 702Q428.1 700.9 428.3 700.5M426.6 703.4Q428.4 702.8 430.2 702.4M427.6 703.1Q426.8 703.2 425.9 704.2M428 702.6Q427.7 703 427.4 703.8M426 703.1Q425 703.3 423.9 704.2M427.4 702.3Q425.6 702.2 423.8 703.2M426.7 703.4Q425.5 703.5 424.4 702.9M427 701.2Q428.4 699.9 429.8 699.6M426.9 702.4Q425.9 703.4 424.8 703.7M427.5 701.8Q428.1 701.3 428.6 700.4M428 702.7Q427.9 703.6 427.7 704.3M426.7 701.8Q427.2 702.8 427.7 703.7M399.5 690.4Q398.7 689.7 397.9 689.6M399.6 690.6Q397.9 690.2 396.3 690.7M399.7 689.5Q401.1 689.9 402.6 690.3M399.8 689.4Q400.3 689.8 400.8 690.7M398.9 689.9Q397.6 689.9 396.4 690.8M399.3 690.9Q398.9 690.2 398.5 689.4M330.7 687.4Q329 687.7 327.3 688M331.6 686Q329.1 686.7 326.5 686.8M332 687.7Q332.7 688.5 333.5 689.3M332.3 685.9Q333 686.8 333.6 688.6M331.5 685.5Q329.7 685.1 327.8 685M331.4 685.7Q331.1 685 330.8 684.4M332.6 685.7Q334.7 685.8 336.9 687.3M330.7 686.8Q331.2 687.6 331.8 689M440.4 697.7Q440.6 698.3 440.7 698.8M438.8 698.4Q439.1 697.7 439.5 697.2M438.5 699.5Q437.9 698.8 437.3 698.3M439.3 697.7Q438.5 698.9 437.6 699.9M439.5 699.6Q441.3 698.6 443.1 698.1M438.5 698.6Q437.8 697.1 437.1 696.4M439.5 699.6Q438.3 698.9 437.2 698.1M440.6 698.4Q440 698.8 439.5 699.4" stroke="#2c6c9c" stroke-width="0.6" stroke-opacity="0.8"/>
</g>
<g id="map_b" fill="none">
<path d="M383.6 109.2Q429.5 88.5 475.5 97.7M384 110.6Q431 120.5 478.1 115.8M382.9 111.4Q431.1 90.3 479.2 93.1M376.2 125.7Q423.4 121.3 470.7 110.5M396.1 127.6Q438.8 103.3 481.5 85.4M372.2 102.7Q440.3 90.5 508.3 101.1M394.6 127.6Q435 106.1 475.5 97.7M390.7 123.8Q452.8 124.5 514.9 125.3M403.7 132.2Q428.9 90.8 454 81.2M398.8 129Q452 115 505.2 94.8M398.5 132.9Q445.7 124.8 493 101.4M373 116.5Q432.3 91.3 491.7 101.5M369.3 98.1Q437.6 115.3 506 120.7M377.6 124.2Q445.6 131.7 513.7 125.8M412.8 137Q441.5 111.1 470.3 101.6M380.8 127.2Q433 118.7 485.1 94.6M412.8 137Q450.6 117.5 488.4 115.9M387 125.1Q440.5 93.4 494 94M390.7 104.7Q451 82.4 511.4 101.8M393.3 111.7Q448.2 95.1 503 116.7M401.6 127.2Q439.8 121.7 478.1 115.8M374.1 116.1Q427.7 109.1 481.2 119.3M390.5 128.7Q444.7 122 498.9 117.7M410.6 113.9Q448.8 105.9 487 86.6M413.1 140.8Q433.5 95.3 454 81.2M392.4 135.6Q435.4 105.3 478.4 100.6M379.1 105.3Q437 80.8 494.8 99.7M389.2 108.1Q440.2 112.4 491.1 104.7M412.8 117Q448 98.8 483.2 110.1M382.1 106.3Q433.5 88.7 485 92.4M389.8 117.2Q429 107.1 468.1 110.9M381.1 98.8Q431.3 90.6 481.5 85.4M394.7 131.3Q444.6 100.6 494.5 113.1M391.9 128.1Q436.3 124.4 480.7 120.3M376.2 125.7Q423.6 115 471.1 119.3M412 115.1Q451.8 114.5 491.5 118.1M374.7 119Q434.6 69.4 494.4 76M400.1 113Q453.2 97.7 506.2 116.3M376.3 110.5Q428.9 94 481.5 85.4M380.6 109.1Q440.9 93.8 501.1 111M412.4 135.6Q449.9 123.5 487.3 109.9M411.2 134.4Q445.2 111.1 479.2 93.1M393.8 129.1Q436.1 105.4 478.4 100.6M396.3 132.7Q455.4 112.5 514.5 105.3M392.4 135.6Q435.5 124.8 478.5 118.8M368.7 106.6Q433.7 91.7 498.6 113M399.7 130Q446.1 118.8 492.5 106.8M412.8 137Q444.1 103.3 475.5 97.7M376.1 107.9Q421.2 113.5 466.3 103M421.7 143.2Q454.4 123.9 487.1 111M400.1 113Q442 94.2 483.9 101.1M393.6 104.9Q442.6 106.9 491.6 110.2M394.7 107.7Q433.1 112.2 471.5 108M393.6 107.1Q442.4 89.6 491.1 86.3M383.6 109.2Q443.5 96.8 503.5 109.1M374.2 122.2Q440.4 134.9 506.6 112.2M376.3 110.5Q428.5 75.9 480.8 86.9M397.9 135.8Q452.3 114.2 506.6 109.1M393.6 107.1Q447.7 94.8 501.8 72.1M418.4 143.2Q451.5 121.2 484.6 97.8M400.1 113Q447.5 110.2 494.8 99.7M392.4 135.6Q449.2 96 506 107M399.7 126.3Q438.8 110.5 477.8 99.5M395.1 129.1Q451.8 125.3 508.5 112.8M394.6 127.6Q431.4 109.1 468.3 98.1M413.1 140.8Q449 106.9 485 91M393.8 129.1Q433.3 101.9 472.7 111.7M393.4 132.3Q450.9 129.3 508.3 101.1M400.9 134.9Q434.5 113.1 468.1 110.9M391.8 132.6Q450.6 119.3 509.5 111.3M391.3 134.6Q441.7 87.5 492.1 71.1M395.8 120.7Q437.4 116.6 479 88.8M366.4 109.4Q435.6 110 504.7 119.9M389.3 130.1Q448.9 120 508.5 123.7M382.3 131Q442.8 132.1 503.3 102.6M395.8 120.7Q442.1 101 488.4 117.3M368.7 106.6Q434.8 107.5 500.9 108.1M374.1 116.1Q426.1 94.4 478.1 115.8M390.7 104.7Q434.5 104.2 478.2 102.5M383.6 109.2Q428 114.6 472.4 101.3M401.3 129.7Q425.9 116.5 450.5 117.5M413.1 140.8Q446.6 107.1 480.1 89.2M374.2 122.2Q440.6 131.5 507 123.8M381 113.7Q440.1 90.1 499.1 93.1M374 106.9Q419.5 94.1 464.9 116.3M409.1 115.5Q442.3 111.1 475.4 110M390.6 135.9Q446.9 107.6 503.2 123.4M407 109.9Q439.9 113.3 472.7 111.7M407.9 135.5Q440.6 125.6 473.2 100M365.8 110.8Q437.1 122.4 508.5 123.7M402.1 121.4Q454.5 136.1 507 123.8M400.8 110.4Q448.1 89.3 495.3 88.6M388.1 137Q430.7 101.3 473.2 100M382.1 106.3Q426.3 96 470.4 96.2M380.6 109.1Q425.5 92.6 470.4 96.2M372.5 107.7Q422 103.7 471.6 100.2M393.6 104.9Q444.1 95.5 494.6 87.5M376.3 110.5Q444 120 511.6 98.9M395 125.9Q449.8 121.1 504.7 119.9M382.1 106.3Q435 84.1 487.8 74.4M375.9 98.4Q440.9 97.8 506 124.8M394.7 107.7Q436.9 91.4 479.1 107.5M391.3 134.6Q439.3 107.5 487.3 116.4M395.8 123.8Q423.1 115.6 450.5 117.5M386.5 115.6Q428.4 108.6 470.3 101.6M410.6 113.9Q457.3 117.8 504 110.2M404.5 129.7Q429.3 110.6 454 81.2M401.3 129.7Q446.9 76.8 492.5 68.3M375 124Q440.6 90.3 506.2 116.3M383 105.3Q427.4 83.6 471.8 103.2M404.2 107.9Q448 89.9 491.9 82.8M372.2 115.7Q421.9 97.5 471.5 108M397.1 131.6Q445.5 102.5 494 94M374.2 122.2Q439.7 93.5 505.2 94.8M372.5 121.3Q437.8 89.3 503 116.7M393.7 116.3Q439.8 92.8 486 86.4M387 125.1Q437.2 83.9 487.3 91.6M400.1 113Q444.2 103.6 488.4 115.9M395 125.9Q453.6 98.1 512.3 125.1M389 110.5Q428.5 120.6 467.9 121.5M405.4 110.9Q452.2 114.2 498.9 117.7M368.8 116.9Q437.9 102.7 507 123.8M370.7 115.5Q431 97.5 491.3 107.6M407.6 137.1Q443.1 91.4 478.7 85.6M413.1 111.9Q458.8 89.6 504.6 101.3M377.8 112.7Q426.3 107.6 474.8 94.7M378.8 100.2Q435.2 101.3 491.5 118.1M390.6 138.3Q438.2 118.7 485.9 99.5M423.1 141.8Q457 119.4 490.9 70.9M409.3 141.3Q446.1 137.2 482.9 120.3M400.9 136.1Q441.2 115.6 481.5 85.4M381.1 98.8Q433 80.4 485 91M398.4 113.6Q452.5 109.1 506.5 114.1M366.4 109.4Q429.8 97.4 493.2 120.8M392.5 129.5Q445.1 117.7 497.6 109.3M380.6 109.1Q428.7 117.2 476.8 118.7M388.3 120.8Q447.3 133.5 506.2 116.3M393.8 125.4Q443.5 127.2 493.2 120.8M391.9 128.1Q429.6 124.5 467.2 113.5M392.5 111Q449.6 91.2 506.6 119.1M374.2 122.2Q441.4 86.5 508.6 106.5M404.5 129.7Q437.6 109.4 470.7 110.5M391.8 132.6Q449.4 115 507 110M390.6 135.9Q452.6 104.7 514.6 107.4M407.1 138.5Q437.8 111.6 468.6 96.5M397.9 135.8Q445.5 108.2 493 101.4M381.1 98.8Q444.8 109.8 508.5 123.7M398.4 137Q445 133 491.7 119.6M385.5 131.3Q425.2 114.3 464.9 116.3M393.8 129.1Q449.2 97.6 504.6 101.3M394.2 121.6Q447.6 107.9 500.9 108.1M393.8 125.4Q435.8 107.4 477.8 87.1M407.1 138.5Q450.8 108.6 494.5 117.4M398.8 129Q436.9 113.3 475 112.7M375.9 98.4Q431.1 91.5 486.3 84M399.6 119.5Q426.8 101.9 454 81.2M390.4 130.7Q447.2 125.4 504 110.2M372.2 115.7Q431.1 112.3 489.9 103.8M368.5 111Q431.5 130.8 494.5 117.4M382.9 111.4Q443.8 116.3 504.6 101.3M390.6 103.4Q441.4 70.5 492.1 71.1M381.5 105.1Q442.1 94 502.7 111.9M416 113.7Q454.2 101.1 492.4 114.2M396.9 106.4Q441.3 104 485.6 105.9M398.6 112.2Q442.9 98.8 487.1 111M402 134.2Q450.5 114.9 498.9 117.7M399.6 119.5Q443.4 117.1 487.3 91.6M381.1 98.8Q433 71.8 485 92.4M374.7 119Q438.7 115.7 502.7 111.9M392 105.7Q434.9 107.4 477.8 99.5M389 110.5Q448.4 118.1 507.8 103.1M389 110.5Q441.8 126.4 494.6 122.3M382.9 111.4Q444.8 97 506.6 112.2M375.9 120.1Q436.7 109 497.6 109.3M391.9 125.8Q435.6 120.9 479.4 117.4M385.5 109.2Q445.8 86.7 506.1 117.7M393.8 125.4Q422.1 119.6 450.5 117.5M407.9 119.4Q442.7 97.7 477.5 96.7M374.2 122.2Q432.9 92.7 491.7 101.5M382.9 111.4Q429.2 107.9 475.5 104.5M407 109.9Q441.3 92.4 475.6 100.4M396.3 125.3Q456.9 112.2 517.4 101.5M401.6 127.2Q449.9 97.6 498.2 98.1M394.7 131.3Q437 94.4 479.2 93.1M369.6 109.4Q437.4 81 505.2 94.8M407.9 119.4Q446.4 99.6 485 91M383.6 118.3Q433.3 124.5 482.9 120.3M387 109.6Q432.1 107 477.2 102.1M378.5 125.4Q435.2 89.1 491.8 89.4M420.8 141.7Q446.3 118.7 471.8 103.2M392.6 127.2Q430.3 120.4 467.9 121.5M365.8 107.6Q422.4 88.4 479.1 107.5M383.6 109.2Q428.2 92.8 472.7 111.7M392.5 111Q434.1 91.3 475.6 100.4M384.1 100.4Q447.2 80.7 510.3 100.6M399.6 119.5Q453.1 113.3 506.7 103.9M409.3 141.3Q449.2 133.7 489.1 120.9M373 116.5Q432 115.8 491 84.6M389 110.5Q432.3 101.4 475.5 118.8M377.4 95.2Q438.6 111.6 499.8 108.7M392.4 107Q450.4 103.2 508.3 101.1M392 105.7Q428.1 114.6 464.3 104.9M392.5 111Q449.3 130.2 506 124.8M400.8 110.4Q427.3 88.7 453.7 81.6M380.6 100.7Q443.6 97.5 506.6 109.1M412.8 137Q456.8 116.4 500.9 108.1M400.1 113Q446.9 94.9 493.7 118.3M394.7 107.7Q451.6 107.2 508.5 112.8M375 124Q432.4 101.1 489.8 73.5M406.9 134.5Q439.8 112.3 472.7 111.7M375 124Q432.1 106.8 489.1 120.9M419.2 145.9Q449.7 109.6 480.1 89.2M382.7 121.4Q429.1 96.7 475.4 110M385.5 109.2Q446.1 120.1 506.7 103.9M394.2 121.6Q448.5 95.4 502.7 111.9M374.3 121Q441.9 106.3 509.5 111.3M392.4 135.6Q442 135.8 491.7 119.6M392.4 115.7Q436.8 120 481.2 119.3M374.9 110.1Q439.4 84.6 504 110.2M369.6 109.4Q427.4 95.9 485.2 104M375 124Q440.7 101 506.5 114.1M397.1 131.6Q437.3 124.3 477.5 96.7M377.4 95.2Q426.4 95.6 475.5 118.8M401.6 127.2Q452.5 127.3 503.5 109.1M377.8 112.7Q431.7 88.3 485.6 105.9M378.7 97.1Q431.1 87.8 483.5 88.1M409.1 115.5Q451.8 89.9 494.4 76M373 116.5Q433.2 111.5 493.4 111.3M370.7 115.5Q426.1 109 481.5 85.4M392 108.8Q445.3 107.7 498.6 113M404.5 129.7Q429.3 94.1 454 81.2M398.6 112.2Q448.1 90.4 497.7 88.1M382.3 131Q445.9 127.4 509.5 111.3M378.8 100.2Q425.8 85.8 472.8 107M412.8 137Q457.9 135.5 503 116.7M382.7 121.4Q428 95.9 473.2 100M391.9 128.1Q436.5 120.5 481.2 119.3M400.9 134.9Q434.8 114.5 468.7 100.7M391.9 121.4Q431.3 107.2 470.7 110.5M404.5 129.7Q461.4 111.1 518.3 106.4M377.4 95.2Q434.9 92 492.4 114.2M380.6 100.7Q429.5 104.1 478.4 100.6M404.5 129.7Q454.6 95.3 504.6 101.3M376.3 110.5Q425.9 96 475.5 104.5M373 116.5Q426.5 128.1 480.1 114.5M398.5 132.9Q453.5 129 508.5 112.8M393.8 129.1Q438.6 119 483.4 102.8M377.4 95.2Q437.8 109.8 498.2 98.1M375.6 122.5Q435.1 133.5 494.6 122.3M412.8 137Q458.1 125.9 503.4 96.6M368.8 116.9Q423.9 93.9 479 88.8M413.2 115.5Q452.8 114.3 492.5 106.8M395 133.4Q434.5 110.2 474 108.9M383 105.3Q423.5 99.3 464.1 100.4M377.6 124.2Q426.5 101.3 475.4 103.1M386.8 103.3Q434.4 107.3 482 87.9M377.6 124.2Q437.6 100.2 497.6 109.3M380.8 127.2Q437.6 118.7 494.5 113.1M392.4 135.6Q435.4 120.1 478.4 100.6M407.9 135.5Q457.2 123.2 506.6 109.1M393.8 125.4Q439.4 91.8 485.1 94.6M375.2 116.3Q435 88.4 494.8 99.7M399.6 119.5Q451.5 93.5 503.5 109.1M374.3 121Q440.5 128.5 506.7 103.9M407.9 135.5Q443.4 99.2 479 88.8M411.6 113.1Q440.9 95.1 470.3 101.6M394.2 121.6Q434.8 111.4 475.4 103.1M384.1 100.4Q446.3 115.1 508.5 123.7M390.4 130.7Q450.2 103.9 509.9 106.6M421.7 143.2Q465.8 135.3 509.9 106.6M389.2 125.7Q427 120.4 464.9 123.2M383.8 124Q436.2 127 488.6 114.5M398.5 132.9Q446.5 127.6 494.5 117.4M421.7 143.2Q458.4 129.4 495.1 98M382.1 106.3Q440.4 121.2 498.6 113M403.5 138Q455 118.3 506.6 119.1M374 106.9Q435.2 85.4 496.4 113.6M390.6 135.9Q437 117 483.4 102.8M420.8 141.7Q453 131.4 485.2 104M392.5 129.5Q429.4 106.3 466.4 101.1M368.8 116.9Q425.1 104.8 481.5 85.4M404.1 136.4Q448.9 122.6 493.7 118.3M382.1 106.3Q450.2 84.4 518.3 106.4M403.7 132.2Q443.1 135.3 482.5 118.1M409.1 115.5Q450.8 107.8 492.5 106.8M390.6 138.3Q444.1 104 497.5 106.6M423.1 141.8Q459 126.7 494.8 99.7M378.5 125.4Q440.6 111.8 502.8 118.5M372.5 121.3Q438.6 105 504.6 108M377.6 124.2Q436.1 121.9 494.6 87.5M374.2 122.2Q443.3 93.3 512.4 108.6M413.1 111.9Q447.8 118.4 482.5 118.1M390.6 138.3Q447 101.2 503.4 96.6M406.1 139.8Q447.4 115.8 488.6 114.5M378.7 123.6Q436.9 102.1 495 68.3M375 124Q439 109.9 503 116.7M377.6 124.2Q429.8 112.5 481.9 108M374.3 121Q424.9 120.1 475.5 118.8M405.4 110.9Q429.7 91.8 454 81.2M398.7 121Q443.1 94.9 487.5 103.5M397.9 135.8Q443.2 127.7 488.4 99.4M412.8 137Q448.4 120.3 483.9 101.1M369.6 114.3Q422.3 102.1 475 112.7M386 119.5Q444.8 109.2 503.5 109.1M395 133.4Q437.5 119 480.1 114.5M392.5 129.5Q451.9 132.1 511.4 101.8M386.8 103.3Q439.4 89.3 492 77.2M396.9 130.3Q446 74.5 495 68.3M391.9 128.1Q442.7 121.8 493.5 109.2M372 103.8Q434.9 72.3 497.7 94.3M392 105.7Q447.1 101.5 502.1 96.5M407.9 135.5Q448.9 132.2 489.9 118.5M372.2 102.7Q434.3 119.4 496.4 113.6M394.7 131.3Q444.6 104.1 494.6 87.5M391.9 128.1Q442.9 104.6 494 105.8M416.1 109.5Q457.6 97.8 499 115.2M365.8 110.8Q426.4 96.1 487 86.6M400.9 136.1Q449.7 126.8 498.6 113M388.8 105.2Q447.5 77.5 506.3 98.4M404.1 136.4Q447.1 110.8 490.1 77.7M391.9 125.8Q447.8 106.6 503.8 124.7M390.5 128.7Q438.9 123.3 487.3 116.4M398.5 132.9Q442.2 121.9 485.9 99.5M374.1 116.1Q440.6 135.3 507 123.8M395.8 120.7Q445.4 101.5 495 68.3M395 125.9Q442.4 118.9 489.9 118.5M378.8 117.3Q428.6 97.8 478.4 100.6M378.8 100.2Q434.3 99 489.8 73.5M395 125.9Q444.3 123 493.7 118.3M395.8 123.8Q439.6 96.5 483.5 88.1M387 125.1Q437.1 121.5 487.3 116.4M396.1 127.6Q442.8 86.3 489.6 79.4M377.6 124.2Q425 91.5 472.4 101.3M402.1 121.4Q450.3 129.4 498.6 113M400.8 110.4Q434.9 121.8 469 122.8M401.3 129.7Q439.9 115.1 478.5 118.8M398.4 137Q453.3 130.8 508.2 110.2M378.5 125.4Q433.8 117.8 489.1 120.9M385.5 131.3Q436.4 111.3 487.3 116.4M372 103.8Q440.2 115.6 508.3 101.1M391.9 121.4Q433.5 94 475 91.4M398.4 113.6Q456.5 101.9 514.5 105.3M406.9 134.5Q443.5 127.3 480.1 114.5M395 133.4Q433.3 117.2 471.6 100.2M368.8 104.9Q431.9 66.8 495 68.3M374 106.9Q431.5 125.7 489.1 120.9M400.1 113Q446.3 80.8 492.5 68.3M397.1 131.6Q451.6 120.8 506 124.8M407.9 135.5Q460.3 111 512.7 104.5M404.2 107.9Q446.9 98.1 489.6 99.9M381.1 98.8Q435 88.9 488.8 101.6M390.4 130.7Q438.8 107 487.1 111M377 100.3Q420.3 96 463.5 122.3M376.2 125.7Q437.2 97.4 498.2 98.1M384.1 122.6Q445.6 92.3 507 110M412.8 117Q446.1 105.3 479.4 117.4M390.6 138.3Q440.9 131.9 491.3 107.6M396.3 125.3Q437.1 100.6 477.8 87.1M419.2 145.9Q462.9 106.4 506.6 109.1M375.9 98.4Q435.4 97.3 495 68.3M402.1 121.4Q448.2 89.3 494.4 76M383.6 118.3Q436.1 118.5 488.6 114.5M423.1 141.8Q436.9 127.7 450.7 117.5M364.8 105.1Q424.7 98.4 484.6 97.8M392.6 127.2Q445.8 97.6 498.9 117.7M396.7 108.7Q439.1 87.3 481.6 98.6M369.6 114.3Q431 115.5 492.5 106.8M390.4 130.7Q442.5 99.5 494.6 87.5M405.4 110.9Q451.5 100.6 497.7 88.1M365.8 107.6Q434.3 84.8 502.7 111.9M374.9 110.1Q429.2 84.9 483.5 88.1M400.8 110.4Q440.5 103.6 480.1 89.2M386.5 115.6Q434.9 107.5 483.2 110.1M392.5 111Q443 109.7 493.5 109.2M396.9 106.4Q434.2 111.1 471.5 108M385.5 121.5Q436.4 123.7 487.3 116.4M377.8 112.7Q435.1 81.3 492.5 68.3M377.6 124.2Q434.6 124.2 491.7 101.5M403.7 132.2Q438.2 120.1 472.7 111.7M393.6 104.9Q441.7 107.1 489.9 103.8M384 110.6Q447.3 120.7 510.5 112.4M399.7 130Q444 112.3 488.4 115.9M384.1 122.6Q441.5 121.1 498.9 117.7M393.7 116.3Q447.3 96.7 500.9 108.1M409.1 115.5Q441.1 99.6 473.1 103.6M389 110.5Q445.9 93.5 502.7 111.9M381 113.7Q439.3 86.8 497.7 88.1M402 123.6Q446.7 101.7 491.5 112.8M374.8 103Q422.9 115.5 470.9 106.2M400.9 136.1Q444.4 113.3 487.8 74.4M413.2 115.5Q450.9 103.9 488.6 114.5M368.2 115.8Q424.7 127.7 481.2 119.3M393.4 124Q448.6 99.9 503.8 124.7M395.8 123.8Q443.7 114.9 491.7 101.5M389.2 125.7Q438.2 95.3 487.3 91.6M423.1 141.8Q465.2 112.2 507.3 117.6M421.9 145.7Q463.6 125.6 505.4 111.6M418.4 143.2Q461.9 139.3 505.4 111.6M370.4 107.6Q438.3 125.7 506.1 117.7M392 105.7Q438.5 107.1 485 91M385.5 109.2Q434.5 85.8 483.4 102.8M393.4 124Q441.5 96 489.6 79.4M389.8 117.2Q427 103.1 464.1 100.4M396.1 127.6Q450.7 117.1 505.3 109.4M368.2 115.8Q433.2 114.8 498.2 110.9M377.4 95.2Q424.2 101 471.1 119.3M404.1 136.4Q447.5 101.8 490.9 70.9M407.9 135.5Q447.6 111.7 487.3 116.4M395 133.4Q432.9 111.2 470.7 110.5M385.5 109.2Q449.1 119.3 512.7 104.5M412.8 117Q451.9 90.4 491.1 86.3M401.6 127.2Q456.1 117.4 510.5 112.4M392 108.8Q435 110.6 477.9 117M365.8 107.6Q432 117.4 498.2 110.9M398.8 129Q452.4 137.6 506 120.7M389.3 130.1Q426.8 106.8 464.3 104.9M407.6 137.1Q450.8 129.2 494 105.8M375.2 116.3Q424.6 112.1 474 108.9M391.9 125.8Q448.3 102.4 504.6 108M378.7 97.1Q436.1 91.8 493.5 109.2M489.9 103.8Q530 106.3 570.1 117.6M494.5 113.1Q542.1 101.1 589.6 114.7M494.5 113.1Q534.3 109.3 574.1 117.8M494.5 113.1Q536.5 127.1 578.6 156.4M478.7 85.6Q521.9 90.6 565.1 119.2M497.8 107.8Q532.5 129.2 567.3 145.7M506.7 103.9Q539.9 112.2 573 152.5M471.5 108Q512.7 106.7 553.8 131.5M473.2 100Q528 120 582.8 140.9M491 84.6Q515.1 99.2 539.2 124.8M491.7 101.5Q536.7 94.8 581.6 118.1M464.9 123.2Q521.8 141 578.8 133.4M474 108.9Q517.3 123.6 560.5 127.5M493.2 120.8Q532.6 123.6 572 142.9M493.5 109.2Q533 104.7 572.6 126.6M475.4 110Q509.4 119.2 543.4 121.3M490.1 106.2Q533.2 134.3 576.4 143.7M480.2 110.8Q521.2 120.7 562.1 123.9M514.9 125.3Q524.6 120.6 534.3 116.3M469.7 99.2Q520.8 129 571.9 151.9M489.5 113.6Q531.3 143.1 573 152.5M487 86.6Q529.3 91.7 571.7 135.5M498.9 120.2Q545 102.2 591 117.6M482.7 98.3Q531.5 108.4 580.4 116.4M468.7 106Q514.3 112.3 559.9 139.8M493.7 118.3Q522.6 112.5 551.4 121.7M471.5 108Q524.2 121.5 577 127.5M481.2 119.3Q529.7 123.4 578.2 147.2M479.3 119.5Q530.9 133 582.5 139.2M494.8 99.7Q514.4 108 534 123.8M470.7 110.5Q506.6 104.4 542.5 126M489.6 79.4Q530.6 94.6 571.7 135.5M514.5 105.3Q524.1 109 533.8 119.5M491.3 107.6Q534.9 112.4 578.6 156.4M505.2 94.8Q537.3 128.3 569.3 143M511.4 101.8Q543 117.6 574.7 127.1M506 120.7Q542.8 125.3 579.6 128.2M481.9 108Q525.6 131.2 569.3 149.2M498.2 98.1Q537.3 123.5 576.3 138.9M475.6 100.4Q501.3 103.6 527.1 119.2M508.3 101.1Q542.6 117.5 576.9 152.1M518.3 106.4Q546.3 129.9 574.3 149.3M504.6 101.3Q538 106 571.3 114.7M487.8 74.4Q529.9 107.5 572 142.9M466.3 103Q521.8 129.5 577.3 135.9M509.5 111.3Q531.1 125 552.7 134.6M478.2 102.5Q535.3 112.5 592.5 119.3M472.7 111.7Q515.6 113.5 558.4 140.4M484.6 97.8Q533.2 103.8 581.8 128.8M454 81.2Q518.4 109.2 582.7 143.4M489.9 103.8Q535.5 134 581.1 142M475 112.7Q521.6 124.5 568.1 141.3M497.7 94.3Q547.2 108.6 596.6 117.6M488.5 84.3Q511.9 97.2 535.4 121.4M468.7 106Q515 119.6 561.4 130.7M509.5 111.3Q539.7 123.8 570 146.2M495 68.3Q514.6 98.1 534.3 127M492 77.2Q532.3 89.1 572.5 144.3M489.9 118.5Q524.3 121.6 558.6 127.8M474 108.9Q524.9 122.4 575.7 150.9M511.4 101.8Q521.6 106.6 531.9 117.7M503.5 109.1Q530.3 110.4 557.2 128.5M510.3 100.6Q525.2 111.8 540.1 117.3M498.6 113Q539.8 118.6 581.1 140M497.7 88.1Q529.3 114.4 561 133M480.7 120.3Q533.4 100.2 586.1 121.4M491.7 101.5Q520.5 111 549.3 119.3M482.8 84.8Q529 120.8 575.2 149.9M495.4 112.4Q533.6 131.6 571.8 148.3M469.7 99.2Q522.1 109.1 574.6 151.6M487.5 89.9Q526.7 128.6 565.8 151.9M503.8 124.7Q545.9 104.9 588.1 119.8M517.4 101.5Q549.5 114.3 581.6 118.1M472.7 105.4Q517.3 121.6 561.9 119.2M492 77.2Q539 81.3 586.1 121.4M472.4 101.3Q522.2 106.1 572 142.9M512.3 125.1Q546.5 127 580.7 129.8M474 108.9Q513.1 119.5 552.2 127.9M480.1 114.5Q525.4 110.3 570.7 133.6M469.4 107.9Q520 107.7 570.7 133.6M469.7 99.2Q520.8 126.2 572 142.9M475.4 103.1Q530.3 96.2 585.3 113M513.7 125.8Q527.2 122.7 540.8 116.3M467.2 113.5Q517.9 121.8 568.5 117.8M489 121.9Q534.2 101.7 579.3 113.7M484.6 97.8Q512.1 111.6 539.6 139.8M491.5 112.8Q531.6 126.8 571.7 135.5M491.3 107.6Q536.4 111.7 581.6 110.4M514.6 107.4Q538.7 114.7 562.7 128.3M471.1 119.3Q508.7 108 546.3 121.2M482 87.9Q512.2 88.6 542.4 112.5M495.9 114.9Q535 126.4 574 125.8M478.5 118.8Q520.5 122.1 562.4 126.5M506.6 119.1Q535.8 124.5 565.1 119.2M483.2 110.1Q531.3 109.8 579.4 118M509.1 102.4Q539.6 113.8 570.2 147.5M491.6 110.2Q516.2 117.2 540.8 116.3M468.3 98.1Q501.1 106.3 534 123.8M495 68.3Q520.7 94.6 546.3 121.2M490.1 106.2Q530.7 116.9 571.4 126.8M506.1 117.7Q534.8 117.5 563.6 140M487.8 74.4Q512.7 99.3 537.5 112.7M485 92.4Q512.5 105.5 540.1 136M508.3 101.1Q539.3 125 570.4 135.7M495.9 114.9Q517.8 121.2 539.6 139.8M474.4 115.9Q525.9 104.8 577.4 115.3M503.3 102.6Q539.4 119.7 575.4 123.6M487.8 74.4Q511.1 83.2 534.3 116.3M472.7 111.7Q510.2 123.6 547.7 135.6M493.7 118.3Q521.5 106.3 549.3 116.8M494.9 71.5Q533.3 94.7 571.7 125.2M506.6 119.1Q538.8 137.5 571 159M503.8 124.7Q537.6 106.4 571.5 116.3M497.7 94.3Q535.9 106.2 574 125.8M478.4 100.6Q514.9 112.6 551.4 121.7M507.3 117.6Q526.5 118.7 545.8 127.6M475.5 97.7Q519.8 104.8 564.2 130.8M450.5 117.5Q499.9 106.1 549.2 124.1M477.8 87.1Q524.6 118.3 571.4 126.8M491.5 118.1Q533 112 574.5 133.9M507.6 126.9Q541.2 130.9 574.8 135.8M511.4 101.8Q544.8 101.5 578.2 114.6M489.6 79.4Q515.2 88.3 540.8 116.3M472.1 113.9Q523.1 117.3 574.2 140.9M477.9 117Q509 117.1 540.1 136M476.8 118.7Q509.3 128.3 541.8 141.1M486.3 84Q538.7 107.6 591 117.6M469.4 107.9Q520.3 102.2 571.3 114.7M476.8 118.7Q523.4 133.4 570 146.2M471.6 100.2Q523.1 125.1 574.5 144.3M487 86.6Q532.1 100.5 577.3 135.9M509.5 111.3Q523 116.4 536.5 116.6M491.8 89.4Q516.8 106.8 541.8 141.1M513.7 125.8Q525.1 123.6 536.5 116.6M508.3 101.1Q547.2 119 586.1 124.5M491.9 82.8Q527.8 102.2 563.6 124.7M502.5 106.5Q547.5 119.2 592.5 119.3M480.1 89.2Q526 131.1 571.8 148.3M489.9 118.5Q539 119.4 588.1 116.8M497.7 94.3Q535.5 107.9 573.3 122.9M508.8 80.1Q524.8 91.2 540.8 116.3M489.8 73.5Q539.2 78.4 588.6 121.3M481.6 109.4Q531.9 122.6 582.3 113.4M485.9 99.5Q534.1 100.8 582.4 126.7M488.4 117.3Q528.5 101.7 568.6 119.1M477.9 117Q513.1 116.4 548.2 118.5M485.6 105.9Q515 113.4 544.4 126.6M499 122.6Q519.2 115.6 539.4 116.4M503.8 124.7Q522.4 123.8 541.1 124.7M503.3 102.6Q550.2 105.5 597.1 115.9M502.7 111.9Q545.4 96.5 588.1 116.8M514.5 105.3Q538.4 116.6 562.2 137.4M472.4 101.3Q525.5 97.7 578.5 122.4M464.1 100.4Q495.6 113 527.1 119.2M491.3 107.6Q515.7 113.1 540.2 115.2M472.2 112.8Q527.8 100.9 583.4 119.6M491 84.6Q511.5 97.8 531.9 117.7M475.5 104.5Q528.2 119.9 580.9 134.3M504.7 119.9Q535.1 125 565.5 145.2M505.3 109.4Q545.7 110 586.1 124.5M382.7 121.4Q473.9 78.1 565.1 119.2M390.7 123.8Q485.8 112.6 581 154.8M371.7 112.4Q476.4 88.5 581.1 142M378.5 125.4Q473.7 82.6 569 134.6M395.8 123.8Q487.1 78.3 578.5 112M368.2 115.8Q466.2 94.2 564.2 130.8M378.7 97.1Q476.2 77.7 573.7 150.9M390.7 123.8Q481.1 91.4 571.5 116.3M374.3 121Q480.8 85.5 587.2 121.7M413.2 115.5Q489 83.4 564.7 116.8M421.9 145.7Q495.6 128.6 569.3 143M401.3 129.7Q482.9 94.8 564.5 129.6M423.1 141.8Q501.3 103.6 579.5 115.7M386.8 103.3Q480.5 67 574.1 117.8M380.6 100.7Q477.5 74.4 574.5 133.9M418.4 143.2Q498.2 115.3 578 134.6M413.1 140.8Q490.8 104.5 568.5 117.8M409.1 115.5Q492 95.9 574.8 139.3M374.9 110.1Q470.4 80.4 565.9 123.4M409.1 115.5Q484.4 90.8 559.7 134.6M398.4 113.6Q486.7 97.8 574.9 120.3M369.6 109.4Q483.1 65.6 596.6 117.6M372 103.8Q474.7 71 577.4 115.3M392.4 135.6Q484.4 101.4 576.4 143.7M396.3 125.3Q492.1 83.2 587.8 124.9M390.6 103.4Q485.5 89.1 580.4 116.4M390.4 130.7Q483.8 105.3 577.3 135.9M402 134.2Q487.1 99.2 572.2 117.8M402 134.2Q489.3 96.5 576.5 117.5M416.1 109.5Q497.7 95.6 579.4 118M374.9 110.1Q466.5 93.6 558 143.4M386.8 103.3Q480.7 92.2 574.7 127.1M393.4 132.3Q474.4 100.5 555.4 132.3M396.1 127.6Q494.8 74.6 593.6 111.9M388.1 137Q480 115 571.9 151.9M378.5 125.4Q476.8 113.1 575.2 149.9M373 116.5Q469.4 88 565.8 151.9M375.6 122.5Q470.2 83.8 564.7 116.8M376.3 110.5Q465.4 97.6 554.5 137.4M374.2 122.2Q470.3 90.1 566.4 154.2M385.5 109.2Q487.1 82.2 588.6 121.3M404.2 107.9Q496.1 93.8 588.1 119.8M392.6 127.2Q479 110.8 565.5 145.2M412.8 117Q488.6 96 564.5 129.6M407.6 137.1Q491.6 90.1 575.6 116.6M389 110.5Q484.2 86 579.5 115.7M398.4 137Q479.9 113.6 561.4 130.7M381 113.7Q481.6 83.2 582.1 150M372.2 102.7Q477.4 88 582.7 143.4M368.8 116.9Q478.6 95.6 588.4 123.7M380.6 117.2Q479.4 106.2 578.2 147.2M411.2 134.4Q484.3 103.1 557.4 132.4M391.8 132.6Q483 106.2 574.3 131.2M381 113.7Q476.3 77.4 571.5 116.3M369.3 98.1Q468.3 88.7 567.4 132.7M412.8 117Q497.4 98.9 582.1 150M371.7 112.4Q465.1 88.1 558.4 140.4M402.1 121.4Q479.1 110.6 556.1 143.6M395.1 129.1Q475.6 105.3 556.1 143.6M421.7 143.2Q488.1 122.5 554.5 137.4M385.5 121.5Q479 103.1 572.6 126.6M421.9 145.7Q500.6 113.2 579.3 113.7M373 116.5Q476.3 73.2 579.6 128.2M393.3 119.9Q486.6 106.3 580 139M397.1 131.6Q484.2 112 571.4 126.8M383.6 118.3Q480.8 80.9 578 134.6M380.6 109.1Q471.2 91 561.8 142.4M375.6 122.5Q465.9 108.1 556.1 143.6M423.1 141.8Q498.8 109.3 574.6 151.6M400.9 134.9Q488.6 110.7 576.4 143.7M400.1 113Q498.4 72.3 596.6 117.6M389 110.5Q484.7 86.8 580.3 136.9M395 125.9Q475.2 96.9 555.4 132.3M394.6 127.6Q487.7 92.8 580.7 129.8M410.6 113.9Q489.8 100.3 569 134.6M372.5 121.3Q469.2 84.1 565.9 123.4M410.6 113.9Q492.3 86.7 574 125.8M416.1 140.4Q493.1 107.3 570.1 117.6M420.8 141.7Q501 98.6 581.1 132.4M390.7 123.8Q480.4 93.7 570.2 147.5M399.9 118.3Q484.6 112.4 569.3 143M398.4 113.6Q487 95.7 575.6 116.6M386.8 103.3Q483.8 84.9 580.7 111.9M377.8 112.7Q475.2 92.7 572.6 126.6M393.8 129.1Q477.6 92.7 561.4 130.7M382.7 121.4Q483 71 583.4 119.6M391.9 128.1Q485.9 119.2 580 148.2M411.2 134.4Q494.9 123.9 578.6 156.4M374 106.9Q476.8 71.2 579.6 128.2M384.1 100.4Q481.8 67.9 579.5 115.7M421.9 145.7Q494.6 118.6 567.4 124M384 110.6Q477 96.6 570 139M381.1 98.8Q484.6 66.5 588.1 116.8M385.5 109.2Q482.2 72.2 578.8 133.4M374.7 119Q474.8 89.4 574.9 120.3M399.7 126.3Q491.5 98.2 583.4 119.6M409.3 141.3Q491.7 91.5 574.1 117.8M370.4 107.6Q471.5 85.3 572.6 124.4M387 109.6Q471.2 81 555.4 132.3M387 109.6Q476.2 92.3 565.5 145.2M423.8 144.4Q502.2 121.6 580.6 143.9M378.8 117.3Q478.6 85.8 578.4 129.4M402.1 121.4Q490.3 118.3 578.6 156.4M383.8 102.6Q483.1 92.2 582.4 126.7M409.3 141.3Q489.4 121.3 569.6 133.5M383.8 102.6Q479.3 70.4 574.8 135.8M391.9 125.8Q474.2 102.2 556.4 133.3M398.6 109.9Q478 101.4 557.4 132.4M391.8 132.6Q484 100.3 576.1 134.5M368.8 116.9Q475 82.7 581.1 142M389.2 108.1Q481.6 99.3 574 134.9M388.3 107.4Q475.1 77.4 561.9 119.2M378.5 125.4Q476.4 96.6 574.3 149.3M374.7 119Q478.6 93.2 582.6 145.4M383.8 124Q476 100.7 568.3 150.7M373.1 105.9Q472.6 65.2 572.2 117.8M396.9 106.4Q486.5 69.2 576.1 120.3M393.3 111.7Q495.8 71.4 598.2 113.5M392.6 127.2Q477 104.2 561.4 130.7M395 125.9Q482 95.6 569 134.6M381.5 105.1Q390.2 133 418.4 160.8M378.7 123.6Q396 143.8 436.6 164M407 109.9Q413.2 153.5 413 197.1M392 105.7Q396.2 131.9 417.5 158.1M393.3 111.7Q392.8 152 413 192.3M402.4 130.2Q407.3 145.7 425.5 161.3M393.4 124Q404.2 138.4 404.2 152.8M400.9 136.1Q412.2 148.6 413.7 161.1M368.8 116.9Q390.5 140.1 421.1 163.4M382.7 121.4Q413.3 138.6 436.5 155.8M380.6 109.1Q386 131 404.2 152.8M398.5 132.9Q406.4 144.8 408.9 156.8M402.4 130.2Q414.1 159 415.4 187.8M389.9 136.9Q412.2 170.3 413.7 203.7M385.5 109.2Q391.3 148.5 413.3 187.9M380.6 117.2Q407.7 138 429.8 158.9M378.7 97.1Q378.7 141.4 414 185.6M389.2 125.7Q422.1 145.5 436.5 165.3M411.4 107.9Q418.7 148.2 418.1 188.6M393.3 119.9Q410.8 137.9 413.9 155.9M385.5 121.5Q394.1 161.4 412.4 201.3M419.2 145.9Q429.1 155.4 433.4 165M378.8 117.3Q412.4 142.7 435.5 168.1M402 134.2Q404.4 158.5 421.2 182.9M380.6 109.1Q388.9 146.8 420.1 184.4M399.6 119.5Q407.8 134.8 409.9 150M401.3 129.7Q419.4 147.3 431.8 164.9M386 119.5Q396.9 146.6 418.3 173.8M407.9 135.5Q403.5 171.3 414.6 207.1M419.2 145.9Q418.1 163.4 422.9 181M374.7 119Q405 154.9 411.3 190.8M386.8 103.3Q405.7 148.1 409.4 192.9M387 109.6Q408.5 142.3 428.7 175.1M389.9 136.9Q409 155.4 428.5 173.9M397.9 135.8Q403.7 146.8 408.6 157.9M382.9 111.4Q418.4 138.4 438.9 165.5M390.4 130.7Q412.3 153.3 419.8 175.9M413.1 140.8Q421 165.8 411.3 190.8M400.9 134.9Q414.6 146.9 426.3 158.9M391.9 125.8Q405.2 150 430.8 174.1M404.1 136.4Q417.4 162.5 418.1 188.6M376.1 107.9Q403.7 136.4 433.4 165M378.8 100.2Q407.7 133.7 430.2 167.3M389.8 117.2Q391.9 156 414.1 194.7M419.2 145.9Q423.4 169.5 413.9 193.2M388.1 137Q410.1 159 422.9 181M388.3 120.8Q417.6 141.7 427.6 162.7M368.8 104.9Q382.6 142.9 422.9 181M397.1 131.6Q406.1 145.2 429.8 158.9M380.6 117.2Q385.5 156.4 411 195.6M402 123.6Q422.8 143 432.6 162.4M391.9 121.4Q408.6 157.2 409.4 192.9M368.8 104.9Q381.1 150.7 411.9 196.5M373.1 105.9Q412.8 134.3 436.3 162.7M398.5 132.9Q409.2 149.1 436.5 165.3M413.2 115.5Q404.6 156.3 413 197.1M393.6 107.1Q415.5 150.1 413.9 193.2M398.4 137Q400.9 162.4 413.3 187.9M399.6 134.3Q412 159.3 412.7 184.4M400.8 110.4Q420.9 136.1 439.6 161.8M399.7 130Q425.7 145.9 439.6 161.8M410.6 113.9Q420.7 154.8 412.7 195.7M415.6 115.2Q420.8 137.1 426.3 158.9M407.9 135.5Q415.7 162 417 188.4M420.8 141.7Q427.1 152.2 427.6 162.7M392.4 135.6Q392 161.7 410.4 187.8M393.8 129.1Q412.8 145.6 434.5 162.1M370.7 115.5Q389.4 139.9 424.6 164.3M411.2 134.4Q412.9 161.1 410.4 187.8M368.5 111Q410.9 159 414.6 207.1M384.1 100.4Q398.7 129.6 429.8 158.9M373.1 105.9Q417.3 133.8 439.6 161.8M389.8 117.2Q408.6 144.6 433 171.9M383.6 118.3Q415.5 142.8 430.2 167.3M389.3 130.1Q407.3 161 416.3 191.8M400.8 110.4Q401.7 149.7 419.1 188.9M386.5 115.6Q404.9 138.4 413.7 161.1M380.6 109.1Q417.8 135.7 432.6 162.4M393.6 107.1Q410.8 136.2 436.5 165.3M375.2 116.3Q398.7 138.6 418.4 160.8M396.1 127.6Q403.5 137.5 410.1 147.5M398.7 121Q415.3 155.3 414.6 189.7M370.7 115.5Q400.9 153.1 415.4 190.7M398.4 113.6Q393.8 153.6 411.8 193.5M421.9 145.7Q422.4 157.2 413.5 168.8M410.6 113.9Q416.4 139.5 423.1 165.1M401.6 127.2Q409.1 148 413.5 168.8M418.4 143.2Q421.7 155.9 431 168.6M390.7 104.7Q413.9 133.5 432.6 162.4M372.2 102.7Q391.9 127.8 404.2 152.8M424.3 171.2Q463.1 164.3 501.8 139M417 188.4Q464.6 164.9 512.3 139.5M412.9 202.6Q442.5 168.2 472.1 113.9M430.2 167.3Q467.7 145.6 505.2 94.8M414.6 180.8Q455.5 169.5 496.4 113.6M436.5 155.8Q469 142.8 501.5 115.5M428.5 173.9Q458.5 140 488.5 84.3M424.3 171.2Q460.4 150.1 496.5 121.4M417.5 158.1Q460.4 136.5 503.3 102.6M411.3 190.8Q452.9 167.8 494.6 87.5M420.1 184.4Q447.8 147.2 475.4 110M412.3 196.2Q459.2 182.7 506.1 117.7M420.1 184.4Q449.5 146.5 479 88.8M415.2 192.4Q460.2 171.5 505.3 109.4M423.4 169.3Q456.7 131.3 490.1 106.2M430.8 174.1Q455.8 136.5 480.8 86.9M417.3 155.8Q462.7 134.3 508 119.8M410.1 147.5Q449.5 119.2 488.8 101.6M421.2 182.9Q452.9 156.5 484.6 97.8M414.6 180.8Q458.7 148.9 502.8 118.5M433 171.9Q451.7 149.5 470.4 96.2M439.7 164.4Q468.1 148.5 496.4 113.6M410.1 147.5Q442.3 131.1 474.4 115.9M417.6 165.2Q462.5 162 507.3 117.6M412.4 201.3Q447.2 168.3 482 87.9M424.6 164.3Q461.1 139.6 497.7 88.1M434.9 159.5Q456.4 130.6 477.8 87.1M442 162.6Q460 123.9 478 94.2M439.6 161.8Q466.5 147.5 493.4 111.3M415.4 187.8Q452.2 165.1 489 121.9M413.7 203.7Q455 194.2 496.4 168.5M425.5 161.3Q444.5 144.4 463.5 122.3M422.9 160.9Q447.5 143.5 472.1 113.9M423.1 173.1Q453.2 161.6 483.2 110.1M414.6 207.1Q460.9 175.1 507.3 117.6M413.7 203.7Q460.1 185.5 506.6 109.1M416.1 169.1Q452.5 144.6 488.8 101.6M423.1 173.1Q445.6 159.1 468.1 110.9M417.3 155.8Q455.5 131.9 493.7 118.3M413 192.3Q444.9 175.2 476.8 118.7M428.5 173.9Q468.4 157.3 508.3 101.1M413.5 168.8Q440.2 156.7 466.8 142M424.6 164.3Q457.3 157.4 489.9 118.5M434.5 162.1Q464.7 168.5 494.8 182.8M411.3 190.8Q445.8 151.2 480.2 110.8M438.9 165.5Q464.3 126.8 489.8 73.5M426.3 158.9Q459 145 491.7 101.5M436.6 164Q464.8 152.4 493 101.4M422.9 182.7Q466.7 167.5 510.5 112.4M442 162.6Q476.4 129 510.7 110.5M414.6 180.8Q456.8 172.7 499 115.2M428.5 160.4Q452.9 150.4 477.3 143.6M417.3 155.8Q442.8 132 468.3 98.1M405.2 157.3Q442.7 142.5 480.1 89.2M433.4 165Q451.9 125.5 470.4 96.2M413.7 152.3Q443.3 141.6 472.8 107M432.6 162.4Q462.8 129.5 493 101.4M436.5 165.3Q456.9 135.9 477.2 102.1M436.5 165.3Q446.4 161.2 456.4 143.6M412.3 196.2Q452 166.6 491.7 101.5M336.9 134.9Q379 170.5 421.1 163.4M336.7 134.7Q388.7 126.8 440.8 163.5M337.5 134.7Q375.1 196 412.7 199.2M337.3 134.6Q375 166.5 412.7 195.7M337.1 135.1Q459.9 147.6 582.7 143.4M337.1 134Q365.2 136.1 393.3 119.9M336.3 134.8Q360 138.2 383.6 118.3M337.4 134.5Q374.9 193.6 412.4 201.3M336.6 133.9Q454 72.2 571.4 126.8M337.6 134.5Q381.8 157.4 426.1 177.1M337.7 133.8Q370.2 124.2 402.6 113.9M337.6 134.9Q453.8 148.4 569.9 119.1M336.7 134Q370.5 132.2 404.2 152.8M336.5 133.9Q386 130.8 435.5 168.1M337.1 134.8Q460.6 168.5 584.2 118.5M336.8 134.9Q368.9 144.9 400.9 134.9M337.1 134.2Q369.6 118.9 402.1 121.4M337.6 134.4Q457.9 194.8 578.2 147.2M337.1 134.6Q370.6 132.3 404.1 136.4M336.8 135.1Q455.5 116.6 574.3 131.2M337.1 134Q383.4 132 429.8 158.9M337.1 135.1Q375.1 179.3 413 199.1M336.4 134.7Q455.5 150.9 574.5 133.9M337.2 135.1Q446.3 142.6 555.4 132.3M336.8 134.4Q374.6 134 412.4 135.6M337.3 134.1Q360.7 130 384.1 100.4M336.8 134.8Q375.1 149 413.3 187.9M337.4 134.2Q375.1 150.6 412.8 137M337.3 134.9Q454.3 122.1 571.3 114.7M336.4 134.5Q371.7 110.1 407 109.9M336.6 134.3Q364.5 122.3 392.4 135.6M336.6 134.3Q350.7 117.8 364.8 105.1M337.2 135Q454.2 85 571.3 114.7M337.2 133.9Q372.5 108.1 407.7 113.2M337.3 134.9Q457.2 178.3 577.2 120.9M336.5 134.1Q449.3 172.5 562.2 137.4M337.1 133.8Q453.1 198.9 569 134.6M336.3 134.5Q379.9 131.9 423.6 163.1M337 135.1Q462.5 123.4 588.1 116.8M337.7 134.9Q369.9 148.3 402 134.2M337.3 135.1Q462.8 185.3 588.4 123.7M337.3 134.3Q467.2 53.2 597.1 115.9M336.3 134.7Q367.5 112.1 398.6 112.2M337 135.2Q356.3 131.9 375.6 122.5M337.2 134.4Q465.4 185.2 593.6 111.9M337.6 134.2Q373.8 149.3 410.1 147.5M337.7 133.9Q383.7 127.5 429.8 158.9M336.6 133.8Q376 137.8 415.4 187.8M337.4 134.1Q355.3 122.1 373.1 105.9M337.7 135Q454.8 102.7 571.9 138.1M359.8 96.4Q431.4 118.1 503 116.7M416.9 123.2Q404.7 121.5 392.4 135.6M345.9 80.1Q369.6 104.9 393.4 124M416.9 123.2Q456.4 96.5 495.9 114.9M377.3 93.7Q376.5 109.4 375.6 122.5M359.8 96.4Q377 108.9 394.2 121.6M359.8 96.4Q368.6 96.9 377.4 95.2M377.3 93.7Q394.3 94.1 411.4 107.9M359.8 96.4Q420.5 92.5 481.2 119.3M377.3 93.7Q431.4 79.1 485.5 121.7M356.8 91.9Q425.6 98.8 494.5 113.1M359.8 96.4Q377.8 110.6 395.8 123.8M359.8 96.4Q416 93.2 472.1 113.9M343.5 86.9Q367.1 99.9 390.7 104.7M343.5 86.9Q365.2 83.5 386.8 103.3M356.8 91.9Q417.4 99.2 478 94.2M377.3 93.7Q433.6 84.1 489.9 118.5M428.1 106.6Q463.9 99.5 499.7 95.4M356.8 91.9Q375.7 91.8 394.7 107.7M377.3 93.7Q434.9 66.1 492.5 68.3M345.9 80.1Q376.7 116.7 407.6 137.1M377.3 93.7Q386.5 109.5 395.8 120.7M428.1 106.6Q463.6 102 499 122.6M377.3 93.7Q389.7 102.5 402 134.2M359.8 96.4Q429 96.9 498.2 98.1M359.8 96.4Q425 67.2 490.1 77.7M343.5 86.9Q362.1 85.4 380.6 109.1M345.9 80.1Q381 89.4 416.1 140.4M356.8 91.9Q431.9 91.7 507 123.8M359.8 96.4Q376.2 105.7 392.6 127.2M377.3 93.7Q385.3 96.2 393.3 111.7M416.9 123.2Q460.2 103.8 503.5 109.1M359.8 96.4Q375.2 112.6 390.5 128.7M356.8 91.9Q431.5 79.9 506.3 98.4M416.9 123.2Q454.6 97.3 492.4 114.2M356.8 91.9Q425.6 82.5 494.4 76M359.8 96.4Q377.9 108.9 396.1 127.6M343.5 86.9Q425.3 93.4 507 123.8M377.3 93.7Q400.3 109.1 423.3 147.6M377.3 93.7Q441.7 68.1 506.1 117.7M584.8 117.5Q601.9 147.4 606.8 177.3M583.4 119.6Q607.2 144.8 594.3 170M574.5 144.3Q590.1 149.4 595.2 154.6M568.3 146.5Q598.1 152.2 601 157.8M579.8 155.9Q608.8 175.5 620.1 195.1M567.4 132.7Q619.1 150.1 626.8 167.6M588.1 116.8Q633.1 151.9 624.3 187M581.1 140Q593 147.3 595.2 154.6M584.8 117.5Q612.5 148.9 606.1 180.2M556.1 143.6Q596.8 165.3 624.3 187M560.5 127.5Q603.3 155.7 593.5 183.8M571.4 120.1Q601.4 151.9 593.5 183.8M557.6 135.3Q599.1 163.6 622.6 191.9M597.1 115.9Q626.7 150.6 601.8 185.4M558.4 140.4Q588.3 155.2 601.3 170M566.4 154.2Q601.8 169.8 601.8 185.4M579.5 115.7Q595.6 142.5 575.2 169.2M557.8 129.2Q598 156.1 605.1 183M573.3 143.2Q594.9 150.5 601 157.8M573.1 129.4Q592.1 160.6 601 191.9M573.4 137.5Q595.7 147.7 601 157.8M578.3 116.5Q598.9 137.2 601 157.8M592.5 119.3Q601.8 149.5 579.3 179.7M575.6 116.6Q612.9 146.9 606.8 177.3M575.7 150.9Q598 156 600.2 161.1M569.3 149.2Q613.4 158.4 626.8 167.6M578.4 129.4Q601.6 148.5 599.3 167.6M569.5 120.1Q611.5 147.5 605.5 174.9M579.2 145.4Q606.2 157.3 618.5 169.2M562.2 137.4Q584.6 162.2 598.5 187M569.6 133.5Q583.7 153 576.9 172.4M584.8 117.5Q594.7 140.1 586.8 162.7M570.3 121.6Q606 152.3 605.1 183M588.1 116.8Q611.4 150.3 593.5 183.8M561.9 119.2Q580 143.4 578.5 167.6M578.8 136.5Q581.8 158.9 573.5 181.3M592.5 119.3Q598 136.9 595.2 154.6M580 148.2Q590 151.4 595.2 154.6M563.6 140Q559.6 144.5 536.9 148.9M574.2 140.9Q603.8 159.1 606.8 177.3M571.7 125.2Q593.5 150 605.5 174.9M565.9 123.4Q592.5 139 595.2 154.6M589.6 114.7Q625.1 150.1 601.8 185.4M580.4 116.4Q589.4 142 578.5 167.6M582.3 113.4Q599 140.5 599.3 167.6M574.1 117.8Q600.9 145.1 603.5 172.4M583.4 119.6Q612.4 151.3 605.1 183M562.7 128.3Q591.4 155.6 605.1 183M569.6 133.5Q594 151.8 601.3 170M569.3 149.2Q588.1 161.2 589.3 173.2M579.2 145.4Q597.5 168.6 601 191.9M569.3 149.2Q607.5 160.4 616.8 171.6M568.3 150.7Q606.4 168.9 624.3 187M583.4 119.6Q601.2 137.1 595.2 154.6M597.1 115.9Q608.6 148 606.1 180.2M571.9 138.1Q591.2 156.5 605.5 174.9M575.2 149.9Q580.6 158.7 578.5 167.6M567.3 145.7Q591.9 159.1 603.5 172.4M562.2 134.2Q594.7 152.1 594.3 170M564.2 130.8Q606.3 156.9 605.1 183M579.2 145.4Q616.1 157.3 618.5 169.2M574.5 144.3Q594.3 152.7 600.2 161.1M574.3 131.2Q581.5 149.4 578.5 167.6M562.2 134.2Q590.6 147.6 600.2 161.1M564.7 116.8Q582.2 139 581 161.1M572.6 126.6Q608.2 153.4 606.1 180.2M571.9 138.1Q604.8 162.5 598.5 187M567.3 145.7Q614.8 170.4 620.1 195.1M578.8 136.5Q585 149.6 586.8 162.7M582.3 113.4Q563 131.2 536.9 148.9M573.8 155Q597.6 158 600.2 161.1M574.4 147.6Q565.9 148.2 536.9 148.9M582.3 113.4Q603.4 150.2 598.5 187M578.2 147.2Q596.9 159.8 603.5 172.4M571 159Q583.1 166.1 589.3 173.2M578 134.6Q605.6 153.5 603.5 172.4M576.4 143.7Q588.2 156.8 594.3 170M570.7 133.6Q613.7 160.3 624.3 187M581.1 147.8Q595.8 158.9 601.3 170M560.5 127.5Q588.8 145.1 586.8 162.7M589.3 173.2Q503.7 192.6 418.1 188.6M625.4 189Q520.3 219 415.2 192.4M593.5 183.8Q538.3 179.1 483.2 151.5M593.5 183.8Q539.5 193.2 485.5 156.5M599.3 167.6Q566.5 157.4 533.8 119.5M620.1 195.1Q585.2 167.5 550.3 127.6M603.5 172.4Q557.9 178.4 512.3 139.5M606.8 177.3Q552.6 189.1 498.3 166.3M593.5 183.8Q563.9 175.4 534.3 127M605.5 174.9Q511.8 220.9 418.1 188.6M594.3 170Q513.9 184.8 433.4 165M606.1 180.2Q576.8 169.3 547.4 127.9M626.8 167.6Q525.3 229.5 423.8 175.9M606.8 177.3Q571.5 163.5 536.3 113.6M605.5 174.9Q576.8 150.7 548.2 118.5M618.5 169.2Q583.9 166.1 549.3 119.3M589.3 173.2Q567.4 165.5 545.5 121.9M594.3 170Q505.9 188.3 417.5 158.1M599.3 167.6Q506.2 223.6 413 192.3M606.1 180.2Q575.8 166.8 545.5 121.9M601.3 170Q567.8 153.8 534.3 116.3M593.5 183.8Q508.2 193.6 422.9 182.7M616.8 171.6Q579.6 147.3 542.4 112.5M606.1 180.2Q573.1 164.3 540.1 117.3M624.3 187Q518.1 208.9 411.9 163.8M601.3 170Q574.8 148 548.2 118.5M624.3 187Q518.3 245.7 412.3 196.2M601.8 185.4Q516.4 215 431 168.6M601.3 170Q521.1 211.3 440.8 163.5M606.8 177.3Q572.6 169.9 538.3 121.8M601.3 170Q550.4 176.9 499.5 168.5M625.4 189Q587.4 159.8 549.3 119.3M618.5 169.2Q559 199.2 499.5 168.5M589.3 173.2Q561.7 164.8 534 125.8M618.5 169.2Q576.3 173.4 534 125.8M605.5 174.9Q570.1 162.6 534.8 114.7M601 191.9Q575.2 181.4 549.4 126M618.5 169.2Q582 165.6 545.5 121.9M589.3 173.2Q566.4 162.9 543.4 121.3M620.1 195.1Q589.4 169.4 558.6 127.8M589.3 173.2Q567.5 153.6 545.8 127.6M603.5 172.4Q506.7 187.8 409.9 150M616.8 171.6Q586.7 157.7 556.7 130.6M606.8 177.3Q579.9 163.9 553 125.3M624.3 187Q520.3 214.7 416.3 191.8M605.1 183Q507.6 207.2 410.1 147.5M603.5 172.4Q569.1 158.2 534.8 114.7M625.4 189Q532.6 227.4 439.7 159.2M626.8 167.6Q522 173.6 417.3 155.8M620.1 195.1Q583.9 190.4 547.7 135.6M606.8 177.3Q509.2 239.6 411.6 193.1M606.1 180.2Q535.3 198.2 464.5 147M589.3 173.2Q540.9 187.6 492.5 182.8M589.3 173.2Q565.9 149 542.4 112.5M599.3 167.6Q570.9 146.9 542.4 112.5M624.3 187Q582.2 180.6 540.1 136M616.8 171.6Q581.2 158 545.6 124.2M605.5 174.9Q568.8 154.8 532.1 119.6M616.8 171.6Q578.2 174.1 539.6 139.8M620.1 195.1Q582.8 176.2 545.5 121.9M598.5 187Q547.8 207.8 497.1 182.1M606.1 180.2Q521.2 193 436.3 162.7M601.8 185.4Q505.4 205.8 408.9 156.8M601 191.9Q512.2 188.4 423.3 155.2M605.5 174.9Q511.9 206.9 418.4 160.8M601.8 185.4Q507.7 216.9 413.7 203.7M606.8 177.3Q509.9 240.8 413 197.1M616.8 171.6Q552.9 198.1 489 171.9M601 191.9Q572.7 182.6 544.4 126.6M606.8 177.3Q576.2 170.6 545.7 120.3M504.7 119.9Q505.6 116.1 506.6 112.2M472.8 107Q475.9 96.9 479 88.8M506.6 119.1Q499.5 99.8 492.5 68.3M504.6 101.3Q486.6 104.9 468.6 96.5M503.5 109.1Q484.9 112.3 466.4 101.1M485 86.8Q486.8 101.1 488.6 114.5M497.5 106.6Q496.2 102.3 494.8 99.7M485.6 79.5Q486.5 83.3 487.3 91.6M485.6 79.5Q476.4 92.9 467.2 113.5M510.5 112.4Q498.8 112.4 487.1 111M507 123.8Q495.1 119.9 483.2 110.1M477.5 96.7Q490.2 111.5 502.8 118.5M454 81.2Q471.8 92.1 489.6 99.9M471.5 108Q486.5 116.6 501.5 115.5M492 77.2Q497.5 89.1 503 116.7M507.6 126.9Q502.9 116.5 498.2 98.1M494 94Q494 98.3 494 105.8M493.7 115.1Q486.4 109.5 479.1 107.5M477.8 99.5Q497.6 94.5 517.4 101.5M467.9 121.5Q475.7 110.9 483.5 88.1M493 101.4Q486 95.3 479 88.8M494.4 76Q480.3 92.5 466.3 103M508.5 123.7Q498 116.7 487.5 103.5M470.9 106.2Q512.2 110.3 553.6 95.5M485.1 94.6Q485.7 89.3 486.3 84M489.8 81Q496.4 102.8 503 116.7M491.5 118.1Q488 106 484.6 97.8M501.1 111Q482.7 107.1 464.3 104.9M454 81.2Q463.2 96.4 472.4 101.3M488.4 99.4Q477.3 98 466.3 103M477.9 117Q523.7 114.7 569.4 106.1M494 105.8Q500.3 107.2 506.6 112.2M468.7 100.7Q488.4 112.4 508.2 110.2M495.4 112.4Q498.7 105.8 502.1 96.5M485 86.8Q490.2 100.1 495.4 112.4M509.3 114.6Q492.2 96.5 475 91.4M489.6 79.4Q493.6 88.8 497.6 109.3M506.1 117.7Q485.1 105.8 464.1 100.4M480.7 90.5Q481.7 94.7 482.7 98.3M485 91Q492.3 95.7 499.7 95.4M486.3 84Q480.7 96.1 475 112.7M450.7 117.5Q460.8 113.9 470.9 106.2M479.1 107.5Q471.6 106.7 464.1 100.4M476.8 118.7Q485.2 113.9 493.5 109.2M510.5 112.4Q493 105.5 475.6 100.4M495 68.3Q500.8 82.2 506.5 114.1M506.3 98.4Q496.1 102.2 485.9 99.5M477.8 87.1Q480.6 97.3 483.4 102.8M491.4 75.1Q494.6 88.8 497.8 107.8M480.1 89.2Q479.1 92.7 478 94.2M477.8 99.5Q491.9 106 506 124.8M506.2 116.3Q510 118.8 513.7 125.8M509.3 114.6Q498.3 113 487.3 116.4M491.8 89.4Q494.8 98.7 497.8 107.8M495.9 114.9Q488.1 114.6 480.2 110.8M501.1 111Q503.6 113.9 506.1 117.7M508.5 123.7Q490 119 471.5 108M511.4 101.8Q488.1 100 464.9 116.3M510.5 112.4Q491.6 108.4 472.7 105.4M483.9 101.1Q476.3 101.6 468.7 100.7M498.2 110.9Q497.9 96.3 497.7 88.1M501.1 111Q499.4 100.2 497.7 88.1M475 112.7Q484.4 113.9 493.7 118.3M511.6 98.9Q507.8 105.3 504 110.2M506 107Q506 114 506.1 117.7M503.5 109.1Q492.1 95 480.8 86.9M492.5 68.3Q487.7 87 482.9 120.3M488.8 101.6Q477.6 100.6 466.3 103M507.8 103.1Q495.6 98.8 483.4 102.8M493.7 118.3Q487.5 119.9 481.2 119.3M498.2 110.9Q502.1 114.6 506 124.8M497.6 109.3Q494.6 112.3 491.5 118.1M486.3 84Q483.2 85.5 480.1 89.2M478.1 115.8Q476.5 114.3 475 112.7M509.5 111.3Q497.7 92.7 486 86.4M471.8 103.2Q481.5 100.3 491.1 104.7M505.4 111.6Q491.6 109 477.8 99.5M481.6 98.6Q493.1 111.3 504.7 119.9M502.2 120.4Q489.3 124.3 476.4 120.9M497.6 109.3Q488.3 107.5 479.1 107.5M477.7 120.9Q478 112.8 478.4 100.6M501.8 72.1Q499.7 94.7 497.5 106.6M481.2 119.3Q493.9 110.5 506.6 109.1M503.2 123.4Q493.4 110.1 483.5 88.1M471.1 119.3Q528.3 110.7 585.5 85.7M482.9 120.3Q488.8 121.5 494.6 122.3M495.3 88.6Q480.1 101.6 464.9 116.3M475.4 110Q476.6 117.1 477.7 120.9M504.6 108Q488.7 110.2 472.8 107M481.6 109.4Q504.5 102.1 527.4 103.9M517.4 101.5Q504.5 108.5 491.5 112.8M518.3 106.4Q504.2 103.7 490.1 106.2M479 88.8Q493 104.9 507 110M481.6 109.4Q497 103.3 512.4 108.6M482.5 118.1Q488.2 110.5 494 94M479.4 117.4Q541.8 120.5 604.3 89M468.6 96.5Q504 74.3 539.4 77.6M478.5 118.8Q495.6 116 512.7 104.5M485 91Q488.5 81.8 492 77.2M491.9 82.8Q477.7 102.1 463.5 122.3M496.4 113.6Q515.4 107.2 534.4 102.7M474.8 94.7Q491.4 106 508 115.3M470.7 110.5Q473 105.9 475.4 103.1M476.4 120.9Q483 116.1 489.5 113.6M488.4 115.9Q486.5 110.3 484.6 97.8M506.2 116.3Q490.9 112.8 475.5 118.8M490.1 106.2Q489.3 98 488.5 84.3M479.3 119.5Q477.4 119.1 475.5 118.8M504.6 101.3Q508.5 107 512.4 108.6M464.3 104.9Q472.5 98.9 480.8 86.9M467.9 121.5Q485.6 113.3 503.3 102.6M498.9 120.2Q495.3 116.6 491.6 110.2M484.6 97.8Q501 94.3 517.4 101.5M494.4 76Q484.9 90.4 475.4 110M503.5 109.1Q499 102.4 494.6 87.5M505.4 111.6Q501.8 103.2 498.2 98.1M491.7 101.5Q502.7 112.9 513.7 125.8M504.6 108Q498.8 106.9 493 101.4M469.7 99.2Q484.1 102.2 498.6 113M507.3 117.6Q508 92.9 508.8 80.1M374.3 121Q396.4 135.5 418.4 143.2M415.6 115.2Q405.8 120.1 396.1 127.6M384.1 100.4Q376.4 104.3 368.8 116.9M374.2 122.2Q376.6 110.6 379.1 105.3M400.8 110.4Q394.5 125.5 388.1 137M391.9 125.8Q399.4 120.8 407 109.9M402.4 130.2Q397.5 122.5 392.5 111M383.8 102.6Q395.3 116.1 406.9 134.5M402 134.2Q405 127.6 407.9 119.4M382.3 131Q391 131.5 399.7 126.3M378.7 123.6Q376.9 120.7 375.2 116.3M381 113.7Q382 112.9 382.9 111.4M395.8 123.8Q382.5 113.4 369.3 98.1M390.7 123.8Q405 136.3 419.2 145.9M391.9 128.1Q393.3 130 394.7 131.3M409.1 115.5Q401.5 120.5 393.8 129.1M383.8 124Q389.3 127.7 394.7 131.3M393.7 116.3Q381.1 110.1 368.5 111M397.9 135.8Q394.9 128.9 391.9 121.4M376.2 125.7Q394.3 137.1 412.4 135.6M393.7 116.3Q396.6 117.6 399.6 119.5M376.1 107.9Q390.1 122.1 404.1 136.4M381.5 105.1Q387.4 109.1 393.3 111.7M416.1 109.5Q395.2 121 374.2 122.2M394.7 131.3Q399.1 132.5 403.5 138M398.7 121Q391.4 110.7 384.1 100.4M419.2 145.9Q399 135.8 378.7 123.6M378.7 123.6Q390.3 127.9 402 123.6M392.6 127.2Q381 118.6 369.3 98.1M394.7 131.3Q391.4 135.8 388.1 137M394.6 127.6Q379.7 112 364.8 105.1M390.4 130.7Q388.4 123.3 386.5 115.6M412.8 117Q410.3 122.6 407.9 135.5M393.4 124Q388.1 120.2 382.9 111.4M369.6 114.3Q396.4 123 423.3 147.6M377 100.3Q387.8 110.1 398.5 132.9M415.2 110.2Q392.4 113.3 369.6 109.4M412 115.1Q397.5 110.4 382.9 111.4M411.2 134.4Q403.1 132.2 395 133.4M412 115.1Q402.2 118.8 392.4 115.7M399.7 130Q396.1 119.4 392.4 107M393.6 107.1Q397.2 109.7 400.8 110.4M397.1 131.6Q383.9 127.9 370.7 115.5M368.2 115.8Q377.5 112.8 386.8 103.3M389.2 125.7Q400.3 116.7 411.4 107.9M392.4 107Q393.7 118.3 395 125.9M404.1 136.4Q387.3 126.7 370.4 107.6M395 125.9Q409.4 132.3 423.8 144.4M368.8 104.9Q379 114 389.3 130.1M372 103.8Q393.6 112.1 415.2 110.2M390.6 135.9Q393.4 133.9 396.3 132.7M396.1 127.6Q394.3 118 392.5 111M374.2 122.2Q385.7 127.1 397.1 131.6M392.6 127.2Q401.7 132.7 410.9 140M398.6 112.2Q394.2 113.4 389.8 117.2M392.5 129.5Q392.2 118.6 392 105.7M377.6 124.2Q374.8 118.4 371.9 110.3M396.7 108.7Q410 129.9 423.3 147.6M365.8 110.8Q392.1 119.5 418.4 143.2M407.6 137.1Q398.8 132.5 389.9 126.9M388.8 105.2Q405.3 123.9 421.9 145.7M391.8 132.6Q387.9 118.4 384 110.6M398.7 121Q382.2 116 365.8 110.8M421.7 143.2Q397.6 134.6 373.4 108.8M393.7 116.3Q406.5 138 419.2 145.9M377 100.3Q396.5 120.2 416.1 140.4M385.5 121.5Q396.7 117.4 407.9 119.4M383 105.3Q388.2 124.4 393.4 132.3M407.7 113.2Q394.6 110.1 381.5 105.1M400.1 113Q387.5 110.7 374.8 103M399.6 134.3Q397.3 134.5 395 133.4M396.9 106.4Q396.9 116.5 396.9 130.3M402.4 130.2Q390.7 114.6 379.1 105.3M404.1 136.4Q390.1 127.2 376.2 125.7M400.7 124.4Q406.9 130.8 413.1 140.8M412.8 117Q401.7 122.1 390.7 123.8M400.9 136.1Q389.8 115.5 378.7 97.1M374.8 103Q373.5 111.8 372.2 115.7M369.3 98.1Q383.1 117.7 396.9 130.3M372.5 107.7Q384.3 112.8 396.1 127.6M549.4 70.3Q478.2 87.3 407 109.9M549.4 70.3Q472.2 80.4 395 125.9M546.9 95.5Q510.5 88.6 474 108.9M577.2 105.2Q496.6 77.2 416.1 140.4M527.4 103.9Q546.9 123.7 566.4 154.2M516.9 97.1Q450 90.8 383 105.3M521.6 100.5Q506.4 89.8 491.1 86.3M534.4 102.7Q513.2 82 492 77.2M566 106.8Q479.8 99 393.6 107.1M577.2 105.2Q528.6 68.5 480.1 89.2M563.5 100.5Q562.8 108 562.1 123.9M509.9 94.8Q448.2 99.2 386.5 115.6M539.4 77.6Q459.1 85.1 378.8 100.2M535.6 86.9Q508.5 84.4 481.5 85.4M569.4 106.1Q535.2 101.6 501.1 111M585.7 85.7Q498.5 62.7 411.2 134.4M611 99.8Q598.5 103.9 586.1 124.5M537.7 87.3Q524.2 91.6 510.7 110.5M516.9 97.1Q539.8 98 562.7 128.3M563.5 100.5Q569.2 104.5 574.9 120.3M509.9 94.8Q494 101.7 478.1 115.8M611 99.8Q491.7 67.1 372.5 107.7M537.7 87.3Q466.4 78.3 395 133.4M539.1 77.8Q556.5 93.2 574 125.8M569.4 106.1Q569.2 112.5 569 134.6M553 94.8Q528.9 104.6 504.7 119.9M590.3 106.1Q496.2 106.2 402 134.2M553.6 95.5Q472.1 107.3 390.7 123.8M535.6 86.9Q464 109.6 392.4 135.6M539.1 77.8Q523 87.9 507 123.8M611 99.8Q543.3 70.4 475.6 100.4M563.5 100.5Q525.4 99.7 487.3 109.9M590.3 106.1Q536.1 85.8 482 87.9M577.5 105Q579.8 117 582.1 150M522.8 93.7Q459.8 78.3 396.9 106.4M528.6 92.5Q554.7 101 580.7 119.2M585.5 85.7Q580.8 97.3 576.1 134.5M585.5 85.7Q534.2 82.1 482.9 120.3M544.9 97.1Q463.9 81.1 382.9 111.4M590.3 106.1Q581.1 113 571.8 123.4M577.5 105Q578.4 110.3 579.4 118M537.7 87.3Q464.8 96.7 391.8 132.6M527.4 103.9Q551.5 100.5 575.6 122.3M527.4 103.9Q458.3 101.7 389.2 108.1M539.4 77.6Q459.1 69.4 378.7 97.1M577.2 105.2Q578.3 107.7 579.4 118M549.4 70.3Q518.9 86.1 488.4 115.9M553.6 95.5Q531.1 92.6 508.6 106.5M577.2 105.2Q579.2 122.5 581.1 147.8M522.8 93.7Q457.3 76.9 391.9 128.1M539.4 77.6Q505.8 94.8 472.1 113.9M577.2 105.2Q531.1 91.7 485.1 94.6M590.3 106.1Q588.8 112.7 587.2 121.7M509.9 94.8Q540.7 88.6 571.5 116.3M530.9 76.7Q511.3 83.9 491.7 101.5M569.4 106.1Q528.9 91.9 488.4 115.9M590.3 106.1Q486.7 82.5 383 105.3M611 99.8Q595.9 101 580.7 111.9M590.3 106.1Q504.4 102.1 418.4 143.2M534.4 102.7Q517.1 93.2 499.7 95.4M521.6 156.5Q556.5 141.4 591.3 111.4M519.3 130.6Q465.8 163.8 412.3 196.2M494.8 182.8Q446.7 158.9 398.6 109.9M501.8 148.8Q533.8 157.3 565.8 151.9M514.6 168.5Q546.6 163 578.6 156.4M501.8 148.8Q442.4 136.1 382.9 111.4M497.1 182.1Q440.6 154.7 384.1 100.4M453.6 138.4Q522.3 148.3 591 117.6M498.3 178.7Q454.2 163.2 410.1 147.5M507.6 158.3Q540.9 156.8 574.3 131.2M458.7 140.6Q437.5 159.3 416.3 165.6M512.3 139.5Q542.1 142.3 572 142.9M501.8 148.8Q456.9 136.5 412 115.1M472.2 142.4Q423.5 144.2 374.8 103M470.3 148.1Q446.6 162.5 422.9 160.9M476.2 147.4Q518.6 158.2 561 133M485.5 156.5Q440.2 147.1 395 133.4M500.6 175.3Q531.2 169.5 561.8 142.4M499.5 168.5Q449 149.6 398.6 112.2M521.6 170.1Q445.6 164.4 369.6 109.4M458.7 140.6Q419.8 130.9 381 113.7M507.1 139.5Q540.4 146.7 573.7 150.9M498.3 178.7Q455.7 201 413.1 189.4M485.5 156.5Q528.7 155 571.9 151.9M476.2 147.4Q444 176.8 411.8 193.5M496 174.2Q438.5 153.9 381 113.7M496.4 168.5Q531.9 156.4 567.4 124M456.4 143.6Q513.2 158.8 570 139M464.5 147Q438 137.9 411.6 113.1M492.5 182.8Q453.2 196.6 413.9 193.2M477.3 143.6Q522.4 146.6 567.4 118.9M497.1 182.1Q455.3 187.5 413.5 168.8M512.3 139.5Q470.4 152.7 428.5 160.4M472.2 142.4Q436.6 150.3 400.9 136.1M456.4 143.6Q434.6 139.5 412.8 117M500.6 175.3Q535.4 155.7 570.1 117.6M506.5 156.5Q538.2 153.5 569.9 119.1M498.3 178.7Q538.3 170.2 578.4 129.4M453.6 138.4Q438.3 164.5 422.9 181M519.3 130.6Q464.4 167 409.4 192.9M480.8 153.8Q423.6 134.9 366.4 109.4M501.8 148.8Q457.3 133.8 412.8 117M466.8 142Q524.6 136.9 582.4 126.7M458.7 140.6Q509.3 145.6 559.9 139.8M485.5 156.5Q528.6 154.9 571.7 125.2M523.9 169.7Q467.5 187 411 195.6M485.5 156.5Q533.6 149.1 581.8 128.8M476.2 147.4Q521.3 162.1 566.4 154.2M472.2 142.4Q445.1 167.9 418.1 188.6M482 149.2Q435.1 141.6 388.3 120.8M476.2 147.4Q454.8 163.8 433.4 165M489 171.9Q534.7 158.8 580.4 116.4M485.5 156.5Q438.7 139.9 392 105.7M470.3 148.1Q525.7 158.7 581 154.8M507.1 145.4Q442.9 137.7 378.7 97.1M492.5 182.8Q531 172.8 569.5 120.1M523.9 169.7Q468.1 190.9 412.3 196.2M490.1 182.8Q453.7 174.8 417.3 155.8M492.5 182.8Q457.8 188.7 423.1 165.1M514.6 168.5Q544.4 159.7 574.2 140.9" stroke="#f8bd98" stroke-width="0.5" stroke-opacity="0.1"/>
<path d="M500.6 175.3Q499.5 177.6 498.3 178.7M477.3 143.6Q489 151.1 500.6 175.3M477.3 143.6Q489 150.6 500.6 175.3M472.2 142.4Q469.5 142.9 466.8 142M485.5 156.5Q489 166.1 492.5 182.8M512.3 139.5Q504.7 166.8 497.1 182.1M453.6 138.4Q484.1 164.9 514.6 168.5M494.8 182.8Q501 157.2 507.1 139.5M498.3 166.3Q482.6 160 466.8 142M485.5 156.5Q483.7 153.1 482 149.2M485.5 156.5Q491.3 168 497.1 182.1M476.2 147.4Q494.2 149.8 512.3 139.5M496.4 168.5Q484.3 153.2 472.2 142.4M494.8 182.8Q497.7 177.3 500.6 175.3M498.3 178.7Q477.3 164.1 456.4 143.6M492.5 182.8Q502.4 168.3 512.3 139.5M497.1 182.1Q493.1 178.9 489 171.9M521.6 170.1Q511.7 156.6 501.8 139M490.1 182.8Q493.6 183.7 497.1 182.1M477.3 143.6Q494.8 138.1 512.3 139.5M470.3 148.1Q471.3 146.1 472.2 142.4M499.5 168.5Q482 163.9 464.5 147M470.3 148.1Q489 160.4 507.6 158.3M498.3 178.7Q487.8 152.7 477.3 143.6M507.1 145.4Q509.7 142.5 512.3 139.5M507.1 145.4Q504.5 143.8 501.8 139M512.3 139.5Q506.5 153.7 500.6 175.3M470.3 148.1Q488.7 139.2 507.1 145.4M501.8 139Q504.5 140.2 507.1 139.5M483.2 151.5Q489 159 494.8 182.8M458.7 140.6Q475.6 168.8 492.5 182.8M496 174.2Q477.3 147.3 458.7 140.6M458.7 140.6Q480.2 148 501.8 139M523.9 169.7Q515.2 165.2 506.5 156.5M521.6 170.1Q514 158.4 506.5 156.5M500.6 175.3Q488.4 160.4 476.2 147.4M480.8 153.8Q469.8 143.2 458.7 140.6M496.4 168.5Q496.2 171.3 496 174.2M507.6 158.3Q501.2 168.9 494.8 182.8M519.3 130.6Q500 137 480.8 153.8M458.7 140.6Q473.8 162.1 489 171.9M496.4 168.5Q494.5 177.5 492.5 182.8M456.4 143.6Q490.1 164.3 523.9 169.7M492.5 182.8Q494.8 182.4 497.1 182.1M482 149.2Q469.2 141.3 456.4 143.6M483.2 151.5Q491.3 162.8 499.5 168.5M483.2 151.5Q501.2 138.1 519.3 130.6M507.1 145.4Q492.2 148.9 477.3 143.6M492.5 182.8Q499.8 154.7 507.1 145.4M498.3 166.3Q500 155.4 501.8 148.8M489 171.9Q498.1 155.9 507.1 145.4M501.8 148.8Q500 170.1 498.3 178.7M521.6 170.1Q516.9 159.6 512.3 139.5M477.3 143.6Q486.1 161.9 494.8 182.8M485.5 156.5Q493.6 150 501.8 148.8M490.1 182.8Q493.3 175 496.4 168.5M466.8 142Q477.9 159.9 489 171.9M489 171.9Q497.7 167.4 506.5 156.5M482 149.2Q485.5 165 489 171.9M500.6 175.3Q509.9 146.2 519.3 130.6M514.6 168.5Q506.5 176.3 498.3 178.7M489 171.9Q498.3 161.5 507.6 158.3M521.6 170.1Q511.7 156.9 501.8 139M485.5 156.5Q480.8 154.9 476.2 147.4M492.5 182.8Q486.6 174.1 480.8 153.8M456.4 143.6Q455 141 453.6 138.4M523.9 169.7Q500 167.1 476.2 147.4M482 149.2Q485.5 160.9 489 171.9M498.3 166.3Q498.3 166.3 498.3 166.3M501.8 139Q510.5 134.7 519.3 130.6M521.6 156.5Q502.4 146.9 483.2 151.5M492.5 182.8Q489 163.9 485.5 156.5M464.5 147Q482.6 150.2 500.6 175.3M499.5 168.5Q485.8 147 472.2 142.4M514.6 168.5Q519.3 170.1 523.9 169.7M514.6 168.5Q490.7 149.1 466.8 142M453.6 138.4Q480.4 154.5 507.1 145.4M482 149.2Q483.7 154.2 485.5 156.5M521.6 170.1Q505.9 168.5 490.1 182.8M470.3 148.1Q486.1 137.5 501.8 139M497.1 182.1Q501.8 173.3 506.5 156.5M521.6 170.1Q508.8 174.1 496 174.2M496 174.2Q504.1 153.1 512.3 139.5M499.5 168.5Q503.3 162.2 507.1 145.4M477.3 143.6Q479.1 146.1 480.8 153.8M496 174.2Q474.8 165.9 453.6 138.4M490.1 182.8Q491.3 183.2 492.5 182.8M453.6 138.4Q467.8 137.8 482 149.2M472.2 142.4Q474.2 145.7 476.2 147.4M507.6 158.3Q498.9 173.2 490.1 182.8M466.8 142Q461.6 142.8 456.4 143.6M499.5 168.5Q510.5 161.1 521.6 156.5M521.6 170.1Q511.7 162.6 501.8 139M519.3 130.6Q504.1 146.8 489 171.9M496 174.2Q501.8 168.6 507.6 158.3M453.6 138.4Q475.3 151.6 497.1 182.1M506.5 156.5Q482.6 148.8 458.7 140.6M514.6 168.5Q486.6 158.4 458.7 140.6M483.2 151.5Q495.4 155.1 507.6 158.3M490.1 182.8Q487.8 174.5 485.5 156.5M480.8 153.8Q497.7 165.1 514.6 168.5M464.5 147Q489.6 157.3 514.6 168.5M521.6 156.5Q487.6 163.6 453.6 138.4M521.6 170.1Q509 166.3 496.4 168.5M490.1 182.8Q498.9 164.6 507.6 158.3M523.9 169.7Q508.2 169.8 492.5 182.8M489 171.9Q476.7 154.4 464.5 147M523.9 169.7Q522.8 170.4 521.6 170.1M472.2 142.4Q496.9 151.6 521.6 156.5M521.6 156.5Q489 135.7 456.4 143.6M490.1 182.8Q473.3 153.1 456.4 143.6M506.5 156.5Q488.4 152.7 470.3 148.1M490.1 182.8Q496 158 501.8 139M466.8 142Q487.2 154.9 507.6 158.3M498.3 178.7Q498.3 170.2 498.3 166.3M523.9 169.7Q490.1 144.2 456.4 143.6M456.4 143.6Q456.4 143.6 456.4 143.6M498.3 178.7Q497.1 177.1 496 174.2M512.3 139.5Q494.8 142.1 477.3 143.6M501.8 139Q493.6 152.8 485.5 156.5M466.8 142Q482.6 160.8 498.3 166.3M507.6 158.3Q487.2 159.3 466.8 142M519.3 130.6Q507.8 143.9 496.4 168.5M472.2 142.4Q483.5 154.8 494.8 182.8M512.3 139.5Q512.3 139.5 512.3 139.5M496.4 168.5Q504.4 146.9 512.3 139.5M490.1 182.8Q501.2 155.7 512.3 139.5M521.6 170.1Q490.1 146.8 458.7 140.6M476.2 147.4Q467.4 142.8 458.7 140.6M507.1 139.5Q488.7 134.9 470.3 148.1M456.4 143.6Q489 145.1 521.6 156.5M458.7 140.6Q477.9 155 497.1 182.1M485 160.1Q502.1 150.8 519.3 130.6M519.3 130.6Q513.4 146 507.6 158.3M496.4 168.5Q477.6 157.2 458.7 140.6M501.8 148.8Q487 144.9 472.2 142.4M506.5 156.5Q500.6 174.4 494.8 182.8M492.5 182.8Q507 163.4 521.6 156.5M490.1 182.8Q492.5 182.8 494.8 182.8M476.2 147.4Q498.9 162.6 521.6 170.1M482 149.2Q503 168.8 523.9 169.7M514.6 168.5Q503.5 173.5 492.5 182.8M476.2 147.4Q476.2 147.4 476.2 147.4M507.1 139.5Q507.1 141.1 507.1 145.4M496 174.2Q486.6 150 477.3 143.6M483.2 151.5Q490.7 169.9 498.3 178.7M480.8 153.8Q494 145.2 507.1 139.5M470.3 148.1Q480.2 158.8 490.1 182.8M500.6 175.3Q492.8 162.7 485 160.1M482 149.2Q487.2 169.9 492.5 182.8M472.2 142.4Q482.6 129 501.5 115.5M523.9 169.7Q488 138.6 479.1 107.5M470.3 148.1Q512.5 132.3 537.6 116.5M519.3 130.6Q503.1 122.1 496.4 113.6M490.1 182.8Q491 150.3 506.1 117.7M470.3 148.1Q477.4 133.1 482.5 118.1M482 149.2Q516.1 131.6 537.8 114M497.1 182.1Q484.7 151.8 467.9 121.5M485.5 156.5Q490.9 132.8 506.6 109.1M477.3 143.6Q472.4 123.2 483.4 102.8M500.6 175.3Q510.5 125.6 494.4 76M480.8 153.8Q485 141.6 485.5 129.5M492.5 182.8Q532.3 153.5 545.6 124.2M497.1 182.1Q486.6 138.2 497.7 94.3M458.7 140.6Q477.4 132.8 512.3 125.1M456.4 143.6Q465.3 127.2 468.1 110.9M501.8 139Q502.7 120.8 503.3 102.6M521.6 156.5Q514.8 126 499.7 95.4M483.2 151.5Q485 125.5 488.4 99.4M507.1 145.4Q499.2 123 478.4 100.6M497.1 182.1Q485.9 148.3 480.1 114.5M496.4 168.5Q516.6 145 535.4 121.4M492.5 182.8Q500.8 151.5 498.9 120.2M480.8 153.8Q526 140.2 544.4 126.6M464.5 147Q478.8 123.4 489.6 99.9M492.5 182.8Q497.5 142.2 488.8 101.6M507.6 158.3Q492.5 135.7 494.5 113.1M482 149.2Q499.4 130.8 510.5 112.4M470.3 148.1Q482.2 116.9 478.7 85.6M507.1 139.5Q486.3 130.2 476.4 120.9M496 174.2Q521.6 150.9 545.8 127.6M496.4 168.5Q483.4 136.2 485.2 104M482 149.2Q491 131.9 488.6 114.5M464.5 147Q477.5 128.4 487.3 109.9M466.8 142Q495.7 133.9 513.7 125.8M482 149.2Q499.2 137.3 514.9 125.3M480.8 153.8Q467.4 119.7 478.7 85.6M477.3 143.6Q476.6 129.7 474.4 115.9M512.3 139.5Q513 132.6 513.7 125.8M482 149.2Q488.9 136.3 503.2 123.4M497.1 182.1Q472.5 136.3 480.7 90.5M472.2 142.4Q471.9 134.5 470.3 126.6M496 174.2Q481.6 129.4 491 84.6M476.2 147.4Q494.9 127.8 500.9 108.1M480.8 153.8Q495.9 121.9 487.5 89.9M514.6 168.5Q491.8 127.7 480.8 86.9M501.8 139Q511.9 120.7 509.1 102.4M507.1 139.5Q508.9 120.3 508.3 101.1M464.5 147Q483.2 133.6 498.9 120.2M485.5 156.5Q486.5 135.5 488.6 114.5M523.9 169.7Q487.4 135.9 477.2 102.1M458.7 140.6Q468.5 121.1 488.8 101.6M489 171.9Q515.6 145.2 548.2 118.5M521.6 170.1Q508 145 504.7 119.9M489 171.9Q465.6 136.8 470.3 101.6M453.6 138.4Q477.7 104.7 492.1 71.1M507.6 158.3Q500.8 139.5 506 120.7M485.5 156.5Q492 133.2 487.3 109.9M512.3 139.5Q526.2 127.9 534.3 116.3M506.5 156.5Q495.5 116.2 494.4 76M464.5 147Q473.6 134.8 499 122.6M498.3 166.3Q506.4 139.5 541 112.7M521.6 156.5Q509 138.4 480.7 120.3M466.8 142Q482 129.3 503 116.7M456.4 143.6Q477.8 119.2 505.2 94.8M512.3 139.5Q499.4 127.7 488.4 115.9M514.6 168.5Q517.1 131.4 497.7 94.3M485 160.1Q484.5 140.5 477.7 120.9M480.8 153.8Q522.6 141.9 545.5 130M494.8 182.8Q499.9 129 491.4 75.1M483.2 151.5Q489.8 136.6 485.5 121.7M500.6 175.3Q508.3 143.8 495.4 112.4M489 171.9Q532.3 148 549.2 124.1M494.8 182.8Q490.4 150.8 478.5 118.8M501.8 139Q503.9 129.1 506.6 119.1M498.3 178.7Q531.9 150.9 543.2 123M498.3 166.3Q491.7 117.3 492.5 68.3M519.3 130.6Q512.6 121.1 505.4 111.6M483.2 151.5Q482.7 123 485.1 94.6M501.8 148.8Q497.7 134.8 493.2 120.8M482 149.2Q496.4 135.9 499 122.6M501.8 139Q492.2 120.3 488.8 101.6M497.1 182.1Q478.4 128.1 496.5 74.1M507.1 139.5Q530.1 132.8 542.5 126M485.5 156.5Q519.7 145.5 552.7 134.6M456.4 143.6Q464.9 124.9 490.1 106.2M480.8 153.8Q477 131.9 475.4 110M485.5 156.5Q488.3 139.6 499 122.6M507.6 158.3Q488.6 139.6 477.7 120.9M494.8 182.8Q501.6 142.9 507.8 103.1M456.4 143.6Q508.6 131.6 532.1 119.6M501.8 148.8Q489.1 127.3 494 105.8M498.3 166.3Q515.8 118.9 494.9 71.5M466.8 142Q478.2 118.4 474.8 94.7M480.8 153.8Q517.7 138.3 541.7 122.8M506.5 156.5Q496.5 125.2 494 94M482 149.2Q515.6 136.7 545.6 124.2M476.2 147.4Q474 131 480.1 114.5M456.4 143.6Q484.8 119.5 499.7 95.4M466.8 142Q465.7 111.8 453.7 81.6M499.5 168.5Q510.7 133 497.2 97.5M512.3 139.5Q502.4 119.1 481.6 98.6M519.3 130.6Q501.4 124.5 493.7 118.3M507.1 145.4Q484.1 113.3 454 81.2M485 160.1Q502.7 142.2 545.6 124.2M464.5 147Q470.1 117.8 495.3 88.6M476.2 147.4Q490.8 127 508.6 106.5M521.6 156.5Q512.2 124.4 485 92.4M476.2 147.4Q477.7 117.2 480.8 86.9M514.6 168.5Q480.9 138.7 474 108.9" stroke="#e06a55" stroke-width="0.45" stroke-opacity="0.15"/>
<g stroke="#aaa28f" stroke-width="0.3" stroke-opacity="0.55">
<circle cx="424.3" cy="145.3" r="1.42" fill="#fbeeda"/>
<circle cx="417.4" cy="138.4" r="1.42" fill="#fbeeda"/>
<circle cx="395.7" cy="136.5" r="1.42" fill="#fbeeda"/>
<circle cx="389.2" cy="109.6" r="1.42" fill="#fbeeda"/>
<circle cx="390.3" cy="112.5" r="1.42" fill="#fbeeda"/>
<circle cx="391" cy="136.7" r="1.42" fill="#fbeeda"/>
<circle cx="398.3" cy="111.7" r="1.42" fill="#fbeeda"/>
<circle cx="373.3" cy="108.7" r="1.42" fill="#fbeeda"/>
<circle cx="372.6" cy="111.1" r="1.42" fill="#fbeeda"/>
<circle cx="372.3" cy="107" r="1.42" fill="#fbeeda"/>
<circle cx="404.1" cy="126.1" r="1.42" fill="#fbeeda"/>
<circle cx="381.2" cy="113.6" r="1.42" fill="#fbeeda"/>
<circle cx="372.4" cy="110.2" r="1.42" fill="#fbeeda"/>
<circle cx="382.2" cy="122" r="1.42" fill="#fbeeda"/>
<circle cx="397" cy="127.1" r="1.42" fill="#fbeeda"/>
<circle cx="366.5" cy="101.7" r="1.42" fill="#fbeeda"/>
<circle cx="383.2" cy="106.8" r="1.42" fill="#fbeeda"/>
<circle cx="422.5" cy="141.3" r="1.42" fill="#fbeeda"/>
<circle cx="383.1" cy="111" r="1.42" fill="#fbeeda"/>
<circle cx="384.9" cy="113.6" r="1.42" fill="#fbeeda"/>
<circle cx="375.6" cy="100.7" r="1.42" fill="#fbeeda"/>
<circle cx="369" cy="104.6" r="1.42" fill="#fbeeda"/>
<circle cx="384.7" cy="123.7" r="1.42" fill="#fbeeda"/>
<circle cx="399.3" cy="112.1" r="1.42" fill="#fbeeda"/>
<circle cx="369.3" cy="105.9" r="1.42" fill="#fbeeda"/>
<circle cx="416.8" cy="109.2" r="1.42" fill="#fbeeda"/>
<circle cx="401.5" cy="134.1" r="1.42" fill="#fbeeda"/>
<circle cx="372.3" cy="121.1" r="1.42" fill="#fbeeda"/>
<circle cx="392" cy="120.9" r="1.42" fill="#fbeeda"/>
<circle cx="398.3" cy="118.9" r="1.42" fill="#fbeeda"/>
<circle cx="401.5" cy="112.4" r="1.42" fill="#fbeeda"/>
<circle cx="401.8" cy="114.4" r="1.42" fill="#fbeeda"/>
<circle cx="387.6" cy="110.6" r="1.42" fill="#fbeeda"/>
<circle cx="389.2" cy="122.4" r="1.42" fill="#fbeeda"/>
<circle cx="377.8" cy="120" r="1.42" fill="#fbeeda"/>
<circle cx="402.7" cy="121.7" r="1.42" fill="#fbeeda"/>
<circle cx="407.8" cy="120.8" r="1.42" fill="#fbeeda"/>
<circle cx="408" cy="109.6" r="1.42" fill="#fbeeda"/>
<circle cx="394" cy="133" r="1.42" fill="#fbeeda"/>
<circle cx="396.9" cy="129.2" r="1.42" fill="#fbeeda"/>
<circle cx="368.3" cy="113.5" r="1.42" fill="#fbeeda"/>
<circle cx="389" cy="118.6" r="1.42" fill="#fbeeda"/>
<circle cx="366.9" cy="103.2" r="1.42" fill="#fbeeda"/>
<circle cx="372.3" cy="117.8" r="1.42" fill="#fbeeda"/>
<circle cx="378.3" cy="114.4" r="1.42" fill="#fbeeda"/>
<circle cx="390.4" cy="126.2" r="1.42" fill="#fbeeda"/>
<circle cx="408.7" cy="138.8" r="1.42" fill="#fbeeda"/>
<circle cx="404.4" cy="112" r="1.42" fill="#fbeeda"/>
<circle cx="398.4" cy="132.1" r="1.42" fill="#fbeeda"/>
<circle cx="370.7" cy="113.5" r="1.42" fill="#fbeeda"/>
<circle cx="409.7" cy="110.5" r="1.42" fill="#fbeeda"/>
<circle cx="390.9" cy="123.1" r="1.42" fill="#fbeeda"/>
<circle cx="389.4" cy="126.8" r="1.42" fill="#fbeeda"/>
<circle cx="409" cy="141.2" r="1.42" fill="#fbeeda"/>
<circle cx="400.9" cy="138.4" r="1.42" fill="#fbeeda"/>
<circle cx="407.9" cy="142" r="1.42" fill="#fbeeda"/>
<circle cx="405.7" cy="119.8" r="1.42" fill="#fbeeda"/>
<circle cx="384" cy="129.2" r="1.42" fill="#fbeeda"/>
<circle cx="399.8" cy="114.6" r="1.42" fill="#fbeeda"/>
<circle cx="398.7" cy="117.2" r="1.42" fill="#fbeeda"/>
<circle cx="391.5" cy="120.1" r="1.42" fill="#fbeeda"/>
<circle cx="371.2" cy="104.4" r="1.42" fill="#fbeeda"/>
<circle cx="389.8" cy="121.3" r="1.42" fill="#fbeeda"/>
<circle cx="390.4" cy="107.2" r="1.42" fill="#fbeeda"/>
<circle cx="397.5" cy="112.6" r="1.42" fill="#fbeeda"/>
<circle cx="394.6" cy="104.7" r="1.42" fill="#fbeeda"/>
<circle cx="378.4" cy="118.5" r="1.42" fill="#fbeeda"/>
<circle cx="380.3" cy="98.9" r="1.42" fill="#fbeeda"/>
<circle cx="391.1" cy="125" r="1.42" fill="#fbeeda"/>
<circle cx="403.1" cy="110.9" r="1.42" fill="#fbeeda"/>
<circle cx="375.1" cy="118.7" r="1.42" fill="#fbeeda"/>
<circle cx="392.6" cy="124.5" r="1.42" fill="#fbeeda"/>
<circle cx="402.5" cy="115.1" r="1.42" fill="#fbeeda"/>
<circle cx="414.3" cy="135" r="1.42" fill="#fbeeda"/>
<circle cx="387.5" cy="124" r="1.42" fill="#fbeeda"/>
<circle cx="393.2" cy="123.5" r="1.42" fill="#fbeeda"/>
<circle cx="391.7" cy="136.2" r="1.42" fill="#fbeeda"/>
<circle cx="378.1" cy="117" r="1.42" fill="#fbeeda"/>
<circle cx="397.9" cy="125" r="1.42" fill="#fbeeda"/>
<circle cx="375.6" cy="123" r="1.42" fill="#fbeeda"/>
<circle cx="421.3" cy="141.4" r="1.42" fill="#fbeeda"/>
<circle cx="409.1" cy="116.2" r="1.42" fill="#fbeeda"/>
<circle cx="367.5" cy="108.8" r="1.42" fill="#fbeeda"/>
<circle cx="374.2" cy="114.4" r="1.42" fill="#fbeeda"/>
<circle cx="395.2" cy="122.7" r="1.42" fill="#fbeeda"/>
<circle cx="367.2" cy="104.1" r="1.42" fill="#fbeeda"/>
<circle cx="370.2" cy="105" r="1.42" fill="#fbeeda"/>
<circle cx="416.2" cy="114.3" r="1.42" fill="#fbeeda"/>
<circle cx="389" cy="103.7" r="1.42" fill="#fbeeda"/>
<circle cx="394.2" cy="119.8" r="1.42" fill="#fbeeda"/>
<circle cx="420.6" cy="145.6" r="1.42" fill="#fbeeda"/>
<circle cx="385.9" cy="114.9" r="1.42" fill="#fbeeda"/>
<circle cx="391.6" cy="109.1" r="1.42" fill="#fbeeda"/>
<circle cx="368.1" cy="105.1" r="1.42" fill="#fbeeda"/>
<circle cx="380.9" cy="111.3" r="1.42" fill="#fbeeda"/>
<circle cx="408.6" cy="136.5" r="1.42" fill="#fbeeda"/>
<circle cx="420.1" cy="141.8" r="1.42" fill="#fbeeda"/>
<circle cx="407.4" cy="112.7" r="1.42" fill="#fbeeda"/>
<circle cx="404" cy="133.7" r="1.42" fill="#fbeeda"/>
<circle cx="389.5" cy="136.6" r="1.42" fill="#fbeeda"/>
<circle cx="372.3" cy="105.6" r="1.42" fill="#fbeeda"/>
<circle cx="410.7" cy="135.9" r="1.42" fill="#fbeeda"/>
<circle cx="411.6" cy="136.5" r="1.42" fill="#fbeeda"/>
<circle cx="389.1" cy="107.7" r="1.42" fill="#fbeeda"/>
<circle cx="387.6" cy="108" r="1.42" fill="#fbeeda"/>
<circle cx="404.2" cy="125.3" r="1.42" fill="#fbeeda"/>
<circle cx="414.2" cy="109.8" r="1.42" fill="#fbeeda"/>
<circle cx="381.7" cy="123.4" r="1.42" fill="#fbeeda"/>
<circle cx="422.9" cy="147.5" r="1.42" fill="#fbeeda"/>
<circle cx="395.8" cy="131.5" r="1.42" fill="#fbeeda"/>
<circle cx="395.5" cy="124.8" r="1.42" fill="#fbeeda"/>
<circle cx="372.8" cy="101.8" r="1.42" fill="#fbeeda"/>
<circle cx="405.2" cy="130.2" r="1.42" fill="#fbeeda"/>
<circle cx="365.8" cy="108" r="1.42" fill="#fbeeda"/>
<circle cx="391.5" cy="134" r="1.42" fill="#fbeeda"/>
<circle cx="373.4" cy="122.1" r="1.42" fill="#fbeeda"/>
<circle cx="392.6" cy="105.3" r="1.42" fill="#fbeeda"/>
<circle cx="393" cy="138" r="1.42" fill="#fbeeda"/>
<circle cx="402" cy="123.6" r="1.42" fill="#fbeeda"/>
<circle cx="388.7" cy="113.6" r="1.42" fill="#fbeeda"/>
<circle cx="398.1" cy="128.7" r="1.42" fill="#fbeeda"/>
<circle cx="383" cy="121" r="1.42" fill="#fbeeda"/>
<circle cx="418.4" cy="141.7" r="1.42" fill="#fbeeda"/>
<circle cx="394.5" cy="134.3" r="1.42" fill="#fbeeda"/>
<circle cx="392.5" cy="106.3" r="1.42" fill="#fbeeda"/>
<circle cx="367.6" cy="106.4" r="1.42" fill="#fbeeda"/>
<circle cx="378.3" cy="110.3" r="1.42" fill="#fbeeda"/>
<circle cx="392.5" cy="133.6" r="1.42" fill="#fbeeda"/>
<circle cx="387.3" cy="118.6" r="1.42" fill="#fbeeda"/>
<circle cx="399.4" cy="139.6" r="1.42" fill="#fbeeda"/>
<circle cx="384.6" cy="108.2" r="1.42" fill="#fbeeda"/>
<circle cx="370" cy="107.9" r="1.42" fill="#fbeeda"/>
<circle cx="413.1" cy="110.5" r="1.42" fill="#fbeeda"/>
<circle cx="402.2" cy="111.7" r="1.42" fill="#fbeeda"/>
<circle cx="387" cy="111.6" r="1.42" fill="#fbeeda"/>
<circle cx="366.5" cy="106.9" r="1.42" fill="#fbeeda"/>
<circle cx="375.8" cy="99.3" r="1.42" fill="#fbeeda"/>
<circle cx="386.7" cy="104" r="1.42" fill="#fbeeda"/>
<circle cx="407.5" cy="139.3" r="1.42" fill="#fbeeda"/>
<circle cx="393.2" cy="131.9" r="1.42" fill="#fbeeda"/>
<circle cx="394.1" cy="115.9" r="1.42" fill="#fbeeda"/>
<circle cx="378.5" cy="98.2" r="1.42" fill="#fbeeda"/>
<circle cx="368.8" cy="106.5" r="1.42" fill="#fbeeda"/>
<circle cx="409.7" cy="116.9" r="1.42" fill="#fbeeda"/>
<circle cx="396.9" cy="137.8" r="1.42" fill="#fbeeda"/>
<circle cx="391.5" cy="125.6" r="1.42" fill="#fbeeda"/>
<circle cx="382.7" cy="103.9" r="1.42" fill="#fbeeda"/>
<circle cx="390.6" cy="113.2" r="1.42" fill="#fbeeda"/>
<circle cx="393.4" cy="129.6" r="1.42" fill="#fbeeda"/>
<circle cx="382.4" cy="110.1" r="1.42" fill="#fbeeda"/>
<circle cx="414.3" cy="193.7" r="1.42" fill="#fbeeda"/>
<circle cx="430.5" cy="166.5" r="1.42" fill="#fbeeda"/>
<circle cx="415.5" cy="165.4" r="1.42" fill="#fbeeda"/>
<circle cx="415" cy="158.5" r="1.42" fill="#fbeeda"/>
<circle cx="413.9" cy="157.9" r="1.42" fill="#fbeeda"/>
<circle cx="413.1" cy="152.6" r="1.42" fill="#fbeeda"/>
<circle cx="419.9" cy="172.2" r="1.42" fill="#fbeeda"/>
<circle cx="410.9" cy="184.5" r="1.42" fill="#fbeeda"/>
<circle cx="416.7" cy="166.1" r="1.42" fill="#fbeeda"/>
<circle cx="413.6" cy="172.1" r="1.42" fill="#fbeeda"/>
<circle cx="424.6" cy="166.2" r="1.42" fill="#fbeeda"/>
<circle cx="425.8" cy="169.5" r="1.42" fill="#fbeeda"/>
<circle cx="410.7" cy="194.7" r="1.42" fill="#fbeeda"/>
<circle cx="418.2" cy="189.3" r="1.42" fill="#fbeeda"/>
<circle cx="437.3" cy="158.6" r="1.42" fill="#fbeeda"/>
<circle cx="405.8" cy="160.9" r="1.42" fill="#fbeeda"/>
<circle cx="409.1" cy="159.8" r="1.42" fill="#fbeeda"/>
<circle cx="411.8" cy="197.2" r="1.42" fill="#fbeeda"/>
<circle cx="413.3" cy="192" r="1.42" fill="#fbeeda"/>
<circle cx="415.2" cy="166.3" r="1.42" fill="#fbeeda"/>
<circle cx="409.5" cy="191.2" r="1.42" fill="#fbeeda"/>
<circle cx="410.3" cy="186.8" r="1.42" fill="#fbeeda"/>
<circle cx="411.5" cy="196.1" r="1.42" fill="#fbeeda"/>
<circle cx="408.7" cy="163.2" r="1.42" fill="#fbeeda"/>
<circle cx="425.9" cy="157.7" r="1.42" fill="#fbeeda"/>
<circle cx="415.9" cy="167.6" r="1.42" fill="#fbeeda"/>
<circle cx="415.6" cy="146.6" r="1.42" fill="#fbeeda"/>
<circle cx="410.7" cy="192.8" r="1.42" fill="#fbeeda"/>
<circle cx="415.2" cy="185" r="1.42" fill="#fbeeda"/>
<circle cx="421.5" cy="151.8" r="1.42" fill="#fbeeda"/>
<circle cx="418.4" cy="163.1" r="1.42" fill="#fbeeda"/>
<circle cx="435.6" cy="156.1" r="1.42" fill="#fbeeda"/>
<circle cx="417.4" cy="157.1" r="1.42" fill="#fbeeda"/>
<circle cx="406.9" cy="162.4" r="1.42" fill="#fbeeda"/>
<circle cx="433.7" cy="174.5" r="1.42" fill="#fbeeda"/>
<circle cx="436.3" cy="159.3" r="1.42" fill="#fbeeda"/>
<circle cx="414.2" cy="166.5" r="1.42" fill="#fbeeda"/>
<circle cx="424.4" cy="155.5" r="1.42" fill="#fbeeda"/>
<circle cx="427.2" cy="156.3" r="1.42" fill="#fbeeda"/>
<circle cx="415.1" cy="169.7" r="1.42" fill="#fbeeda"/>
<circle cx="414.1" cy="151.5" r="1.42" fill="#fbeeda"/>
<circle cx="438.3" cy="155.1" r="1.42" fill="#fbeeda"/>
<circle cx="411" cy="185.5" r="1.42" fill="#fbeeda"/>
<circle cx="413.6" cy="149.9" r="1.42" fill="#fbeeda"/>
<circle cx="419.1" cy="182.2" r="1.42" fill="#fbeeda"/>
<circle cx="414.3" cy="177.9" r="1.42" fill="#fbeeda"/>
<circle cx="429.6" cy="176.8" r="1.42" fill="#fbeeda"/>
<circle cx="426.3" cy="181" r="1.42" fill="#fbeeda"/>
<circle cx="417.8" cy="190.6" r="1.42" fill="#fbeeda"/>
<circle cx="411.7" cy="186.7" r="1.42" fill="#fbeeda"/>
<circle cx="441.9" cy="157.1" r="1.42" fill="#fbeeda"/>
<circle cx="412.7" cy="170.1" r="1.42" fill="#fbeeda"/>
<circle cx="417.3" cy="188.7" r="1.42" fill="#fbeeda"/>
<circle cx="439.4" cy="168.3" r="1.42" fill="#fbeeda"/>
<circle cx="414.3" cy="195.3" r="1.42" fill="#fbeeda"/>
<circle cx="424.3" cy="180.3" r="1.42" fill="#fbeeda"/>
<circle cx="420.6" cy="149.4" r="1.42" fill="#fbeeda"/>
<circle cx="433.8" cy="173.4" r="1.42" fill="#fbeeda"/>
<circle cx="412.5" cy="150.4" r="1.42" fill="#fbeeda"/>
<circle cx="415.4" cy="182.4" r="1.42" fill="#fbeeda"/>
<circle cx="507.4" cy="96.3" r="1.42" fill="#fbeeda"/>
<circle cx="491.9" cy="85.3" r="1.42" fill="#fbeeda"/>
<circle cx="480.4" cy="95.9" r="1.42" fill="#fbeeda"/>
<circle cx="518" cy="109.7" r="1.42" fill="#fbeeda"/>
<circle cx="462.9" cy="118.9" r="1.42" fill="#fbeeda"/>
<circle cx="489.2" cy="118.9" r="1.42" fill="#fbeeda"/>
<circle cx="493.7" cy="81.1" r="1.42" fill="#fbeeda"/>
<circle cx="519" cy="102.9" r="1.42" fill="#fbeeda"/>
<circle cx="493.9" cy="105.7" r="1.42" fill="#fbeeda"/>
<circle cx="470" cy="112.1" r="1.42" fill="#fbeeda"/>
<circle cx="490.6" cy="92.6" r="1.42" fill="#fbeeda"/>
<circle cx="508.8" cy="128.2" r="1.42" fill="#fbeeda"/>
<circle cx="479.3" cy="88.2" r="1.42" fill="#fbeeda"/>
<circle cx="459.4" cy="122.6" r="1.42" fill="#fbeeda"/>
<circle cx="503.3" cy="100.6" r="1.42" fill="#fbeeda"/>
<circle cx="479.7" cy="103.7" r="1.42" fill="#fbeeda"/>
<circle cx="478.9" cy="112.4" r="1.42" fill="#fbeeda"/>
<circle cx="473.1" cy="94.2" r="1.42" fill="#fbeeda"/>
<circle cx="472.2" cy="99.9" r="1.42" fill="#fbeeda"/>
<circle cx="496.5" cy="103.6" r="1.42" fill="#fbeeda"/>
<circle cx="503" cy="120.4" r="1.42" fill="#fbeeda"/>
<circle cx="495.2" cy="70.9" r="1.42" fill="#fbeeda"/>
<circle cx="486.6" cy="78.5" r="1.42" fill="#fbeeda"/>
<circle cx="493.3" cy="113.8" r="1.42" fill="#fbeeda"/>
<circle cx="504.6" cy="124.1" r="1.42" fill="#fbeeda"/>
<circle cx="502.8" cy="95.1" r="1.42" fill="#fbeeda"/>
<circle cx="470.8" cy="118" r="1.42" fill="#fbeeda"/>
<circle cx="484.5" cy="88.3" r="1.42" fill="#fbeeda"/>
<circle cx="479.8" cy="102.3" r="1.42" fill="#fbeeda"/>
<circle cx="464.6" cy="124.7" r="1.42" fill="#fbeeda"/>
<circle cx="471.1" cy="119.8" r="1.42" fill="#fbeeda"/>
<circle cx="491.4" cy="82.6" r="1.42" fill="#fbeeda"/>
<circle cx="489.8" cy="96.2" r="1.42" fill="#fbeeda"/>
<circle cx="471.9" cy="96.8" r="1.42" fill="#fbeeda"/>
<circle cx="478.7" cy="102.4" r="1.42" fill="#fbeeda"/>
<circle cx="476.5" cy="117" r="1.42" fill="#fbeeda"/>
<circle cx="484.7" cy="97.5" r="1.42" fill="#fbeeda"/>
<circle cx="484.5" cy="101.1" r="1.42" fill="#fbeeda"/>
<circle cx="480" cy="97.8" r="1.42" fill="#fbeeda"/>
<circle cx="466.8" cy="114.2" r="1.42" fill="#fbeeda"/>
<circle cx="476.9" cy="103.7" r="1.42" fill="#fbeeda"/>
<circle cx="501.1" cy="107.3" r="1.42" fill="#fbeeda"/>
<circle cx="483.9" cy="108.8" r="1.42" fill="#fbeeda"/>
<circle cx="466.9" cy="116.4" r="1.42" fill="#fbeeda"/>
<circle cx="488.4" cy="80.8" r="1.42" fill="#fbeeda"/>
<circle cx="468" cy="115.2" r="1.42" fill="#fbeeda"/>
<circle cx="508.3" cy="95.6" r="1.42" fill="#fbeeda"/>
<circle cx="474.3" cy="95.5" r="1.42" fill="#fbeeda"/>
<circle cx="490.2" cy="91.3" r="1.42" fill="#fbeeda"/>
<circle cx="492.5" cy="89.5" r="1.42" fill="#fbeeda"/>
<circle cx="507.1" cy="124.9" r="1.42" fill="#fbeeda"/>
<circle cx="503.1" cy="103.4" r="1.42" fill="#fbeeda"/>
<circle cx="501.9" cy="116" r="1.42" fill="#fbeeda"/>
<circle cx="472.7" cy="106.2" r="1.42" fill="#fbeeda"/>
<circle cx="490.8" cy="112.5" r="1.42" fill="#fbeeda"/>
<circle cx="484.1" cy="90.8" r="1.42" fill="#fbeeda"/>
<circle cx="475.6" cy="89.8" r="1.42" fill="#fbeeda"/>
<circle cx="494.5" cy="118" r="1.42" fill="#fbeeda"/>
<circle cx="496.1" cy="105.8" r="1.42" fill="#fbeeda"/>
<circle cx="486.8" cy="111" r="1.42" fill="#fbeeda"/>
<circle cx="485" cy="86.8" r="1.42" fill="#fbeeda"/>
<circle cx="480.1" cy="100.1" r="1.42" fill="#fbeeda"/>
<circle cx="492.9" cy="80" r="1.42" fill="#fbeeda"/>
<circle cx="470.5" cy="121.9" r="1.42" fill="#fbeeda"/>
<circle cx="493.1" cy="95.4" r="1.42" fill="#fbeeda"/>
<circle cx="489.3" cy="85.1" r="1.42" fill="#fbeeda"/>
<circle cx="509.9" cy="99" r="1.42" fill="#fbeeda"/>
<circle cx="465.7" cy="110.9" r="1.42" fill="#fbeeda"/>
<circle cx="483.6" cy="99.5" r="1.42" fill="#fbeeda"/>
<circle cx="500" cy="96.4" r="1.42" fill="#fbeeda"/>
<circle cx="476.4" cy="116.1" r="1.42" fill="#fbeeda"/>
<circle cx="475.8" cy="91.8" r="1.42" fill="#fbeeda"/>
<circle cx="475.7" cy="95.5" r="1.42" fill="#fbeeda"/>
<circle cx="488.6" cy="119.8" r="1.42" fill="#fbeeda"/>
<circle cx="473.5" cy="120.7" r="1.42" fill="#fbeeda"/>
<circle cx="485.5" cy="104" r="1.42" fill="#fbeeda"/>
<circle cx="493.3" cy="93.9" r="1.42" fill="#fbeeda"/>
<circle cx="513.7" cy="111.6" r="1.42" fill="#fbeeda"/>
<circle cx="473.9" cy="111.6" r="1.42" fill="#fbeeda"/>
<circle cx="473.8" cy="101" r="1.42" fill="#fbeeda"/>
<circle cx="476.7" cy="88.7" r="1.42" fill="#fbeeda"/>
<circle cx="498.4" cy="89.7" r="1.42" fill="#fbeeda"/>
<circle cx="492.7" cy="93" r="1.42" fill="#fbeeda"/>
<circle cx="503.3" cy="116.2" r="1.42" fill="#fbeeda"/>
<circle cx="502.2" cy="119.8" r="1.42" fill="#fbeeda"/>
<circle cx="494.2" cy="91.8" r="1.42" fill="#fbeeda"/>
<circle cx="488.1" cy="75.3" r="1.42" fill="#fbeeda"/>
<circle cx="487.7" cy="88.2" r="1.42" fill="#fbeeda"/>
<circle cx="485.8" cy="102.5" r="1.42" fill="#fbeeda"/>
<circle cx="491.4" cy="73.7" r="1.42" fill="#fbeeda"/>
<circle cx="480.2" cy="94.1" r="1.42" fill="#fbeeda"/>
<circle cx="491.6" cy="87.9" r="1.42" fill="#fbeeda"/>
<circle cx="513.7" cy="105.4" r="1.42" fill="#fbeeda"/>
<circle cx="461.9" cy="120.7" r="1.42" fill="#fbeeda"/>
<circle cx="508.1" cy="101.9" r="1.42" fill="#fbeeda"/>
<circle cx="490.8" cy="113.5" r="1.42" fill="#fbeeda"/>
<circle cx="499.1" cy="112.8" r="1.42" fill="#fbeeda"/>
<circle cx="508.1" cy="101" r="1.42" fill="#fbeeda"/>
<circle cx="477.1" cy="91.5" r="1.42" fill="#fbeeda"/>
<circle cx="485.9" cy="108.8" r="1.42" fill="#fbeeda"/>
<circle cx="483" cy="98" r="1.42" fill="#fbeeda"/>
<circle cx="485.4" cy="92.2" r="1.42" fill="#fbeeda"/>
<circle cx="481.6" cy="88.2" r="1.42" fill="#fbeeda"/>
<circle cx="485.6" cy="107" r="1.42" fill="#fbeeda"/>
<circle cx="463.7" cy="115.6" r="1.42" fill="#fbeeda"/>
<circle cx="492.6" cy="120.5" r="1.42" fill="#fbeeda"/>
<circle cx="508.9" cy="109.6" r="1.42" fill="#fbeeda"/>
<circle cx="512.2" cy="125.3" r="1.42" fill="#fbeeda"/>
<circle cx="512.1" cy="102.8" r="1.42" fill="#fbeeda"/>
<circle cx="492.6" cy="117.9" r="1.42" fill="#fbeeda"/>
<circle cx="517.3" cy="106.1" r="1.42" fill="#fbeeda"/>
<circle cx="489.2" cy="93.9" r="1.42" fill="#fbeeda"/>
<circle cx="486.8" cy="88.8" r="1.42" fill="#fbeeda"/>
<circle cx="477.5" cy="104.5" r="1.42" fill="#fbeeda"/>
<circle cx="493.1" cy="92" r="1.42" fill="#fbeeda"/>
<circle cx="465.3" cy="120.5" r="1.42" fill="#fbeeda"/>
<circle cx="513.1" cy="119.4" r="1.42" fill="#fbeeda"/>
<circle cx="504" cy="98.9" r="1.42" fill="#fbeeda"/>
<circle cx="467.9" cy="119.8" r="1.42" fill="#fbeeda"/>
<circle cx="476.2" cy="99.9" r="1.42" fill="#fbeeda"/>
<circle cx="466.8" cy="110.7" r="1.42" fill="#fbeeda"/>
<circle cx="516.2" cy="107.1" r="1.42" fill="#fbeeda"/>
<circle cx="486" cy="75.3" r="1.42" fill="#fbeeda"/>
<circle cx="483.4" cy="114.6" r="1.42" fill="#fbeeda"/>
<circle cx="512.5" cy="113.8" r="1.42" fill="#fbeeda"/>
<circle cx="483.1" cy="93.6" r="1.42" fill="#fbeeda"/>
<circle cx="489.8" cy="92.1" r="1.42" fill="#fbeeda"/>
<circle cx="486.9" cy="94.4" r="1.42" fill="#fbeeda"/>
<circle cx="507.1" cy="126.7" r="1.42" fill="#fbeeda"/>
<circle cx="464.8" cy="111.3" r="1.42" fill="#fbeeda"/>
<circle cx="500.6" cy="93.1" r="1.42" fill="#fbeeda"/>
<circle cx="495.7" cy="89.2" r="1.42" fill="#fbeeda"/>
<circle cx="474.1" cy="102.3" r="1.42" fill="#fbeeda"/>
<circle cx="493.5" cy="101.3" r="1.42" fill="#fbeeda"/>
<circle cx="489" cy="92.1" r="1.42" fill="#fbeeda"/>
<circle cx="465" cy="112.7" r="1.42" fill="#fbeeda"/>
<circle cx="485.1" cy="105.7" r="1.42" fill="#fbeeda"/>
<circle cx="515" cy="102.4" r="1.42" fill="#fbeeda"/>
<circle cx="480.1" cy="91.1" r="1.42" fill="#fbeeda"/>
<circle cx="513.3" cy="101.5" r="1.42" fill="#fbeeda"/>
<circle cx="495.1" cy="93.3" r="1.42" fill="#fbeeda"/>
<circle cx="485" cy="78.8" r="1.42" fill="#fbeeda"/>
<circle cx="494" cy="84.2" r="1.42" fill="#fbeeda"/>
<circle cx="512" cy="105.7" r="1.42" fill="#fbeeda"/>
<circle cx="494.3" cy="69.4" r="1.42" fill="#fbeeda"/>
<circle cx="506.4" cy="117.9" r="1.42" fill="#fbeeda"/>
<circle cx="497" cy="91.1" r="1.42" fill="#fbeeda"/>
<circle cx="484" cy="105.2" r="1.42" fill="#fbeeda"/>
<circle cx="480" cy="99" r="1.42" fill="#fbeeda"/>
<circle cx="463.3" cy="120" r="1.42" fill="#fbeeda"/>
<circle cx="494.5" cy="87" r="1.42" fill="#fbeeda"/>
<circle cx="517.3" cy="108.3" r="1.42" fill="#fbeeda"/>
<circle cx="506" cy="122" r="1.42" fill="#fbeeda"/>
<circle cx="478.4" cy="96.2" r="1.42" fill="#fbeeda"/>
<circle cx="485" cy="93.2" r="1.42" fill="#fbeeda"/>
<circle cx="472.5" cy="110.3" r="1.42" fill="#fbeeda"/>
<circle cx="511.8" cy="118.1" r="1.42" fill="#fbeeda"/>
<circle cx="471.7" cy="115.8" r="1.42" fill="#fbeeda"/>
<circle cx="517.7" cy="103.8" r="1.42" fill="#fbeeda"/>
<circle cx="470.2" cy="100.5" r="1.42" fill="#fbeeda"/>
<circle cx="509.7" cy="110" r="1.42" fill="#fbeeda"/>
<circle cx="480" cy="113" r="1.42" fill="#fbeeda"/>
<circle cx="505.9" cy="111.7" r="1.42" fill="#fbeeda"/>
<circle cx="513.1" cy="104.1" r="1.42" fill="#fbeeda"/>
<circle cx="508" cy="122.4" r="1.42" fill="#fbeeda"/>
<circle cx="510.6" cy="108.4" r="1.42" fill="#fbeeda"/>
<circle cx="511.7" cy="123.8" r="1.42" fill="#fbeeda"/>
<circle cx="486.8" cy="83.5" r="1.42" fill="#fbeeda"/>
<circle cx="500" cy="115.1" r="1.42" fill="#fbeeda"/>
<circle cx="466.4" cy="99" r="1.42" fill="#fbeeda"/>
<circle cx="541.5" cy="126.7" r="1.42" fill="#fbeeda"/>
<circle cx="544.1" cy="141.4" r="1.42" fill="#fbeeda"/>
<circle cx="537.6" cy="128.7" r="1.42" fill="#fbeeda"/>
<circle cx="537" cy="121.8" r="1.42" fill="#fbeeda"/>
<circle cx="544.7" cy="130.8" r="1.42" fill="#fbeeda"/>
<circle cx="542.1" cy="125.4" r="1.42" fill="#fbeeda"/>
<circle cx="537.9" cy="114.9" r="1.42" fill="#fbeeda"/>
<circle cx="538.7" cy="122.3" r="1.42" fill="#fbeeda"/>
<circle cx="544.3" cy="129.2" r="1.42" fill="#fbeeda"/>
<circle cx="534" cy="115.5" r="1.42" fill="#fbeeda"/>
<circle cx="540.4" cy="129.4" r="1.42" fill="#fbeeda"/>
<circle cx="535" cy="126.5" r="1.42" fill="#fbeeda"/>
<circle cx="545.6" cy="137.4" r="1.42" fill="#fbeeda"/>
<circle cx="546.2" cy="121.9" r="1.42" fill="#fbeeda"/>
<circle cx="529.9" cy="118.3" r="1.42" fill="#fbeeda"/>
<circle cx="544.9" cy="113.8" r="1.42" fill="#fbeeda"/>
<circle cx="529.5" cy="116.5" r="1.42" fill="#fbeeda"/>
<circle cx="544.5" cy="125.3" r="1.42" fill="#fbeeda"/>
<circle cx="531.8" cy="117.5" r="1.42" fill="#fbeeda"/>
<circle cx="527.1" cy="121.3" r="1.42" fill="#fbeeda"/>
<circle cx="531" cy="118.2" r="1.42" fill="#fbeeda"/>
<circle cx="555.5" cy="127.8" r="1.42" fill="#fbeeda"/>
<circle cx="545.1" cy="124.2" r="1.42" fill="#fbeeda"/>
<circle cx="540.3" cy="141.4" r="1.42" fill="#fbeeda"/>
<circle cx="541.9" cy="138.5" r="1.42" fill="#fbeeda"/>
<circle cx="545.7" cy="114.5" r="1.42" fill="#fbeeda"/>
<circle cx="548.7" cy="133.8" r="1.42" fill="#fbeeda"/>
<circle cx="550.5" cy="122.6" r="1.42" fill="#fbeeda"/>
<circle cx="540.7" cy="134" r="1.42" fill="#fbeeda"/>
<circle cx="528.5" cy="118.8" r="1.42" fill="#fbeeda"/>
<circle cx="556.2" cy="134.9" r="1.42" fill="#fbeeda"/>
<circle cx="578.6" cy="130.5" r="1.42" fill="#fbeeda"/>
<circle cx="558.8" cy="130.4" r="1.42" fill="#fbeeda"/>
<circle cx="586.4" cy="117.2" r="1.42" fill="#fbeeda"/>
<circle cx="571.5" cy="129.8" r="1.42" fill="#fbeeda"/>
<circle cx="567.3" cy="143" r="1.42" fill="#fbeeda"/>
<circle cx="574.2" cy="133.9" r="1.42" fill="#fbeeda"/>
<circle cx="580.9" cy="128.1" r="1.42" fill="#fbeeda"/>
<circle cx="580.5" cy="126.7" r="1.42" fill="#fbeeda"/>
<circle cx="565.4" cy="123.1" r="1.42" fill="#fbeeda"/>
<circle cx="584.2" cy="127.1" r="1.42" fill="#fbeeda"/>
<circle cx="576" cy="150" r="1.42" fill="#fbeeda"/>
<circle cx="579.8" cy="112.4" r="1.42" fill="#fbeeda"/>
<circle cx="576.3" cy="123.4" r="1.42" fill="#fbeeda"/>
<circle cx="591.2" cy="114" r="1.42" fill="#fbeeda"/>
<circle cx="568.6" cy="151.2" r="1.42" fill="#fbeeda"/>
<circle cx="584.9" cy="121.8" r="1.42" fill="#fbeeda"/>
<circle cx="573.5" cy="154.3" r="1.42" fill="#fbeeda"/>
<circle cx="574.8" cy="143.8" r="1.42" fill="#fbeeda"/>
<circle cx="562.6" cy="135.2" r="1.42" fill="#fbeeda"/>
<circle cx="579.8" cy="141.2" r="1.42" fill="#fbeeda"/>
<circle cx="572.7" cy="140.8" r="1.42" fill="#fbeeda"/>
<circle cx="570.6" cy="138.5" r="1.42" fill="#fbeeda"/>
<circle cx="565.8" cy="136.7" r="1.42" fill="#fbeeda"/>
<circle cx="563.4" cy="128.7" r="1.42" fill="#fbeeda"/>
<circle cx="581.6" cy="130.6" r="1.42" fill="#fbeeda"/>
<circle cx="555" cy="134.3" r="1.42" fill="#fbeeda"/>
<circle cx="564.7" cy="143.4" r="1.42" fill="#fbeeda"/>
<circle cx="566.2" cy="143.9" r="1.42" fill="#fbeeda"/>
<circle cx="579.4" cy="136.9" r="1.42" fill="#fbeeda"/>
<circle cx="564.2" cy="125.7" r="1.42" fill="#fbeeda"/>
<circle cx="584.1" cy="119.1" r="1.42" fill="#fbeeda"/>
<circle cx="578.2" cy="135.2" r="1.42" fill="#fbeeda"/>
<circle cx="574.5" cy="130.9" r="1.42" fill="#fbeeda"/>
<circle cx="567.8" cy="145.4" r="1.42" fill="#fbeeda"/>
<circle cx="576.3" cy="132" r="1.42" fill="#fbeeda"/>
<circle cx="564.7" cy="124.3" r="1.42" fill="#fbeeda"/>
<circle cx="562.8" cy="121.8" r="1.42" fill="#fbeeda"/>
<circle cx="590.3" cy="111.4" r="1.42" fill="#fbeeda"/>
<circle cx="592.7" cy="113.2" r="1.42" fill="#fbeeda"/>
<circle cx="568.6" cy="112.9" r="1.42" fill="#fbeeda"/>
<circle cx="580" cy="155.5" r="1.42" fill="#fbeeda"/>
<circle cx="573.5" cy="128.7" r="1.42" fill="#fbeeda"/>
<circle cx="560.1" cy="122.8" r="1.42" fill="#fbeeda"/>
<circle cx="583" cy="128.8" r="1.42" fill="#fbeeda"/>
<circle cx="568.4" cy="131.6" r="1.42" fill="#fbeeda"/>
<circle cx="573.2" cy="131.6" r="1.42" fill="#fbeeda"/>
<circle cx="570.3" cy="147" r="1.42" fill="#fbeeda"/>
<circle cx="566.6" cy="117.6" r="1.42" fill="#fbeeda"/>
<circle cx="581.2" cy="112.3" r="1.42" fill="#fbeeda"/>
<circle cx="568" cy="125.9" r="1.42" fill="#fbeeda"/>
<circle cx="570.6" cy="122" r="1.42" fill="#fbeeda"/>
<circle cx="582.3" cy="125.4" r="1.42" fill="#fbeeda"/>
<circle cx="570.6" cy="152.6" r="1.42" fill="#fbeeda"/>
<circle cx="556.6" cy="142.9" r="1.42" fill="#fbeeda"/>
<circle cx="590.4" cy="119.5" r="1.42" fill="#fbeeda"/>
<circle cx="592.2" cy="115.9" r="1.42" fill="#fbeeda"/>
<circle cx="596.6" cy="113.7" r="1.42" fill="#fbeeda"/>
<circle cx="578.9" cy="124.8" r="1.42" fill="#fbeeda"/>
<circle cx="568.7" cy="156" r="1.42" fill="#fbeeda"/>
<circle cx="556.6" cy="145.1" r="1.42" fill="#fbeeda"/>
<circle cx="557.7" cy="146" r="1.42" fill="#fbeeda"/>
<circle cx="581.9" cy="113" r="1.42" fill="#fbeeda"/>
<circle cx="576.7" cy="120.8" r="1.42" fill="#fbeeda"/>
<circle cx="577.1" cy="131.3" r="1.42" fill="#fbeeda"/>
<circle cx="566" cy="127.3" r="1.42" fill="#fbeeda"/>
<circle cx="558.4" cy="134.4" r="1.42" fill="#fbeeda"/>
<circle cx="566.2" cy="154.5" r="1.42" fill="#fbeeda"/>
<circle cx="570.9" cy="114.8" r="1.42" fill="#fbeeda"/>
<circle cx="573.1" cy="133.4" r="1.42" fill="#fbeeda"/>
<circle cx="584.2" cy="116.9" r="1.42" fill="#fbeeda"/>
<circle cx="573.8" cy="148.6" r="1.42" fill="#fbeeda"/>
<circle cx="578.6" cy="128.6" r="1.42" fill="#fbeeda"/>
<circle cx="569.3" cy="125.9" r="1.42" fill="#fbeeda"/>
<circle cx="587.6" cy="120" r="1.42" fill="#fbeeda"/>
<circle cx="563.2" cy="138.8" r="1.42" fill="#fbeeda"/>
<circle cx="586.2" cy="112" r="1.42" fill="#fbeeda"/>
<circle cx="592.2" cy="111" r="1.42" fill="#fbeeda"/>
<circle cx="581.8" cy="133.6" r="1.42" fill="#fbeeda"/>
<circle cx="561.3" cy="126.4" r="1.42" fill="#fbeeda"/>
<circle cx="571.3" cy="148.9" r="1.42" fill="#fbeeda"/>
<circle cx="560.6" cy="146.1" r="1.42" fill="#fbeeda"/>
<circle cx="566.7" cy="151.6" r="1.42" fill="#fbeeda"/>
<circle cx="559.1" cy="146.2" r="1.42" fill="#fbeeda"/>
<circle cx="593.4" cy="114.2" r="1.42" fill="#fbeeda"/>
<circle cx="589.4" cy="120.6" r="1.42" fill="#fbeeda"/>
<circle cx="567.5" cy="122.4" r="1.42" fill="#fbeeda"/>
<circle cx="557.5" cy="131.2" r="1.42" fill="#fbeeda"/>
<circle cx="580.1" cy="148.6" r="1.42" fill="#fbeeda"/>
<circle cx="557.6" cy="126.8" r="1.42" fill="#fbeeda"/>
<circle cx="579.3" cy="144.2" r="1.42" fill="#fbeeda"/>
<circle cx="569.7" cy="135.2" r="1.42" fill="#fbeeda"/>
<circle cx="581.6" cy="122.7" r="1.42" fill="#fbeeda"/>
<circle cx="568.3" cy="114.4" r="1.42" fill="#fbeeda"/>
<circle cx="559.2" cy="141.9" r="1.42" fill="#fbeeda"/>
<circle cx="569.1" cy="141.4" r="1.42" fill="#fbeeda"/>
<circle cx="571.6" cy="132.1" r="1.42" fill="#fbeeda"/>
<circle cx="564.2" cy="122.3" r="1.42" fill="#fbeeda"/>
<circle cx="586.5" cy="123.3" r="1.42" fill="#fbeeda"/>
<circle cx="557.9" cy="143.5" r="1.42" fill="#fbeeda"/>
<circle cx="582.5" cy="112.2" r="1.42" fill="#fbeeda"/>
<circle cx="590.9" cy="115.5" r="1.42" fill="#fbeeda"/>
<circle cx="588" cy="115.6" r="1.42" fill="#fbeeda"/>
<circle cx="563.8" cy="133.7" r="1.42" fill="#fbeeda"/>
<circle cx="584.4" cy="115.6" r="1.42" fill="#fbeeda"/>
<circle cx="561.1" cy="141.7" r="1.42" fill="#fbeeda"/>
<circle cx="575.6" cy="113.1" r="1.42" fill="#fbeeda"/>
<circle cx="576.6" cy="156.9" r="1.42" fill="#fbeeda"/>
<circle cx="574.4" cy="127.4" r="1.42" fill="#fbeeda"/>
<circle cx="560.4" cy="134.7" r="1.42" fill="#fbeeda"/>
<circle cx="556.6" cy="125.5" r="1.42" fill="#fbeeda"/>
<circle cx="582.4" cy="131.2" r="1.42" fill="#fbeeda"/>
<circle cx="593" cy="115.1" r="1.42" fill="#fbeeda"/>
<circle cx="566.4" cy="139.2" r="1.42" fill="#fbeeda"/>
<circle cx="573.4" cy="114.9" r="1.42" fill="#fbeeda"/>
<circle cx="596" cy="115.2" r="1.42" fill="#fbeeda"/>
<circle cx="572.4" cy="144.2" r="1.42" fill="#fbeeda"/>
<circle cx="569.7" cy="127.7" r="1.42" fill="#fbeeda"/>
<circle cx="585.9" cy="119.1" r="1.42" fill="#fbeeda"/>
<circle cx="570.9" cy="140.9" r="1.42" fill="#fbeeda"/>
<circle cx="568.2" cy="147.6" r="1.42" fill="#fbeeda"/>
<circle cx="558.3" cy="133.6" r="1.42" fill="#fbeeda"/>
<circle cx="561.8" cy="121.3" r="1.42" fill="#fbeeda"/>
<circle cx="581.9" cy="118.2" r="1.42" fill="#fbeeda"/>
<circle cx="572.1" cy="115.8" r="1.42" fill="#fbeeda"/>
<circle cx="591.5" cy="117.3" r="1.42" fill="#fbeeda"/>
<circle cx="579.5" cy="120.2" r="1.42" fill="#fbeeda"/>
<circle cx="578.3" cy="148.2" r="1.42" fill="#fbeeda"/>
<circle cx="565.5" cy="139.7" r="1.42" fill="#fbeeda"/>
<circle cx="558.8" cy="122.5" r="1.42" fill="#fbeeda"/>
<circle cx="396.3" cy="125.3" r="1.42" fill="#fbeeda"/>
<circle cx="584.2" cy="118.5" r="1.42" fill="#fbeeda"/>
<circle cx="395.8" cy="123.8" r="1.42" fill="#fbeeda"/>
<circle cx="524.8" cy="119.7" r="1.42" fill="#fbeeda"/>
<circle cx="380.8" cy="127.2" r="1.42" fill="#fbeeda"/>
<circle cx="494.4" cy="76" r="1.42" fill="#fbeeda"/>
<circle cx="368.8" cy="104.9" r="1.42" fill="#fbeeda"/>
<circle cx="415.6" cy="115.2" r="1.42" fill="#fbeeda"/>
<circle cx="428.5" cy="160.4" r="1.42" fill="#fbeeda"/>
<circle cx="382.3" cy="131" r="1.42" fill="#fbeeda"/>
<circle cx="393.6" cy="107.1" r="1.42" fill="#fbeeda"/>
<circle cx="535.4" cy="121.4" r="1.42" fill="#fbeeda"/>
<circle cx="581.8" cy="128.8" r="1.42" fill="#fbeeda"/>
<circle cx="534.4" cy="102.7" r="1.42" fill="#fbeeda"/>
<circle cx="564.5" cy="129.6" r="1.42" fill="#fbeeda"/>
<circle cx="388.1" cy="137" r="1.42" fill="#fbeeda"/>
<circle cx="497.7" cy="88.1" r="1.42" fill="#fbeeda"/>
<circle cx="550.7" cy="123.4" r="1.42" fill="#fbeeda"/>
<circle cx="489.5" cy="113.6" r="1.42" fill="#fbeeda"/>
<circle cx="421.1" cy="163.4" r="1.42" fill="#fbeeda"/>
<circle cx="575.2" cy="149.9" r="1.42" fill="#fbeeda"/>
<circle cx="423.8" cy="144.4" r="1.42" fill="#fbeeda"/>
<circle cx="572.2" cy="117.8" r="1.42" fill="#fbeeda"/>
<circle cx="416.3" cy="165.6" r="1.42" fill="#fbeeda"/>
<circle cx="418.3" cy="173.8" r="1.42" fill="#fbeeda"/>
<circle cx="487.5" cy="89.9" r="1.42" fill="#fbeeda"/>
<circle cx="414.6" cy="180.8" r="1.42" fill="#fbeeda"/>
<circle cx="581" cy="161.1" r="1.42" fill="#fbeeda"/>
<circle cx="399.9" cy="118.3" r="1.42" fill="#fbeeda"/>
<circle cx="576.5" cy="117.5" r="1.42" fill="#fbeeda"/>
<circle cx="375.2" cy="116.3" r="1.42" fill="#fbeeda"/>
<circle cx="504.6" cy="108" r="1.42" fill="#fbeeda"/>
<circle cx="521.6" cy="100.5" r="1.42" fill="#fbeeda"/>
<circle cx="598.5" cy="187" r="1.42" fill="#fbeeda"/>
<circle cx="563.6" cy="124.7" r="1.42" fill="#fbeeda"/>
<circle cx="537.6" cy="116.5" r="1.42" fill="#fbeeda"/>
<circle cx="468.3" cy="98.1" r="1.42" fill="#fbeeda"/>
<circle cx="538.3" cy="121.8" r="1.42" fill="#fbeeda"/>
<circle cx="403.5" cy="138" r="1.42" fill="#fbeeda"/>
<circle cx="561.2" cy="136.3" r="1.42" fill="#fbeeda"/>
<circle cx="506.7" cy="103.9" r="1.42" fill="#fbeeda"/>
<circle cx="530.9" cy="76.7" r="1.42" fill="#fbeeda"/>
<circle cx="468.7" cy="100.7" r="1.42" fill="#fbeeda"/>
<circle cx="408.6" cy="157.9" r="1.42" fill="#fbeeda"/>
<circle cx="428.1" cy="106.6" r="1.42" fill="#fbeeda"/>
<circle cx="408.7" cy="166" r="1.42" fill="#fbeeda"/>
<circle cx="373.1" cy="105.9" r="1.42" fill="#fbeeda"/>
<circle cx="440.8" cy="163.5" r="1.42" fill="#fbeeda"/>
<circle cx="373" cy="116.5" r="1.42" fill="#fbeeda"/>
<circle cx="571.8" cy="148.3" r="1.42" fill="#fbeeda"/>
<circle cx="402" cy="123.6" r="1.42" fill="#fbeeda"/>
<circle cx="499.1" cy="93.1" r="1.42" fill="#fbeeda"/>
<circle cx="573.1" cy="129.4" r="1.42" fill="#fbeeda"/>
<circle cx="485" cy="91" r="1.42" fill="#fbeeda"/>
<circle cx="571" cy="159" r="1.42" fill="#fbeeda"/>
<circle cx="500.9" cy="108.1" r="1.42" fill="#fbeeda"/>
<circle cx="403.8" cy="156.7" r="1.42" fill="#fbeeda"/>
<circle cx="409.1" cy="115.5" r="1.42" fill="#fbeeda"/>
<circle cx="410.1" cy="147.5" r="1.42" fill="#fbeeda"/>
<circle cx="581.6" cy="116.6" r="1.42" fill="#fbeeda"/>
<circle cx="499.8" cy="108.7" r="1.42" fill="#fbeeda"/>
<circle cx="545.6" cy="124.2" r="1.42" fill="#fbeeda"/>
<circle cx="556.4" cy="133.3" r="1.42" fill="#fbeeda"/>
<circle cx="389.3" cy="130.1" r="1.42" fill="#fbeeda"/>
<circle cx="584.8" cy="117.5" r="1.42" fill="#fbeeda"/>
<circle cx="542.5" cy="126" r="1.42" fill="#fbeeda"/>
<circle cx="372.5" cy="121.3" r="1.42" fill="#fbeeda"/>
<circle cx="410.9" cy="140" r="1.42" fill="#fbeeda"/>
<circle cx="407.6" cy="137.1" r="1.42" fill="#fbeeda"/>
<circle cx="478.5" cy="118.8" r="1.42" fill="#fbeeda"/>
<circle cx="413.1" cy="140.8" r="1.42" fill="#fbeeda"/>
<circle cx="384.1" cy="100.4" r="1.42" fill="#fbeeda"/>
<circle cx="495" cy="68.3" r="1.42" fill="#fbeeda"/>
<circle cx="540.2" cy="115.2" r="1.42" fill="#fbeeda"/>
<circle cx="579.9" cy="135.7" r="1.42" fill="#fbeeda"/>
<circle cx="601" cy="157.8" r="1.42" fill="#fbeeda"/>
<circle cx="577" cy="127.5" r="1.42" fill="#fbeeda"/>
<circle cx="588.4" cy="123.7" r="1.42" fill="#fbeeda"/>
<circle cx="437.4" cy="166.9" r="1.42" fill="#fbeeda"/>
<circle cx="574.6" cy="151.6" r="1.42" fill="#fbeeda"/>
<circle cx="392.4" cy="107" r="1.42" fill="#fbeeda"/>
<circle cx="383.6" cy="109.2" r="1.42" fill="#fbeeda"/>
<circle cx="484.6" cy="97.8" r="1.42" fill="#fbeeda"/>
<circle cx="573.5" cy="181.3" r="1.42" fill="#fbeeda"/>
<circle cx="508" cy="115.3" r="1.42" fill="#fbeeda"/>
<circle cx="618.5" cy="169.2" r="1.42" fill="#fbeeda"/>
<circle cx="429.8" cy="158.9" r="1.42" fill="#fbeeda"/>
<circle cx="475.4" cy="110" r="1.42" fill="#fbeeda"/>
<circle cx="411.9" cy="188.6" r="1.42" fill="#fbeeda"/>
<circle cx="488.8" cy="101.6" r="1.42" fill="#fbeeda"/>
<circle cx="567.7" cy="139.7" r="1.42" fill="#fbeeda"/>
<circle cx="541.7" cy="122.8" r="1.42" fill="#fbeeda"/>
<circle cx="496.4" cy="113.6" r="1.42" fill="#fbeeda"/>
<circle cx="392.5" cy="129.5" r="1.42" fill="#fbeeda"/>
<circle cx="541.6" cy="117.5" r="1.42" fill="#fbeeda"/>
<circle cx="375.9" cy="98.4" r="1.42" fill="#fbeeda"/>
<circle cx="573.4" cy="137.5" r="1.42" fill="#fbeeda"/>
<circle cx="480.8" cy="86.9" r="1.42" fill="#fbeeda"/>
<circle cx="475" cy="121.2" r="1.42" fill="#fbeeda"/>
<circle cx="425.1" cy="154" r="1.42" fill="#fbeeda"/>
<circle cx="419.2" cy="145.9" r="1.42" fill="#fbeeda"/>
<circle cx="417" cy="188.4" r="1.42" fill="#fbeeda"/>
<circle cx="493.7" cy="118.3" r="1.42" fill="#fbeeda"/>
<circle cx="467.9" cy="121.5" r="1.42" fill="#fbeeda"/>
<circle cx="410.6" cy="113.9" r="1.42" fill="#fbeeda"/>
<circle cx="591.3" cy="111.4" r="1.42" fill="#fbeeda"/>
<circle cx="365.8" cy="107.6" r="1.42" fill="#fbeeda"/>
<circle cx="398.4" cy="113.6" r="1.42" fill="#fbeeda"/>
<circle cx="575.7" cy="141.9" r="1.42" fill="#fbeeda"/>
<circle cx="501.8" cy="72.1" r="1.42" fill="#fbeeda"/>
<circle cx="487.3" cy="116.4" r="1.42" fill="#fbeeda"/>
<circle cx="413" cy="197.1" r="1.42" fill="#fbeeda"/>
<circle cx="396.7" cy="108.7" r="1.42" fill="#fbeeda"/>
<circle cx="471.6" cy="100.2" r="1.42" fill="#fbeeda"/>
<circle cx="573.7" cy="150.9" r="1.42" fill="#fbeeda"/>
<circle cx="406.1" cy="139.8" r="1.42" fill="#fbeeda"/>
<circle cx="411.8" cy="193.5" r="1.42" fill="#fbeeda"/>
<circle cx="371.9" cy="110.3" r="1.42" fill="#fbeeda"/>
<circle cx="604.3" cy="89" r="1.42" fill="#fbeeda"/>
<circle cx="368.5" cy="111" r="1.42" fill="#fbeeda"/>
<circle cx="391.8" cy="132.6" r="1.42" fill="#fbeeda"/>
<circle cx="396.9" cy="130.3" r="1.42" fill="#fbeeda"/>
<circle cx="592.5" cy="119.3" r="1.42" fill="#fbeeda"/>
<circle cx="568.3" cy="146.5" r="1.42" fill="#fbeeda"/>
<circle cx="380.6" cy="117.2" r="1.42" fill="#fbeeda"/>
<circle cx="378.7" cy="97.1" r="1.42" fill="#fbeeda"/>
<circle cx="416.1" cy="109.5" r="1.42" fill="#fbeeda"/>
<circle cx="554.5" cy="137.4" r="1.42" fill="#fbeeda"/>
<circle cx="423.1" cy="165.1" r="1.42" fill="#fbeeda"/>
<circle cx="485.1" cy="94.6" r="1.42" fill="#fbeeda"/>
<circle cx="419.8" cy="175.9" r="1.42" fill="#fbeeda"/>
<circle cx="527.4" cy="103.9" r="1.42" fill="#fbeeda"/>
<circle cx="450.7" cy="117.5" r="1.42" fill="#fbeeda"/>
<circle cx="558.4" cy="140.4" r="1.42" fill="#fbeeda"/>
<circle cx="563.5" cy="100.5" r="1.42" fill="#fbeeda"/>
<circle cx="543.4" cy="121.3" r="1.42" fill="#fbeeda"/>
<circle cx="423.3" cy="147.6" r="1.42" fill="#fbeeda"/>
<circle cx="375.9" cy="120.1" r="1.42" fill="#fbeeda"/>
<circle cx="416.1" cy="169.1" r="1.42" fill="#fbeeda"/>
<circle cx="593.6" cy="111.9" r="1.42" fill="#fbeeda"/>
<circle cx="389.9" cy="136.9" r="1.42" fill="#fbeeda"/>
<circle cx="485.6" cy="79.5" r="1.42" fill="#fbeeda"/>
<circle cx="477.9" cy="117" r="1.42" fill="#fbeeda"/>
<circle cx="475" cy="112.7" r="1.42" fill="#fbeeda"/>
<circle cx="388.3" cy="120.8" r="1.42" fill="#fbeeda"/>
<circle cx="589.6" cy="114.7" r="1.42" fill="#fbeeda"/>
<circle cx="399.6" cy="119.5" r="1.42" fill="#fbeeda"/>
<circle cx="390.7" cy="104.7" r="1.42" fill="#fbeeda"/>
<circle cx="491.5" cy="112.8" r="1.42" fill="#fbeeda"/>
<circle cx="545.7" cy="120.3" r="1.42" fill="#fbeeda"/>
<circle cx="405.2" cy="157.3" r="1.42" fill="#fbeeda"/>
<circle cx="581.1" cy="142" r="1.42" fill="#fbeeda"/>
<circle cx="470.3" cy="126.6" r="1.42" fill="#fbeeda"/>
<circle cx="409.4" cy="192.9" r="1.42" fill="#fbeeda"/>
<circle cx="411.6" cy="193.1" r="1.42" fill="#fbeeda"/>
<circle cx="378.5" cy="125.4" r="1.42" fill="#fbeeda"/>
<circle cx="392" cy="105.7" r="1.42" fill="#fbeeda"/>
<circle cx="487.5" cy="103.5" r="1.42" fill="#fbeeda"/>
<circle cx="424.3" cy="171.2" r="1.42" fill="#fbeeda"/>
<circle cx="402.1" cy="121.4" r="1.42" fill="#fbeeda"/>
<circle cx="506.6" cy="109.1" r="1.42" fill="#fbeeda"/>
<circle cx="544.4" cy="126.6" r="1.42" fill="#fbeeda"/>
<circle cx="418.4" cy="160.8" r="1.42" fill="#fbeeda"/>
<circle cx="383.8" cy="102.6" r="1.42" fill="#fbeeda"/>
<circle cx="571.9" cy="151.9" r="1.42" fill="#fbeeda"/>
<circle cx="377.6" cy="124.2" r="1.42" fill="#fbeeda"/>
<circle cx="395.5" cy="153.1" r="1.42" fill="#fbeeda"/>
<circle cx="485.2" cy="104" r="1.42" fill="#fbeeda"/>
<circle cx="376.1" cy="107.9" r="1.42" fill="#fbeeda"/>
<circle cx="591" cy="117.6" r="1.42" fill="#fbeeda"/>
<circle cx="547.7" cy="135.6" r="1.42" fill="#fbeeda"/>
<circle cx="590.3" cy="106.1" r="1.42" fill="#fbeeda"/>
<circle cx="565.1" cy="119.2" r="1.42" fill="#fbeeda"/>
<circle cx="377.4" cy="95.2" r="1.42" fill="#fbeeda"/>
<circle cx="582.1" cy="150" r="1.42" fill="#fbeeda"/>
<circle cx="421.2" cy="182.9" r="1.42" fill="#fbeeda"/>
<circle cx="571.9" cy="138.1" r="1.42" fill="#fbeeda"/>
<circle cx="414" cy="185.6" r="1.42" fill="#fbeeda"/>
<circle cx="552.7" cy="134.6" r="1.42" fill="#fbeeda"/>
<circle cx="539.1" cy="77.8" r="1.42" fill="#fbeeda"/>
<circle cx="581.6" cy="118.1" r="1.42" fill="#fbeeda"/>
<circle cx="423.6" cy="163.1" r="1.42" fill="#fbeeda"/>
<circle cx="585.3" cy="122.2" r="1.42" fill="#fbeeda"/>
<circle cx="421.7" cy="143.2" r="1.42" fill="#fbeeda"/>
<circle cx="401.6" cy="127.2" r="1.42" fill="#fbeeda"/>
<circle cx="507" cy="123.8" r="1.42" fill="#fbeeda"/>
<circle cx="580.7" cy="119.2" r="1.42" fill="#fbeeda"/>
<circle cx="603.5" cy="172.4" r="1.42" fill="#fbeeda"/>
<circle cx="408.9" cy="156.8" r="1.42" fill="#fbeeda"/>
<circle cx="499" cy="115.2" r="1.42" fill="#fbeeda"/>
<circle cx="574" cy="125.8" r="1.42" fill="#fbeeda"/>
<circle cx="407.9" cy="135.5" r="1.42" fill="#fbeeda"/>
<circle cx="489.8" cy="81" r="1.42" fill="#fbeeda"/>
<circle cx="542.5" cy="114.3" r="1.42" fill="#fbeeda"/>
<circle cx="498.2" cy="98.1" r="1.42" fill="#fbeeda"/>
<circle cx="475.4" cy="103.1" r="1.42" fill="#fbeeda"/>
<circle cx="577.4" cy="122.8" r="1.42" fill="#fbeeda"/>
<circle cx="390.4" cy="130.7" r="1.42" fill="#fbeeda"/>
<circle cx="426.3" cy="158.9" r="1.42" fill="#fbeeda"/>
<circle cx="435.5" cy="168.1" r="1.42" fill="#fbeeda"/>
<circle cx="493.7" cy="115.1" r="1.42" fill="#fbeeda"/>
<circle cx="572.5" cy="144.3" r="1.42" fill="#fbeeda"/>
<circle cx="482.7" cy="98.3" r="1.42" fill="#fbeeda"/>
<circle cx="578.2" cy="147.2" r="1.42" fill="#fbeeda"/>
<circle cx="464.5" cy="125.4" r="1.42" fill="#fbeeda"/>
<circle cx="374.3" cy="121" r="1.42" fill="#fbeeda"/>
<circle cx="517.4" cy="101.5" r="1.42" fill="#fbeeda"/>
<circle cx="573" cy="152.5" r="1.42" fill="#fbeeda"/>
<circle cx="470.9" cy="106.2" r="1.42" fill="#fbeeda"/>
<circle cx="337" cy="134.5" r="1.42" fill="#fbeeda"/>
<circle cx="488.4" cy="99.4" r="1.42" fill="#fbeeda"/>
<circle cx="390.6" cy="138.3" r="1.42" fill="#fbeeda"/>
<circle cx="375" cy="124" r="1.42" fill="#fbeeda"/>
<circle cx="568.6" cy="119.1" r="1.42" fill="#fbeeda"/>
<circle cx="625.4" cy="189" r="1.42" fill="#fbeeda"/>
<circle cx="585.3" cy="113" r="1.42" fill="#fbeeda"/>
<circle cx="479.2" cy="93.1" r="1.42" fill="#fbeeda"/>
<circle cx="494.6" cy="122.3" r="1.42" fill="#fbeeda"/>
<circle cx="576.4" cy="143.7" r="1.42" fill="#fbeeda"/>
<circle cx="453.7" cy="81.6" r="1.42" fill="#fbeeda"/>
<circle cx="398.8" cy="129" r="1.42" fill="#fbeeda"/>
<circle cx="391.9" cy="128.1" r="1.42" fill="#fbeeda"/>
<circle cx="391.9" cy="121.4" r="1.42" fill="#fbeeda"/>
<circle cx="383.6" cy="118.3" r="1.42" fill="#fbeeda"/>
<circle cx="544.3" cy="119.7" r="1.42" fill="#fbeeda"/>
<circle cx="423.3" cy="155.2" r="1.42" fill="#fbeeda"/>
<circle cx="467.2" cy="113.5" r="1.42" fill="#fbeeda"/>
<circle cx="414.5" cy="188.6" r="1.42" fill="#fbeeda"/>
<circle cx="494" cy="94" r="1.42" fill="#fbeeda"/>
<circle cx="570.4" cy="135.7" r="1.42" fill="#fbeeda"/>
<circle cx="413.3" cy="187.9" r="1.42" fill="#fbeeda"/>
<circle cx="411.2" cy="134.4" r="1.42" fill="#fbeeda"/>
<circle cx="546.3" cy="121.2" r="1.42" fill="#fbeeda"/>
<circle cx="571.4" cy="131.4" r="1.42" fill="#fbeeda"/>
<circle cx="553.8" cy="131.5" r="1.42" fill="#fbeeda"/>
<circle cx="557.6" cy="135.3" r="1.42" fill="#fbeeda"/>
<circle cx="388.3" cy="107.4" r="1.42" fill="#fbeeda"/>
<circle cx="553" cy="94.8" r="1.42" fill="#fbeeda"/>
<circle cx="375.6" cy="122.5" r="1.42" fill="#fbeeda"/>
<circle cx="417.5" cy="158.1" r="1.42" fill="#fbeeda"/>
<circle cx="611" cy="99.8" r="1.42" fill="#fbeeda"/>
<circle cx="471.5" cy="108" r="1.42" fill="#fbeeda"/>
<circle cx="575.4" cy="123.6" r="1.42" fill="#fbeeda"/>
<circle cx="413.9" cy="193.2" r="1.42" fill="#fbeeda"/>
<circle cx="540.1" cy="136" r="1.42" fill="#fbeeda"/>
<circle cx="413.2" cy="115.5" r="1.42" fill="#fbeeda"/>
<circle cx="487.3" cy="109.9" r="1.42" fill="#fbeeda"/>
<circle cx="382.1" cy="106.3" r="1.42" fill="#fbeeda"/>
<circle cx="624.3" cy="187" r="1.42" fill="#fbeeda"/>
<circle cx="565.8" cy="151.9" r="1.42" fill="#fbeeda"/>
<circle cx="536.3" cy="113.6" r="1.42" fill="#fbeeda"/>
<circle cx="577.3" cy="135.9" r="1.42" fill="#fbeeda"/>
<circle cx="414.6" cy="207.1" r="1.42" fill="#fbeeda"/>
<circle cx="577.5" cy="105" r="1.42" fill="#fbeeda"/>
<circle cx="492.5" cy="106.8" r="1.42" fill="#fbeeda"/>
<circle cx="573.3" cy="122.9" r="1.42" fill="#fbeeda"/>
<circle cx="435.4" cy="155.3" r="1.42" fill="#fbeeda"/>
<circle cx="416.1" cy="140.4" r="1.42" fill="#fbeeda"/>
<circle cx="562.2" cy="137.4" r="1.42" fill="#fbeeda"/>
<circle cx="497.1" cy="154.9" r="1.42" fill="#fbeeda"/>
<circle cx="564.7" cy="116.8" r="1.42" fill="#fbeeda"/>
<circle cx="476.8" cy="118.7" r="1.42" fill="#fbeeda"/>
<circle cx="558.6" cy="127.8" r="1.42" fill="#fbeeda"/>
<circle cx="502.5" cy="106.5" r="1.42" fill="#fbeeda"/>
<circle cx="622.6" cy="191.9" r="1.42" fill="#fbeeda"/>
<circle cx="561.9" cy="119.2" r="1.42" fill="#fbeeda"/>
<circle cx="468.1" cy="110.9" r="1.42" fill="#fbeeda"/>
<circle cx="569.6" cy="133.5" r="1.42" fill="#fbeeda"/>
<circle cx="578.2" cy="132.2" r="1.42" fill="#fbeeda"/>
<circle cx="417.6" cy="165.2" r="1.42" fill="#fbeeda"/>
<circle cx="513.7" cy="125.8" r="1.42" fill="#fbeeda"/>
<circle cx="572.1" cy="153.1" r="1.42" fill="#fbeeda"/>
<circle cx="556.9" cy="126.6" r="1.42" fill="#fbeeda"/>
<circle cx="587.8" cy="124.9" r="1.42" fill="#fbeeda"/>
<circle cx="400.9" cy="136.1" r="1.42" fill="#fbeeda"/>
<circle cx="574.8" cy="135.8" r="1.42" fill="#fbeeda"/>
<circle cx="545.8" cy="127.6" r="1.42" fill="#fbeeda"/>
<circle cx="389" cy="110.5" r="1.42" fill="#fbeeda"/>
<circle cx="582.7" cy="143.4" r="1.42" fill="#fbeeda"/>
<circle cx="479.1" cy="107.5" r="1.42" fill="#fbeeda"/>
<circle cx="497.5" cy="106.6" r="1.42" fill="#fbeeda"/>
<circle cx="389.8" cy="117.2" r="1.42" fill="#fbeeda"/>
<circle cx="567.4" cy="132.7" r="1.42" fill="#fbeeda"/>
<circle cx="541" cy="112.7" r="1.42" fill="#fbeeda"/>
<circle cx="512.4" cy="108.6" r="1.42" fill="#fbeeda"/>
<circle cx="543" cy="111.5" r="1.42" fill="#fbeeda"/>
<circle cx="472.1" cy="113.9" r="1.42" fill="#fbeeda"/>
<circle cx="535.6" cy="86.9" r="1.42" fill="#fbeeda"/>
<circle cx="487.3" cy="91.6" r="1.42" fill="#fbeeda"/>
<circle cx="592.6" cy="120.6" r="1.42" fill="#fbeeda"/>
<circle cx="435.5" cy="165.9" r="1.42" fill="#fbeeda"/>
<circle cx="507" cy="110" r="1.42" fill="#fbeeda"/>
<circle cx="516.9" cy="97.1" r="1.42" fill="#fbeeda"/>
<circle cx="454" cy="81.2" r="1.42" fill="#fbeeda"/>
<circle cx="574.3" cy="149.3" r="1.42" fill="#fbeeda"/>
<circle cx="558" cy="143.4" r="1.42" fill="#fbeeda"/>
<circle cx="552.2" cy="127.9" r="1.42" fill="#fbeeda"/>
<circle cx="416" cy="113.7" r="1.42" fill="#fbeeda"/>
<circle cx="588.1" cy="119.8" r="1.42" fill="#fbeeda"/>
<circle cx="574.5" cy="144.3" r="1.42" fill="#fbeeda"/>
<circle cx="616.8" cy="171.6" r="1.42" fill="#fbeeda"/>
<circle cx="536.9" cy="97.1" r="1.42" fill="#fbeeda"/>
<circle cx="537.8" cy="114" r="1.42" fill="#fbeeda"/>
<circle cx="559.9" cy="139.8" r="1.42" fill="#fbeeda"/>
<circle cx="377" cy="100.3" r="1.42" fill="#fbeeda"/>
<circle cx="561" cy="133" r="1.42" fill="#fbeeda"/>
<circle cx="393.8" cy="125.4" r="1.42" fill="#fbeeda"/>
<circle cx="409.5" cy="190" r="1.42" fill="#fbeeda"/>
<circle cx="509.3" cy="114.6" r="1.42" fill="#fbeeda"/>
<circle cx="507.6" cy="126.9" r="1.42" fill="#fbeeda"/>
<circle cx="338.2" cy="135.6" r="1.42" fill="#fbeeda"/>
<circle cx="374.9" cy="110.1" r="1.42" fill="#fbeeda"/>
<circle cx="549.2" cy="124.1" r="1.42" fill="#fbeeda"/>
<circle cx="504.7" cy="119.9" r="1.42" fill="#fbeeda"/>
<circle cx="626.8" cy="167.6" r="1.42" fill="#fbeeda"/>
<circle cx="494.8" cy="99.7" r="1.42" fill="#fbeeda"/>
<circle cx="494.5" cy="113.1" r="1.42" fill="#fbeeda"/>
<circle cx="412.7" cy="184.4" r="1.42" fill="#fbeeda"/>
<circle cx="491.8" cy="89.4" r="1.42" fill="#fbeeda"/>
<circle cx="568.3" cy="150.7" r="1.42" fill="#fbeeda"/>
<circle cx="410.9" cy="201.7" r="1.42" fill="#fbeeda"/>
<circle cx="417.3" cy="155.8" r="1.42" fill="#fbeeda"/>
<circle cx="528.6" cy="92.5" r="1.42" fill="#fbeeda"/>
<circle cx="466.3" cy="103" r="1.42" fill="#fbeeda"/>
<circle cx="544.9" cy="97.1" r="1.42" fill="#fbeeda"/>
<circle cx="395" cy="125.9" r="1.42" fill="#fbeeda"/>
<circle cx="407" cy="109.9" r="1.42" fill="#fbeeda"/>
<circle cx="557.4" cy="132.4" r="1.42" fill="#fbeeda"/>
<circle cx="423.4" cy="169.3" r="1.42" fill="#fbeeda"/>
<circle cx="436.3" cy="162.7" r="1.42" fill="#fbeeda"/>
<circle cx="549.4" cy="126" r="1.42" fill="#fbeeda"/>
<circle cx="458.7" cy="125.4" r="1.42" fill="#fbeeda"/>
<circle cx="569.5" cy="120.1" r="1.42" fill="#fbeeda"/>
<circle cx="496.5" cy="121.4" r="1.42" fill="#fbeeda"/>
<circle cx="574.4" cy="147.6" r="1.42" fill="#fbeeda"/>
<circle cx="505.3" cy="130" r="1.42" fill="#fbeeda"/>
<circle cx="538.8" cy="117.3" r="1.42" fill="#fbeeda"/>
<circle cx="577" cy="129.5" r="1.42" fill="#fbeeda"/>
<circle cx="439.7" cy="164.4" r="1.42" fill="#fbeeda"/>
<circle cx="377.8" cy="112.7" r="1.42" fill="#fbeeda"/>
<circle cx="393.3" cy="111.7" r="1.42" fill="#fbeeda"/>
<circle cx="379.1" cy="105.3" r="1.42" fill="#fbeeda"/>
<circle cx="478.7" cy="85.6" r="1.42" fill="#fbeeda"/>
<circle cx="491.3" cy="107.6" r="1.42" fill="#fbeeda"/>
<circle cx="569.9" cy="119.1" r="1.42" fill="#fbeeda"/>
<circle cx="418.2" cy="151.4" r="1.42" fill="#fbeeda"/>
<circle cx="414.1" cy="194.7" r="1.42" fill="#fbeeda"/>
<circle cx="398.6" cy="112.2" r="1.42" fill="#fbeeda"/>
<circle cx="493.2" cy="120.8" r="1.42" fill="#fbeeda"/>
<circle cx="478.1" cy="115.8" r="1.42" fill="#fbeeda"/>
<circle cx="402.6" cy="113.9" r="1.42" fill="#fbeeda"/>
<circle cx="581.1" cy="147.8" r="1.42" fill="#fbeeda"/>
<circle cx="580.6" cy="143.9" r="1.42" fill="#fbeeda"/>
<circle cx="578.2" cy="114.6" r="1.42" fill="#fbeeda"/>
<circle cx="474.4" cy="115.9" r="1.42" fill="#fbeeda"/>
<circle cx="414.1" cy="191.8" r="1.42" fill="#fbeeda"/>
<circle cx="488.4" cy="115.9" r="1.42" fill="#fbeeda"/>
<circle cx="464.3" cy="104.9" r="1.42" fill="#fbeeda"/>
<circle cx="376.3" cy="110.5" r="1.42" fill="#fbeeda"/>
<circle cx="372.2" cy="115.7" r="1.42" fill="#fbeeda"/>
<circle cx="396.9" cy="106.4" r="1.42" fill="#fbeeda"/>
<circle cx="503.3" cy="102.6" r="1.42" fill="#fbeeda"/>
<circle cx="475.5" cy="104.5" r="1.42" fill="#fbeeda"/>
<circle cx="386.8" cy="103.3" r="1.42" fill="#fbeeda"/>
<circle cx="485.6" cy="105.9" r="1.42" fill="#fbeeda"/>
<circle cx="557.2" cy="128.5" r="1.42" fill="#fbeeda"/>
<circle cx="566.7" cy="113.6" r="1.42" fill="#fbeeda"/>
<circle cx="574.8" cy="139.3" r="1.42" fill="#fbeeda"/>
<circle cx="574.1" cy="117.8" r="1.42" fill="#fbeeda"/>
<circle cx="479.4" cy="117.4" r="1.42" fill="#fbeeda"/>
<circle cx="400.7" cy="124.4" r="1.42" fill="#fbeeda"/>
<circle cx="586.1" cy="121.4" r="1.42" fill="#fbeeda"/>
<circle cx="582.3" cy="113.4" r="1.42" fill="#fbeeda"/>
<circle cx="510.5" cy="112.4" r="1.42" fill="#fbeeda"/>
<circle cx="370.7" cy="115.5" r="1.42" fill="#fbeeda"/>
<circle cx="575.9" cy="135.6" r="1.42" fill="#fbeeda"/>
<circle cx="392.5" cy="111" r="1.42" fill="#fbeeda"/>
<circle cx="466.4" cy="101.1" r="1.42" fill="#fbeeda"/>
<circle cx="469.7" cy="99.2" r="1.42" fill="#fbeeda"/>
<circle cx="586.8" cy="162.7" r="1.42" fill="#fbeeda"/>
<circle cx="411.3" cy="187.1" r="1.42" fill="#fbeeda"/>
<circle cx="376.2" cy="125.7" r="1.42" fill="#fbeeda"/>
<circle cx="411.9" cy="163.8" r="1.42" fill="#fbeeda"/>
<circle cx="502.7" cy="111.9" r="1.42" fill="#fbeeda"/>
<circle cx="539.7" cy="130.4" r="1.42" fill="#fbeeda"/>
<circle cx="392" cy="108.8" r="1.42" fill="#fbeeda"/>
<circle cx="545.5" cy="121.9" r="1.42" fill="#fbeeda"/>
<circle cx="491.4" cy="75.1" r="1.42" fill="#fbeeda"/>
<circle cx="595.2" cy="154.6" r="1.42" fill="#fbeeda"/>
<circle cx="409.9" cy="150" r="1.42" fill="#fbeeda"/>
<circle cx="562.4" cy="126.5" r="1.42" fill="#fbeeda"/>
<circle cx="491.5" cy="118.1" r="1.42" fill="#fbeeda"/>
<circle cx="468.7" cy="106" r="1.42" fill="#fbeeda"/>
<circle cx="491.1" cy="86.3" r="1.42" fill="#fbeeda"/>
<circle cx="402.4" cy="130.2" r="1.42" fill="#fbeeda"/>
<circle cx="412.4" cy="201.3" r="1.42" fill="#fbeeda"/>
<circle cx="388.8" cy="105.2" r="1.42" fill="#fbeeda"/>
<circle cx="506" cy="107" r="1.42" fill="#fbeeda"/>
<circle cx="442" cy="162.6" r="1.42" fill="#fbeeda"/>
<circle cx="391.9" cy="125.8" r="1.42" fill="#fbeeda"/>
<circle cx="502.8" cy="118.5" r="1.42" fill="#fbeeda"/>
<circle cx="546.9" cy="95.5" r="1.42" fill="#fbeeda"/>
<circle cx="411.6" cy="113.1" r="1.42" fill="#fbeeda"/>
<circle cx="578.5" cy="167.6" r="1.42" fill="#fbeeda"/>
<circle cx="398.4" cy="137" r="1.42" fill="#fbeeda"/>
<circle cx="471.8" cy="103.2" r="1.42" fill="#fbeeda"/>
<circle cx="491.7" cy="101.5" r="1.42" fill="#fbeeda"/>
<circle cx="507.8" cy="103.1" r="1.42" fill="#fbeeda"/>
<circle cx="497.8" cy="107.8" r="1.42" fill="#fbeeda"/>
<circle cx="481.6" cy="109.4" r="1.42" fill="#fbeeda"/>
<circle cx="506.6" cy="112.2" r="1.42" fill="#fbeeda"/>
<circle cx="541.1" cy="124.7" r="1.42" fill="#fbeeda"/>
<circle cx="508.5" cy="123.7" r="1.42" fill="#fbeeda"/>
<circle cx="487" cy="86.6" r="1.42" fill="#fbeeda"/>
<circle cx="392.4" cy="115.7" r="1.42" fill="#fbeeda"/>
<circle cx="423.1" cy="141.8" r="1.42" fill="#fbeeda"/>
<circle cx="501.1" cy="111" r="1.42" fill="#fbeeda"/>
<circle cx="571.4" cy="126.8" r="1.42" fill="#fbeeda"/>
<circle cx="488.1" cy="94.2" r="1.42" fill="#fbeeda"/>
<circle cx="552.3" cy="129.4" r="1.42" fill="#fbeeda"/>
<circle cx="477.7" cy="120.9" r="1.42" fill="#fbeeda"/>
<circle cx="436.6" cy="164" r="1.42" fill="#fbeeda"/>
<circle cx="539.6" cy="139.8" r="1.42" fill="#fbeeda"/>
<circle cx="576" cy="148.2" r="1.42" fill="#fbeeda"/>
<circle cx="583.4" cy="119.6" r="1.42" fill="#fbeeda"/>
<circle cx="491.1" cy="104.7" r="1.42" fill="#fbeeda"/>
<circle cx="489" cy="126.6" r="1.42" fill="#fbeeda"/>
<circle cx="485.9" cy="99.5" r="1.42" fill="#fbeeda"/>
<circle cx="549.4" cy="70.3" r="1.42" fill="#fbeeda"/>
<circle cx="413" cy="192.3" r="1.42" fill="#fbeeda"/>
<circle cx="480.7" cy="90.5" r="1.42" fill="#fbeeda"/>
<circle cx="411" cy="195.6" r="1.42" fill="#fbeeda"/>
<circle cx="372.2" cy="102.7" r="1.42" fill="#fbeeda"/>
<circle cx="597.1" cy="115.9" r="1.42" fill="#fbeeda"/>
<circle cx="560.5" cy="127.5" r="1.42" fill="#fbeeda"/>
<circle cx="503.5" cy="109.1" r="1.42" fill="#fbeeda"/>
<circle cx="499" cy="122.6" r="1.42" fill="#fbeeda"/>
<circle cx="424.6" cy="164.3" r="1.42" fill="#fbeeda"/>
<circle cx="488.5" cy="84.3" r="1.42" fill="#fbeeda"/>
<circle cx="479.3" cy="119.5" r="1.42" fill="#fbeeda"/>
<circle cx="578.5" cy="122.4" r="1.42" fill="#fbeeda"/>
<circle cx="498.2" cy="110.9" r="1.42" fill="#fbeeda"/>
<circle cx="450.5" cy="117.5" r="1.42" fill="#fbeeda"/>
<circle cx="598.2" cy="113.5" r="1.42" fill="#fbeeda"/>
<circle cx="477.8" cy="87.1" r="1.42" fill="#fbeeda"/>
<circle cx="369.6" cy="109.4" r="1.42" fill="#fbeeda"/>
<circle cx="381" cy="113.7" r="1.42" fill="#fbeeda"/>
<circle cx="505.3" cy="109.4" r="1.42" fill="#fbeeda"/>
<circle cx="381.5" cy="105.1" r="1.42" fill="#fbeeda"/>
<circle cx="588.6" cy="121.3" r="1.42" fill="#fbeeda"/>
<circle cx="384.1" cy="122.6" r="1.42" fill="#fbeeda"/>
<circle cx="572" cy="142.9" r="1.42" fill="#fbeeda"/>
<circle cx="539.2" cy="124.8" r="1.42" fill="#fbeeda"/>
<circle cx="393.4" cy="132.3" r="1.42" fill="#fbeeda"/>
<circle cx="571.7" cy="135.5" r="1.42" fill="#fbeeda"/>
<circle cx="412.8" cy="137" r="1.42" fill="#fbeeda"/>
<circle cx="472.8" cy="107" r="1.42" fill="#fbeeda"/>
<circle cx="493" cy="101.4" r="1.42" fill="#fbeeda"/>
<circle cx="476.4" cy="120.9" r="1.42" fill="#fbeeda"/>
<circle cx="563" cy="131.8" r="1.42" fill="#fbeeda"/>
<circle cx="556.1" cy="143.6" r="1.42" fill="#fbeeda"/>
<circle cx="481.5" cy="85.4" r="1.42" fill="#fbeeda"/>
<circle cx="374" cy="106.9" r="1.42" fill="#fbeeda"/>
<circle cx="605.1" cy="183" r="1.42" fill="#fbeeda"/>
<circle cx="491.6" cy="110.2" r="1.42" fill="#fbeeda"/>
<circle cx="395.1" cy="129.1" r="1.42" fill="#fbeeda"/>
<circle cx="381.1" cy="98.8" r="1.42" fill="#fbeeda"/>
<circle cx="413.5" cy="168.8" r="1.42" fill="#fbeeda"/>
<circle cx="494" cy="105.8" r="1.42" fill="#fbeeda"/>
<circle cx="534" cy="125.8" r="1.42" fill="#fbeeda"/>
<circle cx="369.6" cy="114.3" r="1.42" fill="#fbeeda"/>
<circle cx="380.6" cy="100.7" r="1.42" fill="#fbeeda"/>
<circle cx="582.5" cy="139.2" r="1.42" fill="#fbeeda"/>
<circle cx="578.4" cy="129.4" r="1.42" fill="#fbeeda"/>
<circle cx="407.7" cy="113.2" r="1.42" fill="#fbeeda"/>
<circle cx="580.9" cy="134.3" r="1.42" fill="#fbeeda"/>
<circle cx="537.5" cy="118.6" r="1.42" fill="#fbeeda"/>
<circle cx="472.4" cy="101.3" r="1.42" fill="#fbeeda"/>
<circle cx="413.7" cy="203.7" r="1.42" fill="#fbeeda"/>
<circle cx="483.2" cy="110.1" r="1.42" fill="#fbeeda"/>
<circle cx="394.2" cy="121.6" r="1.42" fill="#fbeeda"/>
<circle cx="385.5" cy="121.5" r="1.42" fill="#fbeeda"/>
<circle cx="577.4" cy="115.3" r="1.42" fill="#fbeeda"/>
<circle cx="420" cy="159.2" r="1.42" fill="#fbeeda"/>
<circle cx="413.1" cy="111.9" r="1.42" fill="#fbeeda"/>
<circle cx="411.4" cy="107.9" r="1.42" fill="#fbeeda"/>
<circle cx="507.3" cy="117.6" r="1.42" fill="#fbeeda"/>
<circle cx="497.2" cy="97.5" r="1.42" fill="#fbeeda"/>
<circle cx="537.5" cy="112.7" r="1.42" fill="#fbeeda"/>
<circle cx="505.4" cy="111.6" r="1.42" fill="#fbeeda"/>
<circle cx="395" cy="133.4" r="1.42" fill="#fbeeda"/>
<circle cx="508.3" cy="101.1" r="1.42" fill="#fbeeda"/>
<circle cx="371.7" cy="112.4" r="1.42" fill="#fbeeda"/>
<circle cx="419.8" cy="146.5" r="1.42" fill="#fbeeda"/>
<circle cx="498.6" cy="113" r="1.42" fill="#fbeeda"/>
<circle cx="359.8" cy="96.4" r="1.42" fill="#fbeeda"/>
<circle cx="581" cy="135.9" r="1.42" fill="#fbeeda"/>
<circle cx="579.3" cy="179.7" r="1.42" fill="#fbeeda"/>
<circle cx="557.8" cy="129.2" r="1.42" fill="#fbeeda"/>
<circle cx="509.9" cy="106.6" r="1.42" fill="#fbeeda"/>
<circle cx="411.3" cy="190.8" r="1.42" fill="#fbeeda"/>
<circle cx="571.4" cy="120.1" r="1.42" fill="#fbeeda"/>
<circle cx="571.3" cy="114.7" r="1.42" fill="#fbeeda"/>
<circle cx="433.9" cy="167.7" r="1.42" fill="#fbeeda"/>
<circle cx="505.2" cy="94.8" r="1.42" fill="#fbeeda"/>
<circle cx="489.9" cy="103.8" r="1.42" fill="#fbeeda"/>
<circle cx="390.3" cy="106.9" r="1.42" fill="#fbeeda"/>
<circle cx="415.2" cy="192.4" r="1.42" fill="#fbeeda"/>
<circle cx="504.6" cy="101.3" r="1.42" fill="#fbeeda"/>
<circle cx="392.6" cy="127.2" r="1.42" fill="#fbeeda"/>
<circle cx="490.9" cy="70.9" r="1.42" fill="#fbeeda"/>
<circle cx="390.5" cy="128.7" r="1.42" fill="#fbeeda"/>
<circle cx="409.5" cy="110.3" r="1.42" fill="#fbeeda"/>
<circle cx="570.7" cy="133.6" r="1.42" fill="#fbeeda"/>
<circle cx="587.2" cy="121.7" r="1.42" fill="#fbeeda"/>
<circle cx="569.3" cy="143" r="1.42" fill="#fbeeda"/>
<circle cx="477.5" cy="96.7" r="1.42" fill="#fbeeda"/>
<circle cx="469" cy="122.8" r="1.42" fill="#fbeeda"/>
<circle cx="508.5" cy="112.8" r="1.42" fill="#fbeeda"/>
<circle cx="489.8" cy="73.5" r="1.42" fill="#fbeeda"/>
<circle cx="579.8" cy="155.9" r="1.42" fill="#fbeeda"/>
<circle cx="485" cy="92.4" r="1.42" fill="#fbeeda"/>
<circle cx="503" cy="116.7" r="1.42" fill="#fbeeda"/>
<circle cx="415.4" cy="187.8" r="1.42" fill="#fbeeda"/>
<circle cx="413" cy="199.1" r="1.42" fill="#fbeeda"/>
<circle cx="606.8" cy="177.3" r="1.42" fill="#fbeeda"/>
<circle cx="399.7" cy="130" r="1.42" fill="#fbeeda"/>
<circle cx="572.6" cy="126.6" r="1.42" fill="#fbeeda"/>
<circle cx="400.8" cy="110.4" r="1.42" fill="#fbeeda"/>
<circle cx="406.9" cy="134.5" r="1.42" fill="#fbeeda"/>
<circle cx="412.4" cy="135.6" r="1.42" fill="#fbeeda"/>
<circle cx="405.4" cy="159.7" r="1.42" fill="#fbeeda"/>
<circle cx="496.5" cy="74.1" r="1.42" fill="#fbeeda"/>
<circle cx="433" cy="171.9" r="1.42" fill="#fbeeda"/>
<circle cx="531.9" cy="117.7" r="1.42" fill="#fbeeda"/>
<circle cx="385.5" cy="109.2" r="1.42" fill="#fbeeda"/>
<circle cx="588.1" cy="116.8" r="1.42" fill="#fbeeda"/>
<circle cx="563.5" cy="100.8" r="1.42" fill="#fbeeda"/>
<circle cx="414.6" cy="189.7" r="1.42" fill="#fbeeda"/>
<circle cx="570" cy="146.2" r="1.42" fill="#fbeeda"/>
<circle cx="464.9" cy="123.2" r="1.42" fill="#fbeeda"/>
<circle cx="570.2" cy="147.5" r="1.42" fill="#fbeeda"/>
<circle cx="594.3" cy="170" r="1.42" fill="#fbeeda"/>
<circle cx="428.5" cy="173.9" r="1.42" fill="#fbeeda"/>
<circle cx="601.8" cy="185.4" r="1.42" fill="#fbeeda"/>
<circle cx="412.8" cy="117" r="1.42" fill="#fbeeda"/>
<circle cx="555.4" cy="132.3" r="1.42" fill="#fbeeda"/>
<circle cx="491" cy="84.6" r="1.42" fill="#fbeeda"/>
<circle cx="369.3" cy="98.1" r="1.42" fill="#fbeeda"/>
<circle cx="566.4" cy="154.2" r="1.42" fill="#fbeeda"/>
<circle cx="527.1" cy="119.2" r="1.42" fill="#fbeeda"/>
<circle cx="393.4" cy="124" r="1.42" fill="#fbeeda"/>
<circle cx="383.8" cy="124" r="1.42" fill="#fbeeda"/>
<circle cx="378.7" cy="123.6" r="1.42" fill="#fbeeda"/>
<circle cx="575.7" cy="150.9" r="1.42" fill="#fbeeda"/>
<circle cx="494.9" cy="71.5" r="1.42" fill="#fbeeda"/>
<circle cx="395.8" cy="120.7" r="1.42" fill="#fbeeda"/>
<circle cx="576.1" cy="134.5" r="1.42" fill="#fbeeda"/>
<circle cx="533.8" cy="119.5" r="1.42" fill="#fbeeda"/>
<circle cx="378.8" cy="117.3" r="1.42" fill="#fbeeda"/>
<circle cx="372" cy="103.8" r="1.42" fill="#fbeeda"/>
<circle cx="550.3" cy="127.6" r="1.42" fill="#fbeeda"/>
<circle cx="380.6" cy="109.1" r="1.42" fill="#fbeeda"/>
<circle cx="569" cy="134.6" r="1.42" fill="#fbeeda"/>
<circle cx="494.5" cy="117.4" r="1.42" fill="#fbeeda"/>
<circle cx="434.5" cy="162.1" r="1.42" fill="#fbeeda"/>
<circle cx="481.6" cy="98.6" r="1.42" fill="#fbeeda"/>
<circle cx="412.9" cy="202.6" r="1.42" fill="#fbeeda"/>
<circle cx="498.9" cy="117.7" r="1.42" fill="#fbeeda"/>
<circle cx="576.1" cy="120.3" r="1.42" fill="#fbeeda"/>
<circle cx="356.8" cy="91.9" r="1.42" fill="#fbeeda"/>
<circle cx="436.5" cy="165.3" r="1.42" fill="#fbeeda"/>
<circle cx="547.4" cy="127.9" r="1.42" fill="#fbeeda"/>
<circle cx="492.4" cy="114.2" r="1.42" fill="#fbeeda"/>
<circle cx="412.7" cy="195.7" r="1.42" fill="#fbeeda"/>
<circle cx="481.9" cy="108" r="1.42" fill="#fbeeda"/>
<circle cx="438.9" cy="165.5" r="1.42" fill="#fbeeda"/>
<circle cx="499.7" cy="95.4" r="1.42" fill="#fbeeda"/>
<circle cx="409.3" cy="162.9" r="1.42" fill="#fbeeda"/>
<circle cx="422.9" cy="181" r="1.42" fill="#fbeeda"/>
<circle cx="488.4" cy="117.3" r="1.42" fill="#fbeeda"/>
<circle cx="390.7" cy="123.8" r="1.42" fill="#fbeeda"/>
<circle cx="542.7" cy="135.8" r="1.42" fill="#fbeeda"/>
<circle cx="482" cy="87.9" r="1.42" fill="#fbeeda"/>
<circle cx="469.4" cy="107.9" r="1.42" fill="#fbeeda"/>
<circle cx="593.5" cy="183.8" r="1.42" fill="#fbeeda"/>
<circle cx="577.2" cy="105.2" r="1.42" fill="#fbeeda"/>
<circle cx="490.1" cy="77.7" r="1.42" fill="#fbeeda"/>
<circle cx="562.7" cy="128.3" r="1.42" fill="#fbeeda"/>
<circle cx="564.2" cy="130.8" r="1.42" fill="#fbeeda"/>
<circle cx="345.9" cy="80.1" r="1.42" fill="#fbeeda"/>
<circle cx="422.9" cy="160.9" r="1.42" fill="#fbeeda"/>
<circle cx="579.3" cy="113.7" r="1.42" fill="#fbeeda"/>
<circle cx="486.3" cy="84" r="1.42" fill="#fbeeda"/>
<circle cx="344.2" cy="167.4" r="1.42" fill="#fbeeda"/>
<circle cx="536.9" cy="148.9" r="1.42" fill="#fbeeda"/>
<circle cx="389.9" cy="126.9" r="1.42" fill="#fbeeda"/>
<circle cx="575.2" cy="169.2" r="1.42" fill="#fbeeda"/>
<circle cx="386" cy="119.5" r="1.42" fill="#fbeeda"/>
<circle cx="419.1" cy="188.9" r="1.42" fill="#fbeeda"/>
<circle cx="393.3" cy="119.9" r="1.42" fill="#fbeeda"/>
<circle cx="434.7" cy="166.7" r="1.42" fill="#fbeeda"/>
<circle cx="585.7" cy="85.7" r="1.42" fill="#fbeeda"/>
<circle cx="488.6" cy="114.5" r="1.42" fill="#fbeeda"/>
<circle cx="374.2" cy="122.2" r="1.42" fill="#fbeeda"/>
<circle cx="506.3" cy="98.4" r="1.42" fill="#fbeeda"/>
<circle cx="439.6" cy="161.8" r="1.42" fill="#fbeeda"/>
<circle cx="483.9" cy="101.1" r="1.42" fill="#fbeeda"/>
<circle cx="578.8" cy="133.4" r="1.42" fill="#fbeeda"/>
<circle cx="534" cy="123.8" r="1.42" fill="#fbeeda"/>
<circle cx="508" cy="119.8" r="1.42" fill="#fbeeda"/>
<circle cx="566" cy="106.8" r="1.42" fill="#fbeeda"/>
<circle cx="397.1" cy="131.6" r="1.42" fill="#fbeeda"/>
<circle cx="475.5" cy="118.8" r="1.42" fill="#fbeeda"/>
<circle cx="386.5" cy="115.6" r="1.42" fill="#fbeeda"/>
<circle cx="477.8" cy="99.5" r="1.42" fill="#fbeeda"/>
<circle cx="505.3" cy="95.9" r="1.42" fill="#fbeeda"/>
<circle cx="549.3" cy="119.3" r="1.42" fill="#fbeeda"/>
<circle cx="373.4" cy="108.8" r="1.42" fill="#fbeeda"/>
<circle cx="587.2" cy="113.1" r="1.42" fill="#fbeeda"/>
<circle cx="506" cy="120.7" r="1.42" fill="#fbeeda"/>
<circle cx="393.6" cy="104.9" r="1.42" fill="#fbeeda"/>
<circle cx="572.6" cy="124.4" r="1.42" fill="#fbeeda"/>
<circle cx="543.2" cy="123" r="1.42" fill="#fbeeda"/>
<circle cx="364.8" cy="105.1" r="1.42" fill="#fbeeda"/>
<circle cx="531.8" cy="123.3" r="1.42" fill="#fbeeda"/>
<circle cx="575.6" cy="116.6" r="1.42" fill="#fbeeda"/>
<circle cx="545.5" cy="130" r="1.42" fill="#fbeeda"/>
<circle cx="431.8" cy="164.9" r="1.42" fill="#fbeeda"/>
<circle cx="398.5" cy="132.9" r="1.42" fill="#fbeeda"/>
<circle cx="522.8" cy="93.7" r="1.42" fill="#fbeeda"/>
<circle cx="514.5" cy="105.3" r="1.42" fill="#fbeeda"/>
<circle cx="464.1" cy="100.4" r="1.42" fill="#fbeeda"/>
<circle cx="495.9" cy="114.9" r="1.42" fill="#fbeeda"/>
<circle cx="404.1" cy="136.4" r="1.42" fill="#fbeeda"/>
<circle cx="561.4" cy="130.7" r="1.42" fill="#fbeeda"/>
<circle cx="413.9" cy="155.9" r="1.42" fill="#fbeeda"/>
<circle cx="563.7" cy="133.7" r="1.42" fill="#fbeeda"/>
<circle cx="562.5" cy="133" r="1.42" fill="#fbeeda"/>
<circle cx="396.3" cy="132.7" r="1.42" fill="#fbeeda"/>
<circle cx="390.6" cy="135.9" r="1.42" fill="#fbeeda"/>
<circle cx="534.8" cy="114.7" r="1.42" fill="#fbeeda"/>
<circle cx="547.2" cy="119.2" r="1.42" fill="#fbeeda"/>
<circle cx="404.2" cy="107.9" r="1.42" fill="#fbeeda"/>
<circle cx="511.6" cy="98.9" r="1.42" fill="#fbeeda"/>
<circle cx="506" cy="124.8" r="1.42" fill="#fbeeda"/>
<circle cx="407.1" cy="138.5" r="1.42" fill="#fbeeda"/>
<circle cx="368.7" cy="106.6" r="1.42" fill="#fbeeda"/>
<circle cx="506.2" cy="116.3" r="1.42" fill="#fbeeda"/>
<circle cx="489" cy="121.9" r="1.42" fill="#fbeeda"/>
<circle cx="389.2" cy="108.1" r="1.42" fill="#fbeeda"/>
<circle cx="565.9" cy="123.4" r="1.42" fill="#fbeeda"/>
<circle cx="479" cy="88.8" r="1.42" fill="#fbeeda"/>
<circle cx="480.1" cy="89.2" r="1.42" fill="#fbeeda"/>
<circle cx="479.2" cy="84.6" r="1.42" fill="#fbeeda"/>
<circle cx="578.3" cy="116.5" r="1.42" fill="#fbeeda"/>
<circle cx="418.8" cy="163.6" r="1.42" fill="#fbeeda"/>
<circle cx="489.6" cy="79.4" r="1.42" fill="#fbeeda"/>
<circle cx="580" cy="148.2" r="1.42" fill="#fbeeda"/>
<circle cx="425.8" cy="180.6" r="1.42" fill="#fbeeda"/>
<circle cx="497.6" cy="109.3" r="1.42" fill="#fbeeda"/>
<circle cx="478.4" cy="100.6" r="1.42" fill="#fbeeda"/>
<circle cx="433.4" cy="165" r="1.42" fill="#fbeeda"/>
<circle cx="420.8" cy="141.7" r="1.42" fill="#fbeeda"/>
<circle cx="586.1" cy="124.5" r="1.42" fill="#fbeeda"/>
<circle cx="576.9" cy="152.1" r="1.42" fill="#fbeeda"/>
<circle cx="416.3" cy="191.8" r="1.42" fill="#fbeeda"/>
<circle cx="492.1" cy="71.1" r="1.42" fill="#fbeeda"/>
<circle cx="574.7" cy="127.1" r="1.42" fill="#fbeeda"/>
<circle cx="576.3" cy="138.9" r="1.42" fill="#fbeeda"/>
<circle cx="398.7" cy="121" r="1.42" fill="#fbeeda"/>
<circle cx="387" cy="109.6" r="1.42" fill="#fbeeda"/>
<circle cx="487.8" cy="74.4" r="1.42" fill="#fbeeda"/>
<circle cx="391.3" cy="134.6" r="1.42" fill="#fbeeda"/>
<circle cx="422.9" cy="182.7" r="1.42" fill="#fbeeda"/>
<circle cx="578.6" cy="156.4" r="1.42" fill="#fbeeda"/>
<circle cx="414.1" cy="206.6" r="1.42" fill="#fbeeda"/>
<circle cx="387" cy="125.1" r="1.42" fill="#fbeeda"/>
<circle cx="549" cy="121.8" r="1.42" fill="#fbeeda"/>
<circle cx="425.5" cy="161.3" r="1.42" fill="#fbeeda"/>
<circle cx="485" cy="86.8" r="1.42" fill="#fbeeda"/>
<circle cx="574.2" cy="140.9" r="1.42" fill="#fbeeda"/>
<circle cx="605.5" cy="174.9" r="1.42" fill="#fbeeda"/>
<circle cx="580.7" cy="129.8" r="1.42" fill="#fbeeda"/>
<circle cx="500.6" cy="153.8" r="1.42" fill="#fbeeda"/>
<circle cx="365.8" cy="110.8" r="1.42" fill="#fbeeda"/>
<circle cx="514.6" cy="107.4" r="1.42" fill="#fbeeda"/>
<circle cx="541.8" cy="141.1" r="1.42" fill="#fbeeda"/>
<circle cx="580.7" cy="111.9" r="1.42" fill="#fbeeda"/>
<circle cx="430.2" cy="167.3" r="1.42" fill="#fbeeda"/>
<circle cx="410.4" cy="187.8" r="1.42" fill="#fbeeda"/>
<circle cx="415.2" cy="110.2" r="1.42" fill="#fbeeda"/>
<circle cx="413.7" cy="152.3" r="1.42" fill="#fbeeda"/>
<circle cx="481.2" cy="119.3" r="1.42" fill="#fbeeda"/>
<circle cx="483.4" cy="102.8" r="1.42" fill="#fbeeda"/>
<circle cx="470.4" cy="96.2" r="1.42" fill="#fbeeda"/>
<circle cx="532.1" cy="119.6" r="1.42" fill="#fbeeda"/>
<circle cx="434.9" cy="159.5" r="1.42" fill="#fbeeda"/>
<circle cx="412.3" cy="196.2" r="1.42" fill="#fbeeda"/>
<circle cx="428.1" cy="167.3" r="1.42" fill="#fbeeda"/>
<circle cx="403.7" cy="132.2" r="1.42" fill="#fbeeda"/>
<circle cx="567.4" cy="118.9" r="1.42" fill="#fbeeda"/>
<circle cx="394.7" cy="131.3" r="1.42" fill="#fbeeda"/>
<circle cx="463.5" cy="122.3" r="1.42" fill="#fbeeda"/>
<circle cx="374.7" cy="119" r="1.42" fill="#fbeeda"/>
<circle cx="421.9" cy="145.7" r="1.42" fill="#fbeeda"/>
<circle cx="495.3" cy="88.6" r="1.42" fill="#fbeeda"/>
<circle cx="412.7" cy="199.2" r="1.42" fill="#fbeeda"/>
<circle cx="420.1" cy="184.4" r="1.42" fill="#fbeeda"/>
<circle cx="404.2" cy="152.8" r="1.42" fill="#fbeeda"/>
<circle cx="491.9" cy="82.8" r="1.42" fill="#fbeeda"/>
<circle cx="483.5" cy="88.1" r="1.42" fill="#fbeeda"/>
<circle cx="606.1" cy="180.2" r="1.42" fill="#fbeeda"/>
<circle cx="576.9" cy="172.4" r="1.42" fill="#fbeeda"/>
<circle cx="464.9" cy="116.3" r="1.42" fill="#fbeeda"/>
<circle cx="567.4" cy="124" r="1.42" fill="#fbeeda"/>
<circle cx="504" cy="110.2" r="1.42" fill="#fbeeda"/>
<circle cx="578.8" cy="136.5" r="1.42" fill="#fbeeda"/>
<circle cx="399.7" cy="126.3" r="1.42" fill="#fbeeda"/>
<circle cx="569.4" cy="106.1" r="1.42" fill="#fbeeda"/>
<circle cx="565.5" cy="145.2" r="1.42" fill="#fbeeda"/>
<circle cx="600.2" cy="161.1" r="1.42" fill="#fbeeda"/>
<circle cx="510.7" cy="110.5" r="1.42" fill="#fbeeda"/>
<circle cx="554.9" cy="128" r="1.42" fill="#fbeeda"/>
<circle cx="366.4" cy="109.4" r="1.42" fill="#fbeeda"/>
<circle cx="432.6" cy="162.4" r="1.42" fill="#fbeeda"/>
<circle cx="508.8" cy="80.1" r="1.42" fill="#fbeeda"/>
<circle cx="501.5" cy="115.5" r="1.42" fill="#fbeeda"/>
<circle cx="579.6" cy="128.2" r="1.42" fill="#fbeeda"/>
<circle cx="579.2" cy="145.4" r="1.42" fill="#fbeeda"/>
<circle cx="383" cy="105.3" r="1.42" fill="#fbeeda"/>
<circle cx="571.8" cy="123.4" r="1.42" fill="#fbeeda"/>
<circle cx="413.7" cy="161.1" r="1.42" fill="#fbeeda"/>
<circle cx="508.6" cy="106.5" r="1.42" fill="#fbeeda"/>
<circle cx="570.3" cy="121.6" r="1.42" fill="#fbeeda"/>
<circle cx="390.6" cy="103.4" r="1.42" fill="#fbeeda"/>
<circle cx="578" cy="134.6" r="1.42" fill="#fbeeda"/>
<circle cx="396.1" cy="127.6" r="1.42" fill="#fbeeda"/>
<circle cx="562.2" cy="134.2" r="1.42" fill="#fbeeda"/>
<circle cx="569.3" cy="149.2" r="1.42" fill="#fbeeda"/>
<circle cx="374.8" cy="103" r="1.42" fill="#fbeeda"/>
<circle cx="436.5" cy="155.8" r="1.42" fill="#fbeeda"/>
<circle cx="398.6" cy="109.9" r="1.42" fill="#fbeeda"/>
<circle cx="575.6" cy="122.3" r="1.42" fill="#fbeeda"/>
<circle cx="473.2" cy="100" r="1.42" fill="#fbeeda"/>
<circle cx="514.9" cy="125.3" r="1.42" fill="#fbeeda"/>
<circle cx="477.2" cy="102.1" r="1.42" fill="#fbeeda"/>
<circle cx="372.5" cy="107.7" r="1.42" fill="#fbeeda"/>
<circle cx="479.7" cy="125.4" r="1.42" fill="#fbeeda"/>
<circle cx="343.5" cy="86.9" r="1.42" fill="#fbeeda"/>
<circle cx="579.5" cy="115.7" r="1.42" fill="#fbeeda"/>
<circle cx="399.6" cy="134.3" r="1.42" fill="#fbeeda"/>
<circle cx="557.8" cy="125.2" r="1.42" fill="#fbeeda"/>
<circle cx="570" cy="139" r="1.42" fill="#fbeeda"/>
<circle cx="546.8" cy="114.5" r="1.42" fill="#fbeeda"/>
<circle cx="492" cy="77.2" r="1.42" fill="#fbeeda"/>
<circle cx="423.8" cy="175.9" r="1.42" fill="#fbeeda"/>
<circle cx="393.8" cy="129.1" r="1.42" fill="#fbeeda"/>
<circle cx="416.9" cy="123.2" r="1.42" fill="#fbeeda"/>
<circle cx="411.9" cy="196.5" r="1.42" fill="#fbeeda"/>
<circle cx="599.3" cy="167.6" r="1.42" fill="#fbeeda"/>
<circle cx="382.7" cy="121.4" r="1.42" fill="#fbeeda"/>
<circle cx="370.4" cy="107.6" r="1.42" fill="#fbeeda"/>
<circle cx="601.3" cy="170" r="1.42" fill="#fbeeda"/>
<circle cx="492.5" cy="68.3" r="1.42" fill="#fbeeda"/>
<circle cx="423.1" cy="173.1" r="1.42" fill="#fbeeda"/>
<circle cx="559.7" cy="134.6" r="1.42" fill="#fbeeda"/>
<circle cx="510.3" cy="100.6" r="1.42" fill="#fbeeda"/>
<circle cx="494.6" cy="87.5" r="1.42" fill="#fbeeda"/>
<circle cx="407.9" cy="119.4" r="1.42" fill="#fbeeda"/>
<circle cx="374.1" cy="116.1" r="1.42" fill="#fbeeda"/>
<circle cx="580" cy="139" r="1.42" fill="#fbeeda"/>
<circle cx="577.2" cy="120.9" r="1.42" fill="#fbeeda"/>
<circle cx="571.7" cy="125.2" r="1.42" fill="#fbeeda"/>
<circle cx="392.4" cy="135.6" r="1.42" fill="#fbeeda"/>
<circle cx="487.1" cy="111" r="1.42" fill="#fbeeda"/>
<circle cx="549.6" cy="69.8" r="1.42" fill="#fbeeda"/>
<circle cx="439.7" cy="159.2" r="1.42" fill="#fbeeda"/>
<circle cx="480.7" cy="120.3" r="1.42" fill="#fbeeda"/>
<circle cx="582.8" cy="140.9" r="1.42" fill="#fbeeda"/>
<circle cx="480.1" cy="114.5" r="1.42" fill="#fbeeda"/>
<circle cx="568.5" cy="117.8" r="1.42" fill="#fbeeda"/>
<circle cx="512.7" cy="104.5" r="1.42" fill="#fbeeda"/>
<circle cx="537.7" cy="87.3" r="1.42" fill="#fbeeda"/>
<circle cx="428.7" cy="175.1" r="1.42" fill="#fbeeda"/>
<circle cx="581.6" cy="110.4" r="1.42" fill="#fbeeda"/>
<circle cx="553" cy="125.3" r="1.42" fill="#fbeeda"/>
<circle cx="509.1" cy="102.4" r="1.42" fill="#fbeeda"/>
<circle cx="491.7" cy="119.6" r="1.42" fill="#fbeeda"/>
<circle cx="561.8" cy="142.4" r="1.42" fill="#fbeeda"/>
<circle cx="581.1" cy="132.4" r="1.42" fill="#fbeeda"/>
<circle cx="412" cy="115.1" r="1.42" fill="#fbeeda"/>
<circle cx="567.7" cy="116.5" r="1.42" fill="#fbeeda"/>
<circle cx="567.3" cy="145.7" r="1.42" fill="#fbeeda"/>
<circle cx="472.7" cy="111.7" r="1.42" fill="#fbeeda"/>
<circle cx="506.1" cy="117.7" r="1.42" fill="#fbeeda"/>
<circle cx="539.4" cy="116.4" r="1.42" fill="#fbeeda"/>
<circle cx="601" cy="191.9" r="1.42" fill="#fbeeda"/>
<circle cx="474.8" cy="94.7" r="1.42" fill="#fbeeda"/>
<circle cx="547" cy="139.6" r="1.42" fill="#fbeeda"/>
<circle cx="377.3" cy="93.7" r="1.42" fill="#fbeeda"/>
<circle cx="405.4" cy="110.9" r="1.42" fill="#fbeeda"/>
<circle cx="585.5" cy="85.7" r="1.42" fill="#fbeeda"/>
<circle cx="475.6" cy="100.4" r="1.42" fill="#fbeeda"/>
<circle cx="471.1" cy="119.3" r="1.42" fill="#fbeeda"/>
<circle cx="508.2" cy="110.2" r="1.42" fill="#fbeeda"/>
<circle cx="400.1" cy="113" r="1.42" fill="#fbeeda"/>
<circle cx="400.9" cy="134.9" r="1.42" fill="#fbeeda"/>
<circle cx="581.1" cy="140" r="1.42" fill="#fbeeda"/>
<circle cx="511.4" cy="101.8" r="1.42" fill="#fbeeda"/>
<circle cx="574.5" cy="133.9" r="1.42" fill="#fbeeda"/>
<circle cx="489.6" cy="99.9" r="1.42" fill="#fbeeda"/>
<circle cx="509.9" cy="94.8" r="1.42" fill="#fbeeda"/>
<circle cx="574.3" cy="131.2" r="1.42" fill="#fbeeda"/>
<circle cx="394.6" cy="127.6" r="1.42" fill="#fbeeda"/>
<circle cx="581" cy="154.8" r="1.42" fill="#fbeeda"/>
<circle cx="536.5" cy="116.6" r="1.42" fill="#fbeeda"/>
<circle cx="509.5" cy="111.3" r="1.42" fill="#fbeeda"/>
<circle cx="418.4" cy="143.2" r="1.42" fill="#fbeeda"/>
<circle cx="506.5" cy="114.1" r="1.42" fill="#fbeeda"/>
<circle cx="418.1" cy="188.6" r="1.42" fill="#fbeeda"/>
<circle cx="573.8" cy="155" r="1.42" fill="#fbeeda"/>
<circle cx="418.2" cy="182.9" r="1.42" fill="#fbeeda"/>
<circle cx="571.5" cy="116.3" r="1.42" fill="#fbeeda"/>
<circle cx="542.4" cy="112.5" r="1.42" fill="#fbeeda"/>
<circle cx="580.3" cy="136.9" r="1.42" fill="#fbeeda"/>
<circle cx="582.6" cy="145.4" r="1.42" fill="#fbeeda"/>
<circle cx="548.2" cy="118.5" r="1.42" fill="#fbeeda"/>
<circle cx="472.2" cy="112.8" r="1.42" fill="#fbeeda"/>
<circle cx="385.5" cy="131.3" r="1.42" fill="#fbeeda"/>
<circle cx="482.9" cy="120.3" r="1.42" fill="#fbeeda"/>
<circle cx="580.2" cy="127.1" r="1.42" fill="#fbeeda"/>
<circle cx="499.5" cy="127.7" r="1.42" fill="#fbeeda"/>
<circle cx="547.4" cy="123.4" r="1.42" fill="#fbeeda"/>
<circle cx="596.6" cy="117.6" r="1.42" fill="#fbeeda"/>
<circle cx="389.2" cy="125.7" r="1.42" fill="#fbeeda"/>
<circle cx="620.1" cy="195.1" r="1.42" fill="#fbeeda"/>
<circle cx="534.3" cy="116.3" r="1.42" fill="#fbeeda"/>
<circle cx="478.2" cy="102.5" r="1.42" fill="#fbeeda"/>
<circle cx="482.5" cy="118.1" r="1.42" fill="#fbeeda"/>
<circle cx="430.8" cy="174.1" r="1.42" fill="#fbeeda"/>
<circle cx="368.2" cy="115.8" r="1.42" fill="#fbeeda"/>
<circle cx="549.3" cy="116.8" r="1.42" fill="#fbeeda"/>
<circle cx="493.4" cy="111.3" r="1.42" fill="#fbeeda"/>
<circle cx="540.1" cy="117.3" r="1.42" fill="#fbeeda"/>
<circle cx="589.3" cy="173.2" r="1.42" fill="#fbeeda"/>
<circle cx="426.1" cy="177.1" r="1.42" fill="#fbeeda"/>
<circle cx="384" cy="110.6" r="1.42" fill="#fbeeda"/>
<circle cx="534.3" cy="127" r="1.42" fill="#fbeeda"/>
<circle cx="497.7" cy="94.3" r="1.42" fill="#fbeeda"/>
<circle cx="482.8" cy="84.8" r="1.42" fill="#fbeeda"/>
<circle cx="566.9" cy="117.5" r="1.42" fill="#fbeeda"/>
<circle cx="427.6" cy="162.7" r="1.42" fill="#fbeeda"/>
<circle cx="502.1" cy="96.5" r="1.42" fill="#fbeeda"/>
<circle cx="574.9" cy="120.3" r="1.42" fill="#fbeeda"/>
<circle cx="540.8" cy="116.3" r="1.42" fill="#fbeeda"/>
<circle cx="393.7" cy="116.3" r="1.42" fill="#fbeeda"/>
<circle cx="382.9" cy="111.4" r="1.42" fill="#fbeeda"/>
<circle cx="468.6" cy="96.5" r="1.42" fill="#fbeeda"/>
<circle cx="573.3" cy="143.2" r="1.42" fill="#fbeeda"/>
<circle cx="570.1" cy="117.6" r="1.42" fill="#fbeeda"/>
<circle cx="574" cy="134.9" r="1.42" fill="#fbeeda"/>
<circle cx="562.1" cy="123.9" r="1.42" fill="#fbeeda"/>
<circle cx="489.1" cy="120.9" r="1.42" fill="#fbeeda"/>
<circle cx="558" cy="144.8" r="1.42" fill="#fbeeda"/>
<circle cx="568.1" cy="141.3" r="1.42" fill="#fbeeda"/>
<circle cx="502.2" cy="120.4" r="1.42" fill="#fbeeda"/>
<circle cx="542.7" cy="118.1" r="1.42" fill="#fbeeda"/>
<circle cx="553.6" cy="95.5" r="1.42" fill="#fbeeda"/>
<circle cx="551.4" cy="121.7" r="1.42" fill="#fbeeda"/>
<circle cx="495.1" cy="98" r="1.42" fill="#fbeeda"/>
<circle cx="415.4" cy="190.7" r="1.42" fill="#fbeeda"/>
<circle cx="397.9" cy="135.8" r="1.42" fill="#fbeeda"/>
<circle cx="378.8" cy="100.2" r="1.42" fill="#fbeeda"/>
<circle cx="556.7" cy="130.6" r="1.42" fill="#fbeeda"/>
<circle cx="413.1" cy="189.4" r="1.42" fill="#fbeeda"/>
<circle cx="582.4" cy="126.7" r="1.42" fill="#fbeeda"/>
<circle cx="480.2" cy="110.8" r="1.42" fill="#fbeeda"/>
<circle cx="470.7" cy="110.5" r="1.42" fill="#fbeeda"/>
<circle cx="539.4" cy="77.6" r="1.42" fill="#fbeeda"/>
<circle cx="474" cy="108.9" r="1.42" fill="#fbeeda"/>
<circle cx="485.5" cy="129.5" r="1.42" fill="#fbeeda"/>
<circle cx="489.9" cy="118.5" r="1.42" fill="#fbeeda"/>
<circle cx="579.4" cy="118" r="1.42" fill="#fbeeda"/>
<circle cx="578.5" cy="112" r="1.42" fill="#fbeeda"/>
<circle cx="563.6" cy="140" r="1.42" fill="#fbeeda"/>
<circle cx="404.5" cy="129.7" r="1.42" fill="#fbeeda"/>
<circle cx="503.8" cy="124.7" r="1.42" fill="#fbeeda"/>
<circle cx="409.3" cy="141.3" r="1.42" fill="#fbeeda"/>
<circle cx="368.8" cy="116.9" r="1.42" fill="#fbeeda"/>
<circle cx="512.3" cy="125.1" r="1.42" fill="#fbeeda"/>
<circle cx="518.3" cy="106.4" r="1.42" fill="#fbeeda"/>
<circle cx="472.7" cy="105.4" r="1.42" fill="#fbeeda"/>
<circle cx="493.5" cy="109.2" r="1.42" fill="#fbeeda"/>
<circle cx="580.4" cy="116.4" r="1.42" fill="#fbeeda"/>
<circle cx="503.4" cy="96.6" r="1.42" fill="#fbeeda"/>
<circle cx="394.7" cy="107.7" r="1.42" fill="#fbeeda"/>
<circle cx="475.5" cy="97.7" r="1.42" fill="#fbeeda"/>
<circle cx="490.1" cy="106.2" r="1.42" fill="#fbeeda"/>
<circle cx="402" cy="134.2" r="1.42" fill="#fbeeda"/>
<circle cx="495.4" cy="112.4" r="1.42" fill="#fbeeda"/>
<circle cx="478" cy="94.2" r="1.42" fill="#fbeeda"/>
<circle cx="486" cy="86.4" r="1.42" fill="#fbeeda"/>
<circle cx="401.3" cy="129.7" r="1.42" fill="#fbeeda"/>
<circle cx="431" cy="168.6" r="1.42" fill="#fbeeda"/>
<circle cx="473.1" cy="103.6" r="1.6" fill="#f6c8a6"/>
<circle cx="453.6" cy="138.4" r="1.6" fill="#f6c8a6"/>
<circle cx="539" cy="120.8" r="1.6" fill="#f6c8a6"/>
<circle cx="464.5" cy="147" r="1.6" fill="#f6c8a6"/>
<circle cx="480.8" cy="153.8" r="1.6" fill="#f6c8a6"/>
<circle cx="498.9" cy="120.2" r="1.6" fill="#f6c8a6"/>
<circle cx="477.3" cy="143.6" r="1.6" fill="#f6c8a6"/>
<circle cx="456.4" cy="143.6" r="1.6" fill="#ee9468"/>
<circle cx="512.3" cy="139.5" r="1.6" fill="#ee9468"/>
<circle cx="506.5" cy="156.5" r="1.6" fill="#ee9468"/>
<circle cx="470.3" cy="101.6" r="1.6" fill="#ee9468"/>
<circle cx="496" cy="174.2" r="1.6" fill="#ee9468"/>
<circle cx="485.5" cy="156.5" r="1.6" fill="#ee9468"/>
<circle cx="483.2" cy="151.5" r="1.6" fill="#ee9468"/>
<circle cx="506.6" cy="119.1" r="1.6" fill="#ee9468"/>
<circle cx="503.2" cy="123.4" r="1.6" fill="#ee9468"/>
<circle cx="485.5" cy="121.7" r="1.6" fill="#ee9468"/>
<circle cx="501.8" cy="148.8" r="1.6" fill="#ee9468"/>
<circle cx="519.3" cy="130.6" r="1.6" fill="#ee9468"/>
<circle cx="475" cy="91.4" r="1.6" fill="#ee9468"/>
<circle cx="485" cy="160.1" r="1.6" fill="#d63e2a" stroke="none"/>
<circle cx="500.6" cy="175.3" r="1.6" fill="#d63e2a" stroke="none"/>
<circle cx="472.2" cy="142.4" r="1.6" fill="#d63e2a" stroke="none"/>
<circle cx="498.3" cy="178.7" r="1.6" fill="#d63e2a" stroke="none"/>
<circle cx="507.6" cy="158.3" r="1.6" fill="#d63e2a" stroke="none"/>
<circle cx="507.1" cy="145.4" r="1.6" fill="#d63e2a" stroke="none"/>
<circle cx="458.7" cy="140.6" r="1.6" fill="#d63e2a" stroke="none"/>
<circle cx="470.3" cy="148.1" r="1.6" fill="#d63e2a" stroke="none"/>
<circle cx="482" cy="149.2" r="1.6" fill="#d63e2a" stroke="none"/>
<circle cx="496.4" cy="168.5" r="1.6" fill="#ad1313" stroke="none"/>
<circle cx="490.1" cy="182.8" r="1.6" fill="#ad1313" stroke="none"/>
<circle cx="494.8" cy="182.8" r="1.6" fill="#ad1313" stroke="none"/>
<circle cx="492.5" cy="182.8" r="1.6" fill="#ad1313" stroke="none"/>
<circle cx="499.5" cy="168.5" r="1.6" fill="#ad1313" stroke="none"/>
<circle cx="501.8" cy="139" r="1.6" fill="#ad1313" stroke="none"/>
<circle cx="476.2" cy="147.4" r="1.6" fill="#ad1313" stroke="none"/>
<circle cx="514.6" cy="168.5" r="1.6" fill="#ad1313" stroke="none"/>
<circle cx="498.3" cy="166.3" r="1.6" fill="#ad1313" stroke="none"/>
<circle cx="497.1" cy="182.1" r="1.6" fill="#ad1313" stroke="none"/>
<circle cx="466.8" cy="142" r="1.6" fill="#ad1313" stroke="none"/>
<circle cx="521.6" cy="156.5" r="1.6" fill="#ad1313" stroke="none"/>
<circle cx="523.9" cy="169.7" r="1.6" fill="#ad1313" stroke="none"/>
<circle cx="521.6" cy="170.1" r="1.6" fill="#ad1313" stroke="none"/>
<circle cx="489" cy="171.9" r="1.6" fill="#ad1313" stroke="none"/>
<circle cx="507.1" cy="139.5" r="1.6" fill="#ad1313" stroke="none"/>
</g></g>
</svg>
</body></html>
